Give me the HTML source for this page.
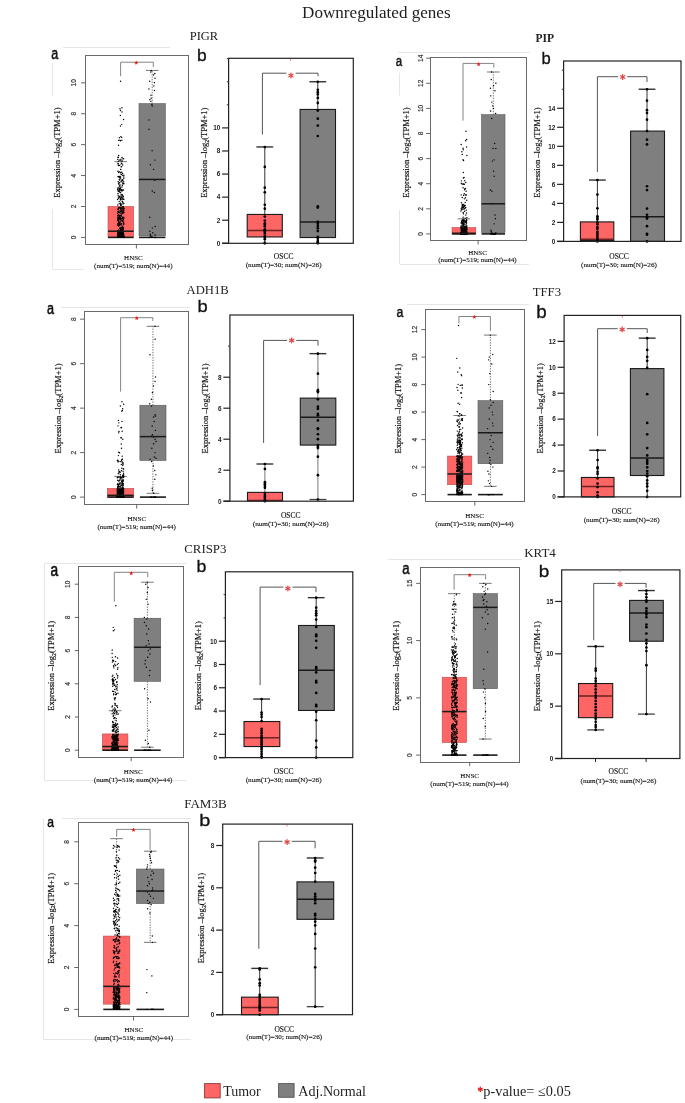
<!DOCTYPE html>
<html><head><meta charset="utf-8"><style>
html,body{margin:0;padding:0;background:#fff;}
svg{display:block;will-change:transform;}
</style></head><body>
<svg width="685" height="1103" viewBox="0 0 685 1103">
<rect width="685" height="1103" fill="#fff"/>
<line x1="63" y1="47.5" x2="170" y2="47.5" stroke="#e6e6e6" stroke-width="1" />
<line x1="52.5" y1="62.8" x2="52.5" y2="96" stroke="#e6e6e6" stroke-width="1" />
<line x1="52.5" y1="209.3" x2="52.5" y2="269.4" stroke="#e6e6e6" stroke-width="1" />
<line x1="52.6" y1="269.5" x2="83.8" y2="269.5" stroke="#e6e6e6" stroke-width="1" />
<line x1="120.8" y1="206.48" x2="120.8" y2="161.65" stroke="#333" stroke-width="0.7" stroke-dasharray="1.3 1.3"/>
<line x1="120.8" y1="237.4" x2="120.8" y2="237.4" stroke="#333" stroke-width="0.7" stroke-dasharray="1.3 1.3"/>
<line x1="114.5" y1="161.65" x2="127.1" y2="161.65" stroke="#666" stroke-width="0.9" />
<rect x="108" y="206.48" width="25.6" height="30.92" fill="#FE6565" stroke="#C04848" stroke-width="0.6"/>
<line x1="108" y1="237.4" x2="133.6" y2="237.4" stroke="#1a1a1a" stroke-width="1.6" />
<circle cx="119.67" cy="232.58" r="0.72" fill="#000"/>
<circle cx="118.57" cy="225.3" r="0.72" fill="#000"/>
<circle cx="121.77" cy="172.18" r="0.72" fill="#000"/>
<circle cx="118.06" cy="232.2" r="0.72" fill="#000"/>
<circle cx="121.03" cy="230.44" r="0.72" fill="#000"/>
<circle cx="119.94" cy="222.57" r="0.72" fill="#000"/>
<circle cx="117.97" cy="237.11" r="0.72" fill="#000"/>
<circle cx="120.85" cy="230.04" r="0.72" fill="#000"/>
<circle cx="117.84" cy="218.36" r="0.72" fill="#000"/>
<circle cx="120.38" cy="198.95" r="0.72" fill="#000"/>
<circle cx="118.05" cy="237.25" r="0.72" fill="#000"/>
<circle cx="118.18" cy="236.84" r="0.72" fill="#000"/>
<circle cx="120.32" cy="237.26" r="0.72" fill="#000"/>
<circle cx="122.89" cy="196.03" r="0.72" fill="#000"/>
<circle cx="118.39" cy="212.08" r="0.72" fill="#000"/>
<circle cx="119.03" cy="237.34" r="0.72" fill="#000"/>
<circle cx="121.62" cy="137.4" r="0.72" fill="#000"/>
<circle cx="123.67" cy="158.74" r="0.72" fill="#000"/>
<circle cx="121.29" cy="215.99" r="0.72" fill="#000"/>
<circle cx="120.14" cy="219.78" r="0.72" fill="#000"/>
<circle cx="123.85" cy="237.16" r="0.72" fill="#000"/>
<circle cx="117.9" cy="237.38" r="0.72" fill="#000"/>
<circle cx="123.09" cy="228.41" r="0.72" fill="#000"/>
<circle cx="119.45" cy="237.31" r="0.72" fill="#000"/>
<circle cx="118.52" cy="237.11" r="0.72" fill="#000"/>
<circle cx="118.35" cy="237.03" r="0.72" fill="#000"/>
<circle cx="119.57" cy="237.35" r="0.72" fill="#000"/>
<circle cx="122.82" cy="232.25" r="0.72" fill="#000"/>
<circle cx="118.76" cy="232.92" r="0.72" fill="#000"/>
<circle cx="121.32" cy="190.29" r="0.72" fill="#000"/>
<circle cx="121.69" cy="229.32" r="0.72" fill="#000"/>
<circle cx="119.98" cy="217.33" r="0.72" fill="#000"/>
<circle cx="121.11" cy="231.22" r="0.72" fill="#000"/>
<circle cx="118" cy="215.14" r="0.72" fill="#000"/>
<circle cx="117.98" cy="232.44" r="0.72" fill="#000"/>
<circle cx="118.92" cy="236.97" r="0.72" fill="#000"/>
<circle cx="121.95" cy="111.88" r="0.72" fill="#000"/>
<circle cx="120.34" cy="115.53" r="0.72" fill="#000"/>
<circle cx="119.61" cy="190.67" r="0.72" fill="#000"/>
<circle cx="121.35" cy="210.65" r="0.72" fill="#000"/>
<circle cx="120.5" cy="236.5" r="0.72" fill="#000"/>
<circle cx="119.52" cy="237.04" r="0.72" fill="#000"/>
<circle cx="122.68" cy="236.95" r="0.72" fill="#000"/>
<circle cx="122.07" cy="237.29" r="0.72" fill="#000"/>
<circle cx="119.16" cy="203.63" r="0.72" fill="#000"/>
<circle cx="121.28" cy="234.06" r="0.72" fill="#000"/>
<circle cx="120.96" cy="189.56" r="0.72" fill="#000"/>
<circle cx="123.2" cy="234.46" r="0.72" fill="#000"/>
<circle cx="122.27" cy="160.97" r="0.72" fill="#000"/>
<circle cx="119.44" cy="189.43" r="0.72" fill="#000"/>
<circle cx="123.87" cy="237.4" r="0.72" fill="#000"/>
<circle cx="118.36" cy="237.08" r="0.72" fill="#000"/>
<circle cx="120.28" cy="176.8" r="0.72" fill="#000"/>
<circle cx="122.45" cy="232.07" r="0.72" fill="#000"/>
<circle cx="118.57" cy="140.35" r="0.72" fill="#000"/>
<circle cx="120.73" cy="234.15" r="0.72" fill="#000"/>
<circle cx="117.85" cy="237.29" r="0.72" fill="#000"/>
<circle cx="121.88" cy="218.41" r="0.72" fill="#000"/>
<circle cx="122.49" cy="201.48" r="0.72" fill="#000"/>
<circle cx="121.27" cy="236.98" r="0.72" fill="#000"/>
<circle cx="123.2" cy="237.27" r="0.72" fill="#000"/>
<circle cx="119.61" cy="236" r="0.72" fill="#000"/>
<circle cx="122.05" cy="158.97" r="0.72" fill="#000"/>
<circle cx="121.4" cy="205.07" r="0.72" fill="#000"/>
<circle cx="121.31" cy="237.22" r="0.72" fill="#000"/>
<circle cx="120.52" cy="237.02" r="0.72" fill="#000"/>
<circle cx="122.98" cy="237.24" r="0.72" fill="#000"/>
<circle cx="123.65" cy="237.31" r="0.72" fill="#000"/>
<circle cx="120.63" cy="198.24" r="0.72" fill="#000"/>
<circle cx="121.85" cy="237.13" r="0.72" fill="#000"/>
<circle cx="117.99" cy="225.35" r="0.72" fill="#000"/>
<circle cx="122.09" cy="232.72" r="0.72" fill="#000"/>
<circle cx="121.74" cy="237.11" r="0.72" fill="#000"/>
<circle cx="123.96" cy="208.27" r="0.72" fill="#000"/>
<circle cx="122.86" cy="237.2" r="0.72" fill="#000"/>
<circle cx="119.42" cy="217" r="0.72" fill="#000"/>
<circle cx="120.07" cy="237.22" r="0.72" fill="#000"/>
<circle cx="121.88" cy="233.48" r="0.72" fill="#000"/>
<circle cx="117.74" cy="237.07" r="0.72" fill="#000"/>
<circle cx="120.55" cy="236.98" r="0.72" fill="#000"/>
<circle cx="118.68" cy="155.51" r="0.72" fill="#000"/>
<circle cx="118.35" cy="197.12" r="0.72" fill="#000"/>
<circle cx="117.98" cy="236.82" r="0.72" fill="#000"/>
<circle cx="122.52" cy="182.85" r="0.72" fill="#000"/>
<circle cx="118.43" cy="237.07" r="0.72" fill="#000"/>
<circle cx="119.18" cy="234.24" r="0.72" fill="#000"/>
<circle cx="120.1" cy="188.19" r="0.72" fill="#000"/>
<circle cx="123.18" cy="217.18" r="0.72" fill="#000"/>
<circle cx="118.12" cy="237.24" r="0.72" fill="#000"/>
<circle cx="120.47" cy="125.97" r="0.72" fill="#000"/>
<circle cx="121.12" cy="237.07" r="0.72" fill="#000"/>
<circle cx="123.25" cy="237" r="0.72" fill="#000"/>
<circle cx="122.84" cy="202.5" r="0.72" fill="#000"/>
<circle cx="123.13" cy="236.11" r="0.72" fill="#000"/>
<circle cx="119.38" cy="236.94" r="0.72" fill="#000"/>
<circle cx="120.26" cy="237.29" r="0.72" fill="#000"/>
<circle cx="119.9" cy="237.26" r="0.72" fill="#000"/>
<circle cx="123.26" cy="223.03" r="0.72" fill="#000"/>
<circle cx="123.73" cy="237.02" r="0.72" fill="#000"/>
<circle cx="118.57" cy="221.19" r="0.72" fill="#000"/>
<circle cx="118.73" cy="234.89" r="0.72" fill="#000"/>
<circle cx="119.08" cy="232.55" r="0.72" fill="#000"/>
<circle cx="119.09" cy="160.61" r="0.72" fill="#000"/>
<circle cx="120.7" cy="231.68" r="0.72" fill="#000"/>
<circle cx="121.37" cy="223.84" r="0.72" fill="#000"/>
<circle cx="119.28" cy="186.06" r="0.72" fill="#000"/>
<circle cx="117.63" cy="237.12" r="0.72" fill="#000"/>
<circle cx="120.28" cy="237.16" r="0.72" fill="#000"/>
<circle cx="119.96" cy="177.41" r="0.72" fill="#000"/>
<circle cx="121.22" cy="194.6" r="0.72" fill="#000"/>
<circle cx="123.7" cy="237.01" r="0.72" fill="#000"/>
<circle cx="122.02" cy="237.11" r="0.72" fill="#000"/>
<circle cx="120.9" cy="207.53" r="0.72" fill="#000"/>
<circle cx="121.55" cy="166.81" r="0.72" fill="#000"/>
<circle cx="121.93" cy="237.1" r="0.72" fill="#000"/>
<circle cx="117.95" cy="163.59" r="0.72" fill="#000"/>
<circle cx="123.36" cy="183.32" r="0.72" fill="#000"/>
<circle cx="122.59" cy="220.97" r="0.72" fill="#000"/>
<circle cx="123.2" cy="233.46" r="0.72" fill="#000"/>
<circle cx="122.71" cy="237.24" r="0.72" fill="#000"/>
<circle cx="120.11" cy="237.34" r="0.72" fill="#000"/>
<circle cx="120.15" cy="159.43" r="0.72" fill="#000"/>
<circle cx="118.26" cy="237.03" r="0.72" fill="#000"/>
<circle cx="121.66" cy="210.97" r="0.72" fill="#000"/>
<circle cx="118" cy="237" r="0.72" fill="#000"/>
<circle cx="118.03" cy="193.56" r="0.72" fill="#000"/>
<circle cx="118.94" cy="221.67" r="0.72" fill="#000"/>
<circle cx="118.64" cy="236.95" r="0.72" fill="#000"/>
<circle cx="119.78" cy="237.13" r="0.72" fill="#000"/>
<circle cx="117.94" cy="209.41" r="0.72" fill="#000"/>
<circle cx="117.6" cy="237.29" r="0.72" fill="#000"/>
<circle cx="118.57" cy="237.05" r="0.72" fill="#000"/>
<circle cx="118.25" cy="225.34" r="0.72" fill="#000"/>
<circle cx="119.93" cy="188.54" r="0.72" fill="#000"/>
<circle cx="117.76" cy="219.91" r="0.72" fill="#000"/>
<circle cx="123.2" cy="236.97" r="0.72" fill="#000"/>
<circle cx="121.53" cy="174.45" r="0.72" fill="#000"/>
<circle cx="118.55" cy="237.08" r="0.72" fill="#000"/>
<circle cx="119.21" cy="237.37" r="0.72" fill="#000"/>
<circle cx="119.82" cy="236.98" r="0.72" fill="#000"/>
<circle cx="119.93" cy="232.77" r="0.72" fill="#000"/>
<circle cx="118.39" cy="237.31" r="0.72" fill="#000"/>
<circle cx="123.03" cy="237.13" r="0.72" fill="#000"/>
<circle cx="123.96" cy="234.97" r="0.72" fill="#000"/>
<circle cx="120.58" cy="224.08" r="0.72" fill="#000"/>
<circle cx="120.7" cy="237.2" r="0.72" fill="#000"/>
<circle cx="118.15" cy="235.16" r="0.72" fill="#000"/>
<circle cx="118.25" cy="181.79" r="0.72" fill="#000"/>
<circle cx="119.79" cy="140.14" r="0.72" fill="#000"/>
<circle cx="119.29" cy="215.69" r="0.72" fill="#000"/>
<circle cx="122.9" cy="212.3" r="0.72" fill="#000"/>
<circle cx="118.63" cy="222.86" r="0.72" fill="#000"/>
<circle cx="117.75" cy="237.18" r="0.72" fill="#000"/>
<circle cx="123.69" cy="237.35" r="0.72" fill="#000"/>
<circle cx="120.98" cy="237.37" r="0.72" fill="#000"/>
<circle cx="118.54" cy="176.81" r="0.72" fill="#000"/>
<circle cx="121.08" cy="211.33" r="0.72" fill="#000"/>
<circle cx="117.77" cy="159.4" r="0.72" fill="#000"/>
<circle cx="120.98" cy="237.37" r="0.72" fill="#000"/>
<circle cx="123.86" cy="217.74" r="0.72" fill="#000"/>
<circle cx="123.13" cy="231.72" r="0.72" fill="#000"/>
<circle cx="122.06" cy="208.41" r="0.72" fill="#000"/>
<circle cx="119.27" cy="236.4" r="0.72" fill="#000"/>
<circle cx="119.95" cy="108.73" r="0.72" fill="#000"/>
<circle cx="118.67" cy="237.28" r="0.72" fill="#000"/>
<circle cx="122.54" cy="226.66" r="0.72" fill="#000"/>
<circle cx="121.01" cy="207.77" r="0.72" fill="#000"/>
<circle cx="122.59" cy="180.13" r="0.72" fill="#000"/>
<circle cx="119.71" cy="207.76" r="0.72" fill="#000"/>
<circle cx="119.03" cy="211.06" r="0.72" fill="#000"/>
<circle cx="122.79" cy="198.9" r="0.72" fill="#000"/>
<circle cx="123.9" cy="175.23" r="0.72" fill="#000"/>
<circle cx="123.06" cy="235.45" r="0.72" fill="#000"/>
<circle cx="122.76" cy="212.9" r="0.72" fill="#000"/>
<circle cx="122.84" cy="179.92" r="0.72" fill="#000"/>
<circle cx="122.34" cy="185.26" r="0.72" fill="#000"/>
<circle cx="119.05" cy="233.59" r="0.72" fill="#000"/>
<circle cx="120.91" cy="199.38" r="0.72" fill="#000"/>
<circle cx="119.88" cy="186.6" r="0.72" fill="#000"/>
<circle cx="117.79" cy="224.01" r="0.72" fill="#000"/>
<circle cx="117.78" cy="218.85" r="0.72" fill="#000"/>
<circle cx="119.39" cy="234.58" r="0.72" fill="#000"/>
<circle cx="119.26" cy="223.04" r="0.72" fill="#000"/>
<circle cx="122.03" cy="220.44" r="0.72" fill="#000"/>
<circle cx="123.72" cy="237.28" r="0.72" fill="#000"/>
<circle cx="120.46" cy="217.42" r="0.72" fill="#000"/>
<circle cx="123.6" cy="119.51" r="0.72" fill="#000"/>
<circle cx="123.92" cy="183.74" r="0.72" fill="#000"/>
<circle cx="123.71" cy="208.64" r="0.72" fill="#000"/>
<circle cx="119.93" cy="234.41" r="0.72" fill="#000"/>
<circle cx="119.01" cy="207.96" r="0.72" fill="#000"/>
<circle cx="119.05" cy="223.21" r="0.72" fill="#000"/>
<circle cx="118.86" cy="232.92" r="0.72" fill="#000"/>
<circle cx="118.91" cy="191" r="0.72" fill="#000"/>
<circle cx="121.59" cy="237.27" r="0.72" fill="#000"/>
<circle cx="123.36" cy="206.44" r="0.72" fill="#000"/>
<circle cx="122.98" cy="237.35" r="0.72" fill="#000"/>
<circle cx="120.67" cy="221.19" r="0.72" fill="#000"/>
<circle cx="121.78" cy="231.76" r="0.72" fill="#000"/>
<circle cx="122.72" cy="237.04" r="0.72" fill="#000"/>
<circle cx="118.14" cy="211.59" r="0.72" fill="#000"/>
<circle cx="121.83" cy="231.29" r="0.72" fill="#000"/>
<circle cx="123.42" cy="219.89" r="0.72" fill="#000"/>
<circle cx="122.61" cy="173.42" r="0.72" fill="#000"/>
<circle cx="122.4" cy="237" r="0.72" fill="#000"/>
<circle cx="120.66" cy="237.38" r="0.72" fill="#000"/>
<circle cx="118.74" cy="236.91" r="0.72" fill="#000"/>
<circle cx="122.65" cy="213.59" r="0.72" fill="#000"/>
<circle cx="119.73" cy="237.09" r="0.72" fill="#000"/>
<circle cx="122.73" cy="237.14" r="0.72" fill="#000"/>
<circle cx="123.82" cy="178.3" r="0.72" fill="#000"/>
<circle cx="120.13" cy="215.39" r="0.72" fill="#000"/>
<circle cx="120.17" cy="232.88" r="0.72" fill="#000"/>
<circle cx="123.66" cy="181.65" r="0.72" fill="#000"/>
<circle cx="122.24" cy="236.17" r="0.72" fill="#000"/>
<circle cx="118.69" cy="214.8" r="0.72" fill="#000"/>
<circle cx="118.41" cy="237.09" r="0.72" fill="#000"/>
<circle cx="118.57" cy="233.19" r="0.72" fill="#000"/>
<circle cx="123.39" cy="196.67" r="0.72" fill="#000"/>
<circle cx="122.76" cy="175.49" r="0.72" fill="#000"/>
<circle cx="118.54" cy="183.66" r="0.72" fill="#000"/>
<circle cx="122.89" cy="234.52" r="0.72" fill="#000"/>
<circle cx="123.87" cy="222.99" r="0.72" fill="#000"/>
<circle cx="121.81" cy="236.46" r="0.72" fill="#000"/>
<circle cx="119.84" cy="237.19" r="0.72" fill="#000"/>
<circle cx="121.11" cy="231.32" r="0.72" fill="#000"/>
<circle cx="118.44" cy="191.22" r="0.72" fill="#000"/>
<circle cx="117.69" cy="189.18" r="0.72" fill="#000"/>
<circle cx="123.81" cy="210.32" r="0.72" fill="#000"/>
<circle cx="121.76" cy="163.63" r="0.72" fill="#000"/>
<circle cx="120.97" cy="236.97" r="0.72" fill="#000"/>
<circle cx="123.58" cy="237.14" r="0.72" fill="#000"/>
<circle cx="120.38" cy="232.63" r="0.72" fill="#000"/>
<circle cx="123.18" cy="236.97" r="0.72" fill="#000"/>
<circle cx="122.89" cy="237.07" r="0.72" fill="#000"/>
<circle cx="118.95" cy="233.68" r="0.72" fill="#000"/>
<circle cx="119.21" cy="218.78" r="0.72" fill="#000"/>
<circle cx="119.47" cy="231.39" r="0.72" fill="#000"/>
<circle cx="119.14" cy="236.5" r="0.72" fill="#000"/>
<circle cx="121.35" cy="190.87" r="0.72" fill="#000"/>
<circle cx="119.26" cy="137.66" r="0.72" fill="#000"/>
<circle cx="120.28" cy="232.58" r="0.72" fill="#000"/>
<circle cx="118.44" cy="237.28" r="0.72" fill="#000"/>
<circle cx="123.42" cy="237.35" r="0.72" fill="#000"/>
<circle cx="119.86" cy="184.96" r="0.72" fill="#000"/>
<circle cx="120.53" cy="237.34" r="0.72" fill="#000"/>
<circle cx="121.33" cy="210.57" r="0.72" fill="#000"/>
<circle cx="123.39" cy="224.23" r="0.72" fill="#000"/>
<circle cx="120.29" cy="236.68" r="0.72" fill="#000"/>
<circle cx="123.47" cy="199.21" r="0.72" fill="#000"/>
<circle cx="120.81" cy="237.37" r="0.72" fill="#000"/>
<circle cx="121" cy="237.19" r="0.72" fill="#000"/>
<circle cx="120.95" cy="232.51" r="0.72" fill="#000"/>
<circle cx="117.72" cy="237.36" r="0.72" fill="#000"/>
<circle cx="120.42" cy="192.52" r="0.72" fill="#000"/>
<circle cx="118.77" cy="237.03" r="0.72" fill="#000"/>
<circle cx="117.63" cy="237.18" r="0.72" fill="#000"/>
<circle cx="122.71" cy="237.33" r="0.72" fill="#000"/>
<circle cx="118.7" cy="218.43" r="0.72" fill="#000"/>
<circle cx="120.63" cy="232.75" r="0.72" fill="#000"/>
<circle cx="122.24" cy="218.36" r="0.72" fill="#000"/>
<circle cx="121.16" cy="215.88" r="0.72" fill="#000"/>
<circle cx="119.69" cy="196.43" r="0.72" fill="#000"/>
<circle cx="120.92" cy="160.83" r="0.72" fill="#000"/>
<circle cx="121.15" cy="212.96" r="0.72" fill="#000"/>
<circle cx="122.62" cy="237.09" r="0.72" fill="#000"/>
<circle cx="118.28" cy="231.93" r="0.72" fill="#000"/>
<circle cx="121.19" cy="237.12" r="0.72" fill="#000"/>
<circle cx="119.19" cy="237.38" r="0.72" fill="#000"/>
<circle cx="119.37" cy="232.01" r="0.72" fill="#000"/>
<circle cx="122.54" cy="210.03" r="0.72" fill="#000"/>
<circle cx="120.85" cy="237.12" r="0.72" fill="#000"/>
<circle cx="121.2" cy="236.98" r="0.72" fill="#000"/>
<circle cx="122.46" cy="235.63" r="0.72" fill="#000"/>
<circle cx="123.44" cy="211.69" r="0.72" fill="#000"/>
<circle cx="120.44" cy="229.2" r="0.72" fill="#000"/>
<circle cx="121.52" cy="219.89" r="0.72" fill="#000"/>
<circle cx="120.84" cy="205.39" r="0.72" fill="#000"/>
<circle cx="120.88" cy="234.26" r="0.72" fill="#000"/>
<circle cx="122.03" cy="199.13" r="0.72" fill="#000"/>
<circle cx="120.5" cy="178.13" r="0.72" fill="#000"/>
<circle cx="121.01" cy="237.27" r="0.72" fill="#000"/>
<circle cx="120.66" cy="169.4" r="0.72" fill="#000"/>
<circle cx="123.63" cy="209.21" r="0.72" fill="#000"/>
<circle cx="122.07" cy="237.2" r="0.72" fill="#000"/>
<circle cx="123.21" cy="232.54" r="0.72" fill="#000"/>
<circle cx="123.63" cy="218.79" r="0.72" fill="#000"/>
<circle cx="119.26" cy="176.9" r="0.72" fill="#000"/>
<circle cx="121.18" cy="234.74" r="0.72" fill="#000"/>
<circle cx="123.64" cy="224.41" r="0.72" fill="#000"/>
<circle cx="122.98" cy="183.82" r="0.72" fill="#000"/>
<circle cx="118.48" cy="198.29" r="0.72" fill="#000"/>
<circle cx="118.38" cy="165.54" r="0.72" fill="#000"/>
<circle cx="120.43" cy="232.25" r="0.72" fill="#000"/>
<circle cx="118.06" cy="216.24" r="0.72" fill="#000"/>
<circle cx="119.14" cy="237.08" r="0.72" fill="#000"/>
<circle cx="118.07" cy="209.26" r="0.72" fill="#000"/>
<circle cx="121.88" cy="194.5" r="0.72" fill="#000"/>
<circle cx="122.62" cy="217.2" r="0.72" fill="#000"/>
<circle cx="123.34" cy="209.68" r="0.72" fill="#000"/>
<circle cx="118.59" cy="237.07" r="0.72" fill="#000"/>
<circle cx="122.18" cy="180.2" r="0.72" fill="#000"/>
<circle cx="121.83" cy="140.14" r="0.72" fill="#000"/>
<circle cx="118.52" cy="145.18" r="0.72" fill="#000"/>
<circle cx="123.25" cy="227.56" r="0.72" fill="#000"/>
<circle cx="123.79" cy="199.33" r="0.72" fill="#000"/>
<circle cx="119.01" cy="236.35" r="0.72" fill="#000"/>
<circle cx="123.7" cy="176.89" r="0.72" fill="#000"/>
<circle cx="120.15" cy="187.95" r="0.72" fill="#000"/>
<circle cx="120.72" cy="235.55" r="0.72" fill="#000"/>
<circle cx="123.94" cy="237.27" r="0.72" fill="#000"/>
<circle cx="122.93" cy="232.91" r="0.72" fill="#000"/>
<circle cx="118.63" cy="226.24" r="0.72" fill="#000"/>
<circle cx="120.36" cy="203.29" r="0.72" fill="#000"/>
<circle cx="120.9" cy="231.58" r="0.72" fill="#000"/>
<circle cx="119.77" cy="237.36" r="0.72" fill="#000"/>
<circle cx="118.85" cy="196.12" r="0.72" fill="#000"/>
<circle cx="119.64" cy="237.3" r="0.72" fill="#000"/>
<circle cx="122.22" cy="197.74" r="0.72" fill="#000"/>
<circle cx="117.72" cy="237.13" r="0.72" fill="#000"/>
<circle cx="121.15" cy="235.94" r="0.72" fill="#000"/>
<circle cx="120.42" cy="199.84" r="0.72" fill="#000"/>
<circle cx="117.72" cy="237.18" r="0.72" fill="#000"/>
<circle cx="119.72" cy="237.17" r="0.72" fill="#000"/>
<circle cx="121.59" cy="229.58" r="0.72" fill="#000"/>
<circle cx="120.88" cy="209.1" r="0.72" fill="#000"/>
<circle cx="118.01" cy="190.71" r="0.72" fill="#000"/>
<circle cx="123.9" cy="212.48" r="0.72" fill="#000"/>
<circle cx="122.65" cy="165.04" r="0.72" fill="#000"/>
<circle cx="123.82" cy="231.43" r="0.72" fill="#000"/>
<circle cx="118.27" cy="163.91" r="0.72" fill="#000"/>
<circle cx="119.3" cy="237.27" r="0.72" fill="#000"/>
<circle cx="117.85" cy="237.06" r="0.72" fill="#000"/>
<circle cx="122.59" cy="228.58" r="0.72" fill="#000"/>
<circle cx="119.33" cy="236.95" r="0.72" fill="#000"/>
<circle cx="118.43" cy="208.57" r="0.72" fill="#000"/>
<circle cx="120.3" cy="217.48" r="0.72" fill="#000"/>
<circle cx="123.43" cy="228.96" r="0.72" fill="#000"/>
<circle cx="122.84" cy="190.08" r="0.72" fill="#000"/>
<circle cx="119.26" cy="225.28" r="0.72" fill="#000"/>
<circle cx="118.56" cy="236.6" r="0.72" fill="#000"/>
<circle cx="123.48" cy="234.61" r="0.72" fill="#000"/>
<circle cx="121.25" cy="189.79" r="0.72" fill="#000"/>
<circle cx="122.08" cy="180.02" r="0.72" fill="#000"/>
<circle cx="118.17" cy="237.08" r="0.72" fill="#000"/>
<circle cx="117.97" cy="188.82" r="0.72" fill="#000"/>
<circle cx="122" cy="157.52" r="0.72" fill="#000"/>
<circle cx="120.32" cy="228.82" r="0.72" fill="#000"/>
<circle cx="118.06" cy="223.99" r="0.72" fill="#000"/>
<circle cx="123.61" cy="237.09" r="0.72" fill="#000"/>
<circle cx="121.66" cy="227.66" r="0.72" fill="#000"/>
<circle cx="122.73" cy="230.9" r="0.72" fill="#000"/>
<circle cx="118.14" cy="220.8" r="0.72" fill="#000"/>
<circle cx="123.08" cy="237.36" r="0.72" fill="#000"/>
<circle cx="118.03" cy="157.21" r="0.72" fill="#000"/>
<circle cx="123.12" cy="229.63" r="0.72" fill="#000"/>
<circle cx="120.5" cy="234.06" r="0.72" fill="#000"/>
<circle cx="119.77" cy="197.53" r="0.72" fill="#000"/>
<circle cx="121.14" cy="225" r="0.72" fill="#000"/>
<circle cx="123.53" cy="231.47" r="0.72" fill="#000"/>
<circle cx="119.31" cy="212.32" r="0.72" fill="#000"/>
<circle cx="118.43" cy="237.3" r="0.72" fill="#000"/>
<circle cx="120.97" cy="227.39" r="0.72" fill="#000"/>
<circle cx="119.13" cy="233.68" r="0.72" fill="#000"/>
<circle cx="118.3" cy="161.36" r="0.72" fill="#000"/>
<circle cx="118.63" cy="172.44" r="0.72" fill="#000"/>
<circle cx="117.92" cy="236.98" r="0.72" fill="#000"/>
<circle cx="118.89" cy="231.98" r="0.72" fill="#000"/>
<circle cx="119.6" cy="237.2" r="0.72" fill="#000"/>
<circle cx="119.55" cy="233.11" r="0.72" fill="#000"/>
<circle cx="122.46" cy="194.97" r="0.72" fill="#000"/>
<circle cx="119.46" cy="180.01" r="0.72" fill="#000"/>
<circle cx="120.8" cy="231.89" r="0.72" fill="#000"/>
<circle cx="118.74" cy="236.44" r="0.72" fill="#000"/>
<circle cx="119.82" cy="237.1" r="0.72" fill="#000"/>
<circle cx="117.72" cy="219.55" r="0.72" fill="#000"/>
<circle cx="119.2" cy="171.83" r="0.72" fill="#000"/>
<circle cx="117.7" cy="237.2" r="0.72" fill="#000"/>
<circle cx="122.29" cy="201.35" r="0.72" fill="#000"/>
<circle cx="121.13" cy="237.36" r="0.72" fill="#000"/>
<circle cx="118.81" cy="237.1" r="0.72" fill="#000"/>
<circle cx="120.64" cy="237.05" r="0.72" fill="#000"/>
<circle cx="123.58" cy="212.71" r="0.72" fill="#000"/>
<circle cx="118.28" cy="236.3" r="0.72" fill="#000"/>
<circle cx="122.84" cy="235.35" r="0.72" fill="#000"/>
<circle cx="120.37" cy="219.37" r="0.72" fill="#000"/>
<circle cx="120.77" cy="237.24" r="0.72" fill="#000"/>
<circle cx="122.94" cy="208.37" r="0.72" fill="#000"/>
<circle cx="120.12" cy="237.21" r="0.72" fill="#000"/>
<circle cx="120.84" cy="230.18" r="0.72" fill="#000"/>
<circle cx="122" cy="237.01" r="0.72" fill="#000"/>
<circle cx="123.89" cy="237.09" r="0.72" fill="#000"/>
<circle cx="119.79" cy="228.21" r="0.72" fill="#000"/>
<circle cx="122.93" cy="233.02" r="0.72" fill="#000"/>
<circle cx="122.12" cy="234.77" r="0.72" fill="#000"/>
<circle cx="121.67" cy="233.69" r="0.72" fill="#000"/>
<circle cx="120.19" cy="228.31" r="0.72" fill="#000"/>
<circle cx="119.82" cy="237.15" r="0.72" fill="#000"/>
<circle cx="117.95" cy="237.08" r="0.72" fill="#000"/>
<circle cx="118.43" cy="218.22" r="0.72" fill="#000"/>
<circle cx="118.05" cy="217.52" r="0.72" fill="#000"/>
<circle cx="122.34" cy="228.29" r="0.72" fill="#000"/>
<circle cx="119.24" cy="188.74" r="0.72" fill="#000"/>
<circle cx="118.64" cy="220.16" r="0.72" fill="#000"/>
<circle cx="118.14" cy="187.77" r="0.72" fill="#000"/>
<circle cx="122.98" cy="237.04" r="0.72" fill="#000"/>
<circle cx="123.17" cy="207.39" r="0.72" fill="#000"/>
<circle cx="121.89" cy="195.88" r="0.72" fill="#000"/>
<circle cx="119.4" cy="179.31" r="0.72" fill="#000"/>
<circle cx="119.15" cy="236.48" r="0.72" fill="#000"/>
<circle cx="119.48" cy="236.51" r="0.72" fill="#000"/>
<circle cx="120.54" cy="172.66" r="0.72" fill="#000"/>
<circle cx="118.61" cy="237.06" r="0.72" fill="#000"/>
<circle cx="120.45" cy="110.59" r="0.72" fill="#000"/>
<circle cx="119.28" cy="182.38" r="0.72" fill="#000"/>
<circle cx="123.76" cy="237.19" r="0.72" fill="#000"/>
<circle cx="123.82" cy="237.03" r="0.72" fill="#000"/>
<circle cx="121.1" cy="208.8" r="0.72" fill="#000"/>
<circle cx="119.16" cy="237" r="0.72" fill="#000"/>
<circle cx="123.78" cy="237.25" r="0.72" fill="#000"/>
<circle cx="119.58" cy="192.08" r="0.72" fill="#000"/>
<circle cx="119.88" cy="233.46" r="0.72" fill="#000"/>
<circle cx="117.61" cy="199.48" r="0.72" fill="#000"/>
<circle cx="120.04" cy="237.21" r="0.72" fill="#000"/>
<circle cx="120.64" cy="234" r="0.72" fill="#000"/>
<circle cx="120.82" cy="212.89" r="0.72" fill="#000"/>
<circle cx="118.89" cy="237.37" r="0.72" fill="#000"/>
<circle cx="120.83" cy="237.09" r="0.72" fill="#000"/>
<circle cx="117.63" cy="213.17" r="0.72" fill="#000"/>
<circle cx="119.29" cy="176.43" r="0.72" fill="#000"/>
<circle cx="118.17" cy="157.55" r="0.72" fill="#000"/>
<circle cx="120.16" cy="237.22" r="0.72" fill="#000"/>
<circle cx="117.87" cy="230.65" r="0.72" fill="#000"/>
<circle cx="117.74" cy="205.05" r="0.72" fill="#000"/>
<circle cx="119.55" cy="230.94" r="0.72" fill="#000"/>
<circle cx="119.09" cy="212.84" r="0.72" fill="#000"/>
<circle cx="121.35" cy="237.11" r="0.72" fill="#000"/>
<circle cx="120.99" cy="237.29" r="0.72" fill="#000"/>
<circle cx="122.4" cy="237.24" r="0.72" fill="#000"/>
<circle cx="121.81" cy="237.34" r="0.72" fill="#000"/>
<circle cx="122.18" cy="226.1" r="0.72" fill="#000"/>
<circle cx="123.23" cy="229.75" r="0.72" fill="#000"/>
<circle cx="120.09" cy="224.41" r="0.72" fill="#000"/>
<circle cx="119.69" cy="237.17" r="0.72" fill="#000"/>
<circle cx="123.9" cy="237.11" r="0.72" fill="#000"/>
<circle cx="118.56" cy="237.08" r="0.72" fill="#000"/>
<circle cx="122.23" cy="190.67" r="0.72" fill="#000"/>
<circle cx="121.72" cy="124.37" r="0.72" fill="#000"/>
<circle cx="117.88" cy="171.29" r="0.72" fill="#000"/>
<circle cx="122.95" cy="237.25" r="0.72" fill="#000"/>
<circle cx="123.31" cy="237.3" r="0.72" fill="#000"/>
<circle cx="121.61" cy="163.14" r="0.72" fill="#000"/>
<circle cx="122.3" cy="232.3" r="0.72" fill="#000"/>
<circle cx="122.8" cy="203.9" r="0.72" fill="#000"/>
<circle cx="118.49" cy="236.17" r="0.72" fill="#000"/>
<circle cx="120.95" cy="232.16" r="0.72" fill="#000"/>
<circle cx="120.83" cy="229.7" r="0.72" fill="#000"/>
<circle cx="122.94" cy="233.22" r="0.72" fill="#000"/>
<circle cx="122.75" cy="221.23" r="0.72" fill="#000"/>
<circle cx="122.89" cy="237.38" r="0.72" fill="#000"/>
<circle cx="121.34" cy="211.33" r="0.72" fill="#000"/>
<circle cx="123.31" cy="189.96" r="0.72" fill="#000"/>
<circle cx="121.97" cy="237.12" r="0.72" fill="#000"/>
<circle cx="122.04" cy="232.53" r="0.72" fill="#000"/>
<circle cx="119.07" cy="207.54" r="0.72" fill="#000"/>
<circle cx="117.8" cy="233.92" r="0.72" fill="#000"/>
<circle cx="118.45" cy="237.1" r="0.72" fill="#000"/>
<circle cx="119.91" cy="237.14" r="0.72" fill="#000"/>
<circle cx="118.27" cy="229.97" r="0.72" fill="#000"/>
<circle cx="122.95" cy="237.38" r="0.72" fill="#000"/>
<circle cx="121.17" cy="181.39" r="0.72" fill="#000"/>
<circle cx="121.62" cy="197.42" r="0.72" fill="#000"/>
<circle cx="121.61" cy="210.96" r="0.72" fill="#000"/>
<circle cx="121.96" cy="187.08" r="0.72" fill="#000"/>
<circle cx="120.73" cy="218.41" r="0.72" fill="#000"/>
<circle cx="117.62" cy="233.95" r="0.72" fill="#000"/>
<circle cx="122.71" cy="221.36" r="0.72" fill="#000"/>
<circle cx="122.39" cy="230.79" r="0.72" fill="#000"/>
<circle cx="120.82" cy="136.62" r="0.72" fill="#000"/>
<circle cx="121.03" cy="196.87" r="0.72" fill="#000"/>
<circle cx="121.82" cy="237" r="0.72" fill="#000"/>
<circle cx="118.02" cy="176.45" r="0.72" fill="#000"/>
<circle cx="122.32" cy="207.03" r="0.72" fill="#000"/>
<circle cx="119.21" cy="201.58" r="0.72" fill="#000"/>
<circle cx="118.08" cy="195.15" r="0.72" fill="#000"/>
<circle cx="119.3" cy="233.91" r="0.72" fill="#000"/>
<circle cx="122.27" cy="180.8" r="0.72" fill="#000"/>
<circle cx="118.91" cy="183.73" r="0.72" fill="#000"/>
<circle cx="122.33" cy="211.94" r="0.72" fill="#000"/>
<circle cx="123.84" cy="203.45" r="0.72" fill="#000"/>
<circle cx="120.76" cy="203.81" r="0.72" fill="#000"/>
<circle cx="120.05" cy="233.91" r="0.72" fill="#000"/>
<circle cx="120.67" cy="209.19" r="0.72" fill="#000"/>
<circle cx="121.98" cy="237.29" r="0.72" fill="#000"/>
<circle cx="122.51" cy="235.74" r="0.72" fill="#000"/>
<circle cx="121.55" cy="232.11" r="0.72" fill="#000"/>
<circle cx="121.71" cy="237.38" r="0.72" fill="#000"/>
<circle cx="118.1" cy="235.34" r="0.72" fill="#000"/>
<circle cx="118.54" cy="217.49" r="0.72" fill="#000"/>
<circle cx="119.23" cy="218.94" r="0.72" fill="#000"/>
<circle cx="122.36" cy="237.04" r="0.72" fill="#000"/>
<circle cx="119.55" cy="165.4" r="0.72" fill="#000"/>
<circle cx="121.23" cy="214.78" r="0.72" fill="#000"/>
<circle cx="117.68" cy="235.85" r="0.72" fill="#000"/>
<circle cx="117.99" cy="215.41" r="0.72" fill="#000"/>
<circle cx="119.32" cy="224.33" r="0.72" fill="#000"/>
<circle cx="121.9" cy="227.94" r="0.72" fill="#000"/>
<circle cx="122.03" cy="234.37" r="0.72" fill="#000"/>
<circle cx="121.92" cy="107.75" r="0.72" fill="#000"/>
<circle cx="119.46" cy="217.14" r="0.72" fill="#000"/>
<circle cx="120.91" cy="211.3" r="0.72" fill="#000"/>
<circle cx="120.57" cy="204.42" r="0.72" fill="#000"/>
<circle cx="120.58" cy="140.79" r="0.72" fill="#000"/>
<circle cx="118.36" cy="237.36" r="0.72" fill="#000"/>
<circle cx="123.32" cy="219.8" r="0.72" fill="#000"/>
<circle cx="118.88" cy="207.59" r="0.72" fill="#000"/>
<circle cx="123.86" cy="237" r="0.72" fill="#000"/>
<circle cx="123.59" cy="234.03" r="0.72" fill="#000"/>
<circle cx="117.71" cy="237.32" r="0.72" fill="#000"/>
<circle cx="120.54" cy="81.25" r="0.72" fill="#000"/>
<line x1="108" y1="231.22" x2="133.6" y2="231.22" stroke="#1a1a1a" stroke-width="1.5" />
<line x1="152.2" y1="103.67" x2="152.2" y2="70.43" stroke="#333" stroke-width="0.7" stroke-dasharray="1.3 1.3"/>
<line x1="152.2" y1="235.85" x2="152.2" y2="237.4" stroke="#333" stroke-width="0.7" stroke-dasharray="1.3 1.3"/>
<line x1="145.9" y1="70.43" x2="158.5" y2="70.43" stroke="#666" stroke-width="0.9" />
<rect x="139" y="103.67" width="26.4" height="132.18" fill="#7F7F7F" stroke="#585858" stroke-width="0.6"/>
<line x1="139" y1="237.4" x2="165.4" y2="237.4" stroke="#1a1a1a" stroke-width="1.6" />
<circle cx="154.31" cy="237.4" r="0.72" fill="#000"/>
<circle cx="155.29" cy="237.4" r="0.72" fill="#000"/>
<circle cx="151.87" cy="236.63" r="0.72" fill="#000"/>
<circle cx="150.67" cy="235.85" r="0.72" fill="#000"/>
<circle cx="150.28" cy="235.85" r="0.72" fill="#000"/>
<circle cx="155.14" cy="235.08" r="0.72" fill="#000"/>
<circle cx="150.29" cy="234.31" r="0.72" fill="#000"/>
<circle cx="152.74" cy="232.76" r="0.72" fill="#000"/>
<circle cx="149.84" cy="231.22" r="0.72" fill="#000"/>
<circle cx="152.36" cy="228.12" r="0.72" fill="#000"/>
<circle cx="155.19" cy="226.58" r="0.72" fill="#000"/>
<circle cx="149.78" cy="217.3" r="0.72" fill="#000"/>
<circle cx="154.31" cy="192.57" r="0.72" fill="#000"/>
<circle cx="152.26" cy="191.02" r="0.72" fill="#000"/>
<circle cx="154.75" cy="180.2" r="0.72" fill="#000"/>
<circle cx="153.54" cy="169.38" r="0.72" fill="#000"/>
<circle cx="150.43" cy="164.74" r="0.72" fill="#000"/>
<circle cx="154.82" cy="160.1" r="0.72" fill="#000"/>
<circle cx="152.11" cy="150.82" r="0.72" fill="#000"/>
<circle cx="149.06" cy="129.18" r="0.72" fill="#000"/>
<circle cx="148.92" cy="119.9" r="0.72" fill="#000"/>
<circle cx="152.15" cy="105.99" r="0.72" fill="#000"/>
<circle cx="151.88" cy="104.44" r="0.72" fill="#000"/>
<circle cx="150.89" cy="101.35" r="0.72" fill="#000"/>
<circle cx="149.83" cy="99.81" r="0.72" fill="#000"/>
<circle cx="151.17" cy="98.26" r="0.72" fill="#000"/>
<circle cx="150.99" cy="95.17" r="0.72" fill="#000"/>
<circle cx="154.45" cy="90.53" r="0.72" fill="#000"/>
<circle cx="148.91" cy="88.98" r="0.72" fill="#000"/>
<circle cx="153.85" cy="85.89" r="0.72" fill="#000"/>
<circle cx="154.44" cy="82.8" r="0.72" fill="#000"/>
<circle cx="149.69" cy="81.25" r="0.72" fill="#000"/>
<circle cx="155.01" cy="78.16" r="0.72" fill="#000"/>
<circle cx="153.61" cy="75.07" r="0.72" fill="#000"/>
<circle cx="154.85" cy="73.52" r="0.72" fill="#000"/>
<circle cx="150.81" cy="71.98" r="0.72" fill="#000"/>
<circle cx="151.36" cy="70.43" r="0.72" fill="#000"/>
<circle cx="151.49" cy="237.4" r="0.72" fill="#000"/>
<circle cx="155.49" cy="237.4" r="0.72" fill="#000"/>
<circle cx="152.79" cy="237.4" r="0.72" fill="#000"/>
<circle cx="151.28" cy="237.4" r="0.72" fill="#000"/>
<circle cx="151.73" cy="237.4" r="0.72" fill="#000"/>
<circle cx="150.72" cy="237.4" r="0.72" fill="#000"/>
<circle cx="149.22" cy="237.4" r="0.72" fill="#000"/>
<line x1="139" y1="179.43" x2="165.4" y2="179.43" stroke="#1a1a1a" stroke-width="1.5" />
<rect x="85.5" y="55.5" width="103" height="189" fill="none" stroke="#6a6a6a" stroke-width="1"/>
<line x1="81" y1="237.4" x2="85" y2="237.4" stroke="#555" stroke-width="0.9" />
<text x="74" y="237.4" font-family='"Liberation Sans", sans-serif' font-size="6.6" text-anchor="middle" fill="#333" font-weight="normal" transform="rotate(-90 74 237.4)" dominant-baseline="central" stroke="#333" stroke-width="0.2">0</text>
<line x1="81" y1="206.48" x2="85" y2="206.48" stroke="#555" stroke-width="0.9" />
<text x="74" y="206.48" font-family='"Liberation Sans", sans-serif' font-size="6.6" text-anchor="middle" fill="#333" font-weight="normal" transform="rotate(-90 74 206.48)" dominant-baseline="central" stroke="#333" stroke-width="0.2">2</text>
<line x1="81" y1="175.56" x2="85" y2="175.56" stroke="#555" stroke-width="0.9" />
<text x="74" y="175.56" font-family='"Liberation Sans", sans-serif' font-size="6.6" text-anchor="middle" fill="#333" font-weight="normal" transform="rotate(-90 74 175.56)" dominant-baseline="central" stroke="#333" stroke-width="0.2">4</text>
<line x1="81" y1="144.64" x2="85" y2="144.64" stroke="#555" stroke-width="0.9" />
<text x="74" y="144.64" font-family='"Liberation Sans", sans-serif' font-size="6.6" text-anchor="middle" fill="#333" font-weight="normal" transform="rotate(-90 74 144.64)" dominant-baseline="central" stroke="#333" stroke-width="0.2">6</text>
<line x1="81" y1="113.72" x2="85" y2="113.72" stroke="#555" stroke-width="0.9" />
<text x="74" y="113.72" font-family='"Liberation Sans", sans-serif' font-size="6.6" text-anchor="middle" fill="#333" font-weight="normal" transform="rotate(-90 74 113.72)" dominant-baseline="central" stroke="#333" stroke-width="0.2">8</text>
<line x1="81" y1="82.8" x2="85" y2="82.8" stroke="#555" stroke-width="0.9" />
<text x="74" y="82.8" font-family='"Liberation Sans", sans-serif' font-size="6.6" text-anchor="middle" fill="#333" font-weight="normal" transform="rotate(-90 74 82.8)" dominant-baseline="central" stroke="#333" stroke-width="0.2">10</text>
<line x1="136.4" y1="244.5" x2="136.4" y2="248.5" stroke="#555" stroke-width="0.9" />
<polyline points="120.6,76.2 120.6,62.2 153.3,62.2 153.3,66.9" fill="none" stroke="#777" stroke-width="0.9"/>
<polygon points="136.3,60.5 136.91,61.96 138.49,62.09 137.28,63.12 137.65,64.66 136.3,63.83 134.95,64.66 135.32,63.12 134.11,62.09 135.69,61.96" fill="#F01818"/>
<g transform="matrix(1.0027,0,0,1.0200,-0.240,-5.277)"><text x="133.3" y="259.95" font-family='"Liberation Serif", serif' font-size="7.0" text-anchor="middle" fill="#111" font-weight="normal" stroke="#111" stroke-width="0.12">HNSC</text></g>
<g transform="matrix(1.0176,0,0,0.9962,-2.345,0.196)"><text x="133.3" y="269" font-family='"Liberation Serif", serif' font-size="7.0" text-anchor="middle" fill="#111" font-weight="normal" stroke="#111" stroke-width="0.12">(num(T)=519; num(N)=44)</text></g>
<g transform="matrix(0.9212,0,0,0.9893,5.959,2.194)"><text x="58.7" y="152" font-family='"Liberation Serif", serif' font-size="8.6" text-anchor="middle" fill="#111" font-weight="normal" transform="rotate(-90 58.7 152)" stroke="#111" stroke-width="0.2">Expression &#8211;log<tspan font-size="70%" dy="1.8">2</tspan><tspan dy="-1.8">(TPM+1)</tspan></text></g>
<g transform="matrix(0.7351,0,0,0.9949,13.491,-0.094)"><text x="51.5" y="59.3" font-family='"Liberation Sans", sans-serif' font-size="17" text-anchor="start" fill="#111" font-weight="normal" stroke="#111" stroke-width="0.55">a</text></g>
<line x1="398.4" y1="52.5" x2="529.5" y2="52.5" stroke="#e6e6e6" stroke-width="1" />
<line x1="399.5" y1="72.7" x2="399.5" y2="95.4" stroke="#e6e6e6" stroke-width="1" />
<line x1="399.5" y1="209.6" x2="399.5" y2="264" stroke="#e6e6e6" stroke-width="1" />
<line x1="399.9" y1="264.5" x2="529" y2="264.5" stroke="#e6e6e6" stroke-width="1" />
<line x1="463.9" y1="227.62" x2="463.9" y2="218.84" stroke="#333" stroke-width="0.7" stroke-dasharray="1.3 1.3"/>
<line x1="463.9" y1="233.9" x2="463.9" y2="233.9" stroke="#333" stroke-width="0.7" stroke-dasharray="1.3 1.3"/>
<line x1="457.6" y1="218.84" x2="470.2" y2="218.84" stroke="#666" stroke-width="0.9" />
<rect x="452" y="227.62" width="23.8" height="6.28" fill="#FE6565" stroke="#C04848" stroke-width="0.6"/>
<line x1="452" y1="233.9" x2="475.8" y2="233.9" stroke="#1a1a1a" stroke-width="1.6" />
<circle cx="461.53" cy="233.78" r="0.72" fill="#000"/>
<circle cx="465.89" cy="233.66" r="0.72" fill="#000"/>
<circle cx="462.62" cy="233.84" r="0.72" fill="#000"/>
<circle cx="466.49" cy="233.74" r="0.72" fill="#000"/>
<circle cx="462.41" cy="207.49" r="0.72" fill="#000"/>
<circle cx="462.51" cy="232.9" r="0.72" fill="#000"/>
<circle cx="463.97" cy="233.11" r="0.72" fill="#000"/>
<circle cx="462.05" cy="183.88" r="0.72" fill="#000"/>
<circle cx="463.15" cy="232.81" r="0.72" fill="#000"/>
<circle cx="466.61" cy="139.43" r="0.72" fill="#000"/>
<circle cx="466.19" cy="231.37" r="0.72" fill="#000"/>
<circle cx="465.76" cy="222.4" r="0.72" fill="#000"/>
<circle cx="464.68" cy="233.85" r="0.72" fill="#000"/>
<circle cx="466.36" cy="232.66" r="0.72" fill="#000"/>
<circle cx="466.52" cy="226.81" r="0.72" fill="#000"/>
<circle cx="464.19" cy="233.87" r="0.72" fill="#000"/>
<circle cx="465.21" cy="202.45" r="0.72" fill="#000"/>
<circle cx="461.22" cy="233.8" r="0.72" fill="#000"/>
<circle cx="465.28" cy="233.29" r="0.72" fill="#000"/>
<circle cx="463.61" cy="233.79" r="0.72" fill="#000"/>
<circle cx="465.4" cy="233.17" r="0.72" fill="#000"/>
<circle cx="464.76" cy="232.27" r="0.72" fill="#000"/>
<circle cx="462.63" cy="233.86" r="0.72" fill="#000"/>
<circle cx="461.22" cy="194.86" r="0.72" fill="#000"/>
<circle cx="466.44" cy="233.55" r="0.72" fill="#000"/>
<circle cx="461.68" cy="233.01" r="0.72" fill="#000"/>
<circle cx="463.73" cy="232.66" r="0.72" fill="#000"/>
<circle cx="462.97" cy="233.67" r="0.72" fill="#000"/>
<circle cx="462.7" cy="233.72" r="0.72" fill="#000"/>
<circle cx="465.32" cy="230.8" r="0.72" fill="#000"/>
<circle cx="466.73" cy="232.84" r="0.72" fill="#000"/>
<circle cx="462.47" cy="233.72" r="0.72" fill="#000"/>
<circle cx="464.83" cy="228.74" r="0.72" fill="#000"/>
<circle cx="462.71" cy="233.71" r="0.72" fill="#000"/>
<circle cx="464.24" cy="233.89" r="0.72" fill="#000"/>
<circle cx="463.27" cy="233.75" r="0.72" fill="#000"/>
<circle cx="461.92" cy="233.87" r="0.72" fill="#000"/>
<circle cx="461.89" cy="233.8" r="0.72" fill="#000"/>
<circle cx="462.16" cy="227.22" r="0.72" fill="#000"/>
<circle cx="466.32" cy="233.66" r="0.72" fill="#000"/>
<circle cx="463.88" cy="209.14" r="0.72" fill="#000"/>
<circle cx="462.23" cy="227.68" r="0.72" fill="#000"/>
<circle cx="466.32" cy="233.87" r="0.72" fill="#000"/>
<circle cx="466.85" cy="155.41" r="0.72" fill="#000"/>
<circle cx="463.6" cy="195.27" r="0.72" fill="#000"/>
<circle cx="461.76" cy="233.85" r="0.72" fill="#000"/>
<circle cx="462.07" cy="207.51" r="0.72" fill="#000"/>
<circle cx="461.46" cy="233.5" r="0.72" fill="#000"/>
<circle cx="462.96" cy="233.26" r="0.72" fill="#000"/>
<circle cx="461.47" cy="180.85" r="0.72" fill="#000"/>
<circle cx="462.35" cy="233.75" r="0.72" fill="#000"/>
<circle cx="462.46" cy="233.03" r="0.72" fill="#000"/>
<circle cx="464.31" cy="198.87" r="0.72" fill="#000"/>
<circle cx="466.2" cy="228.54" r="0.72" fill="#000"/>
<circle cx="465.39" cy="233.31" r="0.72" fill="#000"/>
<circle cx="463.38" cy="178.02" r="0.72" fill="#000"/>
<circle cx="463.39" cy="221.77" r="0.72" fill="#000"/>
<circle cx="464.04" cy="232.52" r="0.72" fill="#000"/>
<circle cx="463.17" cy="233.83" r="0.72" fill="#000"/>
<circle cx="462.94" cy="231.83" r="0.72" fill="#000"/>
<circle cx="461.29" cy="233.37" r="0.72" fill="#000"/>
<circle cx="462.58" cy="233.77" r="0.72" fill="#000"/>
<circle cx="466.68" cy="233.87" r="0.72" fill="#000"/>
<circle cx="461.67" cy="233.01" r="0.72" fill="#000"/>
<circle cx="463.92" cy="233.82" r="0.72" fill="#000"/>
<circle cx="464.67" cy="233.43" r="0.72" fill="#000"/>
<circle cx="466.06" cy="230.37" r="0.72" fill="#000"/>
<circle cx="462.21" cy="233.37" r="0.72" fill="#000"/>
<circle cx="462.54" cy="233.74" r="0.72" fill="#000"/>
<circle cx="462.4" cy="232.73" r="0.72" fill="#000"/>
<circle cx="463.3" cy="233.55" r="0.72" fill="#000"/>
<circle cx="463.58" cy="225.17" r="0.72" fill="#000"/>
<circle cx="466.6" cy="232.99" r="0.72" fill="#000"/>
<circle cx="465.97" cy="131.18" r="0.72" fill="#000"/>
<circle cx="466.12" cy="191.16" r="0.72" fill="#000"/>
<circle cx="461.05" cy="228.15" r="0.72" fill="#000"/>
<circle cx="461.12" cy="233.75" r="0.72" fill="#000"/>
<circle cx="465.15" cy="233.83" r="0.72" fill="#000"/>
<circle cx="466.25" cy="210.13" r="0.72" fill="#000"/>
<circle cx="463.74" cy="224.61" r="0.72" fill="#000"/>
<circle cx="464.42" cy="231.81" r="0.72" fill="#000"/>
<circle cx="460.93" cy="233.67" r="0.72" fill="#000"/>
<circle cx="463.25" cy="233.73" r="0.72" fill="#000"/>
<circle cx="466.44" cy="229.8" r="0.72" fill="#000"/>
<circle cx="465.84" cy="232.82" r="0.72" fill="#000"/>
<circle cx="466.02" cy="232.69" r="0.72" fill="#000"/>
<circle cx="466.71" cy="231.54" r="0.72" fill="#000"/>
<circle cx="462.4" cy="227.33" r="0.72" fill="#000"/>
<circle cx="461.57" cy="233.78" r="0.72" fill="#000"/>
<circle cx="461.84" cy="233.74" r="0.72" fill="#000"/>
<circle cx="464.03" cy="177.57" r="0.72" fill="#000"/>
<circle cx="464.98" cy="205.44" r="0.72" fill="#000"/>
<circle cx="466.53" cy="212.97" r="0.72" fill="#000"/>
<circle cx="465.22" cy="233.88" r="0.72" fill="#000"/>
<circle cx="464.78" cy="233.86" r="0.72" fill="#000"/>
<circle cx="465.48" cy="233.73" r="0.72" fill="#000"/>
<circle cx="463.65" cy="233.52" r="0.72" fill="#000"/>
<circle cx="464.21" cy="231.86" r="0.72" fill="#000"/>
<circle cx="461.16" cy="233.84" r="0.72" fill="#000"/>
<circle cx="465.58" cy="232.94" r="0.72" fill="#000"/>
<circle cx="462.31" cy="233.85" r="0.72" fill="#000"/>
<circle cx="466.4" cy="233.85" r="0.72" fill="#000"/>
<circle cx="464.77" cy="230.09" r="0.72" fill="#000"/>
<circle cx="462.73" cy="232.89" r="0.72" fill="#000"/>
<circle cx="461.69" cy="231.6" r="0.72" fill="#000"/>
<circle cx="462.42" cy="233.67" r="0.72" fill="#000"/>
<circle cx="464.71" cy="233.25" r="0.72" fill="#000"/>
<circle cx="465.08" cy="233.77" r="0.72" fill="#000"/>
<circle cx="461.59" cy="233.68" r="0.72" fill="#000"/>
<circle cx="461.34" cy="227.8" r="0.72" fill="#000"/>
<circle cx="464.05" cy="219.85" r="0.72" fill="#000"/>
<circle cx="464.39" cy="233.85" r="0.72" fill="#000"/>
<circle cx="463.23" cy="233.82" r="0.72" fill="#000"/>
<circle cx="462.26" cy="222.43" r="0.72" fill="#000"/>
<circle cx="464.5" cy="231.85" r="0.72" fill="#000"/>
<circle cx="460.99" cy="225.98" r="0.72" fill="#000"/>
<circle cx="462.72" cy="233.77" r="0.72" fill="#000"/>
<circle cx="463.67" cy="233.53" r="0.72" fill="#000"/>
<circle cx="466.63" cy="233.74" r="0.72" fill="#000"/>
<circle cx="464.76" cy="222.36" r="0.72" fill="#000"/>
<circle cx="466.18" cy="233.67" r="0.72" fill="#000"/>
<circle cx="463.75" cy="230.85" r="0.72" fill="#000"/>
<circle cx="462.32" cy="154.38" r="0.72" fill="#000"/>
<circle cx="462.39" cy="233.7" r="0.72" fill="#000"/>
<circle cx="466.64" cy="232.9" r="0.72" fill="#000"/>
<circle cx="465.12" cy="227.76" r="0.72" fill="#000"/>
<circle cx="462.75" cy="204.4" r="0.72" fill="#000"/>
<circle cx="461.05" cy="233.51" r="0.72" fill="#000"/>
<circle cx="463.89" cy="233.67" r="0.72" fill="#000"/>
<circle cx="464.94" cy="233.84" r="0.72" fill="#000"/>
<circle cx="463.42" cy="213.71" r="0.72" fill="#000"/>
<circle cx="462.46" cy="233.85" r="0.72" fill="#000"/>
<circle cx="464.9" cy="233.85" r="0.72" fill="#000"/>
<circle cx="466.43" cy="232.82" r="0.72" fill="#000"/>
<circle cx="462.27" cy="233.22" r="0.72" fill="#000"/>
<circle cx="461.13" cy="229.79" r="0.72" fill="#000"/>
<circle cx="462.94" cy="233.71" r="0.72" fill="#000"/>
<circle cx="463.43" cy="225.38" r="0.72" fill="#000"/>
<circle cx="464.99" cy="233.85" r="0.72" fill="#000"/>
<circle cx="462.1" cy="233.77" r="0.72" fill="#000"/>
<circle cx="465.67" cy="230.57" r="0.72" fill="#000"/>
<circle cx="465.32" cy="233.85" r="0.72" fill="#000"/>
<circle cx="463.93" cy="233.71" r="0.72" fill="#000"/>
<circle cx="462.15" cy="228.46" r="0.72" fill="#000"/>
<circle cx="466.7" cy="229.5" r="0.72" fill="#000"/>
<circle cx="462.78" cy="233.72" r="0.72" fill="#000"/>
<circle cx="465.8" cy="233.81" r="0.72" fill="#000"/>
<circle cx="462.3" cy="233.68" r="0.72" fill="#000"/>
<circle cx="462.24" cy="228.43" r="0.72" fill="#000"/>
<circle cx="465.45" cy="233.67" r="0.72" fill="#000"/>
<circle cx="462.68" cy="233.83" r="0.72" fill="#000"/>
<circle cx="466.59" cy="228.99" r="0.72" fill="#000"/>
<circle cx="463.87" cy="232.8" r="0.72" fill="#000"/>
<circle cx="462.04" cy="204.86" r="0.72" fill="#000"/>
<circle cx="462.25" cy="197.54" r="0.72" fill="#000"/>
<circle cx="463.41" cy="205.92" r="0.72" fill="#000"/>
<circle cx="464.88" cy="233.46" r="0.72" fill="#000"/>
<circle cx="466.57" cy="222.96" r="0.72" fill="#000"/>
<circle cx="461.8" cy="233.71" r="0.72" fill="#000"/>
<circle cx="463.27" cy="233.7" r="0.72" fill="#000"/>
<circle cx="462.19" cy="233.65" r="0.72" fill="#000"/>
<circle cx="466.72" cy="200.18" r="0.72" fill="#000"/>
<circle cx="461.77" cy="209.72" r="0.72" fill="#000"/>
<circle cx="461.23" cy="233.74" r="0.72" fill="#000"/>
<circle cx="461.28" cy="233.67" r="0.72" fill="#000"/>
<circle cx="463.27" cy="233.67" r="0.72" fill="#000"/>
<circle cx="466.27" cy="233.67" r="0.72" fill="#000"/>
<circle cx="466.18" cy="233.65" r="0.72" fill="#000"/>
<circle cx="465.28" cy="233.66" r="0.72" fill="#000"/>
<circle cx="466.86" cy="233.78" r="0.72" fill="#000"/>
<circle cx="466.47" cy="232.83" r="0.72" fill="#000"/>
<circle cx="462.88" cy="223.49" r="0.72" fill="#000"/>
<circle cx="462.03" cy="232.94" r="0.72" fill="#000"/>
<circle cx="466.49" cy="220.04" r="0.72" fill="#000"/>
<circle cx="465.37" cy="232.83" r="0.72" fill="#000"/>
<circle cx="461.11" cy="233.79" r="0.72" fill="#000"/>
<circle cx="464.88" cy="226.84" r="0.72" fill="#000"/>
<circle cx="463.18" cy="212.54" r="0.72" fill="#000"/>
<circle cx="463.15" cy="233.72" r="0.72" fill="#000"/>
<circle cx="462.9" cy="233.89" r="0.72" fill="#000"/>
<circle cx="461.93" cy="233.07" r="0.72" fill="#000"/>
<circle cx="460.94" cy="232.93" r="0.72" fill="#000"/>
<circle cx="462.59" cy="232.81" r="0.72" fill="#000"/>
<circle cx="463.02" cy="184.24" r="0.72" fill="#000"/>
<circle cx="466.61" cy="230.93" r="0.72" fill="#000"/>
<circle cx="461.66" cy="222.85" r="0.72" fill="#000"/>
<circle cx="466.66" cy="233.86" r="0.72" fill="#000"/>
<circle cx="462.16" cy="232.91" r="0.72" fill="#000"/>
<circle cx="463.05" cy="224.28" r="0.72" fill="#000"/>
<circle cx="465.81" cy="233.85" r="0.72" fill="#000"/>
<circle cx="465.82" cy="233.85" r="0.72" fill="#000"/>
<circle cx="463.5" cy="228.06" r="0.72" fill="#000"/>
<circle cx="461.22" cy="208.83" r="0.72" fill="#000"/>
<circle cx="463.74" cy="233.85" r="0.72" fill="#000"/>
<circle cx="463.14" cy="231.5" r="0.72" fill="#000"/>
<circle cx="466.4" cy="233.81" r="0.72" fill="#000"/>
<circle cx="462.07" cy="227.77" r="0.72" fill="#000"/>
<circle cx="463.09" cy="231.01" r="0.72" fill="#000"/>
<circle cx="466.26" cy="233.75" r="0.72" fill="#000"/>
<circle cx="461.11" cy="233.76" r="0.72" fill="#000"/>
<circle cx="463.37" cy="226.28" r="0.72" fill="#000"/>
<circle cx="465.76" cy="233.04" r="0.72" fill="#000"/>
<circle cx="465.49" cy="226.33" r="0.72" fill="#000"/>
<circle cx="461.17" cy="233.65" r="0.72" fill="#000"/>
<circle cx="461.13" cy="233.69" r="0.72" fill="#000"/>
<circle cx="461.3" cy="183.31" r="0.72" fill="#000"/>
<circle cx="466.4" cy="230.22" r="0.72" fill="#000"/>
<circle cx="462.45" cy="233.18" r="0.72" fill="#000"/>
<circle cx="465.37" cy="232.96" r="0.72" fill="#000"/>
<circle cx="466.27" cy="228.6" r="0.72" fill="#000"/>
<circle cx="462.94" cy="229.03" r="0.72" fill="#000"/>
<circle cx="462.55" cy="205.59" r="0.72" fill="#000"/>
<circle cx="466.62" cy="233.6" r="0.72" fill="#000"/>
<circle cx="464.6" cy="220.93" r="0.72" fill="#000"/>
<circle cx="462.48" cy="230.41" r="0.72" fill="#000"/>
<circle cx="465.19" cy="218.13" r="0.72" fill="#000"/>
<circle cx="462.81" cy="222.71" r="0.72" fill="#000"/>
<circle cx="462.57" cy="220.26" r="0.72" fill="#000"/>
<circle cx="460.95" cy="210.96" r="0.72" fill="#000"/>
<circle cx="465.42" cy="188.58" r="0.72" fill="#000"/>
<circle cx="466.38" cy="231.3" r="0.72" fill="#000"/>
<circle cx="464.7" cy="233.03" r="0.72" fill="#000"/>
<circle cx="466.54" cy="228.96" r="0.72" fill="#000"/>
<circle cx="461.07" cy="223.03" r="0.72" fill="#000"/>
<circle cx="462.32" cy="233.54" r="0.72" fill="#000"/>
<circle cx="463.75" cy="233.55" r="0.72" fill="#000"/>
<circle cx="466.62" cy="233.81" r="0.72" fill="#000"/>
<circle cx="466.6" cy="227.92" r="0.72" fill="#000"/>
<circle cx="463.22" cy="149.79" r="0.72" fill="#000"/>
<circle cx="462.42" cy="233.66" r="0.72" fill="#000"/>
<circle cx="463.48" cy="233.79" r="0.72" fill="#000"/>
<circle cx="463.86" cy="233.77" r="0.72" fill="#000"/>
<circle cx="466.45" cy="233.52" r="0.72" fill="#000"/>
<circle cx="462.01" cy="233.72" r="0.72" fill="#000"/>
<circle cx="465.7" cy="182.57" r="0.72" fill="#000"/>
<circle cx="465.32" cy="233.86" r="0.72" fill="#000"/>
<circle cx="465.82" cy="233.71" r="0.72" fill="#000"/>
<circle cx="465.52" cy="233.83" r="0.72" fill="#000"/>
<circle cx="464.54" cy="231.04" r="0.72" fill="#000"/>
<circle cx="462.88" cy="225.35" r="0.72" fill="#000"/>
<circle cx="462.83" cy="233.79" r="0.72" fill="#000"/>
<circle cx="463.08" cy="233.86" r="0.72" fill="#000"/>
<circle cx="465.58" cy="233.35" r="0.72" fill="#000"/>
<circle cx="461.4" cy="232.72" r="0.72" fill="#000"/>
<circle cx="462.1" cy="206.75" r="0.72" fill="#000"/>
<circle cx="465.4" cy="233.88" r="0.72" fill="#000"/>
<circle cx="462.4" cy="233.83" r="0.72" fill="#000"/>
<circle cx="461.31" cy="233.78" r="0.72" fill="#000"/>
<circle cx="461.13" cy="233.76" r="0.72" fill="#000"/>
<circle cx="464.21" cy="233.75" r="0.72" fill="#000"/>
<circle cx="462.86" cy="228.72" r="0.72" fill="#000"/>
<circle cx="466.76" cy="232.67" r="0.72" fill="#000"/>
<circle cx="466.18" cy="233.76" r="0.72" fill="#000"/>
<circle cx="466.8" cy="233.78" r="0.72" fill="#000"/>
<circle cx="462.5" cy="233.72" r="0.72" fill="#000"/>
<circle cx="461.43" cy="233.79" r="0.72" fill="#000"/>
<circle cx="461.5" cy="226.97" r="0.72" fill="#000"/>
<circle cx="463.89" cy="233.7" r="0.72" fill="#000"/>
<circle cx="465.15" cy="232.9" r="0.72" fill="#000"/>
<circle cx="463.58" cy="221.73" r="0.72" fill="#000"/>
<circle cx="462.32" cy="233.25" r="0.72" fill="#000"/>
<circle cx="463.41" cy="233.74" r="0.72" fill="#000"/>
<circle cx="464.62" cy="211.21" r="0.72" fill="#000"/>
<circle cx="464.94" cy="205.74" r="0.72" fill="#000"/>
<circle cx="465.38" cy="233.69" r="0.72" fill="#000"/>
<circle cx="465.96" cy="232.91" r="0.72" fill="#000"/>
<circle cx="464.88" cy="188.96" r="0.72" fill="#000"/>
<circle cx="461.65" cy="233.23" r="0.72" fill="#000"/>
<circle cx="465.93" cy="233.76" r="0.72" fill="#000"/>
<circle cx="462.67" cy="233.87" r="0.72" fill="#000"/>
<circle cx="464.3" cy="193.73" r="0.72" fill="#000"/>
<circle cx="463.14" cy="223.11" r="0.72" fill="#000"/>
<circle cx="465.32" cy="233.66" r="0.72" fill="#000"/>
<circle cx="462.11" cy="233.01" r="0.72" fill="#000"/>
<circle cx="462.4" cy="233.07" r="0.72" fill="#000"/>
<circle cx="462.38" cy="233.73" r="0.72" fill="#000"/>
<circle cx="461.84" cy="151.71" r="0.72" fill="#000"/>
<circle cx="466.19" cy="230.72" r="0.72" fill="#000"/>
<circle cx="464.37" cy="233.75" r="0.72" fill="#000"/>
<circle cx="462.87" cy="233.89" r="0.72" fill="#000"/>
<circle cx="463.28" cy="233.28" r="0.72" fill="#000"/>
<circle cx="466.83" cy="233.67" r="0.72" fill="#000"/>
<circle cx="463.94" cy="223.52" r="0.72" fill="#000"/>
<circle cx="462.3" cy="228.85" r="0.72" fill="#000"/>
<circle cx="465.74" cy="232.44" r="0.72" fill="#000"/>
<circle cx="464.81" cy="233.8" r="0.72" fill="#000"/>
<circle cx="466.82" cy="233.8" r="0.72" fill="#000"/>
<circle cx="461.53" cy="233.7" r="0.72" fill="#000"/>
<circle cx="463.75" cy="233.74" r="0.72" fill="#000"/>
<circle cx="465.8" cy="214.92" r="0.72" fill="#000"/>
<circle cx="465.93" cy="233.07" r="0.72" fill="#000"/>
<circle cx="466.37" cy="231.41" r="0.72" fill="#000"/>
<circle cx="461.17" cy="144.5" r="0.72" fill="#000"/>
<circle cx="462.67" cy="233.73" r="0.72" fill="#000"/>
<circle cx="461.63" cy="232.97" r="0.72" fill="#000"/>
<circle cx="462.05" cy="233.81" r="0.72" fill="#000"/>
<circle cx="466.71" cy="225.83" r="0.72" fill="#000"/>
<circle cx="464.4" cy="233.9" r="0.72" fill="#000"/>
<circle cx="466.46" cy="221.35" r="0.72" fill="#000"/>
<circle cx="463.14" cy="219.18" r="0.72" fill="#000"/>
<circle cx="466.08" cy="221.29" r="0.72" fill="#000"/>
<circle cx="463.6" cy="233.85" r="0.72" fill="#000"/>
<circle cx="462.47" cy="233.73" r="0.72" fill="#000"/>
<circle cx="465.55" cy="228.75" r="0.72" fill="#000"/>
<circle cx="466.55" cy="233.84" r="0.72" fill="#000"/>
<circle cx="461.55" cy="233.25" r="0.72" fill="#000"/>
<circle cx="464.47" cy="233.3" r="0.72" fill="#000"/>
<circle cx="464.61" cy="189.73" r="0.72" fill="#000"/>
<circle cx="462.22" cy="232.71" r="0.72" fill="#000"/>
<circle cx="463.12" cy="217.34" r="0.72" fill="#000"/>
<circle cx="461.77" cy="233.71" r="0.72" fill="#000"/>
<circle cx="462.14" cy="224.17" r="0.72" fill="#000"/>
<circle cx="462.44" cy="233.56" r="0.72" fill="#000"/>
<circle cx="464.49" cy="205.23" r="0.72" fill="#000"/>
<circle cx="464.8" cy="233.84" r="0.72" fill="#000"/>
<circle cx="462.14" cy="220.92" r="0.72" fill="#000"/>
<circle cx="460.99" cy="233.77" r="0.72" fill="#000"/>
<circle cx="462.87" cy="232.93" r="0.72" fill="#000"/>
<circle cx="464.96" cy="233.02" r="0.72" fill="#000"/>
<circle cx="462.03" cy="233.8" r="0.72" fill="#000"/>
<circle cx="462.78" cy="220.42" r="0.72" fill="#000"/>
<circle cx="462.14" cy="233.7" r="0.72" fill="#000"/>
<circle cx="465.66" cy="233.71" r="0.72" fill="#000"/>
<circle cx="464.19" cy="233.85" r="0.72" fill="#000"/>
<circle cx="461.3" cy="233.71" r="0.72" fill="#000"/>
<circle cx="461.53" cy="233.31" r="0.72" fill="#000"/>
<circle cx="463.28" cy="228.79" r="0.72" fill="#000"/>
<circle cx="464.2" cy="233.67" r="0.72" fill="#000"/>
<circle cx="464.73" cy="229.73" r="0.72" fill="#000"/>
<circle cx="461.47" cy="233.83" r="0.72" fill="#000"/>
<circle cx="461.9" cy="233.65" r="0.72" fill="#000"/>
<circle cx="465.06" cy="233.34" r="0.72" fill="#000"/>
<circle cx="463.36" cy="184" r="0.72" fill="#000"/>
<circle cx="462.61" cy="220.62" r="0.72" fill="#000"/>
<circle cx="462.76" cy="230.84" r="0.72" fill="#000"/>
<circle cx="466.6" cy="233.89" r="0.72" fill="#000"/>
<circle cx="462.78" cy="233.66" r="0.72" fill="#000"/>
<circle cx="464.3" cy="228.96" r="0.72" fill="#000"/>
<circle cx="463.05" cy="233.75" r="0.72" fill="#000"/>
<circle cx="463.4" cy="232.83" r="0.72" fill="#000"/>
<circle cx="466.07" cy="233.36" r="0.72" fill="#000"/>
<circle cx="466.85" cy="233.89" r="0.72" fill="#000"/>
<circle cx="463.09" cy="148.25" r="0.72" fill="#000"/>
<circle cx="462.1" cy="223.28" r="0.72" fill="#000"/>
<circle cx="465.26" cy="233.77" r="0.72" fill="#000"/>
<circle cx="462.14" cy="232.11" r="0.72" fill="#000"/>
<circle cx="460.96" cy="233.72" r="0.72" fill="#000"/>
<circle cx="466.29" cy="233.66" r="0.72" fill="#000"/>
<circle cx="463.45" cy="232.95" r="0.72" fill="#000"/>
<circle cx="465.81" cy="233.71" r="0.72" fill="#000"/>
<circle cx="463.34" cy="233.69" r="0.72" fill="#000"/>
<circle cx="466.18" cy="233.65" r="0.72" fill="#000"/>
<circle cx="463.67" cy="230.41" r="0.72" fill="#000"/>
<circle cx="461.89" cy="233.74" r="0.72" fill="#000"/>
<circle cx="461.01" cy="233.77" r="0.72" fill="#000"/>
<circle cx="464.21" cy="228.25" r="0.72" fill="#000"/>
<circle cx="464.74" cy="233.69" r="0.72" fill="#000"/>
<circle cx="466.34" cy="194.98" r="0.72" fill="#000"/>
<circle cx="461.45" cy="232.83" r="0.72" fill="#000"/>
<circle cx="464.63" cy="228.5" r="0.72" fill="#000"/>
<circle cx="463.13" cy="233.69" r="0.72" fill="#000"/>
<circle cx="463.93" cy="220.87" r="0.72" fill="#000"/>
<circle cx="461.79" cy="233.84" r="0.72" fill="#000"/>
<circle cx="462.61" cy="233.81" r="0.72" fill="#000"/>
<circle cx="464.03" cy="233.84" r="0.72" fill="#000"/>
<circle cx="466.43" cy="230.04" r="0.72" fill="#000"/>
<circle cx="461.57" cy="229.02" r="0.72" fill="#000"/>
<circle cx="463.84" cy="233.79" r="0.72" fill="#000"/>
<circle cx="465.71" cy="233.64" r="0.72" fill="#000"/>
<circle cx="466.68" cy="219.99" r="0.72" fill="#000"/>
<circle cx="462.1" cy="232.68" r="0.72" fill="#000"/>
<circle cx="461.68" cy="233.84" r="0.72" fill="#000"/>
<circle cx="466.54" cy="233.76" r="0.72" fill="#000"/>
<circle cx="466.73" cy="233.8" r="0.72" fill="#000"/>
<circle cx="463.8" cy="233.82" r="0.72" fill="#000"/>
<circle cx="461.24" cy="233.61" r="0.72" fill="#000"/>
<circle cx="466.44" cy="233.85" r="0.72" fill="#000"/>
<circle cx="463.23" cy="204.44" r="0.72" fill="#000"/>
<circle cx="466.31" cy="233.51" r="0.72" fill="#000"/>
<circle cx="464.62" cy="233.09" r="0.72" fill="#000"/>
<circle cx="465.83" cy="231.06" r="0.72" fill="#000"/>
<circle cx="461.88" cy="226.14" r="0.72" fill="#000"/>
<circle cx="465.6" cy="221.38" r="0.72" fill="#000"/>
<circle cx="462.25" cy="233.66" r="0.72" fill="#000"/>
<circle cx="463.33" cy="233.69" r="0.72" fill="#000"/>
<circle cx="465.96" cy="233.59" r="0.72" fill="#000"/>
<circle cx="465.86" cy="233.89" r="0.72" fill="#000"/>
<circle cx="462.01" cy="233.65" r="0.72" fill="#000"/>
<circle cx="462.22" cy="229.3" r="0.72" fill="#000"/>
<circle cx="463.3" cy="172.53" r="0.72" fill="#000"/>
<circle cx="464.01" cy="224.14" r="0.72" fill="#000"/>
<circle cx="463.21" cy="230.63" r="0.72" fill="#000"/>
<circle cx="461.66" cy="232.36" r="0.72" fill="#000"/>
<circle cx="462.4" cy="233.89" r="0.72" fill="#000"/>
<circle cx="465.24" cy="233.69" r="0.72" fill="#000"/>
<circle cx="466.26" cy="233.69" r="0.72" fill="#000"/>
<circle cx="461.17" cy="230.95" r="0.72" fill="#000"/>
<circle cx="464.27" cy="233.83" r="0.72" fill="#000"/>
<circle cx="465.43" cy="233.66" r="0.72" fill="#000"/>
<circle cx="461.15" cy="233.1" r="0.72" fill="#000"/>
<circle cx="465.91" cy="224.24" r="0.72" fill="#000"/>
<circle cx="461.63" cy="221.02" r="0.72" fill="#000"/>
<circle cx="464.49" cy="232.26" r="0.72" fill="#000"/>
<circle cx="464.2" cy="233.8" r="0.72" fill="#000"/>
<circle cx="464.66" cy="226.17" r="0.72" fill="#000"/>
<circle cx="462.75" cy="208.03" r="0.72" fill="#000"/>
<circle cx="463.42" cy="232.9" r="0.72" fill="#000"/>
<circle cx="464.39" cy="233.68" r="0.72" fill="#000"/>
<circle cx="463.46" cy="233.14" r="0.72" fill="#000"/>
<circle cx="464.85" cy="233.81" r="0.72" fill="#000"/>
<circle cx="463.58" cy="228.85" r="0.72" fill="#000"/>
<circle cx="463.53" cy="160.41" r="0.72" fill="#000"/>
<circle cx="461.06" cy="233.07" r="0.72" fill="#000"/>
<circle cx="464.61" cy="228.78" r="0.72" fill="#000"/>
<circle cx="463.84" cy="220.11" r="0.72" fill="#000"/>
<circle cx="462.32" cy="233.78" r="0.72" fill="#000"/>
<circle cx="465.47" cy="195.05" r="0.72" fill="#000"/>
<circle cx="465.57" cy="231.74" r="0.72" fill="#000"/>
<circle cx="463.65" cy="233.78" r="0.72" fill="#000"/>
<circle cx="461.99" cy="233.85" r="0.72" fill="#000"/>
<circle cx="463.74" cy="233.75" r="0.72" fill="#000"/>
<circle cx="461.56" cy="232.76" r="0.72" fill="#000"/>
<circle cx="461.69" cy="229.4" r="0.72" fill="#000"/>
<circle cx="463.49" cy="233.69" r="0.72" fill="#000"/>
<circle cx="461.47" cy="202.72" r="0.72" fill="#000"/>
<circle cx="463.55" cy="233.67" r="0.72" fill="#000"/>
<circle cx="463.96" cy="233.33" r="0.72" fill="#000"/>
<circle cx="461.17" cy="233.82" r="0.72" fill="#000"/>
<circle cx="464.71" cy="180.65" r="0.72" fill="#000"/>
<circle cx="461.41" cy="233.81" r="0.72" fill="#000"/>
<circle cx="465.29" cy="207.82" r="0.72" fill="#000"/>
<circle cx="465.55" cy="232.93" r="0.72" fill="#000"/>
<circle cx="463.97" cy="232.84" r="0.72" fill="#000"/>
<circle cx="461.25" cy="232.84" r="0.72" fill="#000"/>
<circle cx="463.92" cy="233.73" r="0.72" fill="#000"/>
<circle cx="463.17" cy="206.74" r="0.72" fill="#000"/>
<circle cx="466.58" cy="146.98" r="0.72" fill="#000"/>
<circle cx="461.74" cy="221.69" r="0.72" fill="#000"/>
<circle cx="466.02" cy="232.59" r="0.72" fill="#000"/>
<circle cx="466.85" cy="233.82" r="0.72" fill="#000"/>
<circle cx="465.28" cy="221.07" r="0.72" fill="#000"/>
<circle cx="465.77" cy="233.72" r="0.72" fill="#000"/>
<circle cx="462.08" cy="209.25" r="0.72" fill="#000"/>
<circle cx="466.77" cy="233.75" r="0.72" fill="#000"/>
<circle cx="463.85" cy="232.78" r="0.72" fill="#000"/>
<circle cx="466.62" cy="220.53" r="0.72" fill="#000"/>
<circle cx="466.38" cy="233.78" r="0.72" fill="#000"/>
<circle cx="461.91" cy="232.91" r="0.72" fill="#000"/>
<circle cx="465.62" cy="233.85" r="0.72" fill="#000"/>
<circle cx="466.46" cy="233.88" r="0.72" fill="#000"/>
<circle cx="461.31" cy="233.79" r="0.72" fill="#000"/>
<circle cx="463.01" cy="159.84" r="0.72" fill="#000"/>
<circle cx="465.42" cy="197.78" r="0.72" fill="#000"/>
<circle cx="461.87" cy="230.69" r="0.72" fill="#000"/>
<circle cx="466.26" cy="233.71" r="0.72" fill="#000"/>
<circle cx="462.56" cy="230.26" r="0.72" fill="#000"/>
<circle cx="465.78" cy="228.04" r="0.72" fill="#000"/>
<circle cx="461.78" cy="233.66" r="0.72" fill="#000"/>
<circle cx="463.91" cy="232.69" r="0.72" fill="#000"/>
<circle cx="466.4" cy="222.9" r="0.72" fill="#000"/>
<circle cx="462.16" cy="233.89" r="0.72" fill="#000"/>
<circle cx="462.49" cy="233.77" r="0.72" fill="#000"/>
<circle cx="463.94" cy="233.31" r="0.72" fill="#000"/>
<circle cx="462.82" cy="233.81" r="0.72" fill="#000"/>
<circle cx="461.14" cy="233.66" r="0.72" fill="#000"/>
<circle cx="462.01" cy="232.8" r="0.72" fill="#000"/>
<circle cx="461.88" cy="233.79" r="0.72" fill="#000"/>
<circle cx="466.5" cy="233.05" r="0.72" fill="#000"/>
<circle cx="464.97" cy="233.73" r="0.72" fill="#000"/>
<circle cx="466.25" cy="232.81" r="0.72" fill="#000"/>
<circle cx="461.93" cy="233.69" r="0.72" fill="#000"/>
<circle cx="465.59" cy="231.25" r="0.72" fill="#000"/>
<circle cx="461.61" cy="233.88" r="0.72" fill="#000"/>
<circle cx="464.08" cy="230.27" r="0.72" fill="#000"/>
<circle cx="464.71" cy="233.81" r="0.72" fill="#000"/>
<circle cx="463.07" cy="187.8" r="0.72" fill="#000"/>
<circle cx="466.12" cy="232.64" r="0.72" fill="#000"/>
<circle cx="464.23" cy="233.3" r="0.72" fill="#000"/>
<circle cx="464.38" cy="233.59" r="0.72" fill="#000"/>
<circle cx="466.18" cy="231.85" r="0.72" fill="#000"/>
<circle cx="461.55" cy="229.66" r="0.72" fill="#000"/>
<circle cx="466.83" cy="226.92" r="0.72" fill="#000"/>
<circle cx="464.67" cy="227.47" r="0.72" fill="#000"/>
<circle cx="463.27" cy="233.22" r="0.72" fill="#000"/>
<circle cx="465.67" cy="140.74" r="0.72" fill="#000"/>
<circle cx="462.5" cy="219.87" r="0.72" fill="#000"/>
<circle cx="466.82" cy="217.81" r="0.72" fill="#000"/>
<circle cx="464.36" cy="233.6" r="0.72" fill="#000"/>
<circle cx="463.07" cy="233.48" r="0.72" fill="#000"/>
<circle cx="465.47" cy="232.82" r="0.72" fill="#000"/>
<circle cx="463.56" cy="207.57" r="0.72" fill="#000"/>
<circle cx="461.98" cy="233.02" r="0.72" fill="#000"/>
<circle cx="465.35" cy="233.02" r="0.72" fill="#000"/>
<circle cx="461.21" cy="233.49" r="0.72" fill="#000"/>
<circle cx="465.8" cy="207.77" r="0.72" fill="#000"/>
<circle cx="462.43" cy="233.7" r="0.72" fill="#000"/>
<circle cx="464.73" cy="233.87" r="0.72" fill="#000"/>
<circle cx="466.78" cy="228.44" r="0.72" fill="#000"/>
<circle cx="464.41" cy="208.62" r="0.72" fill="#000"/>
<circle cx="464.87" cy="228.23" r="0.72" fill="#000"/>
<circle cx="462.79" cy="232.66" r="0.72" fill="#000"/>
<circle cx="460.94" cy="227.46" r="0.72" fill="#000"/>
<circle cx="461.13" cy="233.71" r="0.72" fill="#000"/>
<circle cx="461.81" cy="232.68" r="0.72" fill="#000"/>
<circle cx="464.59" cy="233.86" r="0.72" fill="#000"/>
<circle cx="463.5" cy="233.82" r="0.72" fill="#000"/>
<circle cx="463.98" cy="233.41" r="0.72" fill="#000"/>
<circle cx="466.25" cy="233.13" r="0.72" fill="#000"/>
<circle cx="461.71" cy="233.65" r="0.72" fill="#000"/>
<circle cx="462.28" cy="233.87" r="0.72" fill="#000"/>
<circle cx="464.81" cy="229.47" r="0.72" fill="#000"/>
<circle cx="461.06" cy="233.02" r="0.72" fill="#000"/>
<circle cx="460.94" cy="233.75" r="0.72" fill="#000"/>
<circle cx="463.04" cy="233.71" r="0.72" fill="#000"/>
<circle cx="461.56" cy="233.65" r="0.72" fill="#000"/>
<circle cx="463.05" cy="233.75" r="0.72" fill="#000"/>
<circle cx="462.26" cy="233.86" r="0.72" fill="#000"/>
<circle cx="464.4" cy="206.34" r="0.72" fill="#000"/>
<circle cx="464.43" cy="184.22" r="0.72" fill="#000"/>
<line x1="452" y1="233.27" x2="475.8" y2="233.27" stroke="#1a1a1a" stroke-width="1.5" />
<line x1="493.3" y1="114.67" x2="493.3" y2="72" stroke="#333" stroke-width="0.7" stroke-dasharray="1.3 1.3"/>
<line x1="493.3" y1="232.65" x2="493.3" y2="233.9" stroke="#333" stroke-width="0.7" stroke-dasharray="1.3 1.3"/>
<line x1="487" y1="72" x2="499.6" y2="72" stroke="#666" stroke-width="0.9" />
<rect x="481.6" y="114.67" width="23.4" height="117.97" fill="#7F7F7F" stroke="#585858" stroke-width="0.6"/>
<line x1="481.6" y1="233.9" x2="505" y2="233.9" stroke="#1a1a1a" stroke-width="1.6" />
<circle cx="491.57" cy="233.9" r="0.72" fill="#000"/>
<circle cx="494.02" cy="233.9" r="0.72" fill="#000"/>
<circle cx="493.15" cy="233.9" r="0.72" fill="#000"/>
<circle cx="491.16" cy="233.27" r="0.72" fill="#000"/>
<circle cx="495.85" cy="232.65" r="0.72" fill="#000"/>
<circle cx="491.8" cy="232.65" r="0.72" fill="#000"/>
<circle cx="491.25" cy="231.39" r="0.72" fill="#000"/>
<circle cx="490.94" cy="230.14" r="0.72" fill="#000"/>
<circle cx="494.11" cy="223.86" r="0.72" fill="#000"/>
<circle cx="495.47" cy="218.84" r="0.72" fill="#000"/>
<circle cx="494.95" cy="215.07" r="0.72" fill="#000"/>
<circle cx="492.73" cy="203.78" r="0.72" fill="#000"/>
<circle cx="491.92" cy="191.23" r="0.72" fill="#000"/>
<circle cx="490.44" cy="189.97" r="0.72" fill="#000"/>
<circle cx="494.15" cy="176.17" r="0.72" fill="#000"/>
<circle cx="493.66" cy="171.15" r="0.72" fill="#000"/>
<circle cx="492.42" cy="161.11" r="0.72" fill="#000"/>
<circle cx="494.15" cy="159.86" r="0.72" fill="#000"/>
<circle cx="492.97" cy="148.56" r="0.72" fill="#000"/>
<circle cx="495.86" cy="148.56" r="0.72" fill="#000"/>
<circle cx="494.67" cy="143.54" r="0.72" fill="#000"/>
<circle cx="491.83" cy="118.44" r="0.72" fill="#000"/>
<circle cx="495.66" cy="113.42" r="0.72" fill="#000"/>
<circle cx="490.63" cy="110.91" r="0.72" fill="#000"/>
<circle cx="493.48" cy="108.4" r="0.72" fill="#000"/>
<circle cx="492.75" cy="105.89" r="0.72" fill="#000"/>
<circle cx="491.77" cy="102.12" r="0.72" fill="#000"/>
<circle cx="490.72" cy="95.85" r="0.72" fill="#000"/>
<circle cx="494.93" cy="90.83" r="0.72" fill="#000"/>
<circle cx="490.45" cy="88.32" r="0.72" fill="#000"/>
<circle cx="493.6" cy="85.81" r="0.72" fill="#000"/>
<circle cx="495.88" cy="83.3" r="0.72" fill="#000"/>
<circle cx="491.21" cy="79.53" r="0.72" fill="#000"/>
<circle cx="491.54" cy="72" r="0.72" fill="#000"/>
<circle cx="493.93" cy="233.9" r="0.72" fill="#000"/>
<circle cx="493.34" cy="233.9" r="0.72" fill="#000"/>
<circle cx="494.13" cy="233.9" r="0.72" fill="#000"/>
<circle cx="495.13" cy="233.9" r="0.72" fill="#000"/>
<circle cx="491.4" cy="233.9" r="0.72" fill="#000"/>
<circle cx="492.18" cy="233.9" r="0.72" fill="#000"/>
<circle cx="492.13" cy="233.9" r="0.72" fill="#000"/>
<circle cx="490.66" cy="233.9" r="0.72" fill="#000"/>
<circle cx="495.58" cy="233.9" r="0.72" fill="#000"/>
<circle cx="494.96" cy="233.9" r="0.72" fill="#000"/>
<line x1="481.6" y1="203.78" x2="505" y2="203.78" stroke="#1a1a1a" stroke-width="1.5" />
<rect x="430.5" y="57.5" width="96" height="183" fill="none" stroke="#6a6a6a" stroke-width="1"/>
<line x1="426.2" y1="233.9" x2="430.2" y2="233.9" stroke="#555" stroke-width="0.9" />
<text x="420.6" y="233.9" font-family='"Liberation Sans", sans-serif' font-size="6.6" text-anchor="middle" fill="#333" font-weight="normal" transform="rotate(-90 420.6 233.9)" dominant-baseline="central" stroke="#333" stroke-width="0.2">0</text>
<line x1="426.2" y1="208.8" x2="430.2" y2="208.8" stroke="#555" stroke-width="0.9" />
<text x="420.6" y="208.8" font-family='"Liberation Sans", sans-serif' font-size="6.6" text-anchor="middle" fill="#333" font-weight="normal" transform="rotate(-90 420.6 208.8)" dominant-baseline="central" stroke="#333" stroke-width="0.2">2</text>
<line x1="426.2" y1="183.7" x2="430.2" y2="183.7" stroke="#555" stroke-width="0.9" />
<text x="420.6" y="183.7" font-family='"Liberation Sans", sans-serif' font-size="6.6" text-anchor="middle" fill="#333" font-weight="normal" transform="rotate(-90 420.6 183.7)" dominant-baseline="central" stroke="#333" stroke-width="0.2">4</text>
<line x1="426.2" y1="158.6" x2="430.2" y2="158.6" stroke="#555" stroke-width="0.9" />
<text x="420.6" y="158.6" font-family='"Liberation Sans", sans-serif' font-size="6.6" text-anchor="middle" fill="#333" font-weight="normal" transform="rotate(-90 420.6 158.6)" dominant-baseline="central" stroke="#333" stroke-width="0.2">6</text>
<line x1="426.2" y1="133.5" x2="430.2" y2="133.5" stroke="#555" stroke-width="0.9" />
<text x="420.6" y="133.5" font-family='"Liberation Sans", sans-serif' font-size="6.6" text-anchor="middle" fill="#333" font-weight="normal" transform="rotate(-90 420.6 133.5)" dominant-baseline="central" stroke="#333" stroke-width="0.2">8</text>
<line x1="426.2" y1="108.4" x2="430.2" y2="108.4" stroke="#555" stroke-width="0.9" />
<text x="420.6" y="108.4" font-family='"Liberation Sans", sans-serif' font-size="6.6" text-anchor="middle" fill="#333" font-weight="normal" transform="rotate(-90 420.6 108.4)" dominant-baseline="central" stroke="#333" stroke-width="0.2">10</text>
<line x1="426.2" y1="83.3" x2="430.2" y2="83.3" stroke="#555" stroke-width="0.9" />
<text x="420.6" y="83.3" font-family='"Liberation Sans", sans-serif' font-size="6.6" text-anchor="middle" fill="#333" font-weight="normal" transform="rotate(-90 420.6 83.3)" dominant-baseline="central" stroke="#333" stroke-width="0.2">12</text>
<line x1="426.2" y1="58.2" x2="430.2" y2="58.2" stroke="#555" stroke-width="0.9" />
<text x="420.6" y="58.2" font-family='"Liberation Sans", sans-serif' font-size="6.6" text-anchor="middle" fill="#333" font-weight="normal" transform="rotate(-90 420.6 58.2)" dominant-baseline="central" stroke="#333" stroke-width="0.2">14</text>
<line x1="478.1" y1="240.5" x2="478.1" y2="244.5" stroke="#555" stroke-width="0.9" />
<polyline points="463,120.6 463,63.4 493.8,63.4 493.8,67.6" fill="none" stroke="#777" stroke-width="0.9"/>
<polygon points="478.6,62 479.21,63.46 480.79,63.59 479.58,64.62 479.95,66.16 478.6,65.33 477.25,66.16 477.62,64.62 476.41,63.59 477.99,63.46" fill="#F01818"/>
<g transform="matrix(1.0027,0,0,1.0200,-1.183,-5.180)"><text x="477.5" y="255.1" font-family='"Liberation Serif", serif' font-size="7.0" text-anchor="middle" fill="#111" font-weight="normal" stroke="#111" stroke-width="0.12">HNSC</text></g>
<g transform="matrix(1.0176,0,0,0.9962,-8.399,0.175)"><text x="477.5" y="263.3" font-family='"Liberation Serif", serif' font-size="7.0" text-anchor="middle" fill="#111" font-weight="normal" stroke="#111" stroke-width="0.12">(num(T)=519; num(N)=44)</text></g>
<g transform="matrix(0.9212,0,0,0.9895,33.318,2.092)"><text x="407.6" y="152" font-family='"Liberation Serif", serif' font-size="8.6" text-anchor="middle" fill="#111" font-weight="normal" transform="rotate(-90 407.6 152)" stroke="#111" stroke-width="0.2">Expression &#8211;log<tspan font-size="70%" dy="1.8">2</tspan><tspan dy="-1.8">(TPM+1)</tspan></text></g>
<g transform="matrix(0.6720,0,0,0.8923,129.586,6.772)"><text x="395.9" y="66.2" font-family='"Liberation Sans", sans-serif' font-size="17" text-anchor="start" fill="#111" font-weight="normal" stroke="#111" stroke-width="0.55">a</text></g>
<line x1="61" y1="307.5" x2="190" y2="307.5" stroke="#e6e6e6" stroke-width="1" />
<line x1="120.55" y1="488.43" x2="120.55" y2="476.42" stroke="#333" stroke-width="0.7" stroke-dasharray="1.3 1.3"/>
<line x1="120.55" y1="497.1" x2="120.55" y2="497.1" stroke="#333" stroke-width="0.7" stroke-dasharray="1.3 1.3"/>
<line x1="114.25" y1="476.42" x2="126.85" y2="476.42" stroke="#666" stroke-width="0.9" />
<rect x="107.4" y="488.43" width="26.3" height="8.67" fill="#FE6565" stroke="#C04848" stroke-width="0.6"/>
<line x1="107.4" y1="497.1" x2="133.7" y2="497.1" stroke="#1a1a1a" stroke-width="1.6" />
<circle cx="121.97" cy="490.75" r="0.72" fill="#000"/>
<circle cx="117.3" cy="477.66" r="0.72" fill="#000"/>
<circle cx="122.81" cy="495.93" r="0.72" fill="#000"/>
<circle cx="122.16" cy="483.32" r="0.72" fill="#000"/>
<circle cx="120.32" cy="496.94" r="0.72" fill="#000"/>
<circle cx="122.14" cy="488.52" r="0.72" fill="#000"/>
<circle cx="120.24" cy="493.48" r="0.72" fill="#000"/>
<circle cx="118.75" cy="469.94" r="0.72" fill="#000"/>
<circle cx="117.95" cy="497.03" r="0.72" fill="#000"/>
<circle cx="118.79" cy="484.51" r="0.72" fill="#000"/>
<circle cx="117.52" cy="497.01" r="0.72" fill="#000"/>
<circle cx="119.47" cy="494.28" r="0.72" fill="#000"/>
<circle cx="122.19" cy="456.15" r="0.72" fill="#000"/>
<circle cx="121.83" cy="497.1" r="0.72" fill="#000"/>
<circle cx="122.82" cy="496.92" r="0.72" fill="#000"/>
<circle cx="121.94" cy="496.88" r="0.72" fill="#000"/>
<circle cx="119.01" cy="496.68" r="0.72" fill="#000"/>
<circle cx="120.9" cy="497.05" r="0.72" fill="#000"/>
<circle cx="120.13" cy="472.24" r="0.72" fill="#000"/>
<circle cx="122.45" cy="482.38" r="0.72" fill="#000"/>
<circle cx="120.7" cy="496.12" r="0.72" fill="#000"/>
<circle cx="119.01" cy="496.44" r="0.72" fill="#000"/>
<circle cx="121.48" cy="492.96" r="0.72" fill="#000"/>
<circle cx="123.61" cy="497.07" r="0.72" fill="#000"/>
<circle cx="118.69" cy="497.08" r="0.72" fill="#000"/>
<circle cx="123.05" cy="471.3" r="0.72" fill="#000"/>
<circle cx="117.36" cy="496.82" r="0.72" fill="#000"/>
<circle cx="118.97" cy="495.33" r="0.72" fill="#000"/>
<circle cx="118.81" cy="461.51" r="0.72" fill="#000"/>
<circle cx="122.15" cy="431.28" r="0.72" fill="#000"/>
<circle cx="123.47" cy="495.53" r="0.72" fill="#000"/>
<circle cx="122.17" cy="496.95" r="0.72" fill="#000"/>
<circle cx="119.41" cy="496.88" r="0.72" fill="#000"/>
<circle cx="123.05" cy="464.63" r="0.72" fill="#000"/>
<circle cx="119.42" cy="471.77" r="0.72" fill="#000"/>
<circle cx="118.84" cy="496.96" r="0.72" fill="#000"/>
<circle cx="123.23" cy="480.3" r="0.72" fill="#000"/>
<circle cx="121.41" cy="496.46" r="0.72" fill="#000"/>
<circle cx="121.82" cy="495.53" r="0.72" fill="#000"/>
<circle cx="121.64" cy="496.97" r="0.72" fill="#000"/>
<circle cx="123.7" cy="476.44" r="0.72" fill="#000"/>
<circle cx="120.35" cy="406.04" r="0.72" fill="#000"/>
<circle cx="122.78" cy="496.95" r="0.72" fill="#000"/>
<circle cx="121.85" cy="491.67" r="0.72" fill="#000"/>
<circle cx="122.9" cy="496.96" r="0.72" fill="#000"/>
<circle cx="120.14" cy="476.37" r="0.72" fill="#000"/>
<circle cx="122.03" cy="497.06" r="0.72" fill="#000"/>
<circle cx="121.01" cy="497.02" r="0.72" fill="#000"/>
<circle cx="119.29" cy="489.09" r="0.72" fill="#000"/>
<circle cx="118.66" cy="496.78" r="0.72" fill="#000"/>
<circle cx="121.36" cy="470.8" r="0.72" fill="#000"/>
<circle cx="117.77" cy="477.38" r="0.72" fill="#000"/>
<circle cx="123.25" cy="489.44" r="0.72" fill="#000"/>
<circle cx="118.21" cy="497" r="0.72" fill="#000"/>
<circle cx="117.44" cy="489.92" r="0.72" fill="#000"/>
<circle cx="117.96" cy="460.44" r="0.72" fill="#000"/>
<circle cx="123.37" cy="495.75" r="0.72" fill="#000"/>
<circle cx="119.53" cy="497.04" r="0.72" fill="#000"/>
<circle cx="118.2" cy="496.93" r="0.72" fill="#000"/>
<circle cx="117.45" cy="496.82" r="0.72" fill="#000"/>
<circle cx="117.54" cy="489.51" r="0.72" fill="#000"/>
<circle cx="121.82" cy="496.95" r="0.72" fill="#000"/>
<circle cx="121.43" cy="496.97" r="0.72" fill="#000"/>
<circle cx="121.85" cy="496.93" r="0.72" fill="#000"/>
<circle cx="122.11" cy="490.78" r="0.72" fill="#000"/>
<circle cx="117.69" cy="484.69" r="0.72" fill="#000"/>
<circle cx="121.14" cy="496.31" r="0.72" fill="#000"/>
<circle cx="119.65" cy="490.85" r="0.72" fill="#000"/>
<circle cx="122.64" cy="475.19" r="0.72" fill="#000"/>
<circle cx="122.65" cy="492.84" r="0.72" fill="#000"/>
<circle cx="123.12" cy="496.93" r="0.72" fill="#000"/>
<circle cx="117.7" cy="496.87" r="0.72" fill="#000"/>
<circle cx="122.97" cy="463.49" r="0.72" fill="#000"/>
<circle cx="123.27" cy="490.71" r="0.72" fill="#000"/>
<circle cx="123.47" cy="496.89" r="0.72" fill="#000"/>
<circle cx="117.97" cy="491.46" r="0.72" fill="#000"/>
<circle cx="118.62" cy="497.03" r="0.72" fill="#000"/>
<circle cx="118" cy="425.85" r="0.72" fill="#000"/>
<circle cx="117.49" cy="495.79" r="0.72" fill="#000"/>
<circle cx="122.84" cy="494.54" r="0.72" fill="#000"/>
<circle cx="122.6" cy="494.47" r="0.72" fill="#000"/>
<circle cx="121.43" cy="497.07" r="0.72" fill="#000"/>
<circle cx="122.69" cy="492.57" r="0.72" fill="#000"/>
<circle cx="121.41" cy="496.89" r="0.72" fill="#000"/>
<circle cx="119.15" cy="496.91" r="0.72" fill="#000"/>
<circle cx="117.92" cy="483.51" r="0.72" fill="#000"/>
<circle cx="117.91" cy="497.04" r="0.72" fill="#000"/>
<circle cx="122.24" cy="496.89" r="0.72" fill="#000"/>
<circle cx="118.61" cy="487.9" r="0.72" fill="#000"/>
<circle cx="119.36" cy="496.92" r="0.72" fill="#000"/>
<circle cx="120.05" cy="496.89" r="0.72" fill="#000"/>
<circle cx="117.4" cy="493.99" r="0.72" fill="#000"/>
<circle cx="118.95" cy="496.96" r="0.72" fill="#000"/>
<circle cx="119.12" cy="471.71" r="0.72" fill="#000"/>
<circle cx="121.97" cy="421.4" r="0.72" fill="#000"/>
<circle cx="119.68" cy="497.08" r="0.72" fill="#000"/>
<circle cx="119.37" cy="495.62" r="0.72" fill="#000"/>
<circle cx="123.6" cy="488.37" r="0.72" fill="#000"/>
<circle cx="120.57" cy="496.22" r="0.72" fill="#000"/>
<circle cx="122.86" cy="462.8" r="0.72" fill="#000"/>
<circle cx="121.33" cy="495.32" r="0.72" fill="#000"/>
<circle cx="117.47" cy="496.97" r="0.72" fill="#000"/>
<circle cx="119.98" cy="493.78" r="0.72" fill="#000"/>
<circle cx="120.13" cy="491.32" r="0.72" fill="#000"/>
<circle cx="122.35" cy="496.41" r="0.72" fill="#000"/>
<circle cx="119.54" cy="490.96" r="0.72" fill="#000"/>
<circle cx="121.9" cy="485.38" r="0.72" fill="#000"/>
<circle cx="120.8" cy="494.86" r="0.72" fill="#000"/>
<circle cx="118.69" cy="495.17" r="0.72" fill="#000"/>
<circle cx="122.93" cy="479.61" r="0.72" fill="#000"/>
<circle cx="117.86" cy="490.24" r="0.72" fill="#000"/>
<circle cx="122.65" cy="494.75" r="0.72" fill="#000"/>
<circle cx="118.38" cy="455.62" r="0.72" fill="#000"/>
<circle cx="117.27" cy="496.97" r="0.72" fill="#000"/>
<circle cx="118.59" cy="485.69" r="0.72" fill="#000"/>
<circle cx="122.27" cy="496.98" r="0.72" fill="#000"/>
<circle cx="123.69" cy="492.34" r="0.72" fill="#000"/>
<circle cx="117.29" cy="496.93" r="0.72" fill="#000"/>
<circle cx="120.49" cy="495.78" r="0.72" fill="#000"/>
<circle cx="120.49" cy="486.3" r="0.72" fill="#000"/>
<circle cx="122.5" cy="485.05" r="0.72" fill="#000"/>
<circle cx="118.48" cy="484.63" r="0.72" fill="#000"/>
<circle cx="120.51" cy="496.93" r="0.72" fill="#000"/>
<circle cx="119.55" cy="495.41" r="0.72" fill="#000"/>
<circle cx="122.73" cy="496.94" r="0.72" fill="#000"/>
<circle cx="118.98" cy="493.11" r="0.72" fill="#000"/>
<circle cx="123.47" cy="495.33" r="0.72" fill="#000"/>
<circle cx="119.13" cy="497.07" r="0.72" fill="#000"/>
<circle cx="118.67" cy="492.65" r="0.72" fill="#000"/>
<circle cx="121.86" cy="489.4" r="0.72" fill="#000"/>
<circle cx="120.54" cy="493.32" r="0.72" fill="#000"/>
<circle cx="117.99" cy="477.07" r="0.72" fill="#000"/>
<circle cx="121.45" cy="496.97" r="0.72" fill="#000"/>
<circle cx="117.79" cy="496.99" r="0.72" fill="#000"/>
<circle cx="122.44" cy="497.09" r="0.72" fill="#000"/>
<circle cx="121.85" cy="495.35" r="0.72" fill="#000"/>
<circle cx="122.44" cy="495.83" r="0.72" fill="#000"/>
<circle cx="121.39" cy="495.77" r="0.72" fill="#000"/>
<circle cx="119.6" cy="496.91" r="0.72" fill="#000"/>
<circle cx="119.9" cy="483.94" r="0.72" fill="#000"/>
<circle cx="119.86" cy="497.05" r="0.72" fill="#000"/>
<circle cx="123.12" cy="468.87" r="0.72" fill="#000"/>
<circle cx="117.83" cy="493.42" r="0.72" fill="#000"/>
<circle cx="123.1" cy="494.13" r="0.72" fill="#000"/>
<circle cx="117.43" cy="484.58" r="0.72" fill="#000"/>
<circle cx="118.62" cy="496.92" r="0.72" fill="#000"/>
<circle cx="118.99" cy="496.99" r="0.72" fill="#000"/>
<circle cx="123.19" cy="496.79" r="0.72" fill="#000"/>
<circle cx="120.56" cy="497.07" r="0.72" fill="#000"/>
<circle cx="119.76" cy="496.77" r="0.72" fill="#000"/>
<circle cx="123.07" cy="491.98" r="0.72" fill="#000"/>
<circle cx="118.8" cy="494.62" r="0.72" fill="#000"/>
<circle cx="120.29" cy="496.9" r="0.72" fill="#000"/>
<circle cx="120.76" cy="492.87" r="0.72" fill="#000"/>
<circle cx="122.22" cy="497.03" r="0.72" fill="#000"/>
<circle cx="122.21" cy="481.91" r="0.72" fill="#000"/>
<circle cx="121.51" cy="496.97" r="0.72" fill="#000"/>
<circle cx="119.55" cy="496.91" r="0.72" fill="#000"/>
<circle cx="119.41" cy="496.98" r="0.72" fill="#000"/>
<circle cx="118.28" cy="490.06" r="0.72" fill="#000"/>
<circle cx="122.81" cy="480.95" r="0.72" fill="#000"/>
<circle cx="121.62" cy="485.04" r="0.72" fill="#000"/>
<circle cx="122.14" cy="497.05" r="0.72" fill="#000"/>
<circle cx="118.38" cy="496.02" r="0.72" fill="#000"/>
<circle cx="120.15" cy="496.38" r="0.72" fill="#000"/>
<circle cx="122.35" cy="496.94" r="0.72" fill="#000"/>
<circle cx="121.07" cy="437.66" r="0.72" fill="#000"/>
<circle cx="118.09" cy="497.07" r="0.72" fill="#000"/>
<circle cx="120.3" cy="495.4" r="0.72" fill="#000"/>
<circle cx="123.08" cy="487.39" r="0.72" fill="#000"/>
<circle cx="118.83" cy="422.86" r="0.72" fill="#000"/>
<circle cx="118.52" cy="496.99" r="0.72" fill="#000"/>
<circle cx="119.24" cy="495.67" r="0.72" fill="#000"/>
<circle cx="121.89" cy="488.57" r="0.72" fill="#000"/>
<circle cx="122.81" cy="497.07" r="0.72" fill="#000"/>
<circle cx="118.28" cy="496.92" r="0.72" fill="#000"/>
<circle cx="118.29" cy="473.63" r="0.72" fill="#000"/>
<circle cx="118.89" cy="497" r="0.72" fill="#000"/>
<circle cx="119.41" cy="496.15" r="0.72" fill="#000"/>
<circle cx="120.7" cy="496.88" r="0.72" fill="#000"/>
<circle cx="118.32" cy="495.91" r="0.72" fill="#000"/>
<circle cx="119.42" cy="497.04" r="0.72" fill="#000"/>
<circle cx="118.51" cy="497.07" r="0.72" fill="#000"/>
<circle cx="123.67" cy="404.28" r="0.72" fill="#000"/>
<circle cx="122.05" cy="487.2" r="0.72" fill="#000"/>
<circle cx="117.93" cy="488.87" r="0.72" fill="#000"/>
<circle cx="123.59" cy="496.93" r="0.72" fill="#000"/>
<circle cx="117.93" cy="496.91" r="0.72" fill="#000"/>
<circle cx="119.79" cy="493.89" r="0.72" fill="#000"/>
<circle cx="123.73" cy="496.92" r="0.72" fill="#000"/>
<circle cx="122.49" cy="495.62" r="0.72" fill="#000"/>
<circle cx="122.08" cy="461.92" r="0.72" fill="#000"/>
<circle cx="120.12" cy="496.38" r="0.72" fill="#000"/>
<circle cx="118.55" cy="496.59" r="0.72" fill="#000"/>
<circle cx="121.46" cy="427.53" r="0.72" fill="#000"/>
<circle cx="117.97" cy="492.26" r="0.72" fill="#000"/>
<circle cx="118.62" cy="497.07" r="0.72" fill="#000"/>
<circle cx="119.82" cy="496.08" r="0.72" fill="#000"/>
<circle cx="117.49" cy="491.19" r="0.72" fill="#000"/>
<circle cx="119.89" cy="497.06" r="0.72" fill="#000"/>
<circle cx="122.46" cy="496.54" r="0.72" fill="#000"/>
<circle cx="121.82" cy="489.95" r="0.72" fill="#000"/>
<circle cx="120.55" cy="477.86" r="0.72" fill="#000"/>
<circle cx="121.42" cy="492.82" r="0.72" fill="#000"/>
<circle cx="120.31" cy="474.66" r="0.72" fill="#000"/>
<circle cx="118.19" cy="495.61" r="0.72" fill="#000"/>
<circle cx="121.23" cy="496.15" r="0.72" fill="#000"/>
<circle cx="119.92" cy="479.83" r="0.72" fill="#000"/>
<circle cx="122.13" cy="496.25" r="0.72" fill="#000"/>
<circle cx="123.23" cy="485.53" r="0.72" fill="#000"/>
<circle cx="120.09" cy="496.94" r="0.72" fill="#000"/>
<circle cx="121.04" cy="496.51" r="0.72" fill="#000"/>
<circle cx="122.19" cy="496.96" r="0.72" fill="#000"/>
<circle cx="120.03" cy="493.95" r="0.72" fill="#000"/>
<circle cx="118.77" cy="496.98" r="0.72" fill="#000"/>
<circle cx="122.01" cy="496.95" r="0.72" fill="#000"/>
<circle cx="123.05" cy="496.94" r="0.72" fill="#000"/>
<circle cx="122.35" cy="495.57" r="0.72" fill="#000"/>
<circle cx="121.87" cy="496.81" r="0.72" fill="#000"/>
<circle cx="122.87" cy="495.73" r="0.72" fill="#000"/>
<circle cx="121.73" cy="411.14" r="0.72" fill="#000"/>
<circle cx="121.48" cy="490.38" r="0.72" fill="#000"/>
<circle cx="120.25" cy="478.01" r="0.72" fill="#000"/>
<circle cx="119.32" cy="496.95" r="0.72" fill="#000"/>
<circle cx="121.39" cy="496.23" r="0.72" fill="#000"/>
<circle cx="117.91" cy="497.05" r="0.72" fill="#000"/>
<circle cx="120.02" cy="490.04" r="0.72" fill="#000"/>
<circle cx="122.41" cy="496.39" r="0.72" fill="#000"/>
<circle cx="121.95" cy="496.9" r="0.72" fill="#000"/>
<circle cx="121.4" cy="497.09" r="0.72" fill="#000"/>
<circle cx="118.91" cy="496.97" r="0.72" fill="#000"/>
<circle cx="120.05" cy="496.91" r="0.72" fill="#000"/>
<circle cx="120.26" cy="496.15" r="0.72" fill="#000"/>
<circle cx="121.35" cy="464.38" r="0.72" fill="#000"/>
<circle cx="119.95" cy="489.39" r="0.72" fill="#000"/>
<circle cx="121.7" cy="496.9" r="0.72" fill="#000"/>
<circle cx="123.38" cy="496.4" r="0.72" fill="#000"/>
<circle cx="118.47" cy="496.99" r="0.72" fill="#000"/>
<circle cx="121.57" cy="460.76" r="0.72" fill="#000"/>
<circle cx="122.38" cy="496.41" r="0.72" fill="#000"/>
<circle cx="119.82" cy="486.98" r="0.72" fill="#000"/>
<circle cx="120.48" cy="489.16" r="0.72" fill="#000"/>
<circle cx="123.67" cy="468.93" r="0.72" fill="#000"/>
<circle cx="117.51" cy="497.08" r="0.72" fill="#000"/>
<circle cx="120.84" cy="496.71" r="0.72" fill="#000"/>
<circle cx="118.32" cy="496.22" r="0.72" fill="#000"/>
<circle cx="122.4" cy="497.04" r="0.72" fill="#000"/>
<circle cx="123.45" cy="475.76" r="0.72" fill="#000"/>
<circle cx="120.68" cy="496.68" r="0.72" fill="#000"/>
<circle cx="117.93" cy="486.51" r="0.72" fill="#000"/>
<circle cx="121.04" cy="494.79" r="0.72" fill="#000"/>
<circle cx="120.82" cy="497.06" r="0.72" fill="#000"/>
<circle cx="121.98" cy="496.15" r="0.72" fill="#000"/>
<circle cx="120.63" cy="496.92" r="0.72" fill="#000"/>
<circle cx="121.47" cy="497.07" r="0.72" fill="#000"/>
<circle cx="122.71" cy="496.99" r="0.72" fill="#000"/>
<circle cx="120.69" cy="492.69" r="0.72" fill="#000"/>
<circle cx="119.96" cy="497.08" r="0.72" fill="#000"/>
<circle cx="123.5" cy="496.78" r="0.72" fill="#000"/>
<circle cx="118.64" cy="495.91" r="0.72" fill="#000"/>
<circle cx="121.76" cy="494.11" r="0.72" fill="#000"/>
<circle cx="119.84" cy="497" r="0.72" fill="#000"/>
<circle cx="122.28" cy="489.62" r="0.72" fill="#000"/>
<circle cx="118.07" cy="496.91" r="0.72" fill="#000"/>
<circle cx="123.74" cy="489.1" r="0.72" fill="#000"/>
<circle cx="119.6" cy="490.74" r="0.72" fill="#000"/>
<circle cx="117.63" cy="496.99" r="0.72" fill="#000"/>
<circle cx="119.07" cy="496.95" r="0.72" fill="#000"/>
<circle cx="119.89" cy="496.89" r="0.72" fill="#000"/>
<circle cx="117.35" cy="489.45" r="0.72" fill="#000"/>
<circle cx="120.01" cy="496.06" r="0.72" fill="#000"/>
<circle cx="120.03" cy="496.2" r="0.72" fill="#000"/>
<circle cx="121.85" cy="477.71" r="0.72" fill="#000"/>
<circle cx="119.58" cy="496.93" r="0.72" fill="#000"/>
<circle cx="119.01" cy="496.88" r="0.72" fill="#000"/>
<circle cx="118.74" cy="496.53" r="0.72" fill="#000"/>
<circle cx="122.14" cy="496.94" r="0.72" fill="#000"/>
<circle cx="123.44" cy="497.07" r="0.72" fill="#000"/>
<circle cx="120.73" cy="497.08" r="0.72" fill="#000"/>
<circle cx="118.7" cy="491.72" r="0.72" fill="#000"/>
<circle cx="122.53" cy="493.5" r="0.72" fill="#000"/>
<circle cx="119.84" cy="483" r="0.72" fill="#000"/>
<circle cx="118.66" cy="432.87" r="0.72" fill="#000"/>
<circle cx="118.11" cy="496.88" r="0.72" fill="#000"/>
<circle cx="122.37" cy="490.62" r="0.72" fill="#000"/>
<circle cx="122.59" cy="465.62" r="0.72" fill="#000"/>
<circle cx="121.43" cy="496.94" r="0.72" fill="#000"/>
<circle cx="120.35" cy="490.1" r="0.72" fill="#000"/>
<circle cx="120.96" cy="490.73" r="0.72" fill="#000"/>
<circle cx="118.75" cy="452.21" r="0.72" fill="#000"/>
<circle cx="123.6" cy="477.49" r="0.72" fill="#000"/>
<circle cx="119.58" cy="496.93" r="0.72" fill="#000"/>
<circle cx="121.46" cy="491.67" r="0.72" fill="#000"/>
<circle cx="122.65" cy="497.03" r="0.72" fill="#000"/>
<circle cx="122.63" cy="495.88" r="0.72" fill="#000"/>
<circle cx="120.34" cy="496.16" r="0.72" fill="#000"/>
<circle cx="119.2" cy="497.06" r="0.72" fill="#000"/>
<circle cx="120.87" cy="496.23" r="0.72" fill="#000"/>
<circle cx="118.09" cy="496.66" r="0.72" fill="#000"/>
<circle cx="122.74" cy="495.34" r="0.72" fill="#000"/>
<circle cx="119.59" cy="496.89" r="0.72" fill="#000"/>
<circle cx="122.86" cy="496.98" r="0.72" fill="#000"/>
<circle cx="119.02" cy="496.08" r="0.72" fill="#000"/>
<circle cx="119.74" cy="495.51" r="0.72" fill="#000"/>
<circle cx="118.93" cy="496.98" r="0.72" fill="#000"/>
<circle cx="120.06" cy="490.76" r="0.72" fill="#000"/>
<circle cx="118.48" cy="496.92" r="0.72" fill="#000"/>
<circle cx="117.28" cy="497.03" r="0.72" fill="#000"/>
<circle cx="122.01" cy="496.55" r="0.72" fill="#000"/>
<circle cx="119.11" cy="495.93" r="0.72" fill="#000"/>
<circle cx="118.87" cy="496.99" r="0.72" fill="#000"/>
<circle cx="119.25" cy="493.04" r="0.72" fill="#000"/>
<circle cx="120.42" cy="489.77" r="0.72" fill="#000"/>
<circle cx="120.08" cy="493.85" r="0.72" fill="#000"/>
<circle cx="121.45" cy="489.8" r="0.72" fill="#000"/>
<circle cx="121.6" cy="497.08" r="0.72" fill="#000"/>
<circle cx="119.65" cy="496.17" r="0.72" fill="#000"/>
<circle cx="123.37" cy="496.38" r="0.72" fill="#000"/>
<circle cx="122.88" cy="497.05" r="0.72" fill="#000"/>
<circle cx="117.64" cy="496.07" r="0.72" fill="#000"/>
<circle cx="122.71" cy="497.06" r="0.72" fill="#000"/>
<circle cx="123.22" cy="495.36" r="0.72" fill="#000"/>
<circle cx="122.42" cy="492.95" r="0.72" fill="#000"/>
<circle cx="118.19" cy="495.56" r="0.72" fill="#000"/>
<circle cx="122.73" cy="496.68" r="0.72" fill="#000"/>
<circle cx="121.43" cy="496.91" r="0.72" fill="#000"/>
<circle cx="117.36" cy="497.08" r="0.72" fill="#000"/>
<circle cx="117.34" cy="496.51" r="0.72" fill="#000"/>
<circle cx="123.52" cy="473.17" r="0.72" fill="#000"/>
<circle cx="121.58" cy="493.51" r="0.72" fill="#000"/>
<circle cx="118.91" cy="496.91" r="0.72" fill="#000"/>
<circle cx="117.93" cy="490.69" r="0.72" fill="#000"/>
<circle cx="118.2" cy="496.96" r="0.72" fill="#000"/>
<circle cx="118.8" cy="495.56" r="0.72" fill="#000"/>
<circle cx="122.37" cy="492.14" r="0.72" fill="#000"/>
<circle cx="119.54" cy="452.67" r="0.72" fill="#000"/>
<circle cx="118.27" cy="496.39" r="0.72" fill="#000"/>
<circle cx="123.21" cy="493.22" r="0.72" fill="#000"/>
<circle cx="122.47" cy="459.17" r="0.72" fill="#000"/>
<circle cx="118.37" cy="486.44" r="0.72" fill="#000"/>
<circle cx="123.12" cy="491.81" r="0.72" fill="#000"/>
<circle cx="121.26" cy="491.99" r="0.72" fill="#000"/>
<circle cx="122.4" cy="496.01" r="0.72" fill="#000"/>
<circle cx="121.66" cy="495.98" r="0.72" fill="#000"/>
<circle cx="123.14" cy="496.9" r="0.72" fill="#000"/>
<circle cx="122.44" cy="481.07" r="0.72" fill="#000"/>
<circle cx="122.78" cy="476.44" r="0.72" fill="#000"/>
<circle cx="118.56" cy="496.24" r="0.72" fill="#000"/>
<circle cx="121.82" cy="468.23" r="0.72" fill="#000"/>
<circle cx="120.75" cy="497.07" r="0.72" fill="#000"/>
<circle cx="122.14" cy="497" r="0.72" fill="#000"/>
<circle cx="120.15" cy="495.13" r="0.72" fill="#000"/>
<circle cx="123.07" cy="496.81" r="0.72" fill="#000"/>
<circle cx="120.91" cy="496.41" r="0.72" fill="#000"/>
<circle cx="119" cy="431.57" r="0.72" fill="#000"/>
<circle cx="118.8" cy="496.99" r="0.72" fill="#000"/>
<circle cx="118.18" cy="496.96" r="0.72" fill="#000"/>
<circle cx="120.5" cy="496.93" r="0.72" fill="#000"/>
<circle cx="117.65" cy="490.35" r="0.72" fill="#000"/>
<circle cx="120.33" cy="496.93" r="0.72" fill="#000"/>
<circle cx="118.21" cy="497.1" r="0.72" fill="#000"/>
<circle cx="120.49" cy="494.11" r="0.72" fill="#000"/>
<circle cx="120.54" cy="496.15" r="0.72" fill="#000"/>
<circle cx="120.81" cy="496.92" r="0.72" fill="#000"/>
<circle cx="122.94" cy="495.37" r="0.72" fill="#000"/>
<circle cx="117.31" cy="491.18" r="0.72" fill="#000"/>
<circle cx="122.79" cy="493.99" r="0.72" fill="#000"/>
<circle cx="120.34" cy="491.89" r="0.72" fill="#000"/>
<circle cx="120.96" cy="493.65" r="0.72" fill="#000"/>
<circle cx="121.64" cy="480.93" r="0.72" fill="#000"/>
<circle cx="122.79" cy="439.28" r="0.72" fill="#000"/>
<circle cx="119.73" cy="496.62" r="0.72" fill="#000"/>
<circle cx="120.02" cy="496.51" r="0.72" fill="#000"/>
<circle cx="123.58" cy="474.67" r="0.72" fill="#000"/>
<circle cx="117.76" cy="496.77" r="0.72" fill="#000"/>
<circle cx="121.45" cy="489.37" r="0.72" fill="#000"/>
<circle cx="121.45" cy="489.93" r="0.72" fill="#000"/>
<circle cx="117.45" cy="490.18" r="0.72" fill="#000"/>
<circle cx="121.27" cy="443.92" r="0.72" fill="#000"/>
<circle cx="121.75" cy="481.55" r="0.72" fill="#000"/>
<circle cx="123.39" cy="496.98" r="0.72" fill="#000"/>
<circle cx="119.44" cy="491.97" r="0.72" fill="#000"/>
<circle cx="123.72" cy="495.39" r="0.72" fill="#000"/>
<circle cx="120.62" cy="493.56" r="0.72" fill="#000"/>
<circle cx="120.45" cy="496.34" r="0.72" fill="#000"/>
<circle cx="123.16" cy="496.89" r="0.72" fill="#000"/>
<circle cx="117.49" cy="488.45" r="0.72" fill="#000"/>
<circle cx="121.98" cy="494.38" r="0.72" fill="#000"/>
<circle cx="121.37" cy="496.92" r="0.72" fill="#000"/>
<circle cx="119.49" cy="496.92" r="0.72" fill="#000"/>
<circle cx="122.93" cy="496.68" r="0.72" fill="#000"/>
<circle cx="119.67" cy="496.97" r="0.72" fill="#000"/>
<circle cx="120.38" cy="494.94" r="0.72" fill="#000"/>
<circle cx="120.72" cy="497.01" r="0.72" fill="#000"/>
<circle cx="122.33" cy="497.05" r="0.72" fill="#000"/>
<circle cx="118.65" cy="497.05" r="0.72" fill="#000"/>
<circle cx="120.12" cy="497.02" r="0.72" fill="#000"/>
<circle cx="120.04" cy="489.67" r="0.72" fill="#000"/>
<circle cx="120.91" cy="497.02" r="0.72" fill="#000"/>
<circle cx="122.7" cy="495.7" r="0.72" fill="#000"/>
<circle cx="119.19" cy="486.38" r="0.72" fill="#000"/>
<circle cx="122.7" cy="495.47" r="0.72" fill="#000"/>
<circle cx="119.92" cy="496.98" r="0.72" fill="#000"/>
<circle cx="120.57" cy="477.68" r="0.72" fill="#000"/>
<circle cx="119.05" cy="477.36" r="0.72" fill="#000"/>
<circle cx="120.59" cy="497.06" r="0.72" fill="#000"/>
<circle cx="123.67" cy="496.91" r="0.72" fill="#000"/>
<circle cx="121.57" cy="495.12" r="0.72" fill="#000"/>
<circle cx="122.47" cy="484.13" r="0.72" fill="#000"/>
<circle cx="119.44" cy="496.16" r="0.72" fill="#000"/>
<circle cx="119.35" cy="489.37" r="0.72" fill="#000"/>
<circle cx="119.23" cy="496.91" r="0.72" fill="#000"/>
<circle cx="121.12" cy="489.37" r="0.72" fill="#000"/>
<circle cx="121.44" cy="496.67" r="0.72" fill="#000"/>
<circle cx="122.42" cy="496.61" r="0.72" fill="#000"/>
<circle cx="117.53" cy="487.57" r="0.72" fill="#000"/>
<circle cx="122.01" cy="479.86" r="0.72" fill="#000"/>
<circle cx="123.09" cy="481.17" r="0.72" fill="#000"/>
<circle cx="120.85" cy="493.46" r="0.72" fill="#000"/>
<circle cx="117.59" cy="495.94" r="0.72" fill="#000"/>
<circle cx="119.24" cy="489.61" r="0.72" fill="#000"/>
<circle cx="117.3" cy="491.93" r="0.72" fill="#000"/>
<circle cx="118.51" cy="480.94" r="0.72" fill="#000"/>
<circle cx="123.32" cy="483.69" r="0.72" fill="#000"/>
<circle cx="121.26" cy="497.01" r="0.72" fill="#000"/>
<circle cx="121.59" cy="496.28" r="0.72" fill="#000"/>
<circle cx="122.45" cy="490.65" r="0.72" fill="#000"/>
<circle cx="123.24" cy="496.93" r="0.72" fill="#000"/>
<circle cx="121.28" cy="496.96" r="0.72" fill="#000"/>
<circle cx="121.32" cy="497.09" r="0.72" fill="#000"/>
<circle cx="121.38" cy="492.96" r="0.72" fill="#000"/>
<circle cx="121.84" cy="459.55" r="0.72" fill="#000"/>
<circle cx="121.18" cy="437.76" r="0.72" fill="#000"/>
<circle cx="121.74" cy="497" r="0.72" fill="#000"/>
<circle cx="118.66" cy="490.15" r="0.72" fill="#000"/>
<circle cx="121.65" cy="495.95" r="0.72" fill="#000"/>
<circle cx="120.27" cy="491.7" r="0.72" fill="#000"/>
<circle cx="122.28" cy="496.12" r="0.72" fill="#000"/>
<circle cx="117.93" cy="461.66" r="0.72" fill="#000"/>
<circle cx="118.45" cy="420.39" r="0.72" fill="#000"/>
<circle cx="117.51" cy="497.06" r="0.72" fill="#000"/>
<circle cx="122.36" cy="489.44" r="0.72" fill="#000"/>
<circle cx="123.27" cy="497.01" r="0.72" fill="#000"/>
<circle cx="121.57" cy="497.07" r="0.72" fill="#000"/>
<circle cx="119.69" cy="496.89" r="0.72" fill="#000"/>
<circle cx="122.67" cy="488.94" r="0.72" fill="#000"/>
<circle cx="122.43" cy="410.39" r="0.72" fill="#000"/>
<circle cx="120.96" cy="497.01" r="0.72" fill="#000"/>
<circle cx="118.96" cy="496.64" r="0.72" fill="#000"/>
<circle cx="119.25" cy="497.08" r="0.72" fill="#000"/>
<circle cx="120.04" cy="494.15" r="0.72" fill="#000"/>
<circle cx="119.36" cy="495.45" r="0.72" fill="#000"/>
<circle cx="120.09" cy="496.31" r="0.72" fill="#000"/>
<circle cx="121.48" cy="496.81" r="0.72" fill="#000"/>
<circle cx="123.4" cy="483.76" r="0.72" fill="#000"/>
<circle cx="117.62" cy="480.23" r="0.72" fill="#000"/>
<circle cx="120.99" cy="496.89" r="0.72" fill="#000"/>
<circle cx="117.52" cy="496.16" r="0.72" fill="#000"/>
<circle cx="118.04" cy="492.07" r="0.72" fill="#000"/>
<circle cx="122.59" cy="487.01" r="0.72" fill="#000"/>
<circle cx="121.05" cy="427.79" r="0.72" fill="#000"/>
<circle cx="123.3" cy="496.18" r="0.72" fill="#000"/>
<circle cx="120.2" cy="489.97" r="0.72" fill="#000"/>
<circle cx="117.36" cy="494.05" r="0.72" fill="#000"/>
<circle cx="119.81" cy="483.79" r="0.72" fill="#000"/>
<circle cx="121.15" cy="496.99" r="0.72" fill="#000"/>
<circle cx="123.43" cy="496.97" r="0.72" fill="#000"/>
<circle cx="123.71" cy="497.02" r="0.72" fill="#000"/>
<circle cx="120.39" cy="461.62" r="0.72" fill="#000"/>
<circle cx="119.97" cy="496.91" r="0.72" fill="#000"/>
<circle cx="117.93" cy="495.41" r="0.72" fill="#000"/>
<circle cx="121.5" cy="497.01" r="0.72" fill="#000"/>
<circle cx="118.66" cy="496.69" r="0.72" fill="#000"/>
<circle cx="118.26" cy="497.09" r="0.72" fill="#000"/>
<circle cx="117.36" cy="493.5" r="0.72" fill="#000"/>
<circle cx="117.29" cy="496.99" r="0.72" fill="#000"/>
<circle cx="121.76" cy="491.87" r="0.72" fill="#000"/>
<circle cx="118.06" cy="496.9" r="0.72" fill="#000"/>
<circle cx="123.62" cy="496.93" r="0.72" fill="#000"/>
<circle cx="117.84" cy="495.46" r="0.72" fill="#000"/>
<circle cx="122.98" cy="496.37" r="0.72" fill="#000"/>
<circle cx="118.11" cy="496.91" r="0.72" fill="#000"/>
<circle cx="117.38" cy="497.06" r="0.72" fill="#000"/>
<circle cx="121.99" cy="497.05" r="0.72" fill="#000"/>
<circle cx="118.86" cy="472.92" r="0.72" fill="#000"/>
<circle cx="122.09" cy="496.8" r="0.72" fill="#000"/>
<circle cx="118.49" cy="497.04" r="0.72" fill="#000"/>
<circle cx="117.59" cy="496.96" r="0.72" fill="#000"/>
<circle cx="122.35" cy="495.45" r="0.72" fill="#000"/>
<circle cx="121.95" cy="401.75" r="0.72" fill="#000"/>
<circle cx="122.89" cy="496.95" r="0.72" fill="#000"/>
<circle cx="122.06" cy="477.59" r="0.72" fill="#000"/>
<circle cx="117.82" cy="495.44" r="0.72" fill="#000"/>
<circle cx="121.4" cy="495.99" r="0.72" fill="#000"/>
<circle cx="121.93" cy="483.16" r="0.72" fill="#000"/>
<circle cx="120.29" cy="496.13" r="0.72" fill="#000"/>
<circle cx="123.39" cy="497.06" r="0.72" fill="#000"/>
<circle cx="118.93" cy="493.93" r="0.72" fill="#000"/>
<circle cx="123.6" cy="490.99" r="0.72" fill="#000"/>
<circle cx="121.98" cy="491.93" r="0.72" fill="#000"/>
<circle cx="117.34" cy="496.89" r="0.72" fill="#000"/>
<circle cx="117.36" cy="460.14" r="0.72" fill="#000"/>
<circle cx="121.54" cy="477.84" r="0.72" fill="#000"/>
<circle cx="122.64" cy="408.76" r="0.72" fill="#000"/>
<circle cx="117.79" cy="495.76" r="0.72" fill="#000"/>
<circle cx="119.31" cy="480.69" r="0.72" fill="#000"/>
<circle cx="122.06" cy="489.12" r="0.72" fill="#000"/>
<circle cx="118.35" cy="496.97" r="0.72" fill="#000"/>
<circle cx="122.92" cy="497.08" r="0.72" fill="#000"/>
<circle cx="120.46" cy="496.97" r="0.72" fill="#000"/>
<circle cx="117.66" cy="497.01" r="0.72" fill="#000"/>
<circle cx="119.68" cy="497.04" r="0.72" fill="#000"/>
<circle cx="121.04" cy="496.42" r="0.72" fill="#000"/>
<circle cx="120.15" cy="488.1" r="0.72" fill="#000"/>
<circle cx="121.71" cy="496.8" r="0.72" fill="#000"/>
<circle cx="118.22" cy="494.93" r="0.72" fill="#000"/>
<circle cx="122.51" cy="497.09" r="0.72" fill="#000"/>
<circle cx="119.65" cy="496.94" r="0.72" fill="#000"/>
<circle cx="121.5" cy="448.31" r="0.72" fill="#000"/>
<line x1="107.4" y1="495.32" x2="133.7" y2="495.32" stroke="#1a1a1a" stroke-width="1.5" />
<line x1="152.95" y1="405.25" x2="152.95" y2="326.3" stroke="#333" stroke-width="0.7" stroke-dasharray="1.3 1.3"/>
<line x1="152.95" y1="460.4" x2="152.95" y2="493.32" stroke="#333" stroke-width="0.7" stroke-dasharray="1.3 1.3"/>
<line x1="146.65" y1="326.3" x2="159.25" y2="326.3" stroke="#666" stroke-width="0.9" />
<line x1="146.65" y1="493.32" x2="159.25" y2="493.32" stroke="#666" stroke-width="0.9" />
<rect x="139.9" y="405.25" width="26.1" height="55.16" fill="#7F7F7F" stroke="#585858" stroke-width="0.6"/>
<line x1="139.9" y1="497.1" x2="166" y2="497.1" stroke="#1a1a1a" stroke-width="1.6" />
<circle cx="153.8" cy="493.32" r="0.72" fill="#000"/>
<circle cx="152.41" cy="490.43" r="0.72" fill="#000"/>
<circle cx="152.2" cy="488.2" r="0.72" fill="#000"/>
<circle cx="154.82" cy="479.31" r="0.72" fill="#000"/>
<circle cx="155.85" cy="474.86" r="0.72" fill="#000"/>
<circle cx="154.81" cy="470.41" r="0.72" fill="#000"/>
<circle cx="153.39" cy="465.96" r="0.72" fill="#000"/>
<circle cx="151.6" cy="461.52" r="0.72" fill="#000"/>
<circle cx="150.08" cy="459.29" r="0.72" fill="#000"/>
<circle cx="156.04" cy="458.18" r="0.72" fill="#000"/>
<circle cx="154.28" cy="457.07" r="0.72" fill="#000"/>
<circle cx="155.09" cy="452.62" r="0.72" fill="#000"/>
<circle cx="151.85" cy="448.17" r="0.72" fill="#000"/>
<circle cx="153.64" cy="443.72" r="0.72" fill="#000"/>
<circle cx="156.07" cy="441.5" r="0.72" fill="#000"/>
<circle cx="155.11" cy="439.28" r="0.72" fill="#000"/>
<circle cx="153.61" cy="437.05" r="0.72" fill="#000"/>
<circle cx="151.7" cy="435.94" r="0.72" fill="#000"/>
<circle cx="152.48" cy="434.83" r="0.72" fill="#000"/>
<circle cx="155.48" cy="430.38" r="0.72" fill="#000"/>
<circle cx="152.15" cy="425.93" r="0.72" fill="#000"/>
<circle cx="154.16" cy="421.48" r="0.72" fill="#000"/>
<circle cx="153.61" cy="417.04" r="0.72" fill="#000"/>
<circle cx="155.53" cy="415.92" r="0.72" fill="#000"/>
<circle cx="154.96" cy="414.81" r="0.72" fill="#000"/>
<circle cx="151.54" cy="405.92" r="0.72" fill="#000"/>
<circle cx="149.7" cy="403.69" r="0.72" fill="#000"/>
<circle cx="151.4" cy="399.24" r="0.72" fill="#000"/>
<circle cx="152.44" cy="392.57" r="0.72" fill="#000"/>
<circle cx="153.52" cy="385.9" r="0.72" fill="#000"/>
<circle cx="155.01" cy="381.45" r="0.72" fill="#000"/>
<circle cx="155.48" cy="377" r="0.72" fill="#000"/>
<circle cx="149.96" cy="354.76" r="0.72" fill="#000"/>
<circle cx="155.12" cy="339.2" r="0.72" fill="#000"/>
<circle cx="154.98" cy="326.3" r="0.72" fill="#000"/>
<circle cx="155.35" cy="497.1" r="0.72" fill="#000"/>
<circle cx="153.42" cy="497.1" r="0.72" fill="#000"/>
<circle cx="151.47" cy="497.1" r="0.72" fill="#000"/>
<circle cx="155.24" cy="497.1" r="0.72" fill="#000"/>
<circle cx="154.95" cy="497.1" r="0.72" fill="#000"/>
<circle cx="154.15" cy="497.1" r="0.72" fill="#000"/>
<circle cx="155.65" cy="497.1" r="0.72" fill="#000"/>
<circle cx="151.95" cy="497.1" r="0.72" fill="#000"/>
<circle cx="150.24" cy="497.1" r="0.72" fill="#000"/>
<line x1="139.9" y1="436.61" x2="166" y2="436.61" stroke="#1a1a1a" stroke-width="1.5" />
<rect x="84.5" y="311.5" width="104" height="193" fill="none" stroke="#6a6a6a" stroke-width="1"/>
<line x1="80.1" y1="497.1" x2="84.1" y2="497.1" stroke="#555" stroke-width="0.9" />
<text x="73.4" y="497.1" font-family='"Liberation Sans", sans-serif' font-size="6.6" text-anchor="middle" fill="#333" font-weight="normal" transform="rotate(-90 73.4 497.1)" dominant-baseline="central" stroke="#333" stroke-width="0.2">0</text>
<line x1="80.1" y1="452.62" x2="84.1" y2="452.62" stroke="#555" stroke-width="0.9" />
<text x="73.4" y="452.62" font-family='"Liberation Sans", sans-serif' font-size="6.6" text-anchor="middle" fill="#333" font-weight="normal" transform="rotate(-90 73.4 452.62)" dominant-baseline="central" stroke="#333" stroke-width="0.2">2</text>
<line x1="80.1" y1="408.14" x2="84.1" y2="408.14" stroke="#555" stroke-width="0.9" />
<text x="73.4" y="408.14" font-family='"Liberation Sans", sans-serif' font-size="6.6" text-anchor="middle" fill="#333" font-weight="normal" transform="rotate(-90 73.4 408.14)" dominant-baseline="central" stroke="#333" stroke-width="0.2">4</text>
<line x1="80.1" y1="363.66" x2="84.1" y2="363.66" stroke="#555" stroke-width="0.9" />
<text x="73.4" y="363.66" font-family='"Liberation Sans", sans-serif' font-size="6.6" text-anchor="middle" fill="#333" font-weight="normal" transform="rotate(-90 73.4 363.66)" dominant-baseline="central" stroke="#333" stroke-width="0.2">6</text>
<line x1="80.1" y1="319.18" x2="84.1" y2="319.18" stroke="#555" stroke-width="0.9" />
<text x="73.4" y="319.18" font-family='"Liberation Sans", sans-serif' font-size="6.6" text-anchor="middle" fill="#333" font-weight="normal" transform="rotate(-90 73.4 319.18)" dominant-baseline="central" stroke="#333" stroke-width="0.2">8</text>
<line x1="136.7" y1="504.6" x2="136.7" y2="508.6" stroke="#555" stroke-width="0.9" />
<polyline points="120.6,391.7 120.6,317.7 152.8,317.7 152.8,321" fill="none" stroke="#777" stroke-width="0.9"/>
<polygon points="136.7,315.9 137.31,317.36 138.89,317.49 137.68,318.52 138.05,320.06 136.7,319.24 135.35,320.06 135.72,318.52 134.51,317.49 136.09,317.36" fill="#F01818"/>
<g transform="matrix(1.0027,0,0,1.0200,-0.249,-10.501)"><text x="136.7" y="521.2" font-family='"Liberation Serif", serif' font-size="7.0" text-anchor="middle" fill="#111" font-weight="normal" stroke="#111" stroke-width="0.12">HNSC</text></g>
<g transform="matrix(1.0176,0,0,0.9962,-2.404,1.179)"><text x="136.7" y="529.4" font-family='"Liberation Serif", serif' font-size="7.0" text-anchor="middle" fill="#111" font-weight="normal" stroke="#111" stroke-width="0.12">(num(T)=519; num(N)=44)</text></g>
<g transform="matrix(0.9212,0,0,0.9873,7.067,4.684)"><text x="58.5" y="409" font-family='"Liberation Serif", serif' font-size="8.6" text-anchor="middle" fill="#111" font-weight="normal" transform="rotate(-90 58.5 409)" stroke="#111" stroke-width="0.2">Expression &#8211;log<tspan font-size="70%" dy="1.8">2</tspan><tspan dy="-1.8">(TPM+1)</tspan></text></g>
<g transform="matrix(0.7459,0,0,1.0154,11.706,-5.273)"><text x="47.4" y="314.7" font-family='"Liberation Sans", sans-serif' font-size="17" text-anchor="start" fill="#111" font-weight="normal" stroke="#111" stroke-width="0.55">a</text></g>
<line x1="407.3" y1="304.5" x2="528.9" y2="304.5" stroke="#e6e6e6" stroke-width="1" />
<line x1="459.65" y1="456.1" x2="459.65" y2="415.54" stroke="#333" stroke-width="0.7" stroke-dasharray="1.3 1.3"/>
<line x1="459.65" y1="484.7" x2="459.65" y2="494.6" stroke="#333" stroke-width="0.7" stroke-dasharray="1.3 1.3"/>
<line x1="453.35" y1="415.54" x2="465.95" y2="415.54" stroke="#666" stroke-width="0.9" />
<rect x="447.5" y="456.1" width="24.3" height="28.6" fill="#FE6565" stroke="#C04848" stroke-width="0.6"/>
<line x1="447.5" y1="494.6" x2="471.8" y2="494.6" stroke="#1a1a1a" stroke-width="1.6" />
<circle cx="459.98" cy="494.52" r="0.72" fill="#000"/>
<circle cx="461.46" cy="472.03" r="0.72" fill="#000"/>
<circle cx="457.83" cy="447.83" r="0.72" fill="#000"/>
<circle cx="461.17" cy="450.29" r="0.72" fill="#000"/>
<circle cx="462.27" cy="457.14" r="0.72" fill="#000"/>
<circle cx="458.03" cy="478.3" r="0.72" fill="#000"/>
<circle cx="460.3" cy="448.8" r="0.72" fill="#000"/>
<circle cx="460.73" cy="445.42" r="0.72" fill="#000"/>
<circle cx="459.44" cy="453.67" r="0.72" fill="#000"/>
<circle cx="457.87" cy="390.18" r="0.72" fill="#000"/>
<circle cx="458.16" cy="493.86" r="0.72" fill="#000"/>
<circle cx="461.18" cy="420.19" r="0.72" fill="#000"/>
<circle cx="461.42" cy="478.17" r="0.72" fill="#000"/>
<circle cx="459.41" cy="459.3" r="0.72" fill="#000"/>
<circle cx="457.15" cy="484.68" r="0.72" fill="#000"/>
<circle cx="461.51" cy="434.15" r="0.72" fill="#000"/>
<circle cx="461.3" cy="494.44" r="0.72" fill="#000"/>
<circle cx="458.03" cy="468.48" r="0.72" fill="#000"/>
<circle cx="460.13" cy="486.1" r="0.72" fill="#000"/>
<circle cx="462.06" cy="478.76" r="0.72" fill="#000"/>
<circle cx="461.99" cy="479.58" r="0.72" fill="#000"/>
<circle cx="459.78" cy="462.75" r="0.72" fill="#000"/>
<circle cx="459.51" cy="447.75" r="0.72" fill="#000"/>
<circle cx="460.19" cy="479.78" r="0.72" fill="#000"/>
<circle cx="457.76" cy="464.11" r="0.72" fill="#000"/>
<circle cx="457.78" cy="480.24" r="0.72" fill="#000"/>
<circle cx="457.71" cy="483.45" r="0.72" fill="#000"/>
<circle cx="460.87" cy="434.77" r="0.72" fill="#000"/>
<circle cx="458.82" cy="481.63" r="0.72" fill="#000"/>
<circle cx="460.04" cy="493.95" r="0.72" fill="#000"/>
<circle cx="459.06" cy="481.06" r="0.72" fill="#000"/>
<circle cx="459.75" cy="456.7" r="0.72" fill="#000"/>
<circle cx="457.52" cy="487.07" r="0.72" fill="#000"/>
<circle cx="456.88" cy="456.59" r="0.72" fill="#000"/>
<circle cx="462.67" cy="470.67" r="0.72" fill="#000"/>
<circle cx="458.88" cy="461.09" r="0.72" fill="#000"/>
<circle cx="457.26" cy="489.17" r="0.72" fill="#000"/>
<circle cx="460.46" cy="493.55" r="0.72" fill="#000"/>
<circle cx="461.4" cy="491.28" r="0.72" fill="#000"/>
<circle cx="457.56" cy="480.4" r="0.72" fill="#000"/>
<circle cx="460.24" cy="476.95" r="0.72" fill="#000"/>
<circle cx="458.71" cy="494.54" r="0.72" fill="#000"/>
<circle cx="459.77" cy="473.79" r="0.72" fill="#000"/>
<circle cx="456.74" cy="478.12" r="0.72" fill="#000"/>
<circle cx="456.82" cy="481.63" r="0.72" fill="#000"/>
<circle cx="462.63" cy="471.32" r="0.72" fill="#000"/>
<circle cx="461.87" cy="419.4" r="0.72" fill="#000"/>
<circle cx="459.57" cy="487.48" r="0.72" fill="#000"/>
<circle cx="460.06" cy="438.16" r="0.72" fill="#000"/>
<circle cx="458.2" cy="481.66" r="0.72" fill="#000"/>
<circle cx="461.35" cy="455.53" r="0.72" fill="#000"/>
<circle cx="459.2" cy="493.4" r="0.72" fill="#000"/>
<circle cx="462.36" cy="388.04" r="0.72" fill="#000"/>
<circle cx="461.27" cy="476.97" r="0.72" fill="#000"/>
<circle cx="461.59" cy="415.13" r="0.72" fill="#000"/>
<circle cx="462.47" cy="486.57" r="0.72" fill="#000"/>
<circle cx="458.16" cy="477.91" r="0.72" fill="#000"/>
<circle cx="456.84" cy="459.24" r="0.72" fill="#000"/>
<circle cx="457.83" cy="489.13" r="0.72" fill="#000"/>
<circle cx="457.71" cy="483.7" r="0.72" fill="#000"/>
<circle cx="457.12" cy="461.3" r="0.72" fill="#000"/>
<circle cx="456.92" cy="421.3" r="0.72" fill="#000"/>
<circle cx="460" cy="481.6" r="0.72" fill="#000"/>
<circle cx="461.9" cy="488.79" r="0.72" fill="#000"/>
<circle cx="459.4" cy="480.1" r="0.72" fill="#000"/>
<circle cx="462.37" cy="385.33" r="0.72" fill="#000"/>
<circle cx="462.14" cy="490.96" r="0.72" fill="#000"/>
<circle cx="457" cy="464.34" r="0.72" fill="#000"/>
<circle cx="460.25" cy="479.2" r="0.72" fill="#000"/>
<circle cx="459.03" cy="463.69" r="0.72" fill="#000"/>
<circle cx="457.34" cy="487.02" r="0.72" fill="#000"/>
<circle cx="462.44" cy="465.66" r="0.72" fill="#000"/>
<circle cx="458.17" cy="437.18" r="0.72" fill="#000"/>
<circle cx="460.04" cy="441.48" r="0.72" fill="#000"/>
<circle cx="460.5" cy="464.78" r="0.72" fill="#000"/>
<circle cx="462.42" cy="473.63" r="0.72" fill="#000"/>
<circle cx="460.68" cy="469.13" r="0.72" fill="#000"/>
<circle cx="459" cy="493.04" r="0.72" fill="#000"/>
<circle cx="459.34" cy="444.07" r="0.72" fill="#000"/>
<circle cx="457.58" cy="460.4" r="0.72" fill="#000"/>
<circle cx="462.48" cy="475.98" r="0.72" fill="#000"/>
<circle cx="462.64" cy="462.15" r="0.72" fill="#000"/>
<circle cx="457.96" cy="477.43" r="0.72" fill="#000"/>
<circle cx="456.85" cy="478.92" r="0.72" fill="#000"/>
<circle cx="458.17" cy="485.93" r="0.72" fill="#000"/>
<circle cx="458.75" cy="466.78" r="0.72" fill="#000"/>
<circle cx="462.1" cy="468.77" r="0.72" fill="#000"/>
<circle cx="462.11" cy="472.89" r="0.72" fill="#000"/>
<circle cx="461.7" cy="494.38" r="0.72" fill="#000"/>
<circle cx="456.9" cy="464.87" r="0.72" fill="#000"/>
<circle cx="461.39" cy="476.26" r="0.72" fill="#000"/>
<circle cx="460.92" cy="467.3" r="0.72" fill="#000"/>
<circle cx="460.54" cy="467.21" r="0.72" fill="#000"/>
<circle cx="462.6" cy="427.94" r="0.72" fill="#000"/>
<circle cx="456.95" cy="490.72" r="0.72" fill="#000"/>
<circle cx="457.49" cy="475.32" r="0.72" fill="#000"/>
<circle cx="461.2" cy="374.73" r="0.72" fill="#000"/>
<circle cx="462.32" cy="456.96" r="0.72" fill="#000"/>
<circle cx="460.72" cy="482" r="0.72" fill="#000"/>
<circle cx="458.43" cy="457.05" r="0.72" fill="#000"/>
<circle cx="460.21" cy="385.4" r="0.72" fill="#000"/>
<circle cx="461.22" cy="478.18" r="0.72" fill="#000"/>
<circle cx="457.25" cy="439.95" r="0.72" fill="#000"/>
<circle cx="458.58" cy="492.27" r="0.72" fill="#000"/>
<circle cx="458.17" cy="384.36" r="0.72" fill="#000"/>
<circle cx="457.37" cy="474.36" r="0.72" fill="#000"/>
<circle cx="459.54" cy="485.68" r="0.72" fill="#000"/>
<circle cx="457.64" cy="443.7" r="0.72" fill="#000"/>
<circle cx="458.06" cy="463.31" r="0.72" fill="#000"/>
<circle cx="457.48" cy="425.43" r="0.72" fill="#000"/>
<circle cx="460.73" cy="445.2" r="0.72" fill="#000"/>
<circle cx="456.69" cy="449.54" r="0.72" fill="#000"/>
<circle cx="460.97" cy="473.15" r="0.72" fill="#000"/>
<circle cx="457.8" cy="371.93" r="0.72" fill="#000"/>
<circle cx="456.83" cy="494.15" r="0.72" fill="#000"/>
<circle cx="462.25" cy="439.59" r="0.72" fill="#000"/>
<circle cx="457.95" cy="458.84" r="0.72" fill="#000"/>
<circle cx="462.29" cy="484.67" r="0.72" fill="#000"/>
<circle cx="461.88" cy="448.24" r="0.72" fill="#000"/>
<circle cx="462.01" cy="475.95" r="0.72" fill="#000"/>
<circle cx="457.46" cy="471.38" r="0.72" fill="#000"/>
<circle cx="459.33" cy="440.21" r="0.72" fill="#000"/>
<circle cx="457.2" cy="488.02" r="0.72" fill="#000"/>
<circle cx="462.25" cy="483.43" r="0.72" fill="#000"/>
<circle cx="461.73" cy="463.7" r="0.72" fill="#000"/>
<circle cx="460.43" cy="494.09" r="0.72" fill="#000"/>
<circle cx="459.36" cy="470.04" r="0.72" fill="#000"/>
<circle cx="458.68" cy="450.99" r="0.72" fill="#000"/>
<circle cx="461.61" cy="474.37" r="0.72" fill="#000"/>
<circle cx="459.51" cy="485.2" r="0.72" fill="#000"/>
<circle cx="460.43" cy="449.23" r="0.72" fill="#000"/>
<circle cx="457.48" cy="441.66" r="0.72" fill="#000"/>
<circle cx="457.96" cy="453.24" r="0.72" fill="#000"/>
<circle cx="456.96" cy="470.45" r="0.72" fill="#000"/>
<circle cx="460.95" cy="434.69" r="0.72" fill="#000"/>
<circle cx="459.97" cy="449.67" r="0.72" fill="#000"/>
<circle cx="457.49" cy="490.73" r="0.72" fill="#000"/>
<circle cx="461.9" cy="479.73" r="0.72" fill="#000"/>
<circle cx="458.23" cy="493.89" r="0.72" fill="#000"/>
<circle cx="459.11" cy="494.35" r="0.72" fill="#000"/>
<circle cx="457.56" cy="480.59" r="0.72" fill="#000"/>
<circle cx="458.26" cy="440.31" r="0.72" fill="#000"/>
<circle cx="461.71" cy="444.57" r="0.72" fill="#000"/>
<circle cx="458.64" cy="492.84" r="0.72" fill="#000"/>
<circle cx="457.63" cy="488.89" r="0.72" fill="#000"/>
<circle cx="459.6" cy="478.75" r="0.72" fill="#000"/>
<circle cx="458.54" cy="442.46" r="0.72" fill="#000"/>
<circle cx="462.1" cy="465.61" r="0.72" fill="#000"/>
<circle cx="457.31" cy="435.23" r="0.72" fill="#000"/>
<circle cx="462.56" cy="494.11" r="0.72" fill="#000"/>
<circle cx="456.96" cy="387.54" r="0.72" fill="#000"/>
<circle cx="462.05" cy="487.36" r="0.72" fill="#000"/>
<circle cx="460.67" cy="464.74" r="0.72" fill="#000"/>
<circle cx="457.9" cy="438.7" r="0.72" fill="#000"/>
<circle cx="459.51" cy="457.7" r="0.72" fill="#000"/>
<circle cx="458.35" cy="487.95" r="0.72" fill="#000"/>
<circle cx="458.18" cy="461.93" r="0.72" fill="#000"/>
<circle cx="457.84" cy="476.95" r="0.72" fill="#000"/>
<circle cx="458.83" cy="494.49" r="0.72" fill="#000"/>
<circle cx="462.63" cy="480.86" r="0.72" fill="#000"/>
<circle cx="462.68" cy="481.9" r="0.72" fill="#000"/>
<circle cx="462.23" cy="464.7" r="0.72" fill="#000"/>
<circle cx="457.21" cy="483.48" r="0.72" fill="#000"/>
<circle cx="458.37" cy="466.61" r="0.72" fill="#000"/>
<circle cx="462.06" cy="460.04" r="0.72" fill="#000"/>
<circle cx="456.96" cy="488.96" r="0.72" fill="#000"/>
<circle cx="461.03" cy="492.19" r="0.72" fill="#000"/>
<circle cx="458.4" cy="460.12" r="0.72" fill="#000"/>
<circle cx="462.56" cy="475.41" r="0.72" fill="#000"/>
<circle cx="456.71" cy="492.13" r="0.72" fill="#000"/>
<circle cx="461.52" cy="492.93" r="0.72" fill="#000"/>
<circle cx="458.68" cy="424.05" r="0.72" fill="#000"/>
<circle cx="457.46" cy="466.11" r="0.72" fill="#000"/>
<circle cx="456.62" cy="480.09" r="0.72" fill="#000"/>
<circle cx="461.67" cy="488.01" r="0.72" fill="#000"/>
<circle cx="459.81" cy="367.97" r="0.72" fill="#000"/>
<circle cx="457.74" cy="460.27" r="0.72" fill="#000"/>
<circle cx="459.26" cy="457.08" r="0.72" fill="#000"/>
<circle cx="462.15" cy="479.97" r="0.72" fill="#000"/>
<circle cx="457.94" cy="482.11" r="0.72" fill="#000"/>
<circle cx="460.08" cy="477.91" r="0.72" fill="#000"/>
<circle cx="457.45" cy="491.07" r="0.72" fill="#000"/>
<circle cx="457.71" cy="464.59" r="0.72" fill="#000"/>
<circle cx="461.29" cy="477.2" r="0.72" fill="#000"/>
<circle cx="460.94" cy="446.45" r="0.72" fill="#000"/>
<circle cx="457.81" cy="477.88" r="0.72" fill="#000"/>
<circle cx="457.09" cy="475.83" r="0.72" fill="#000"/>
<circle cx="457.14" cy="473.51" r="0.72" fill="#000"/>
<circle cx="460.31" cy="423.79" r="0.72" fill="#000"/>
<circle cx="459.62" cy="480.57" r="0.72" fill="#000"/>
<circle cx="458.28" cy="459.42" r="0.72" fill="#000"/>
<circle cx="457.86" cy="485.62" r="0.72" fill="#000"/>
<circle cx="460.33" cy="468.31" r="0.72" fill="#000"/>
<circle cx="460.91" cy="483.2" r="0.72" fill="#000"/>
<circle cx="461.54" cy="439.24" r="0.72" fill="#000"/>
<circle cx="460.15" cy="483.13" r="0.72" fill="#000"/>
<circle cx="457.84" cy="441.74" r="0.72" fill="#000"/>
<circle cx="457.01" cy="461.34" r="0.72" fill="#000"/>
<circle cx="461.06" cy="475.91" r="0.72" fill="#000"/>
<circle cx="459.09" cy="427.08" r="0.72" fill="#000"/>
<circle cx="461" cy="478.8" r="0.72" fill="#000"/>
<circle cx="456.95" cy="456.58" r="0.72" fill="#000"/>
<circle cx="461.54" cy="466.73" r="0.72" fill="#000"/>
<circle cx="458.65" cy="476.19" r="0.72" fill="#000"/>
<circle cx="461.73" cy="494.16" r="0.72" fill="#000"/>
<circle cx="461.86" cy="477.45" r="0.72" fill="#000"/>
<circle cx="459.61" cy="483.36" r="0.72" fill="#000"/>
<circle cx="456.71" cy="476.51" r="0.72" fill="#000"/>
<circle cx="462.14" cy="418.49" r="0.72" fill="#000"/>
<circle cx="459.51" cy="482.86" r="0.72" fill="#000"/>
<circle cx="461.91" cy="460.04" r="0.72" fill="#000"/>
<circle cx="458.23" cy="461.67" r="0.72" fill="#000"/>
<circle cx="457.74" cy="485.02" r="0.72" fill="#000"/>
<circle cx="461.66" cy="477.77" r="0.72" fill="#000"/>
<circle cx="458.84" cy="491.94" r="0.72" fill="#000"/>
<circle cx="457.61" cy="436.11" r="0.72" fill="#000"/>
<circle cx="458.87" cy="484.63" r="0.72" fill="#000"/>
<circle cx="460.23" cy="477.38" r="0.72" fill="#000"/>
<circle cx="456.64" cy="480.77" r="0.72" fill="#000"/>
<circle cx="459.77" cy="446.4" r="0.72" fill="#000"/>
<circle cx="459.32" cy="442.31" r="0.72" fill="#000"/>
<circle cx="459.74" cy="467.49" r="0.72" fill="#000"/>
<circle cx="457.35" cy="470.69" r="0.72" fill="#000"/>
<circle cx="460.95" cy="493.92" r="0.72" fill="#000"/>
<circle cx="461.57" cy="435.95" r="0.72" fill="#000"/>
<circle cx="461.87" cy="493.99" r="0.72" fill="#000"/>
<circle cx="458.56" cy="479.83" r="0.72" fill="#000"/>
<circle cx="460.93" cy="479.36" r="0.72" fill="#000"/>
<circle cx="458.93" cy="458.03" r="0.72" fill="#000"/>
<circle cx="461.18" cy="461.88" r="0.72" fill="#000"/>
<circle cx="456.98" cy="480.67" r="0.72" fill="#000"/>
<circle cx="461.91" cy="435.76" r="0.72" fill="#000"/>
<circle cx="462.41" cy="420.49" r="0.72" fill="#000"/>
<circle cx="459.62" cy="494.44" r="0.72" fill="#000"/>
<circle cx="459.73" cy="464.47" r="0.72" fill="#000"/>
<circle cx="459.84" cy="475.3" r="0.72" fill="#000"/>
<circle cx="459.88" cy="479.91" r="0.72" fill="#000"/>
<circle cx="456.74" cy="475.48" r="0.72" fill="#000"/>
<circle cx="462.49" cy="481.87" r="0.72" fill="#000"/>
<circle cx="457.97" cy="461.76" r="0.72" fill="#000"/>
<circle cx="457.72" cy="466.43" r="0.72" fill="#000"/>
<circle cx="457.24" cy="411.54" r="0.72" fill="#000"/>
<circle cx="458.13" cy="403.22" r="0.72" fill="#000"/>
<circle cx="461.58" cy="375.65" r="0.72" fill="#000"/>
<circle cx="456.8" cy="478.47" r="0.72" fill="#000"/>
<circle cx="457.2" cy="445.28" r="0.72" fill="#000"/>
<circle cx="460.86" cy="463.25" r="0.72" fill="#000"/>
<circle cx="457.8" cy="459.6" r="0.72" fill="#000"/>
<circle cx="456.72" cy="358.37" r="0.72" fill="#000"/>
<circle cx="460.25" cy="494.14" r="0.72" fill="#000"/>
<circle cx="460.11" cy="475.6" r="0.72" fill="#000"/>
<circle cx="459.79" cy="478.21" r="0.72" fill="#000"/>
<circle cx="460.88" cy="462.82" r="0.72" fill="#000"/>
<circle cx="457.24" cy="486.66" r="0.72" fill="#000"/>
<circle cx="461.89" cy="384.93" r="0.72" fill="#000"/>
<circle cx="460.97" cy="487.19" r="0.72" fill="#000"/>
<circle cx="456.89" cy="479.56" r="0.72" fill="#000"/>
<circle cx="457.36" cy="491.27" r="0.72" fill="#000"/>
<circle cx="459.61" cy="478.49" r="0.72" fill="#000"/>
<circle cx="459.65" cy="456.69" r="0.72" fill="#000"/>
<circle cx="458.31" cy="494.03" r="0.72" fill="#000"/>
<circle cx="457.35" cy="489.81" r="0.72" fill="#000"/>
<circle cx="459.08" cy="463.33" r="0.72" fill="#000"/>
<circle cx="457.44" cy="465.18" r="0.72" fill="#000"/>
<circle cx="460.21" cy="456.67" r="0.72" fill="#000"/>
<circle cx="461.84" cy="484.55" r="0.72" fill="#000"/>
<circle cx="457.51" cy="447.68" r="0.72" fill="#000"/>
<circle cx="460.09" cy="457.47" r="0.72" fill="#000"/>
<circle cx="461.15" cy="452.52" r="0.72" fill="#000"/>
<circle cx="457.61" cy="492.7" r="0.72" fill="#000"/>
<circle cx="461.63" cy="475.32" r="0.72" fill="#000"/>
<circle cx="462.31" cy="494.49" r="0.72" fill="#000"/>
<circle cx="458.97" cy="441.02" r="0.72" fill="#000"/>
<circle cx="459.17" cy="422.6" r="0.72" fill="#000"/>
<circle cx="461.71" cy="436.05" r="0.72" fill="#000"/>
<circle cx="459.81" cy="494.43" r="0.72" fill="#000"/>
<circle cx="459.02" cy="480.36" r="0.72" fill="#000"/>
<circle cx="462.33" cy="471.41" r="0.72" fill="#000"/>
<circle cx="461.33" cy="471.57" r="0.72" fill="#000"/>
<circle cx="458.67" cy="493.22" r="0.72" fill="#000"/>
<circle cx="458.07" cy="450.71" r="0.72" fill="#000"/>
<circle cx="458.65" cy="482.49" r="0.72" fill="#000"/>
<circle cx="459.26" cy="473.45" r="0.72" fill="#000"/>
<circle cx="462.57" cy="492.4" r="0.72" fill="#000"/>
<circle cx="461.5" cy="469.12" r="0.72" fill="#000"/>
<circle cx="462.16" cy="492.09" r="0.72" fill="#000"/>
<circle cx="461.56" cy="493.99" r="0.72" fill="#000"/>
<circle cx="461.76" cy="473.1" r="0.72" fill="#000"/>
<circle cx="456.94" cy="482.81" r="0.72" fill="#000"/>
<circle cx="459.76" cy="452.32" r="0.72" fill="#000"/>
<circle cx="462.43" cy="484.9" r="0.72" fill="#000"/>
<circle cx="462.29" cy="477.67" r="0.72" fill="#000"/>
<circle cx="458.13" cy="494.23" r="0.72" fill="#000"/>
<circle cx="459.18" cy="486.69" r="0.72" fill="#000"/>
<circle cx="460.46" cy="476.05" r="0.72" fill="#000"/>
<circle cx="458.83" cy="469.82" r="0.72" fill="#000"/>
<circle cx="459.84" cy="475.72" r="0.72" fill="#000"/>
<circle cx="457.03" cy="442.25" r="0.72" fill="#000"/>
<circle cx="459.24" cy="493.65" r="0.72" fill="#000"/>
<circle cx="459.68" cy="442.34" r="0.72" fill="#000"/>
<circle cx="456.74" cy="490.54" r="0.72" fill="#000"/>
<circle cx="457.46" cy="411.66" r="0.72" fill="#000"/>
<circle cx="462.5" cy="472.19" r="0.72" fill="#000"/>
<circle cx="461.33" cy="477.99" r="0.72" fill="#000"/>
<circle cx="462.3" cy="465.95" r="0.72" fill="#000"/>
<circle cx="460.46" cy="440.45" r="0.72" fill="#000"/>
<circle cx="461.53" cy="414.67" r="0.72" fill="#000"/>
<circle cx="461.99" cy="477.69" r="0.72" fill="#000"/>
<circle cx="461.99" cy="494.53" r="0.72" fill="#000"/>
<circle cx="456.82" cy="490.61" r="0.72" fill="#000"/>
<circle cx="460.51" cy="446.69" r="0.72" fill="#000"/>
<circle cx="458.23" cy="457.21" r="0.72" fill="#000"/>
<circle cx="460.73" cy="458.77" r="0.72" fill="#000"/>
<circle cx="458.27" cy="490.44" r="0.72" fill="#000"/>
<circle cx="459.91" cy="471.75" r="0.72" fill="#000"/>
<circle cx="462.23" cy="494.4" r="0.72" fill="#000"/>
<circle cx="460.39" cy="493.28" r="0.72" fill="#000"/>
<circle cx="458.13" cy="482.52" r="0.72" fill="#000"/>
<circle cx="459.77" cy="413.67" r="0.72" fill="#000"/>
<circle cx="459.25" cy="463.75" r="0.72" fill="#000"/>
<circle cx="462.39" cy="442.67" r="0.72" fill="#000"/>
<circle cx="458.36" cy="494.28" r="0.72" fill="#000"/>
<circle cx="458.47" cy="477.57" r="0.72" fill="#000"/>
<circle cx="460.55" cy="494.06" r="0.72" fill="#000"/>
<circle cx="457.34" cy="484.24" r="0.72" fill="#000"/>
<circle cx="460.22" cy="493.19" r="0.72" fill="#000"/>
<circle cx="462.42" cy="432.89" r="0.72" fill="#000"/>
<circle cx="459.73" cy="481.32" r="0.72" fill="#000"/>
<circle cx="458.24" cy="474.45" r="0.72" fill="#000"/>
<circle cx="459.45" cy="462.96" r="0.72" fill="#000"/>
<circle cx="459.86" cy="437.31" r="0.72" fill="#000"/>
<circle cx="457.51" cy="421.82" r="0.72" fill="#000"/>
<circle cx="457.37" cy="469.12" r="0.72" fill="#000"/>
<circle cx="457.41" cy="473.91" r="0.72" fill="#000"/>
<circle cx="458.4" cy="434.94" r="0.72" fill="#000"/>
<circle cx="459.08" cy="478.5" r="0.72" fill="#000"/>
<circle cx="458.36" cy="482.58" r="0.72" fill="#000"/>
<circle cx="458.09" cy="456.86" r="0.72" fill="#000"/>
<circle cx="457.15" cy="484.34" r="0.72" fill="#000"/>
<circle cx="459.93" cy="479.64" r="0.72" fill="#000"/>
<circle cx="461.71" cy="477.01" r="0.72" fill="#000"/>
<circle cx="460.32" cy="474.97" r="0.72" fill="#000"/>
<circle cx="460.08" cy="480.05" r="0.72" fill="#000"/>
<circle cx="460.56" cy="476.96" r="0.72" fill="#000"/>
<circle cx="457.83" cy="476.08" r="0.72" fill="#000"/>
<circle cx="460.93" cy="494.26" r="0.72" fill="#000"/>
<circle cx="459.41" cy="444.32" r="0.72" fill="#000"/>
<circle cx="459.94" cy="494.18" r="0.72" fill="#000"/>
<circle cx="460.34" cy="471.98" r="0.72" fill="#000"/>
<circle cx="459.46" cy="470.58" r="0.72" fill="#000"/>
<circle cx="458.5" cy="478.28" r="0.72" fill="#000"/>
<circle cx="458.08" cy="486.38" r="0.72" fill="#000"/>
<circle cx="457.96" cy="493.92" r="0.72" fill="#000"/>
<circle cx="459.73" cy="479.47" r="0.72" fill="#000"/>
<circle cx="458.94" cy="481.94" r="0.72" fill="#000"/>
<circle cx="460.17" cy="474.66" r="0.72" fill="#000"/>
<circle cx="456.68" cy="485.91" r="0.72" fill="#000"/>
<circle cx="458.75" cy="456.14" r="0.72" fill="#000"/>
<circle cx="461.85" cy="474.52" r="0.72" fill="#000"/>
<circle cx="458.06" cy="494.54" r="0.72" fill="#000"/>
<circle cx="459.99" cy="477.98" r="0.72" fill="#000"/>
<circle cx="459.6" cy="413.63" r="0.72" fill="#000"/>
<circle cx="458.34" cy="494.55" r="0.72" fill="#000"/>
<circle cx="462.61" cy="467.3" r="0.72" fill="#000"/>
<circle cx="458.41" cy="415.9" r="0.72" fill="#000"/>
<circle cx="461.3" cy="479.74" r="0.72" fill="#000"/>
<circle cx="457.58" cy="466.96" r="0.72" fill="#000"/>
<circle cx="457.02" cy="479.6" r="0.72" fill="#000"/>
<circle cx="461.91" cy="482.5" r="0.72" fill="#000"/>
<circle cx="459.29" cy="466.17" r="0.72" fill="#000"/>
<circle cx="456.99" cy="467.58" r="0.72" fill="#000"/>
<circle cx="458.97" cy="481.91" r="0.72" fill="#000"/>
<circle cx="459.28" cy="474.08" r="0.72" fill="#000"/>
<circle cx="461.08" cy="472.82" r="0.72" fill="#000"/>
<circle cx="457.28" cy="455.58" r="0.72" fill="#000"/>
<circle cx="457.98" cy="494.24" r="0.72" fill="#000"/>
<circle cx="462.44" cy="493.96" r="0.72" fill="#000"/>
<circle cx="461.1" cy="484.62" r="0.72" fill="#000"/>
<circle cx="457.55" cy="483.84" r="0.72" fill="#000"/>
<circle cx="458.66" cy="449.82" r="0.72" fill="#000"/>
<circle cx="458.75" cy="477.17" r="0.72" fill="#000"/>
<circle cx="460.72" cy="440.97" r="0.72" fill="#000"/>
<circle cx="460.36" cy="478.17" r="0.72" fill="#000"/>
<circle cx="461.78" cy="483.17" r="0.72" fill="#000"/>
<circle cx="461.6" cy="461.11" r="0.72" fill="#000"/>
<circle cx="459.76" cy="494.01" r="0.72" fill="#000"/>
<circle cx="461.1" cy="392.71" r="0.72" fill="#000"/>
<circle cx="461.13" cy="444.89" r="0.72" fill="#000"/>
<circle cx="461.23" cy="481.35" r="0.72" fill="#000"/>
<circle cx="459.5" cy="481.81" r="0.72" fill="#000"/>
<circle cx="461.38" cy="446.56" r="0.72" fill="#000"/>
<circle cx="460.92" cy="450.83" r="0.72" fill="#000"/>
<circle cx="462.17" cy="463.8" r="0.72" fill="#000"/>
<circle cx="457.39" cy="494.21" r="0.72" fill="#000"/>
<circle cx="461.9" cy="454.23" r="0.72" fill="#000"/>
<circle cx="456.64" cy="494.27" r="0.72" fill="#000"/>
<circle cx="461.26" cy="465.06" r="0.72" fill="#000"/>
<circle cx="460.17" cy="470.25" r="0.72" fill="#000"/>
<circle cx="459.64" cy="429.71" r="0.72" fill="#000"/>
<circle cx="462.46" cy="464.06" r="0.72" fill="#000"/>
<circle cx="460.09" cy="494.45" r="0.72" fill="#000"/>
<circle cx="459.15" cy="426.81" r="0.72" fill="#000"/>
<circle cx="461.37" cy="455.72" r="0.72" fill="#000"/>
<circle cx="461.91" cy="468.27" r="0.72" fill="#000"/>
<circle cx="460.3" cy="494.56" r="0.72" fill="#000"/>
<circle cx="458.92" cy="457.04" r="0.72" fill="#000"/>
<circle cx="459.36" cy="477.48" r="0.72" fill="#000"/>
<circle cx="459.39" cy="461.13" r="0.72" fill="#000"/>
<circle cx="461.01" cy="393.27" r="0.72" fill="#000"/>
<circle cx="458.39" cy="433.17" r="0.72" fill="#000"/>
<circle cx="458.99" cy="494.08" r="0.72" fill="#000"/>
<circle cx="459.99" cy="451.78" r="0.72" fill="#000"/>
<circle cx="458.95" cy="476.53" r="0.72" fill="#000"/>
<circle cx="458.57" cy="455.89" r="0.72" fill="#000"/>
<circle cx="461.39" cy="479.22" r="0.72" fill="#000"/>
<circle cx="461.77" cy="476.22" r="0.72" fill="#000"/>
<circle cx="459.65" cy="476.68" r="0.72" fill="#000"/>
<circle cx="459.31" cy="492.81" r="0.72" fill="#000"/>
<circle cx="457.73" cy="481.7" r="0.72" fill="#000"/>
<circle cx="458.46" cy="457.19" r="0.72" fill="#000"/>
<circle cx="457.49" cy="494.11" r="0.72" fill="#000"/>
<circle cx="460.11" cy="492.94" r="0.72" fill="#000"/>
<circle cx="460.15" cy="444.55" r="0.72" fill="#000"/>
<circle cx="457.15" cy="462.09" r="0.72" fill="#000"/>
<circle cx="462.2" cy="470.53" r="0.72" fill="#000"/>
<circle cx="458.58" cy="493.1" r="0.72" fill="#000"/>
<circle cx="461.74" cy="492.78" r="0.72" fill="#000"/>
<circle cx="461.7" cy="482.12" r="0.72" fill="#000"/>
<circle cx="462.44" cy="418.76" r="0.72" fill="#000"/>
<circle cx="457.85" cy="469.67" r="0.72" fill="#000"/>
<circle cx="459.2" cy="431.79" r="0.72" fill="#000"/>
<circle cx="462.14" cy="487.09" r="0.72" fill="#000"/>
<circle cx="456.68" cy="477.63" r="0.72" fill="#000"/>
<circle cx="456.9" cy="471.38" r="0.72" fill="#000"/>
<circle cx="460.04" cy="443.83" r="0.72" fill="#000"/>
<circle cx="459.63" cy="492.48" r="0.72" fill="#000"/>
<circle cx="462.2" cy="439.09" r="0.72" fill="#000"/>
<circle cx="461.31" cy="475.16" r="0.72" fill="#000"/>
<circle cx="459.88" cy="494.38" r="0.72" fill="#000"/>
<circle cx="462.68" cy="476.89" r="0.72" fill="#000"/>
<circle cx="459.76" cy="479.23" r="0.72" fill="#000"/>
<circle cx="459.75" cy="461.51" r="0.72" fill="#000"/>
<circle cx="460.78" cy="429.35" r="0.72" fill="#000"/>
<circle cx="458.98" cy="474.25" r="0.72" fill="#000"/>
<circle cx="458.79" cy="460.42" r="0.72" fill="#000"/>
<circle cx="460.23" cy="478.78" r="0.72" fill="#000"/>
<circle cx="458.75" cy="452.17" r="0.72" fill="#000"/>
<circle cx="462.37" cy="493.59" r="0.72" fill="#000"/>
<circle cx="460.72" cy="456.65" r="0.72" fill="#000"/>
<circle cx="459.8" cy="489.83" r="0.72" fill="#000"/>
<circle cx="457.21" cy="467.84" r="0.72" fill="#000"/>
<circle cx="458.89" cy="487.64" r="0.72" fill="#000"/>
<circle cx="459.05" cy="480.57" r="0.72" fill="#000"/>
<circle cx="460.02" cy="489.99" r="0.72" fill="#000"/>
<circle cx="460.1" cy="480.42" r="0.72" fill="#000"/>
<circle cx="461.96" cy="467.44" r="0.72" fill="#000"/>
<circle cx="462.47" cy="472.55" r="0.72" fill="#000"/>
<circle cx="459.57" cy="478.76" r="0.72" fill="#000"/>
<circle cx="459.29" cy="468.66" r="0.72" fill="#000"/>
<circle cx="460.41" cy="443.41" r="0.72" fill="#000"/>
<circle cx="462.66" cy="480.06" r="0.72" fill="#000"/>
<circle cx="458.7" cy="467.98" r="0.72" fill="#000"/>
<circle cx="459.83" cy="474.81" r="0.72" fill="#000"/>
<circle cx="461.57" cy="397.51" r="0.72" fill="#000"/>
<circle cx="457.65" cy="481.35" r="0.72" fill="#000"/>
<circle cx="458.54" cy="459.86" r="0.72" fill="#000"/>
<circle cx="462.56" cy="485.71" r="0.72" fill="#000"/>
<circle cx="461.63" cy="484.22" r="0.72" fill="#000"/>
<circle cx="459.73" cy="457.5" r="0.72" fill="#000"/>
<circle cx="457.28" cy="468.61" r="0.72" fill="#000"/>
<circle cx="462.05" cy="484.4" r="0.72" fill="#000"/>
<circle cx="460.8" cy="494.16" r="0.72" fill="#000"/>
<circle cx="461.6" cy="445.81" r="0.72" fill="#000"/>
<circle cx="462.63" cy="479.23" r="0.72" fill="#000"/>
<circle cx="462.01" cy="458.5" r="0.72" fill="#000"/>
<circle cx="459.17" cy="476.86" r="0.72" fill="#000"/>
<circle cx="457.56" cy="465.56" r="0.72" fill="#000"/>
<circle cx="458.37" cy="469.72" r="0.72" fill="#000"/>
<circle cx="459.72" cy="404.2" r="0.72" fill="#000"/>
<circle cx="459.68" cy="434.15" r="0.72" fill="#000"/>
<circle cx="457.76" cy="475.87" r="0.72" fill="#000"/>
<circle cx="457.72" cy="474.54" r="0.72" fill="#000"/>
<circle cx="460.44" cy="485.85" r="0.72" fill="#000"/>
<circle cx="460.28" cy="455.67" r="0.72" fill="#000"/>
<circle cx="458.76" cy="493.77" r="0.72" fill="#000"/>
<circle cx="462.65" cy="482.27" r="0.72" fill="#000"/>
<circle cx="460.48" cy="442.7" r="0.72" fill="#000"/>
<circle cx="456.87" cy="494.36" r="0.72" fill="#000"/>
<circle cx="459.11" cy="459.78" r="0.72" fill="#000"/>
<circle cx="461.4" cy="469.11" r="0.72" fill="#000"/>
<circle cx="458.48" cy="470.29" r="0.72" fill="#000"/>
<circle cx="460.81" cy="481.14" r="0.72" fill="#000"/>
<circle cx="456.64" cy="490.75" r="0.72" fill="#000"/>
<circle cx="458.46" cy="420.01" r="0.72" fill="#000"/>
<circle cx="461.73" cy="454.07" r="0.72" fill="#000"/>
<circle cx="460.17" cy="448.43" r="0.72" fill="#000"/>
<circle cx="460.67" cy="493.93" r="0.72" fill="#000"/>
<circle cx="457.81" cy="451.41" r="0.72" fill="#000"/>
<circle cx="459.64" cy="486.64" r="0.72" fill="#000"/>
<circle cx="459.97" cy="487.82" r="0.72" fill="#000"/>
<circle cx="458.23" cy="471.47" r="0.72" fill="#000"/>
<circle cx="460.54" cy="466.12" r="0.72" fill="#000"/>
<circle cx="459.84" cy="492.63" r="0.72" fill="#000"/>
<circle cx="462.67" cy="454.05" r="0.72" fill="#000"/>
<circle cx="460.1" cy="468.08" r="0.72" fill="#000"/>
<circle cx="459.11" cy="435.56" r="0.72" fill="#000"/>
<circle cx="457.35" cy="431.1" r="0.72" fill="#000"/>
<circle cx="457.56" cy="460.44" r="0.72" fill="#000"/>
<circle cx="461.23" cy="479.81" r="0.72" fill="#000"/>
<circle cx="457.26" cy="419.93" r="0.72" fill="#000"/>
<circle cx="457.22" cy="458.35" r="0.72" fill="#000"/>
<circle cx="457.65" cy="482.95" r="0.72" fill="#000"/>
<circle cx="459.79" cy="441.3" r="0.72" fill="#000"/>
<circle cx="461.61" cy="457.75" r="0.72" fill="#000"/>
<circle cx="460.34" cy="484.07" r="0.72" fill="#000"/>
<circle cx="461.51" cy="484.75" r="0.72" fill="#000"/>
<circle cx="456.99" cy="494.46" r="0.72" fill="#000"/>
<circle cx="456.69" cy="471.31" r="0.72" fill="#000"/>
<circle cx="461.29" cy="484.55" r="0.72" fill="#000"/>
<circle cx="458.57" cy="325.48" r="0.72" fill="#000"/>
<line x1="447.5" y1="473.98" x2="471.8" y2="473.98" stroke="#1a1a1a" stroke-width="1.5" />
<line x1="490.4" y1="400.69" x2="490.4" y2="335.1" stroke="#333" stroke-width="0.7" stroke-dasharray="1.3 1.3"/>
<line x1="490.4" y1="463.66" x2="490.4" y2="486.35" stroke="#333" stroke-width="0.7" stroke-dasharray="1.3 1.3"/>
<line x1="484.1" y1="335.1" x2="496.7" y2="335.1" stroke="#666" stroke-width="0.9" />
<line x1="484.1" y1="486.35" x2="496.7" y2="486.35" stroke="#666" stroke-width="0.9" />
<rect x="478" y="400.69" width="24.8" height="62.98" fill="#7F7F7F" stroke="#585858" stroke-width="0.6"/>
<line x1="478" y1="494.6" x2="502.8" y2="494.6" stroke="#1a1a1a" stroke-width="1.6" />
<circle cx="491.74" cy="486.35" r="0.72" fill="#000"/>
<circle cx="489.49" cy="483.6" r="0.72" fill="#000"/>
<circle cx="488.35" cy="480.85" r="0.72" fill="#000"/>
<circle cx="488.95" cy="473.98" r="0.72" fill="#000"/>
<circle cx="487.92" cy="471.23" r="0.72" fill="#000"/>
<circle cx="492.9" cy="467.1" r="0.72" fill="#000"/>
<circle cx="490.91" cy="464.35" r="0.72" fill="#000"/>
<circle cx="489.46" cy="462.98" r="0.72" fill="#000"/>
<circle cx="490.09" cy="460.23" r="0.72" fill="#000"/>
<circle cx="489.69" cy="457.48" r="0.72" fill="#000"/>
<circle cx="487.64" cy="453.35" r="0.72" fill="#000"/>
<circle cx="492.82" cy="449.23" r="0.72" fill="#000"/>
<circle cx="490.91" cy="446.48" r="0.72" fill="#000"/>
<circle cx="493.25" cy="442.35" r="0.72" fill="#000"/>
<circle cx="490.03" cy="439.6" r="0.72" fill="#000"/>
<circle cx="491.15" cy="435.48" r="0.72" fill="#000"/>
<circle cx="488.85" cy="432.73" r="0.72" fill="#000"/>
<circle cx="487.57" cy="428.6" r="0.72" fill="#000"/>
<circle cx="493.07" cy="425.85" r="0.72" fill="#000"/>
<circle cx="492.6" cy="423.1" r="0.72" fill="#000"/>
<circle cx="489.25" cy="418.98" r="0.72" fill="#000"/>
<circle cx="492.87" cy="414.85" r="0.72" fill="#000"/>
<circle cx="492.36" cy="412.1" r="0.72" fill="#000"/>
<circle cx="489.18" cy="407.98" r="0.72" fill="#000"/>
<circle cx="491.04" cy="405.23" r="0.72" fill="#000"/>
<circle cx="493.25" cy="402.48" r="0.72" fill="#000"/>
<circle cx="490.37" cy="399.73" r="0.72" fill="#000"/>
<circle cx="493.19" cy="391.48" r="0.72" fill="#000"/>
<circle cx="488.81" cy="384.6" r="0.72" fill="#000"/>
<circle cx="489.72" cy="373.6" r="0.72" fill="#000"/>
<circle cx="491.75" cy="363.98" r="0.72" fill="#000"/>
<circle cx="488.67" cy="359.85" r="0.72" fill="#000"/>
<circle cx="489.22" cy="357.1" r="0.72" fill="#000"/>
<circle cx="492.73" cy="354.35" r="0.72" fill="#000"/>
<circle cx="490.3" cy="335.1" r="0.72" fill="#000"/>
<circle cx="492.22" cy="494.6" r="0.72" fill="#000"/>
<circle cx="488.81" cy="494.6" r="0.72" fill="#000"/>
<circle cx="488.38" cy="494.6" r="0.72" fill="#000"/>
<circle cx="489.52" cy="494.6" r="0.72" fill="#000"/>
<circle cx="488.46" cy="494.6" r="0.72" fill="#000"/>
<circle cx="493.32" cy="494.6" r="0.72" fill="#000"/>
<circle cx="489.1" cy="494.6" r="0.72" fill="#000"/>
<circle cx="490.78" cy="494.6" r="0.72" fill="#000"/>
<circle cx="488.01" cy="494.6" r="0.72" fill="#000"/>
<line x1="478" y1="432.73" x2="502.8" y2="432.73" stroke="#1a1a1a" stroke-width="1.5" />
<rect x="425.5" y="309.5" width="99" height="192" fill="none" stroke="#6a6a6a" stroke-width="1"/>
<line x1="421.4" y1="494.6" x2="425.4" y2="494.6" stroke="#555" stroke-width="0.9" />
<text x="414.7" y="494.6" font-family='"Liberation Sans", sans-serif' font-size="6.6" text-anchor="middle" fill="#333" font-weight="normal" transform="rotate(-90 414.7 494.6)" dominant-baseline="central" stroke="#333" stroke-width="0.2">0</text>
<line x1="421.4" y1="467.1" x2="425.4" y2="467.1" stroke="#555" stroke-width="0.9" />
<text x="414.7" y="467.1" font-family='"Liberation Sans", sans-serif' font-size="6.6" text-anchor="middle" fill="#333" font-weight="normal" transform="rotate(-90 414.7 467.1)" dominant-baseline="central" stroke="#333" stroke-width="0.2">2</text>
<line x1="421.4" y1="439.6" x2="425.4" y2="439.6" stroke="#555" stroke-width="0.9" />
<text x="414.7" y="439.6" font-family='"Liberation Sans", sans-serif' font-size="6.6" text-anchor="middle" fill="#333" font-weight="normal" transform="rotate(-90 414.7 439.6)" dominant-baseline="central" stroke="#333" stroke-width="0.2">4</text>
<line x1="421.4" y1="412.1" x2="425.4" y2="412.1" stroke="#555" stroke-width="0.9" />
<text x="414.7" y="412.1" font-family='"Liberation Sans", sans-serif' font-size="6.6" text-anchor="middle" fill="#333" font-weight="normal" transform="rotate(-90 414.7 412.1)" dominant-baseline="central" stroke="#333" stroke-width="0.2">6</text>
<line x1="421.4" y1="384.6" x2="425.4" y2="384.6" stroke="#555" stroke-width="0.9" />
<text x="414.7" y="384.6" font-family='"Liberation Sans", sans-serif' font-size="6.6" text-anchor="middle" fill="#333" font-weight="normal" transform="rotate(-90 414.7 384.6)" dominant-baseline="central" stroke="#333" stroke-width="0.2">8</text>
<line x1="421.4" y1="357.1" x2="425.4" y2="357.1" stroke="#555" stroke-width="0.9" />
<text x="414.7" y="357.1" font-family='"Liberation Sans", sans-serif' font-size="6.6" text-anchor="middle" fill="#333" font-weight="normal" transform="rotate(-90 414.7 357.1)" dominant-baseline="central" stroke="#333" stroke-width="0.2">10</text>
<line x1="421.4" y1="329.6" x2="425.4" y2="329.6" stroke="#555" stroke-width="0.9" />
<text x="414.7" y="329.6" font-family='"Liberation Sans", sans-serif' font-size="6.6" text-anchor="middle" fill="#333" font-weight="normal" transform="rotate(-90 414.7 329.6)" dominant-baseline="central" stroke="#333" stroke-width="0.2">12</text>
<line x1="474.8" y1="501.6" x2="474.8" y2="505.6" stroke="#555" stroke-width="0.9" />
<polyline points="458.9,323.4 458.9,316.5 490.4,316.5 490.4,330.9" fill="none" stroke="#777" stroke-width="0.9"/>
<polygon points="474.3,314.7 474.91,316.16 476.49,316.29 475.28,317.32 475.65,318.86 474.3,318.04 472.95,318.86 473.32,317.32 472.11,316.29 473.69,316.16" fill="#F01818"/>
<g transform="matrix(1.0027,0,0,1.0200,-1.175,-10.431)"><text x="474.5" y="517.7" font-family='"Liberation Serif", serif' font-size="7.0" text-anchor="middle" fill="#111" font-weight="normal" stroke="#111" stroke-width="0.12">HNSC</text></g>
<g transform="matrix(1.0176,0,0,0.9962,-8.346,1.169)"><text x="474.5" y="526.9" font-family='"Liberation Serif", serif' font-size="7.0" text-anchor="middle" fill="#111" font-weight="normal" stroke="#111" stroke-width="0.12">(num(T)=519; num(N)=44)</text></g>
<g transform="matrix(0.9212,0,0,0.9827,34.239,6.777)"><text x="398.6" y="409" font-family='"Liberation Serif", serif' font-size="8.6" text-anchor="middle" fill="#111" font-weight="normal" transform="rotate(-90 398.6 409)" stroke="#111" stroke-width="0.2">Expression &#8211;log<tspan font-size="70%" dy="1.8">2</tspan><tspan dy="-1.8">(TPM+1)</tspan></text></g>
<g transform="matrix(0.7243,0,0,0.8615,109.072,43.623)"><text x="396.9" y="317.7" font-family='"Liberation Sans", sans-serif' font-size="17" text-anchor="start" fill="#111" font-weight="normal" stroke="#111" stroke-width="0.55">a</text></g>
<line x1="44.8" y1="563.5" x2="186" y2="563.5" stroke="#e6e6e6" stroke-width="1" />
<line x1="44.5" y1="563.6" x2="44.5" y2="780.7" stroke="#e6e6e6" stroke-width="1" />
<line x1="44.8" y1="780.5" x2="186" y2="780.5" stroke="#e6e6e6" stroke-width="1" />
<line x1="115.15" y1="733.93" x2="115.15" y2="710.69" stroke="#333" stroke-width="0.7" stroke-dasharray="1.3 1.3"/>
<line x1="115.15" y1="750.2" x2="115.15" y2="750.2" stroke="#333" stroke-width="0.7" stroke-dasharray="1.3 1.3"/>
<line x1="108.85" y1="710.69" x2="121.45" y2="710.69" stroke="#666" stroke-width="0.9" />
<rect x="102.4" y="733.93" width="25.5" height="16.27" fill="#FE6565" stroke="#C04848" stroke-width="0.6"/>
<line x1="102.4" y1="750.2" x2="127.9" y2="750.2" stroke="#1a1a1a" stroke-width="1.6" />
<circle cx="115.37" cy="749.92" r="0.72" fill="#000"/>
<circle cx="114.42" cy="749.96" r="0.72" fill="#000"/>
<circle cx="114.53" cy="750.08" r="0.72" fill="#000"/>
<circle cx="112.38" cy="746.88" r="0.72" fill="#000"/>
<circle cx="112.75" cy="749.94" r="0.72" fill="#000"/>
<circle cx="117.23" cy="749.93" r="0.72" fill="#000"/>
<circle cx="114.2" cy="749.94" r="0.72" fill="#000"/>
<circle cx="113.52" cy="746.08" r="0.72" fill="#000"/>
<circle cx="113.18" cy="709.2" r="0.72" fill="#000"/>
<circle cx="113.77" cy="750.05" r="0.72" fill="#000"/>
<circle cx="113.47" cy="712.7" r="0.72" fill="#000"/>
<circle cx="112.19" cy="713.65" r="0.72" fill="#000"/>
<circle cx="116.2" cy="741.03" r="0.72" fill="#000"/>
<circle cx="114.14" cy="744.34" r="0.72" fill="#000"/>
<circle cx="112.96" cy="734.74" r="0.72" fill="#000"/>
<circle cx="116.46" cy="744.8" r="0.72" fill="#000"/>
<circle cx="112.55" cy="738.48" r="0.72" fill="#000"/>
<circle cx="113.68" cy="691.43" r="0.72" fill="#000"/>
<circle cx="117.29" cy="729.05" r="0.72" fill="#000"/>
<circle cx="112.78" cy="749.95" r="0.72" fill="#000"/>
<circle cx="114.79" cy="750.15" r="0.72" fill="#000"/>
<circle cx="117.29" cy="684.63" r="0.72" fill="#000"/>
<circle cx="117.09" cy="749.59" r="0.72" fill="#000"/>
<circle cx="112.98" cy="726.71" r="0.72" fill="#000"/>
<circle cx="114.21" cy="749.98" r="0.72" fill="#000"/>
<circle cx="116.57" cy="747.59" r="0.72" fill="#000"/>
<circle cx="114.37" cy="749.41" r="0.72" fill="#000"/>
<circle cx="118.07" cy="734.98" r="0.72" fill="#000"/>
<circle cx="113.29" cy="681.9" r="0.72" fill="#000"/>
<circle cx="118.02" cy="746.26" r="0.72" fill="#000"/>
<circle cx="115.18" cy="743.22" r="0.72" fill="#000"/>
<circle cx="113.41" cy="749.87" r="0.72" fill="#000"/>
<circle cx="114.85" cy="749.98" r="0.72" fill="#000"/>
<circle cx="112.8" cy="679.46" r="0.72" fill="#000"/>
<circle cx="116.47" cy="750.1" r="0.72" fill="#000"/>
<circle cx="113.62" cy="683.13" r="0.72" fill="#000"/>
<circle cx="117.7" cy="738.62" r="0.72" fill="#000"/>
<circle cx="115.71" cy="750.13" r="0.72" fill="#000"/>
<circle cx="114.31" cy="698.28" r="0.72" fill="#000"/>
<circle cx="113.53" cy="750.1" r="0.72" fill="#000"/>
<circle cx="115.84" cy="743.25" r="0.72" fill="#000"/>
<circle cx="113.32" cy="750.09" r="0.72" fill="#000"/>
<circle cx="117.52" cy="657.96" r="0.72" fill="#000"/>
<circle cx="112.75" cy="749.91" r="0.72" fill="#000"/>
<circle cx="115.23" cy="709.86" r="0.72" fill="#000"/>
<circle cx="115.42" cy="750.14" r="0.72" fill="#000"/>
<circle cx="113.69" cy="738.15" r="0.72" fill="#000"/>
<circle cx="116.88" cy="750.14" r="0.72" fill="#000"/>
<circle cx="114.42" cy="750.17" r="0.72" fill="#000"/>
<circle cx="116.15" cy="742.97" r="0.72" fill="#000"/>
<circle cx="115.58" cy="661.62" r="0.72" fill="#000"/>
<circle cx="113.94" cy="737.21" r="0.72" fill="#000"/>
<circle cx="114.45" cy="713.54" r="0.72" fill="#000"/>
<circle cx="112.51" cy="727.19" r="0.72" fill="#000"/>
<circle cx="113.09" cy="745.48" r="0.72" fill="#000"/>
<circle cx="117.39" cy="750.13" r="0.72" fill="#000"/>
<circle cx="114.01" cy="745.19" r="0.72" fill="#000"/>
<circle cx="116.19" cy="750.02" r="0.72" fill="#000"/>
<circle cx="112.66" cy="745.2" r="0.72" fill="#000"/>
<circle cx="115.55" cy="749.77" r="0.72" fill="#000"/>
<circle cx="114.27" cy="746.57" r="0.72" fill="#000"/>
<circle cx="115.15" cy="750.01" r="0.72" fill="#000"/>
<circle cx="113.86" cy="736.2" r="0.72" fill="#000"/>
<circle cx="112.38" cy="748.38" r="0.72" fill="#000"/>
<circle cx="113.95" cy="746.86" r="0.72" fill="#000"/>
<circle cx="113.41" cy="750.13" r="0.72" fill="#000"/>
<circle cx="112.77" cy="746.84" r="0.72" fill="#000"/>
<circle cx="116.53" cy="743.64" r="0.72" fill="#000"/>
<circle cx="113.76" cy="667.87" r="0.72" fill="#000"/>
<circle cx="114.53" cy="743.45" r="0.72" fill="#000"/>
<circle cx="117.76" cy="750.07" r="0.72" fill="#000"/>
<circle cx="116.9" cy="749.92" r="0.72" fill="#000"/>
<circle cx="117.59" cy="749.88" r="0.72" fill="#000"/>
<circle cx="117.45" cy="736.35" r="0.72" fill="#000"/>
<circle cx="112.81" cy="683.76" r="0.72" fill="#000"/>
<circle cx="113.73" cy="665.75" r="0.72" fill="#000"/>
<circle cx="112.15" cy="679.43" r="0.72" fill="#000"/>
<circle cx="116.3" cy="689.05" r="0.72" fill="#000"/>
<circle cx="116.19" cy="712.89" r="0.72" fill="#000"/>
<circle cx="114.2" cy="685.29" r="0.72" fill="#000"/>
<circle cx="114.59" cy="750.18" r="0.72" fill="#000"/>
<circle cx="116.16" cy="746.78" r="0.72" fill="#000"/>
<circle cx="116.42" cy="741.97" r="0.72" fill="#000"/>
<circle cx="113.55" cy="737.18" r="0.72" fill="#000"/>
<circle cx="117.36" cy="740.86" r="0.72" fill="#000"/>
<circle cx="114.21" cy="740.84" r="0.72" fill="#000"/>
<circle cx="115.97" cy="685.96" r="0.72" fill="#000"/>
<circle cx="113.12" cy="750.12" r="0.72" fill="#000"/>
<circle cx="112.7" cy="745.58" r="0.72" fill="#000"/>
<circle cx="117.78" cy="675.71" r="0.72" fill="#000"/>
<circle cx="116.64" cy="750.17" r="0.72" fill="#000"/>
<circle cx="116.51" cy="750.09" r="0.72" fill="#000"/>
<circle cx="112.22" cy="710.88" r="0.72" fill="#000"/>
<circle cx="112.22" cy="676.61" r="0.72" fill="#000"/>
<circle cx="113" cy="750.18" r="0.72" fill="#000"/>
<circle cx="113.23" cy="750.17" r="0.72" fill="#000"/>
<circle cx="113.89" cy="718.49" r="0.72" fill="#000"/>
<circle cx="114.39" cy="737.04" r="0.72" fill="#000"/>
<circle cx="112.21" cy="745.55" r="0.72" fill="#000"/>
<circle cx="113.94" cy="742.51" r="0.72" fill="#000"/>
<circle cx="116.03" cy="732.5" r="0.72" fill="#000"/>
<circle cx="113.11" cy="722.74" r="0.72" fill="#000"/>
<circle cx="117.31" cy="750.2" r="0.72" fill="#000"/>
<circle cx="115.6" cy="750.14" r="0.72" fill="#000"/>
<circle cx="116.53" cy="725.38" r="0.72" fill="#000"/>
<circle cx="113.59" cy="666.13" r="0.72" fill="#000"/>
<circle cx="114.74" cy="717.78" r="0.72" fill="#000"/>
<circle cx="116.33" cy="748.59" r="0.72" fill="#000"/>
<circle cx="114.19" cy="749.88" r="0.72" fill="#000"/>
<circle cx="111.97" cy="749.87" r="0.72" fill="#000"/>
<circle cx="117.28" cy="750.19" r="0.72" fill="#000"/>
<circle cx="116.91" cy="730.02" r="0.72" fill="#000"/>
<circle cx="113.79" cy="749.95" r="0.72" fill="#000"/>
<circle cx="112.24" cy="742.23" r="0.72" fill="#000"/>
<circle cx="117.41" cy="745.23" r="0.72" fill="#000"/>
<circle cx="115.83" cy="749.88" r="0.72" fill="#000"/>
<circle cx="112.26" cy="737.72" r="0.72" fill="#000"/>
<circle cx="113.52" cy="747.55" r="0.72" fill="#000"/>
<circle cx="112.67" cy="749.98" r="0.72" fill="#000"/>
<circle cx="117.01" cy="706.05" r="0.72" fill="#000"/>
<circle cx="113.3" cy="750.03" r="0.72" fill="#000"/>
<circle cx="117.79" cy="750.06" r="0.72" fill="#000"/>
<circle cx="116.74" cy="749.96" r="0.72" fill="#000"/>
<circle cx="112.51" cy="747.01" r="0.72" fill="#000"/>
<circle cx="116.39" cy="727.41" r="0.72" fill="#000"/>
<circle cx="114.47" cy="749.88" r="0.72" fill="#000"/>
<circle cx="116.73" cy="749.97" r="0.72" fill="#000"/>
<circle cx="117.25" cy="738.76" r="0.72" fill="#000"/>
<circle cx="113.75" cy="749.95" r="0.72" fill="#000"/>
<circle cx="112.54" cy="745.4" r="0.72" fill="#000"/>
<circle cx="118" cy="749.96" r="0.72" fill="#000"/>
<circle cx="114.67" cy="707.95" r="0.72" fill="#000"/>
<circle cx="117.89" cy="750.02" r="0.72" fill="#000"/>
<circle cx="116.37" cy="749.98" r="0.72" fill="#000"/>
<circle cx="116.67" cy="749.91" r="0.72" fill="#000"/>
<circle cx="117.25" cy="749.89" r="0.72" fill="#000"/>
<circle cx="115.97" cy="735.12" r="0.72" fill="#000"/>
<circle cx="114.85" cy="737.76" r="0.72" fill="#000"/>
<circle cx="112.31" cy="726.12" r="0.72" fill="#000"/>
<circle cx="116.41" cy="744.53" r="0.72" fill="#000"/>
<circle cx="114.69" cy="750.13" r="0.72" fill="#000"/>
<circle cx="115.23" cy="731.32" r="0.72" fill="#000"/>
<circle cx="117.88" cy="749.97" r="0.72" fill="#000"/>
<circle cx="112.78" cy="749.99" r="0.72" fill="#000"/>
<circle cx="116.82" cy="748.44" r="0.72" fill="#000"/>
<circle cx="112.24" cy="657.36" r="0.72" fill="#000"/>
<circle cx="116.44" cy="749.41" r="0.72" fill="#000"/>
<circle cx="117.1" cy="749.73" r="0.72" fill="#000"/>
<circle cx="113.63" cy="694.66" r="0.72" fill="#000"/>
<circle cx="115.45" cy="656.79" r="0.72" fill="#000"/>
<circle cx="118.14" cy="749.05" r="0.72" fill="#000"/>
<circle cx="116.03" cy="750.07" r="0.72" fill="#000"/>
<circle cx="115.43" cy="726.26" r="0.72" fill="#000"/>
<circle cx="113.55" cy="727.68" r="0.72" fill="#000"/>
<circle cx="112.34" cy="749.88" r="0.72" fill="#000"/>
<circle cx="114.24" cy="726.1" r="0.72" fill="#000"/>
<circle cx="114.59" cy="749.22" r="0.72" fill="#000"/>
<circle cx="113.25" cy="749.93" r="0.72" fill="#000"/>
<circle cx="113.94" cy="741.84" r="0.72" fill="#000"/>
<circle cx="112.83" cy="734.36" r="0.72" fill="#000"/>
<circle cx="116.47" cy="747.08" r="0.72" fill="#000"/>
<circle cx="116.24" cy="720.7" r="0.72" fill="#000"/>
<circle cx="113.48" cy="750.19" r="0.72" fill="#000"/>
<circle cx="113.5" cy="746.57" r="0.72" fill="#000"/>
<circle cx="115.25" cy="749.2" r="0.72" fill="#000"/>
<circle cx="114.8" cy="750.14" r="0.72" fill="#000"/>
<circle cx="117.93" cy="693.28" r="0.72" fill="#000"/>
<circle cx="114.2" cy="750.06" r="0.72" fill="#000"/>
<circle cx="113.87" cy="750" r="0.72" fill="#000"/>
<circle cx="117.6" cy="707.51" r="0.72" fill="#000"/>
<circle cx="112.87" cy="675.2" r="0.72" fill="#000"/>
<circle cx="115.55" cy="686.65" r="0.72" fill="#000"/>
<circle cx="114.09" cy="749.88" r="0.72" fill="#000"/>
<circle cx="117.16" cy="686.94" r="0.72" fill="#000"/>
<circle cx="115.46" cy="750.07" r="0.72" fill="#000"/>
<circle cx="116.81" cy="735.72" r="0.72" fill="#000"/>
<circle cx="113.04" cy="681.13" r="0.72" fill="#000"/>
<circle cx="116.21" cy="750.02" r="0.72" fill="#000"/>
<circle cx="115.78" cy="750.07" r="0.72" fill="#000"/>
<circle cx="114.9" cy="737.55" r="0.72" fill="#000"/>
<circle cx="116.85" cy="705.79" r="0.72" fill="#000"/>
<circle cx="117.26" cy="735.12" r="0.72" fill="#000"/>
<circle cx="112.69" cy="679.7" r="0.72" fill="#000"/>
<circle cx="113.81" cy="747.57" r="0.72" fill="#000"/>
<circle cx="114.26" cy="749.37" r="0.72" fill="#000"/>
<circle cx="113.28" cy="750.09" r="0.72" fill="#000"/>
<circle cx="112.35" cy="749.94" r="0.72" fill="#000"/>
<circle cx="113.75" cy="683.76" r="0.72" fill="#000"/>
<circle cx="113.22" cy="750.13" r="0.72" fill="#000"/>
<circle cx="116.44" cy="750.02" r="0.72" fill="#000"/>
<circle cx="114.82" cy="749.87" r="0.72" fill="#000"/>
<circle cx="112.68" cy="750.15" r="0.72" fill="#000"/>
<circle cx="114.03" cy="749.91" r="0.72" fill="#000"/>
<circle cx="114.95" cy="750.03" r="0.72" fill="#000"/>
<circle cx="114.28" cy="750.08" r="0.72" fill="#000"/>
<circle cx="113.03" cy="745.19" r="0.72" fill="#000"/>
<circle cx="112.42" cy="744.51" r="0.72" fill="#000"/>
<circle cx="112.03" cy="743.13" r="0.72" fill="#000"/>
<circle cx="118.29" cy="731.55" r="0.72" fill="#000"/>
<circle cx="116.75" cy="745.2" r="0.72" fill="#000"/>
<circle cx="112.5" cy="680.53" r="0.72" fill="#000"/>
<circle cx="116.53" cy="750.12" r="0.72" fill="#000"/>
<circle cx="118.21" cy="749.99" r="0.72" fill="#000"/>
<circle cx="115.56" cy="750.13" r="0.72" fill="#000"/>
<circle cx="112.66" cy="749.91" r="0.72" fill="#000"/>
<circle cx="115.08" cy="731.86" r="0.72" fill="#000"/>
<circle cx="114.73" cy="689.5" r="0.72" fill="#000"/>
<circle cx="113.17" cy="746.36" r="0.72" fill="#000"/>
<circle cx="115.42" cy="750.05" r="0.72" fill="#000"/>
<circle cx="112.02" cy="749.89" r="0.72" fill="#000"/>
<circle cx="117.82" cy="743.09" r="0.72" fill="#000"/>
<circle cx="116.07" cy="749.92" r="0.72" fill="#000"/>
<circle cx="115.96" cy="725.64" r="0.72" fill="#000"/>
<circle cx="117.92" cy="667.84" r="0.72" fill="#000"/>
<circle cx="116.12" cy="747.44" r="0.72" fill="#000"/>
<circle cx="113.57" cy="741.34" r="0.72" fill="#000"/>
<circle cx="113.53" cy="715.34" r="0.72" fill="#000"/>
<circle cx="112.85" cy="747.32" r="0.72" fill="#000"/>
<circle cx="112.14" cy="750.02" r="0.72" fill="#000"/>
<circle cx="116.9" cy="681.73" r="0.72" fill="#000"/>
<circle cx="117.31" cy="664.6" r="0.72" fill="#000"/>
<circle cx="113.85" cy="750.18" r="0.72" fill="#000"/>
<circle cx="113.15" cy="731.47" r="0.72" fill="#000"/>
<circle cx="116.03" cy="748.75" r="0.72" fill="#000"/>
<circle cx="117.35" cy="750.15" r="0.72" fill="#000"/>
<circle cx="117.87" cy="750.05" r="0.72" fill="#000"/>
<circle cx="113.04" cy="750.04" r="0.72" fill="#000"/>
<circle cx="116.96" cy="734.62" r="0.72" fill="#000"/>
<circle cx="117.26" cy="750" r="0.72" fill="#000"/>
<circle cx="116.69" cy="750.18" r="0.72" fill="#000"/>
<circle cx="114.05" cy="749.99" r="0.72" fill="#000"/>
<circle cx="113.14" cy="724.41" r="0.72" fill="#000"/>
<circle cx="117.22" cy="746.57" r="0.72" fill="#000"/>
<circle cx="114" cy="738.84" r="0.72" fill="#000"/>
<circle cx="114.31" cy="747.32" r="0.72" fill="#000"/>
<circle cx="115.48" cy="750.03" r="0.72" fill="#000"/>
<circle cx="114.32" cy="750.19" r="0.72" fill="#000"/>
<circle cx="117.26" cy="749.91" r="0.72" fill="#000"/>
<circle cx="113.49" cy="750.16" r="0.72" fill="#000"/>
<circle cx="112.23" cy="749.95" r="0.72" fill="#000"/>
<circle cx="115.58" cy="740.55" r="0.72" fill="#000"/>
<circle cx="115.97" cy="749.44" r="0.72" fill="#000"/>
<circle cx="117.19" cy="747.15" r="0.72" fill="#000"/>
<circle cx="116.46" cy="740.3" r="0.72" fill="#000"/>
<circle cx="117.73" cy="749.9" r="0.72" fill="#000"/>
<circle cx="117.99" cy="749.72" r="0.72" fill="#000"/>
<circle cx="115.11" cy="705.26" r="0.72" fill="#000"/>
<circle cx="115.15" cy="742.46" r="0.72" fill="#000"/>
<circle cx="112.97" cy="748.39" r="0.72" fill="#000"/>
<circle cx="113.87" cy="744.52" r="0.72" fill="#000"/>
<circle cx="115.67" cy="747.43" r="0.72" fill="#000"/>
<circle cx="112.47" cy="749.88" r="0.72" fill="#000"/>
<circle cx="116.35" cy="693.6" r="0.72" fill="#000"/>
<circle cx="113.01" cy="749.98" r="0.72" fill="#000"/>
<circle cx="114.79" cy="684.94" r="0.72" fill="#000"/>
<circle cx="118.15" cy="713.99" r="0.72" fill="#000"/>
<circle cx="112.53" cy="706.01" r="0.72" fill="#000"/>
<circle cx="112.22" cy="750.05" r="0.72" fill="#000"/>
<circle cx="114.76" cy="746.1" r="0.72" fill="#000"/>
<circle cx="113.18" cy="660.56" r="0.72" fill="#000"/>
<circle cx="116.57" cy="749.93" r="0.72" fill="#000"/>
<circle cx="111.98" cy="750.04" r="0.72" fill="#000"/>
<circle cx="117.32" cy="735.27" r="0.72" fill="#000"/>
<circle cx="117.42" cy="749.98" r="0.72" fill="#000"/>
<circle cx="116.98" cy="742.33" r="0.72" fill="#000"/>
<circle cx="114.67" cy="750.05" r="0.72" fill="#000"/>
<circle cx="113.77" cy="680.4" r="0.72" fill="#000"/>
<circle cx="116.18" cy="749.93" r="0.72" fill="#000"/>
<circle cx="115.24" cy="750.11" r="0.72" fill="#000"/>
<circle cx="114.65" cy="737.1" r="0.72" fill="#000"/>
<circle cx="114.12" cy="749.87" r="0.72" fill="#000"/>
<circle cx="114.76" cy="743.55" r="0.72" fill="#000"/>
<circle cx="116.21" cy="746.61" r="0.72" fill="#000"/>
<circle cx="117.23" cy="690.14" r="0.72" fill="#000"/>
<circle cx="117.73" cy="745.83" r="0.72" fill="#000"/>
<circle cx="113.01" cy="749.23" r="0.72" fill="#000"/>
<circle cx="113.85" cy="750.2" r="0.72" fill="#000"/>
<circle cx="114.79" cy="746.63" r="0.72" fill="#000"/>
<circle cx="115.55" cy="749.94" r="0.72" fill="#000"/>
<circle cx="114.18" cy="742.8" r="0.72" fill="#000"/>
<circle cx="113.21" cy="739.89" r="0.72" fill="#000"/>
<circle cx="112.5" cy="747.38" r="0.72" fill="#000"/>
<circle cx="114.03" cy="750.11" r="0.72" fill="#000"/>
<circle cx="114.9" cy="746.6" r="0.72" fill="#000"/>
<circle cx="118.15" cy="746.95" r="0.72" fill="#000"/>
<circle cx="117.76" cy="739.42" r="0.72" fill="#000"/>
<circle cx="117.48" cy="669.34" r="0.72" fill="#000"/>
<circle cx="118.17" cy="749.93" r="0.72" fill="#000"/>
<circle cx="118.09" cy="747.82" r="0.72" fill="#000"/>
<circle cx="115.91" cy="750.12" r="0.72" fill="#000"/>
<circle cx="117.13" cy="724.26" r="0.72" fill="#000"/>
<circle cx="112.35" cy="749.98" r="0.72" fill="#000"/>
<circle cx="116.27" cy="718.62" r="0.72" fill="#000"/>
<circle cx="115.85" cy="724.65" r="0.72" fill="#000"/>
<circle cx="113.86" cy="749.96" r="0.72" fill="#000"/>
<circle cx="115.6" cy="697.86" r="0.72" fill="#000"/>
<circle cx="118.04" cy="746.35" r="0.72" fill="#000"/>
<circle cx="115.03" cy="748.18" r="0.72" fill="#000"/>
<circle cx="116.09" cy="743.76" r="0.72" fill="#000"/>
<circle cx="113.87" cy="681.02" r="0.72" fill="#000"/>
<circle cx="114.15" cy="746.77" r="0.72" fill="#000"/>
<circle cx="117.61" cy="746.94" r="0.72" fill="#000"/>
<circle cx="112.14" cy="749.92" r="0.72" fill="#000"/>
<circle cx="113.17" cy="716.28" r="0.72" fill="#000"/>
<circle cx="116.29" cy="746.4" r="0.72" fill="#000"/>
<circle cx="114.81" cy="749.88" r="0.72" fill="#000"/>
<circle cx="112.51" cy="750.01" r="0.72" fill="#000"/>
<circle cx="116.17" cy="750" r="0.72" fill="#000"/>
<circle cx="114.33" cy="717.64" r="0.72" fill="#000"/>
<circle cx="115.66" cy="723.57" r="0.72" fill="#000"/>
<circle cx="114.62" cy="664.13" r="0.72" fill="#000"/>
<circle cx="115.34" cy="692.27" r="0.72" fill="#000"/>
<circle cx="115.56" cy="737.21" r="0.72" fill="#000"/>
<circle cx="114.49" cy="724.75" r="0.72" fill="#000"/>
<circle cx="112.69" cy="735.87" r="0.72" fill="#000"/>
<circle cx="113.11" cy="722.39" r="0.72" fill="#000"/>
<circle cx="117.64" cy="724" r="0.72" fill="#000"/>
<circle cx="115.46" cy="750.03" r="0.72" fill="#000"/>
<circle cx="112.68" cy="721.4" r="0.72" fill="#000"/>
<circle cx="117.46" cy="749.91" r="0.72" fill="#000"/>
<circle cx="113.58" cy="749.97" r="0.72" fill="#000"/>
<circle cx="112.57" cy="691.32" r="0.72" fill="#000"/>
<circle cx="115.35" cy="750.18" r="0.72" fill="#000"/>
<circle cx="113.57" cy="745.95" r="0.72" fill="#000"/>
<circle cx="115.08" cy="749.87" r="0.72" fill="#000"/>
<circle cx="115.49" cy="725.85" r="0.72" fill="#000"/>
<circle cx="113.41" cy="740.97" r="0.72" fill="#000"/>
<circle cx="115.61" cy="694.64" r="0.72" fill="#000"/>
<circle cx="112.68" cy="686.25" r="0.72" fill="#000"/>
<circle cx="115.23" cy="739.27" r="0.72" fill="#000"/>
<circle cx="115.71" cy="750.14" r="0.72" fill="#000"/>
<circle cx="112.47" cy="738.11" r="0.72" fill="#000"/>
<circle cx="114.56" cy="750.1" r="0.72" fill="#000"/>
<circle cx="112.43" cy="662" r="0.72" fill="#000"/>
<circle cx="114.76" cy="710.16" r="0.72" fill="#000"/>
<circle cx="117.47" cy="749.91" r="0.72" fill="#000"/>
<circle cx="115.47" cy="750.02" r="0.72" fill="#000"/>
<circle cx="116.52" cy="736.75" r="0.72" fill="#000"/>
<circle cx="116.79" cy="732.36" r="0.72" fill="#000"/>
<circle cx="112.69" cy="660.27" r="0.72" fill="#000"/>
<circle cx="118.28" cy="740.35" r="0.72" fill="#000"/>
<circle cx="116.56" cy="750.08" r="0.72" fill="#000"/>
<circle cx="112.61" cy="735.11" r="0.72" fill="#000"/>
<circle cx="117.26" cy="750.14" r="0.72" fill="#000"/>
<circle cx="114.46" cy="711.13" r="0.72" fill="#000"/>
<circle cx="113.05" cy="730.32" r="0.72" fill="#000"/>
<circle cx="118.08" cy="727.08" r="0.72" fill="#000"/>
<circle cx="115.55" cy="709.29" r="0.72" fill="#000"/>
<circle cx="116.9" cy="743.06" r="0.72" fill="#000"/>
<circle cx="112.83" cy="681.98" r="0.72" fill="#000"/>
<circle cx="116.91" cy="739.53" r="0.72" fill="#000"/>
<circle cx="112.33" cy="746.73" r="0.72" fill="#000"/>
<circle cx="113.47" cy="749.1" r="0.72" fill="#000"/>
<circle cx="114.34" cy="749.79" r="0.72" fill="#000"/>
<circle cx="112.06" cy="750.18" r="0.72" fill="#000"/>
<circle cx="115.75" cy="750.05" r="0.72" fill="#000"/>
<circle cx="113.32" cy="725.09" r="0.72" fill="#000"/>
<circle cx="113.87" cy="749.98" r="0.72" fill="#000"/>
<circle cx="116.47" cy="738.8" r="0.72" fill="#000"/>
<circle cx="114.68" cy="729.04" r="0.72" fill="#000"/>
<circle cx="117.63" cy="736.74" r="0.72" fill="#000"/>
<circle cx="115.92" cy="745.75" r="0.72" fill="#000"/>
<circle cx="117.52" cy="749.9" r="0.72" fill="#000"/>
<circle cx="115.55" cy="749.94" r="0.72" fill="#000"/>
<circle cx="117.81" cy="750.02" r="0.72" fill="#000"/>
<circle cx="117.51" cy="739.09" r="0.72" fill="#000"/>
<circle cx="113.03" cy="737.15" r="0.72" fill="#000"/>
<circle cx="116.71" cy="682.46" r="0.72" fill="#000"/>
<circle cx="114.14" cy="749.89" r="0.72" fill="#000"/>
<circle cx="116.83" cy="688.36" r="0.72" fill="#000"/>
<circle cx="116.3" cy="694.46" r="0.72" fill="#000"/>
<circle cx="117.23" cy="749.92" r="0.72" fill="#000"/>
<circle cx="112.74" cy="678.61" r="0.72" fill="#000"/>
<circle cx="114.34" cy="740.52" r="0.72" fill="#000"/>
<circle cx="116.66" cy="673.95" r="0.72" fill="#000"/>
<circle cx="118.01" cy="729.26" r="0.72" fill="#000"/>
<circle cx="116.56" cy="749.88" r="0.72" fill="#000"/>
<circle cx="112.24" cy="749.94" r="0.72" fill="#000"/>
<circle cx="115.81" cy="745.41" r="0.72" fill="#000"/>
<circle cx="112.6" cy="746.82" r="0.72" fill="#000"/>
<circle cx="115.46" cy="750.17" r="0.72" fill="#000"/>
<circle cx="117.08" cy="712.14" r="0.72" fill="#000"/>
<circle cx="112.68" cy="744.76" r="0.72" fill="#000"/>
<circle cx="117.86" cy="747.14" r="0.72" fill="#000"/>
<circle cx="116.27" cy="734.2" r="0.72" fill="#000"/>
<circle cx="113.59" cy="749.96" r="0.72" fill="#000"/>
<circle cx="113.19" cy="750.01" r="0.72" fill="#000"/>
<circle cx="114.81" cy="742.47" r="0.72" fill="#000"/>
<circle cx="117.31" cy="749.97" r="0.72" fill="#000"/>
<circle cx="115.67" cy="749.89" r="0.72" fill="#000"/>
<circle cx="112.69" cy="750.13" r="0.72" fill="#000"/>
<circle cx="112.1" cy="750.15" r="0.72" fill="#000"/>
<circle cx="112.67" cy="749.75" r="0.72" fill="#000"/>
<circle cx="117.07" cy="745.19" r="0.72" fill="#000"/>
<circle cx="113.14" cy="679.83" r="0.72" fill="#000"/>
<circle cx="115.5" cy="739.5" r="0.72" fill="#000"/>
<circle cx="113.81" cy="748.44" r="0.72" fill="#000"/>
<circle cx="116.34" cy="748.61" r="0.72" fill="#000"/>
<circle cx="114.39" cy="749.98" r="0.72" fill="#000"/>
<circle cx="112.88" cy="747.13" r="0.72" fill="#000"/>
<circle cx="117.54" cy="675.87" r="0.72" fill="#000"/>
<circle cx="115.4" cy="750.08" r="0.72" fill="#000"/>
<circle cx="116.36" cy="748.03" r="0.72" fill="#000"/>
<circle cx="117.11" cy="737.18" r="0.72" fill="#000"/>
<circle cx="118.01" cy="731.53" r="0.72" fill="#000"/>
<circle cx="112.05" cy="743.77" r="0.72" fill="#000"/>
<circle cx="114.15" cy="739.42" r="0.72" fill="#000"/>
<circle cx="112.92" cy="683.96" r="0.72" fill="#000"/>
<circle cx="115.16" cy="697.96" r="0.72" fill="#000"/>
<circle cx="117.53" cy="749.96" r="0.72" fill="#000"/>
<circle cx="117.07" cy="744.47" r="0.72" fill="#000"/>
<circle cx="112.19" cy="649.94" r="0.72" fill="#000"/>
<circle cx="113.12" cy="745.15" r="0.72" fill="#000"/>
<circle cx="117.18" cy="750.02" r="0.72" fill="#000"/>
<circle cx="116.29" cy="730.82" r="0.72" fill="#000"/>
<circle cx="114.47" cy="750.15" r="0.72" fill="#000"/>
<circle cx="115" cy="750.06" r="0.72" fill="#000"/>
<circle cx="112.97" cy="743.96" r="0.72" fill="#000"/>
<circle cx="117.35" cy="749.94" r="0.72" fill="#000"/>
<circle cx="114.47" cy="735.46" r="0.72" fill="#000"/>
<circle cx="117.53" cy="735.1" r="0.72" fill="#000"/>
<circle cx="115.86" cy="749.9" r="0.72" fill="#000"/>
<circle cx="112.45" cy="730.65" r="0.72" fill="#000"/>
<circle cx="114.06" cy="739.09" r="0.72" fill="#000"/>
<circle cx="113.34" cy="736.15" r="0.72" fill="#000"/>
<circle cx="117.66" cy="747.51" r="0.72" fill="#000"/>
<circle cx="115.72" cy="748.04" r="0.72" fill="#000"/>
<circle cx="112.24" cy="750.1" r="0.72" fill="#000"/>
<circle cx="113.04" cy="747.1" r="0.72" fill="#000"/>
<circle cx="114.26" cy="677.58" r="0.72" fill="#000"/>
<circle cx="114.94" cy="703.48" r="0.72" fill="#000"/>
<circle cx="115.64" cy="750.15" r="0.72" fill="#000"/>
<circle cx="114.44" cy="750.13" r="0.72" fill="#000"/>
<circle cx="114.22" cy="749.94" r="0.72" fill="#000"/>
<circle cx="112" cy="736.73" r="0.72" fill="#000"/>
<circle cx="115.65" cy="747.93" r="0.72" fill="#000"/>
<circle cx="114.09" cy="750.08" r="0.72" fill="#000"/>
<circle cx="112.09" cy="748.19" r="0.72" fill="#000"/>
<circle cx="114.89" cy="742.86" r="0.72" fill="#000"/>
<circle cx="118.25" cy="734.22" r="0.72" fill="#000"/>
<circle cx="112.25" cy="748.69" r="0.72" fill="#000"/>
<circle cx="112.89" cy="739" r="0.72" fill="#000"/>
<circle cx="116.24" cy="737.4" r="0.72" fill="#000"/>
<circle cx="113.7" cy="740.71" r="0.72" fill="#000"/>
<circle cx="113.71" cy="750.16" r="0.72" fill="#000"/>
<circle cx="115.15" cy="735.93" r="0.72" fill="#000"/>
<circle cx="113.63" cy="750.08" r="0.72" fill="#000"/>
<circle cx="115.59" cy="750.15" r="0.72" fill="#000"/>
<circle cx="115.33" cy="747.13" r="0.72" fill="#000"/>
<circle cx="118.06" cy="750.18" r="0.72" fill="#000"/>
<circle cx="118.29" cy="750.13" r="0.72" fill="#000"/>
<circle cx="112.18" cy="748.96" r="0.72" fill="#000"/>
<circle cx="115.54" cy="747.24" r="0.72" fill="#000"/>
<circle cx="116.88" cy="750.1" r="0.72" fill="#000"/>
<circle cx="117.52" cy="677.95" r="0.72" fill="#000"/>
<circle cx="116.9" cy="714.16" r="0.72" fill="#000"/>
<circle cx="116" cy="746.84" r="0.72" fill="#000"/>
<circle cx="116.01" cy="742.12" r="0.72" fill="#000"/>
<circle cx="114.28" cy="749.9" r="0.72" fill="#000"/>
<circle cx="113.76" cy="661.1" r="0.72" fill="#000"/>
<circle cx="117.03" cy="750.09" r="0.72" fill="#000"/>
<circle cx="117.53" cy="749.91" r="0.72" fill="#000"/>
<circle cx="117.95" cy="749.99" r="0.72" fill="#000"/>
<circle cx="116.31" cy="711.53" r="0.72" fill="#000"/>
<circle cx="113.9" cy="746.1" r="0.72" fill="#000"/>
<circle cx="116.83" cy="748.53" r="0.72" fill="#000"/>
<circle cx="116.68" cy="748.79" r="0.72" fill="#000"/>
<circle cx="115.21" cy="704.03" r="0.72" fill="#000"/>
<circle cx="116.01" cy="749.96" r="0.72" fill="#000"/>
<circle cx="114.2" cy="725.93" r="0.72" fill="#000"/>
<circle cx="115.47" cy="736.05" r="0.72" fill="#000"/>
<circle cx="114.55" cy="747.69" r="0.72" fill="#000"/>
<circle cx="112.35" cy="749.52" r="0.72" fill="#000"/>
<circle cx="114.11" cy="747.95" r="0.72" fill="#000"/>
<circle cx="114.02" cy="747.59" r="0.72" fill="#000"/>
<circle cx="118.26" cy="749.9" r="0.72" fill="#000"/>
<circle cx="115.03" cy="740.3" r="0.72" fill="#000"/>
<circle cx="114.3" cy="748.51" r="0.72" fill="#000"/>
<circle cx="113.51" cy="749.91" r="0.72" fill="#000"/>
<circle cx="113.46" cy="729.53" r="0.72" fill="#000"/>
<circle cx="114.19" cy="747.54" r="0.72" fill="#000"/>
<circle cx="112.83" cy="747.13" r="0.72" fill="#000"/>
<circle cx="112.01" cy="706.96" r="0.72" fill="#000"/>
<circle cx="117.51" cy="747.55" r="0.72" fill="#000"/>
<circle cx="114.85" cy="749.29" r="0.72" fill="#000"/>
<circle cx="114.8" cy="699.74" r="0.72" fill="#000"/>
<circle cx="115.59" cy="665.53" r="0.72" fill="#000"/>
<circle cx="113.89" cy="727.02" r="0.72" fill="#000"/>
<circle cx="113.04" cy="748.73" r="0.72" fill="#000"/>
<circle cx="112.39" cy="737.91" r="0.72" fill="#000"/>
<circle cx="113.88" cy="734.39" r="0.72" fill="#000"/>
<circle cx="113.93" cy="749.92" r="0.72" fill="#000"/>
<circle cx="116.59" cy="735.24" r="0.72" fill="#000"/>
<circle cx="115.48" cy="679.5" r="0.72" fill="#000"/>
<circle cx="117.94" cy="738.69" r="0.72" fill="#000"/>
<circle cx="114.13" cy="738.03" r="0.72" fill="#000"/>
<circle cx="117.84" cy="747.98" r="0.72" fill="#000"/>
<circle cx="115.68" cy="738.81" r="0.72" fill="#000"/>
<circle cx="112.47" cy="749.99" r="0.72" fill="#000"/>
<circle cx="113.1" cy="729.99" r="0.72" fill="#000"/>
<circle cx="115.66" cy="744.57" r="0.72" fill="#000"/>
<circle cx="118.26" cy="663.35" r="0.72" fill="#000"/>
<circle cx="114.24" cy="749.88" r="0.72" fill="#000"/>
<circle cx="116.9" cy="735.87" r="0.72" fill="#000"/>
<circle cx="114.69" cy="750.18" r="0.72" fill="#000"/>
<circle cx="117.5" cy="748.4" r="0.72" fill="#000"/>
<circle cx="112.39" cy="730.76" r="0.72" fill="#000"/>
<circle cx="115.05" cy="749.95" r="0.72" fill="#000"/>
<circle cx="117.69" cy="740.82" r="0.72" fill="#000"/>
<circle cx="113.72" cy="749.99" r="0.72" fill="#000"/>
<circle cx="113.6" cy="748.8" r="0.72" fill="#000"/>
<circle cx="112.11" cy="653.58" r="0.72" fill="#000"/>
<circle cx="113.01" cy="750.01" r="0.72" fill="#000"/>
<circle cx="113.67" cy="693.98" r="0.72" fill="#000"/>
<circle cx="116.45" cy="750.14" r="0.72" fill="#000"/>
<circle cx="113.35" cy="630.68" r="0.72" fill="#000"/>
<circle cx="114.51" cy="629.85" r="0.72" fill="#000"/>
<circle cx="113.24" cy="627.36" r="0.72" fill="#000"/>
<circle cx="115.81" cy="605.78" r="0.72" fill="#000"/>
<line x1="102.4" y1="746.55" x2="127.9" y2="746.55" stroke="#1a1a1a" stroke-width="1.5" />
<line x1="147.4" y1="618.23" x2="147.4" y2="582.21" stroke="#333" stroke-width="0.7" stroke-dasharray="1.3 1.3"/>
<line x1="147.4" y1="681.31" x2="147.4" y2="747.21" stroke="#333" stroke-width="0.7" stroke-dasharray="1.3 1.3"/>
<line x1="141.1" y1="582.21" x2="153.7" y2="582.21" stroke="#666" stroke-width="0.9" />
<line x1="141.1" y1="747.21" x2="153.7" y2="747.21" stroke="#666" stroke-width="0.9" />
<rect x="134.1" y="618.23" width="26.6" height="63.08" fill="#7F7F7F" stroke="#585858" stroke-width="0.6"/>
<line x1="134.1" y1="750.2" x2="160.7" y2="750.2" stroke="#1a1a1a" stroke-width="1.6" />
<circle cx="149.82" cy="747.21" r="0.72" fill="#000"/>
<circle cx="148.38" cy="743.56" r="0.72" fill="#000"/>
<circle cx="145.38" cy="740.24" r="0.72" fill="#000"/>
<circle cx="148.96" cy="730.28" r="0.72" fill="#000"/>
<circle cx="150.48" cy="702.06" r="0.72" fill="#000"/>
<circle cx="148.07" cy="698.74" r="0.72" fill="#000"/>
<circle cx="144.6" cy="688.78" r="0.72" fill="#000"/>
<circle cx="149.46" cy="675.5" r="0.72" fill="#000"/>
<circle cx="149.9" cy="670.52" r="0.72" fill="#000"/>
<circle cx="146.34" cy="667.2" r="0.72" fill="#000"/>
<circle cx="144.98" cy="663.88" r="0.72" fill="#000"/>
<circle cx="145.33" cy="660.56" r="0.72" fill="#000"/>
<circle cx="147.65" cy="657.24" r="0.72" fill="#000"/>
<circle cx="149.9" cy="653.92" r="0.72" fill="#000"/>
<circle cx="148.33" cy="650.6" r="0.72" fill="#000"/>
<circle cx="150.21" cy="648.94" r="0.72" fill="#000"/>
<circle cx="145.49" cy="647.28" r="0.72" fill="#000"/>
<circle cx="146.25" cy="645.62" r="0.72" fill="#000"/>
<circle cx="149.06" cy="643.96" r="0.72" fill="#000"/>
<circle cx="148.39" cy="640.64" r="0.72" fill="#000"/>
<circle cx="146.77" cy="634" r="0.72" fill="#000"/>
<circle cx="148.59" cy="629.02" r="0.72" fill="#000"/>
<circle cx="146.32" cy="625.7" r="0.72" fill="#000"/>
<circle cx="144.46" cy="622.38" r="0.72" fill="#000"/>
<circle cx="146.83" cy="619.06" r="0.72" fill="#000"/>
<circle cx="144.38" cy="617.4" r="0.72" fill="#000"/>
<circle cx="148.24" cy="604.12" r="0.72" fill="#000"/>
<circle cx="146.3" cy="599.14" r="0.72" fill="#000"/>
<circle cx="147.36" cy="592.5" r="0.72" fill="#000"/>
<circle cx="148.05" cy="587.52" r="0.72" fill="#000"/>
<circle cx="145.78" cy="584.2" r="0.72" fill="#000"/>
<circle cx="147.16" cy="582.21" r="0.72" fill="#000"/>
<circle cx="144.17" cy="750.2" r="0.72" fill="#000"/>
<circle cx="150.23" cy="750.2" r="0.72" fill="#000"/>
<circle cx="147.83" cy="750.2" r="0.72" fill="#000"/>
<circle cx="150.64" cy="750.2" r="0.72" fill="#000"/>
<circle cx="144.45" cy="750.2" r="0.72" fill="#000"/>
<circle cx="148.16" cy="750.2" r="0.72" fill="#000"/>
<circle cx="148.89" cy="750.2" r="0.72" fill="#000"/>
<circle cx="146.26" cy="750.2" r="0.72" fill="#000"/>
<circle cx="144.7" cy="750.2" r="0.72" fill="#000"/>
<circle cx="145.11" cy="750.2" r="0.72" fill="#000"/>
<circle cx="145.02" cy="750.2" r="0.72" fill="#000"/>
<circle cx="149.18" cy="750.2" r="0.72" fill="#000"/>
<line x1="134.1" y1="647.28" x2="160.7" y2="647.28" stroke="#1a1a1a" stroke-width="1.5" />
<rect x="78.5" y="566.5" width="105" height="191" fill="none" stroke="#6a6a6a" stroke-width="1"/>
<line x1="74.8" y1="750.2" x2="78.8" y2="750.2" stroke="#555" stroke-width="0.9" />
<text x="67.1" y="750.2" font-family='"Liberation Sans", sans-serif' font-size="6.6" text-anchor="middle" fill="#333" font-weight="normal" transform="rotate(-90 67.1 750.2)" dominant-baseline="central" stroke="#333" stroke-width="0.2">0</text>
<line x1="74.8" y1="717" x2="78.8" y2="717" stroke="#555" stroke-width="0.9" />
<text x="67.1" y="717" font-family='"Liberation Sans", sans-serif' font-size="6.6" text-anchor="middle" fill="#333" font-weight="normal" transform="rotate(-90 67.1 717)" dominant-baseline="central" stroke="#333" stroke-width="0.2">2</text>
<line x1="74.8" y1="683.8" x2="78.8" y2="683.8" stroke="#555" stroke-width="0.9" />
<text x="67.1" y="683.8" font-family='"Liberation Sans", sans-serif' font-size="6.6" text-anchor="middle" fill="#333" font-weight="normal" transform="rotate(-90 67.1 683.8)" dominant-baseline="central" stroke="#333" stroke-width="0.2">4</text>
<line x1="74.8" y1="650.6" x2="78.8" y2="650.6" stroke="#555" stroke-width="0.9" />
<text x="67.1" y="650.6" font-family='"Liberation Sans", sans-serif' font-size="6.6" text-anchor="middle" fill="#333" font-weight="normal" transform="rotate(-90 67.1 650.6)" dominant-baseline="central" stroke="#333" stroke-width="0.2">6</text>
<line x1="74.8" y1="617.4" x2="78.8" y2="617.4" stroke="#555" stroke-width="0.9" />
<text x="67.1" y="617.4" font-family='"Liberation Sans", sans-serif' font-size="6.6" text-anchor="middle" fill="#333" font-weight="normal" transform="rotate(-90 67.1 617.4)" dominant-baseline="central" stroke="#333" stroke-width="0.2">8</text>
<line x1="74.8" y1="584.2" x2="78.8" y2="584.2" stroke="#555" stroke-width="0.9" />
<text x="67.1" y="584.2" font-family='"Liberation Sans", sans-serif' font-size="6.6" text-anchor="middle" fill="#333" font-weight="normal" transform="rotate(-90 67.1 584.2)" dominant-baseline="central" stroke="#333" stroke-width="0.2">10</text>
<line x1="131.2" y1="757.1" x2="131.2" y2="761.1" stroke="#555" stroke-width="0.9" />
<polyline points="114.3,601.5 114.3,572.3 147.8,572.3 147.8,577.2" fill="none" stroke="#777" stroke-width="0.9"/>
<polygon points="131.2,571 131.81,572.46 133.39,572.59 132.18,573.62 132.55,575.16 131.2,574.33 129.85,575.16 130.22,573.62 129.01,572.59 130.59,572.46" fill="#F01818"/>
<g transform="matrix(1.0027,0,0,1.0200,-0.239,-15.567)"><text x="133.1" y="774.5" font-family='"Liberation Serif", serif' font-size="7.0" text-anchor="middle" fill="#111" font-weight="normal" stroke="#111" stroke-width="0.12">HNSC</text></g>
<g transform="matrix(1.0176,0,0,0.9962,-2.341,2.135)"><text x="133.1" y="782.7" font-family='"Liberation Serif", serif' font-size="7.0" text-anchor="middle" fill="#111" font-weight="normal" stroke="#111" stroke-width="0.12">(num(T)=519; num(N)=44)</text></g>
<g transform="matrix(0.9212,0,0,0.9840,6.285,9.903)"><text x="51.8" y="666.6" font-family='"Liberation Serif", serif' font-size="8.6" text-anchor="middle" fill="#111" font-weight="normal" transform="rotate(-90 51.8 666.6)" stroke="#111" stroke-width="0.2">Expression &#8211;log<tspan font-size="70%" dy="1.8">2</tspan><tspan dy="-1.8">(TPM+1)</tspan></text></g>
<g transform="matrix(0.8108,0,0,1.0256,9.243,-15.154)"><text x="51" y="576" font-family='"Liberation Sans", sans-serif' font-size="17" text-anchor="start" fill="#111" font-weight="normal" stroke="#111" stroke-width="0.55">a</text></g>
<line x1="388.3" y1="559.5" x2="522" y2="559.5" stroke="#e6e6e6" stroke-width="1" />
<line x1="454.35" y1="677.24" x2="454.35" y2="593.65" stroke="#333" stroke-width="0.7" stroke-dasharray="1.3 1.3"/>
<line x1="454.35" y1="742.5" x2="454.35" y2="755.1" stroke="#333" stroke-width="0.7" stroke-dasharray="1.3 1.3"/>
<line x1="448.05" y1="593.65" x2="460.65" y2="593.65" stroke="#666" stroke-width="0.9" />
<rect x="442.2" y="677.24" width="24.3" height="65.26" fill="#FE6565" stroke="#C04848" stroke-width="0.6"/>
<line x1="442.2" y1="755.1" x2="466.5" y2="755.1" stroke="#1a1a1a" stroke-width="1.6" />
<circle cx="451.96" cy="700.19" r="0.72" fill="#000"/>
<circle cx="456.18" cy="664.28" r="0.72" fill="#000"/>
<circle cx="453.9" cy="661.36" r="0.72" fill="#000"/>
<circle cx="454.58" cy="725.04" r="0.72" fill="#000"/>
<circle cx="454.87" cy="699.18" r="0.72" fill="#000"/>
<circle cx="454.67" cy="682.44" r="0.72" fill="#000"/>
<circle cx="455.27" cy="675.11" r="0.72" fill="#000"/>
<circle cx="454.94" cy="677.7" r="0.72" fill="#000"/>
<circle cx="453.36" cy="700.75" r="0.72" fill="#000"/>
<circle cx="455.76" cy="742.31" r="0.72" fill="#000"/>
<circle cx="452.94" cy="683.39" r="0.72" fill="#000"/>
<circle cx="455.58" cy="703.17" r="0.72" fill="#000"/>
<circle cx="455.89" cy="705.5" r="0.72" fill="#000"/>
<circle cx="455.96" cy="609.19" r="0.72" fill="#000"/>
<circle cx="453.24" cy="751.6" r="0.72" fill="#000"/>
<circle cx="455.94" cy="671.67" r="0.72" fill="#000"/>
<circle cx="457.13" cy="733.26" r="0.72" fill="#000"/>
<circle cx="454.08" cy="680.46" r="0.72" fill="#000"/>
<circle cx="453.06" cy="631.85" r="0.72" fill="#000"/>
<circle cx="454.49" cy="739.48" r="0.72" fill="#000"/>
<circle cx="456.92" cy="702.36" r="0.72" fill="#000"/>
<circle cx="452.2" cy="707.7" r="0.72" fill="#000"/>
<circle cx="451.49" cy="712.18" r="0.72" fill="#000"/>
<circle cx="454.21" cy="749.15" r="0.72" fill="#000"/>
<circle cx="455.26" cy="694.35" r="0.72" fill="#000"/>
<circle cx="455.95" cy="651.15" r="0.72" fill="#000"/>
<circle cx="453.55" cy="689.16" r="0.72" fill="#000"/>
<circle cx="457.2" cy="737.66" r="0.72" fill="#000"/>
<circle cx="452.76" cy="667.05" r="0.72" fill="#000"/>
<circle cx="455.85" cy="721.48" r="0.72" fill="#000"/>
<circle cx="451.96" cy="750.9" r="0.72" fill="#000"/>
<circle cx="451.6" cy="697.05" r="0.72" fill="#000"/>
<circle cx="452.22" cy="716.49" r="0.72" fill="#000"/>
<circle cx="451.78" cy="707.49" r="0.72" fill="#000"/>
<circle cx="454.36" cy="604.28" r="0.72" fill="#000"/>
<circle cx="454.67" cy="702.05" r="0.72" fill="#000"/>
<circle cx="452.49" cy="630.35" r="0.72" fill="#000"/>
<circle cx="456.91" cy="729.81" r="0.72" fill="#000"/>
<circle cx="453.57" cy="675.62" r="0.72" fill="#000"/>
<circle cx="452.3" cy="754.67" r="0.72" fill="#000"/>
<circle cx="452.47" cy="736.27" r="0.72" fill="#000"/>
<circle cx="455.74" cy="685.22" r="0.72" fill="#000"/>
<circle cx="456.81" cy="685.45" r="0.72" fill="#000"/>
<circle cx="452.38" cy="662.98" r="0.72" fill="#000"/>
<circle cx="451.6" cy="726.41" r="0.72" fill="#000"/>
<circle cx="455.97" cy="739.58" r="0.72" fill="#000"/>
<circle cx="452.85" cy="729.1" r="0.72" fill="#000"/>
<circle cx="457.16" cy="706.46" r="0.72" fill="#000"/>
<circle cx="454.34" cy="754.96" r="0.72" fill="#000"/>
<circle cx="455.14" cy="727.11" r="0.72" fill="#000"/>
<circle cx="453.44" cy="689.98" r="0.72" fill="#000"/>
<circle cx="456.1" cy="750.63" r="0.72" fill="#000"/>
<circle cx="454.12" cy="734.95" r="0.72" fill="#000"/>
<circle cx="453.32" cy="654.94" r="0.72" fill="#000"/>
<circle cx="456.7" cy="639.86" r="0.72" fill="#000"/>
<circle cx="452.06" cy="742.53" r="0.72" fill="#000"/>
<circle cx="455.71" cy="748.28" r="0.72" fill="#000"/>
<circle cx="451.82" cy="753.11" r="0.72" fill="#000"/>
<circle cx="455.2" cy="754.61" r="0.72" fill="#000"/>
<circle cx="453.78" cy="669.23" r="0.72" fill="#000"/>
<circle cx="456.47" cy="678.75" r="0.72" fill="#000"/>
<circle cx="451.78" cy="740.72" r="0.72" fill="#000"/>
<circle cx="454.72" cy="712.94" r="0.72" fill="#000"/>
<circle cx="453.82" cy="684.74" r="0.72" fill="#000"/>
<circle cx="456.79" cy="754.94" r="0.72" fill="#000"/>
<circle cx="456.94" cy="664.71" r="0.72" fill="#000"/>
<circle cx="455.09" cy="657.32" r="0.72" fill="#000"/>
<circle cx="452.74" cy="745.61" r="0.72" fill="#000"/>
<circle cx="452.9" cy="683.64" r="0.72" fill="#000"/>
<circle cx="452.96" cy="684.21" r="0.72" fill="#000"/>
<circle cx="453.96" cy="731.74" r="0.72" fill="#000"/>
<circle cx="452.78" cy="653.89" r="0.72" fill="#000"/>
<circle cx="452.62" cy="745.04" r="0.72" fill="#000"/>
<circle cx="455.86" cy="714.82" r="0.72" fill="#000"/>
<circle cx="455.18" cy="734.63" r="0.72" fill="#000"/>
<circle cx="453.17" cy="718.78" r="0.72" fill="#000"/>
<circle cx="457.23" cy="665.91" r="0.72" fill="#000"/>
<circle cx="452.7" cy="701.98" r="0.72" fill="#000"/>
<circle cx="454.76" cy="696.57" r="0.72" fill="#000"/>
<circle cx="452.35" cy="609.27" r="0.72" fill="#000"/>
<circle cx="456.47" cy="744.64" r="0.72" fill="#000"/>
<circle cx="456.5" cy="744.69" r="0.72" fill="#000"/>
<circle cx="452.99" cy="695.14" r="0.72" fill="#000"/>
<circle cx="455.82" cy="750.5" r="0.72" fill="#000"/>
<circle cx="456.23" cy="625.22" r="0.72" fill="#000"/>
<circle cx="453.08" cy="731.22" r="0.72" fill="#000"/>
<circle cx="453.37" cy="719" r="0.72" fill="#000"/>
<circle cx="454.27" cy="720.1" r="0.72" fill="#000"/>
<circle cx="456.63" cy="663.12" r="0.72" fill="#000"/>
<circle cx="452.38" cy="647.17" r="0.72" fill="#000"/>
<circle cx="455.42" cy="687.27" r="0.72" fill="#000"/>
<circle cx="454.92" cy="748.8" r="0.72" fill="#000"/>
<circle cx="454.08" cy="729.5" r="0.72" fill="#000"/>
<circle cx="454.81" cy="683.23" r="0.72" fill="#000"/>
<circle cx="456.58" cy="745.22" r="0.72" fill="#000"/>
<circle cx="452.66" cy="653.11" r="0.72" fill="#000"/>
<circle cx="456.59" cy="655" r="0.72" fill="#000"/>
<circle cx="453.54" cy="744.39" r="0.72" fill="#000"/>
<circle cx="455.98" cy="728.37" r="0.72" fill="#000"/>
<circle cx="456.47" cy="744.21" r="0.72" fill="#000"/>
<circle cx="452.5" cy="681.56" r="0.72" fill="#000"/>
<circle cx="456.47" cy="754.83" r="0.72" fill="#000"/>
<circle cx="457.24" cy="684.7" r="0.72" fill="#000"/>
<circle cx="453.17" cy="754.74" r="0.72" fill="#000"/>
<circle cx="451.58" cy="660.67" r="0.72" fill="#000"/>
<circle cx="452.08" cy="705.65" r="0.72" fill="#000"/>
<circle cx="457.12" cy="700.16" r="0.72" fill="#000"/>
<circle cx="451.49" cy="754.55" r="0.72" fill="#000"/>
<circle cx="456.75" cy="754.85" r="0.72" fill="#000"/>
<circle cx="452.31" cy="729.76" r="0.72" fill="#000"/>
<circle cx="455.73" cy="612.03" r="0.72" fill="#000"/>
<circle cx="452" cy="697.84" r="0.72" fill="#000"/>
<circle cx="452.42" cy="656.82" r="0.72" fill="#000"/>
<circle cx="455.42" cy="754.74" r="0.72" fill="#000"/>
<circle cx="451.96" cy="754.38" r="0.72" fill="#000"/>
<circle cx="453.41" cy="754.98" r="0.72" fill="#000"/>
<circle cx="456.79" cy="684.53" r="0.72" fill="#000"/>
<circle cx="455.61" cy="748.4" r="0.72" fill="#000"/>
<circle cx="456.58" cy="739.7" r="0.72" fill="#000"/>
<circle cx="457.15" cy="688.64" r="0.72" fill="#000"/>
<circle cx="451.63" cy="684.73" r="0.72" fill="#000"/>
<circle cx="452.8" cy="733.55" r="0.72" fill="#000"/>
<circle cx="456.05" cy="715.61" r="0.72" fill="#000"/>
<circle cx="455.45" cy="737.68" r="0.72" fill="#000"/>
<circle cx="451.65" cy="703.16" r="0.72" fill="#000"/>
<circle cx="454.38" cy="729.41" r="0.72" fill="#000"/>
<circle cx="452.78" cy="728.9" r="0.72" fill="#000"/>
<circle cx="453.94" cy="742.59" r="0.72" fill="#000"/>
<circle cx="452.05" cy="737.29" r="0.72" fill="#000"/>
<circle cx="451.55" cy="741.15" r="0.72" fill="#000"/>
<circle cx="457.21" cy="755.01" r="0.72" fill="#000"/>
<circle cx="453.28" cy="735.04" r="0.72" fill="#000"/>
<circle cx="456.56" cy="698.95" r="0.72" fill="#000"/>
<circle cx="452.14" cy="740.2" r="0.72" fill="#000"/>
<circle cx="454.28" cy="753.49" r="0.72" fill="#000"/>
<circle cx="452.23" cy="659.78" r="0.72" fill="#000"/>
<circle cx="453.93" cy="715.41" r="0.72" fill="#000"/>
<circle cx="452.48" cy="709.97" r="0.72" fill="#000"/>
<circle cx="455.43" cy="734.85" r="0.72" fill="#000"/>
<circle cx="452.3" cy="652.31" r="0.72" fill="#000"/>
<circle cx="455.74" cy="676.5" r="0.72" fill="#000"/>
<circle cx="454.35" cy="694.74" r="0.72" fill="#000"/>
<circle cx="452.09" cy="689.69" r="0.72" fill="#000"/>
<circle cx="453.5" cy="685.16" r="0.72" fill="#000"/>
<circle cx="454.33" cy="711.52" r="0.72" fill="#000"/>
<circle cx="456.79" cy="722.33" r="0.72" fill="#000"/>
<circle cx="453.47" cy="725.19" r="0.72" fill="#000"/>
<circle cx="452.69" cy="711.02" r="0.72" fill="#000"/>
<circle cx="457.08" cy="715.47" r="0.72" fill="#000"/>
<circle cx="456.58" cy="707.62" r="0.72" fill="#000"/>
<circle cx="455.7" cy="707.05" r="0.72" fill="#000"/>
<circle cx="453.03" cy="670.22" r="0.72" fill="#000"/>
<circle cx="452.47" cy="651.31" r="0.72" fill="#000"/>
<circle cx="452.98" cy="744.59" r="0.72" fill="#000"/>
<circle cx="451.84" cy="754.97" r="0.72" fill="#000"/>
<circle cx="451.69" cy="736.19" r="0.72" fill="#000"/>
<circle cx="454.4" cy="754.92" r="0.72" fill="#000"/>
<circle cx="453.81" cy="668.81" r="0.72" fill="#000"/>
<circle cx="454.68" cy="695.05" r="0.72" fill="#000"/>
<circle cx="453.55" cy="738.11" r="0.72" fill="#000"/>
<circle cx="451.5" cy="747.21" r="0.72" fill="#000"/>
<circle cx="455.45" cy="655.67" r="0.72" fill="#000"/>
<circle cx="455.24" cy="661.58" r="0.72" fill="#000"/>
<circle cx="454.61" cy="686.36" r="0.72" fill="#000"/>
<circle cx="454.63" cy="685.25" r="0.72" fill="#000"/>
<circle cx="455.46" cy="677.99" r="0.72" fill="#000"/>
<circle cx="457.16" cy="717.2" r="0.72" fill="#000"/>
<circle cx="456.53" cy="724.28" r="0.72" fill="#000"/>
<circle cx="455.62" cy="704.33" r="0.72" fill="#000"/>
<circle cx="453.76" cy="653.52" r="0.72" fill="#000"/>
<circle cx="453.29" cy="604.03" r="0.72" fill="#000"/>
<circle cx="453.88" cy="646.87" r="0.72" fill="#000"/>
<circle cx="457.11" cy="661.7" r="0.72" fill="#000"/>
<circle cx="453.69" cy="754.67" r="0.72" fill="#000"/>
<circle cx="453.68" cy="742.75" r="0.72" fill="#000"/>
<circle cx="453.82" cy="621.99" r="0.72" fill="#000"/>
<circle cx="452.27" cy="705.61" r="0.72" fill="#000"/>
<circle cx="457.26" cy="709.55" r="0.72" fill="#000"/>
<circle cx="451.46" cy="735.11" r="0.72" fill="#000"/>
<circle cx="454.98" cy="656.88" r="0.72" fill="#000"/>
<circle cx="456.84" cy="709.28" r="0.72" fill="#000"/>
<circle cx="452.92" cy="605.26" r="0.72" fill="#000"/>
<circle cx="455" cy="754.67" r="0.72" fill="#000"/>
<circle cx="453.63" cy="601.73" r="0.72" fill="#000"/>
<circle cx="452.84" cy="755.02" r="0.72" fill="#000"/>
<circle cx="452.59" cy="750.66" r="0.72" fill="#000"/>
<circle cx="452.11" cy="725.25" r="0.72" fill="#000"/>
<circle cx="456.35" cy="692.42" r="0.72" fill="#000"/>
<circle cx="456.01" cy="753.68" r="0.72" fill="#000"/>
<circle cx="456.73" cy="703.02" r="0.72" fill="#000"/>
<circle cx="451.72" cy="637.09" r="0.72" fill="#000"/>
<circle cx="455.48" cy="719.56" r="0.72" fill="#000"/>
<circle cx="453.33" cy="674.99" r="0.72" fill="#000"/>
<circle cx="455.2" cy="698.96" r="0.72" fill="#000"/>
<circle cx="454.64" cy="700.27" r="0.72" fill="#000"/>
<circle cx="453.27" cy="748.66" r="0.72" fill="#000"/>
<circle cx="457.1" cy="716.04" r="0.72" fill="#000"/>
<circle cx="451.44" cy="649.9" r="0.72" fill="#000"/>
<circle cx="455.79" cy="687.66" r="0.72" fill="#000"/>
<circle cx="456.41" cy="745.17" r="0.72" fill="#000"/>
<circle cx="454.41" cy="718.15" r="0.72" fill="#000"/>
<circle cx="454.89" cy="705.6" r="0.72" fill="#000"/>
<circle cx="457.24" cy="731.78" r="0.72" fill="#000"/>
<circle cx="452.8" cy="700.91" r="0.72" fill="#000"/>
<circle cx="455.11" cy="693.51" r="0.72" fill="#000"/>
<circle cx="455.77" cy="755" r="0.72" fill="#000"/>
<circle cx="453.64" cy="744.91" r="0.72" fill="#000"/>
<circle cx="455.59" cy="690.06" r="0.72" fill="#000"/>
<circle cx="453.73" cy="745.36" r="0.72" fill="#000"/>
<circle cx="454.5" cy="754.68" r="0.72" fill="#000"/>
<circle cx="455.01" cy="675.08" r="0.72" fill="#000"/>
<circle cx="455.38" cy="732.13" r="0.72" fill="#000"/>
<circle cx="453.31" cy="628.29" r="0.72" fill="#000"/>
<circle cx="455.1" cy="703.52" r="0.72" fill="#000"/>
<circle cx="454.6" cy="754.42" r="0.72" fill="#000"/>
<circle cx="452.74" cy="692.79" r="0.72" fill="#000"/>
<circle cx="455.01" cy="740.99" r="0.72" fill="#000"/>
<circle cx="452.98" cy="665.52" r="0.72" fill="#000"/>
<circle cx="456.73" cy="680.79" r="0.72" fill="#000"/>
<circle cx="454.19" cy="675.72" r="0.72" fill="#000"/>
<circle cx="455.64" cy="754.77" r="0.72" fill="#000"/>
<circle cx="454.48" cy="754.9" r="0.72" fill="#000"/>
<circle cx="454.21" cy="668.53" r="0.72" fill="#000"/>
<circle cx="452.72" cy="751.28" r="0.72" fill="#000"/>
<circle cx="452.26" cy="746.37" r="0.72" fill="#000"/>
<circle cx="456.84" cy="754.93" r="0.72" fill="#000"/>
<circle cx="454.52" cy="749.44" r="0.72" fill="#000"/>
<circle cx="454.49" cy="714.85" r="0.72" fill="#000"/>
<circle cx="454.51" cy="628.17" r="0.72" fill="#000"/>
<circle cx="456.18" cy="733.69" r="0.72" fill="#000"/>
<circle cx="452.83" cy="741.35" r="0.72" fill="#000"/>
<circle cx="452.44" cy="663.07" r="0.72" fill="#000"/>
<circle cx="456.23" cy="747.76" r="0.72" fill="#000"/>
<circle cx="454.12" cy="693.02" r="0.72" fill="#000"/>
<circle cx="455.17" cy="695.77" r="0.72" fill="#000"/>
<circle cx="456.26" cy="639.01" r="0.72" fill="#000"/>
<circle cx="456.65" cy="754.85" r="0.72" fill="#000"/>
<circle cx="456.49" cy="702.91" r="0.72" fill="#000"/>
<circle cx="451.69" cy="726.08" r="0.72" fill="#000"/>
<circle cx="453.66" cy="663.85" r="0.72" fill="#000"/>
<circle cx="456.29" cy="742.22" r="0.72" fill="#000"/>
<circle cx="456.2" cy="682.05" r="0.72" fill="#000"/>
<circle cx="452.15" cy="747.69" r="0.72" fill="#000"/>
<circle cx="452.33" cy="712.2" r="0.72" fill="#000"/>
<circle cx="452.9" cy="623.26" r="0.72" fill="#000"/>
<circle cx="452.03" cy="743.31" r="0.72" fill="#000"/>
<circle cx="453.51" cy="738.93" r="0.72" fill="#000"/>
<circle cx="456.12" cy="646.78" r="0.72" fill="#000"/>
<circle cx="454.47" cy="687.62" r="0.72" fill="#000"/>
<circle cx="454.07" cy="754.72" r="0.72" fill="#000"/>
<circle cx="451.95" cy="747.6" r="0.72" fill="#000"/>
<circle cx="453.74" cy="743.53" r="0.72" fill="#000"/>
<circle cx="457.25" cy="737.57" r="0.72" fill="#000"/>
<circle cx="455.49" cy="660.04" r="0.72" fill="#000"/>
<circle cx="454.05" cy="684.04" r="0.72" fill="#000"/>
<circle cx="454.22" cy="617.82" r="0.72" fill="#000"/>
<circle cx="456.09" cy="688.28" r="0.72" fill="#000"/>
<circle cx="455.86" cy="694.02" r="0.72" fill="#000"/>
<circle cx="452.31" cy="726.04" r="0.72" fill="#000"/>
<circle cx="455.4" cy="681.72" r="0.72" fill="#000"/>
<circle cx="453.57" cy="712.4" r="0.72" fill="#000"/>
<circle cx="454.47" cy="754.76" r="0.72" fill="#000"/>
<circle cx="452.82" cy="712.58" r="0.72" fill="#000"/>
<circle cx="453.6" cy="725.93" r="0.72" fill="#000"/>
<circle cx="453.42" cy="707.34" r="0.72" fill="#000"/>
<circle cx="453.66" cy="754.82" r="0.72" fill="#000"/>
<circle cx="451.54" cy="754.94" r="0.72" fill="#000"/>
<circle cx="452.61" cy="614.24" r="0.72" fill="#000"/>
<circle cx="454.76" cy="727.51" r="0.72" fill="#000"/>
<circle cx="451.77" cy="732.61" r="0.72" fill="#000"/>
<circle cx="452.47" cy="750.65" r="0.72" fill="#000"/>
<circle cx="455.62" cy="698.88" r="0.72" fill="#000"/>
<circle cx="453.04" cy="647.29" r="0.72" fill="#000"/>
<circle cx="453.32" cy="748.09" r="0.72" fill="#000"/>
<circle cx="452.84" cy="711.56" r="0.72" fill="#000"/>
<circle cx="456.3" cy="711.63" r="0.72" fill="#000"/>
<circle cx="451.97" cy="674.36" r="0.72" fill="#000"/>
<circle cx="455.14" cy="702.65" r="0.72" fill="#000"/>
<circle cx="456.44" cy="743.4" r="0.72" fill="#000"/>
<circle cx="452.61" cy="747.34" r="0.72" fill="#000"/>
<circle cx="453.9" cy="680.73" r="0.72" fill="#000"/>
<circle cx="456.05" cy="754.65" r="0.72" fill="#000"/>
<circle cx="455.04" cy="656.38" r="0.72" fill="#000"/>
<circle cx="453.6" cy="754.91" r="0.72" fill="#000"/>
<circle cx="451.69" cy="747.35" r="0.72" fill="#000"/>
<circle cx="454.01" cy="715.57" r="0.72" fill="#000"/>
<circle cx="453.58" cy="660.15" r="0.72" fill="#000"/>
<circle cx="455.59" cy="695.15" r="0.72" fill="#000"/>
<circle cx="453.16" cy="677.82" r="0.72" fill="#000"/>
<circle cx="453.81" cy="675.24" r="0.72" fill="#000"/>
<circle cx="455.21" cy="681.03" r="0.72" fill="#000"/>
<circle cx="456.16" cy="754.8" r="0.72" fill="#000"/>
<circle cx="453.49" cy="663.55" r="0.72" fill="#000"/>
<circle cx="453.68" cy="750.7" r="0.72" fill="#000"/>
<circle cx="454.81" cy="749.53" r="0.72" fill="#000"/>
<circle cx="456.83" cy="754.89" r="0.72" fill="#000"/>
<circle cx="452.55" cy="754.94" r="0.72" fill="#000"/>
<circle cx="457.1" cy="654.15" r="0.72" fill="#000"/>
<circle cx="455.59" cy="726.31" r="0.72" fill="#000"/>
<circle cx="453.61" cy="754.6" r="0.72" fill="#000"/>
<circle cx="455.32" cy="754.83" r="0.72" fill="#000"/>
<circle cx="453.36" cy="659.71" r="0.72" fill="#000"/>
<circle cx="451.85" cy="697.63" r="0.72" fill="#000"/>
<circle cx="455.84" cy="647" r="0.72" fill="#000"/>
<circle cx="453.65" cy="754.89" r="0.72" fill="#000"/>
<circle cx="454.5" cy="753.52" r="0.72" fill="#000"/>
<circle cx="454.33" cy="737.97" r="0.72" fill="#000"/>
<circle cx="456.69" cy="747.23" r="0.72" fill="#000"/>
<circle cx="455.85" cy="753.55" r="0.72" fill="#000"/>
<circle cx="451.58" cy="746.47" r="0.72" fill="#000"/>
<circle cx="454.89" cy="692.3" r="0.72" fill="#000"/>
<circle cx="454.13" cy="749.07" r="0.72" fill="#000"/>
<circle cx="454.13" cy="749.03" r="0.72" fill="#000"/>
<circle cx="456.33" cy="706.71" r="0.72" fill="#000"/>
<circle cx="453.85" cy="726.98" r="0.72" fill="#000"/>
<circle cx="454.2" cy="750.55" r="0.72" fill="#000"/>
<circle cx="456.63" cy="702.23" r="0.72" fill="#000"/>
<circle cx="454" cy="710.5" r="0.72" fill="#000"/>
<circle cx="454.3" cy="725.44" r="0.72" fill="#000"/>
<circle cx="454.42" cy="714.77" r="0.72" fill="#000"/>
<circle cx="456.24" cy="754.87" r="0.72" fill="#000"/>
<circle cx="455.34" cy="695.78" r="0.72" fill="#000"/>
<circle cx="455.75" cy="747.04" r="0.72" fill="#000"/>
<circle cx="453.78" cy="731.9" r="0.72" fill="#000"/>
<circle cx="451.67" cy="755.05" r="0.72" fill="#000"/>
<circle cx="455.4" cy="652.2" r="0.72" fill="#000"/>
<circle cx="454.66" cy="699.55" r="0.72" fill="#000"/>
<circle cx="455.92" cy="724.92" r="0.72" fill="#000"/>
<circle cx="455.92" cy="705.84" r="0.72" fill="#000"/>
<circle cx="452.12" cy="636.84" r="0.72" fill="#000"/>
<circle cx="452.72" cy="751.96" r="0.72" fill="#000"/>
<circle cx="451.88" cy="726.01" r="0.72" fill="#000"/>
<circle cx="456.2" cy="683" r="0.72" fill="#000"/>
<circle cx="452.03" cy="727.41" r="0.72" fill="#000"/>
<circle cx="451.95" cy="683.18" r="0.72" fill="#000"/>
<circle cx="455.83" cy="648.47" r="0.72" fill="#000"/>
<circle cx="454.73" cy="754.87" r="0.72" fill="#000"/>
<circle cx="451.75" cy="738.24" r="0.72" fill="#000"/>
<circle cx="455.41" cy="737.21" r="0.72" fill="#000"/>
<circle cx="455.58" cy="677.2" r="0.72" fill="#000"/>
<circle cx="454.25" cy="671" r="0.72" fill="#000"/>
<circle cx="451.75" cy="684.18" r="0.72" fill="#000"/>
<circle cx="455.46" cy="644.06" r="0.72" fill="#000"/>
<circle cx="453.87" cy="747.66" r="0.72" fill="#000"/>
<circle cx="454.84" cy="724.78" r="0.72" fill="#000"/>
<circle cx="457.25" cy="658.52" r="0.72" fill="#000"/>
<circle cx="456.2" cy="674.42" r="0.72" fill="#000"/>
<circle cx="456.52" cy="753.51" r="0.72" fill="#000"/>
<circle cx="452.28" cy="617.82" r="0.72" fill="#000"/>
<circle cx="453.38" cy="678.55" r="0.72" fill="#000"/>
<circle cx="454.46" cy="656.16" r="0.72" fill="#000"/>
<circle cx="451.47" cy="728.64" r="0.72" fill="#000"/>
<circle cx="457.2" cy="697.1" r="0.72" fill="#000"/>
<circle cx="453.04" cy="627.84" r="0.72" fill="#000"/>
<circle cx="452.96" cy="650.34" r="0.72" fill="#000"/>
<circle cx="453.26" cy="701" r="0.72" fill="#000"/>
<circle cx="452.92" cy="651.79" r="0.72" fill="#000"/>
<circle cx="456.44" cy="594.87" r="0.72" fill="#000"/>
<circle cx="454.67" cy="661.01" r="0.72" fill="#000"/>
<circle cx="454.41" cy="690.18" r="0.72" fill="#000"/>
<circle cx="453.88" cy="627.08" r="0.72" fill="#000"/>
<circle cx="451.73" cy="751.02" r="0.72" fill="#000"/>
<circle cx="453.21" cy="723.5" r="0.72" fill="#000"/>
<circle cx="456.49" cy="702.79" r="0.72" fill="#000"/>
<circle cx="456.11" cy="751.99" r="0.72" fill="#000"/>
<circle cx="456.43" cy="671.65" r="0.72" fill="#000"/>
<circle cx="452.93" cy="754.74" r="0.72" fill="#000"/>
<circle cx="452.61" cy="693.9" r="0.72" fill="#000"/>
<circle cx="451.74" cy="738.83" r="0.72" fill="#000"/>
<circle cx="454.56" cy="733.5" r="0.72" fill="#000"/>
<circle cx="453.61" cy="696.91" r="0.72" fill="#000"/>
<circle cx="454.14" cy="747.2" r="0.72" fill="#000"/>
<circle cx="454.29" cy="718.08" r="0.72" fill="#000"/>
<circle cx="454.84" cy="657.74" r="0.72" fill="#000"/>
<circle cx="453.57" cy="609.46" r="0.72" fill="#000"/>
<circle cx="456.11" cy="740.95" r="0.72" fill="#000"/>
<circle cx="452.6" cy="728.21" r="0.72" fill="#000"/>
<circle cx="456.8" cy="684.97" r="0.72" fill="#000"/>
<circle cx="454.68" cy="747.33" r="0.72" fill="#000"/>
<circle cx="451.73" cy="659.21" r="0.72" fill="#000"/>
<circle cx="453.27" cy="746.62" r="0.72" fill="#000"/>
<circle cx="454.54" cy="703.8" r="0.72" fill="#000"/>
<circle cx="453.82" cy="731.45" r="0.72" fill="#000"/>
<circle cx="454.73" cy="755.09" r="0.72" fill="#000"/>
<circle cx="453.32" cy="755.09" r="0.72" fill="#000"/>
<circle cx="453.03" cy="755.09" r="0.72" fill="#000"/>
<circle cx="456.08" cy="732.83" r="0.72" fill="#000"/>
<circle cx="453.13" cy="739.39" r="0.72" fill="#000"/>
<circle cx="455.58" cy="604.03" r="0.72" fill="#000"/>
<circle cx="456.11" cy="692.68" r="0.72" fill="#000"/>
<circle cx="454.89" cy="754.73" r="0.72" fill="#000"/>
<circle cx="454.09" cy="681.91" r="0.72" fill="#000"/>
<circle cx="456.89" cy="743.91" r="0.72" fill="#000"/>
<circle cx="454.03" cy="713.87" r="0.72" fill="#000"/>
<circle cx="456.55" cy="681" r="0.72" fill="#000"/>
<circle cx="451.77" cy="657.84" r="0.72" fill="#000"/>
<circle cx="453.96" cy="639.04" r="0.72" fill="#000"/>
<circle cx="455.16" cy="721.37" r="0.72" fill="#000"/>
<circle cx="451.72" cy="734.13" r="0.72" fill="#000"/>
<circle cx="456.46" cy="724.27" r="0.72" fill="#000"/>
<circle cx="451.85" cy="734.75" r="0.72" fill="#000"/>
<circle cx="454.91" cy="678.39" r="0.72" fill="#000"/>
<circle cx="452.48" cy="716.17" r="0.72" fill="#000"/>
<circle cx="456.81" cy="686.1" r="0.72" fill="#000"/>
<circle cx="454.71" cy="750.36" r="0.72" fill="#000"/>
<circle cx="456.1" cy="671.27" r="0.72" fill="#000"/>
<circle cx="454.34" cy="624.02" r="0.72" fill="#000"/>
<circle cx="455.36" cy="746.27" r="0.72" fill="#000"/>
<circle cx="455.37" cy="695.57" r="0.72" fill="#000"/>
<circle cx="453.15" cy="749.55" r="0.72" fill="#000"/>
<circle cx="452.66" cy="754.9" r="0.72" fill="#000"/>
<circle cx="456.32" cy="722.23" r="0.72" fill="#000"/>
<circle cx="452.28" cy="747.85" r="0.72" fill="#000"/>
<circle cx="456.79" cy="679.89" r="0.72" fill="#000"/>
<circle cx="452.64" cy="701.65" r="0.72" fill="#000"/>
<circle cx="452.02" cy="687.61" r="0.72" fill="#000"/>
<circle cx="451.99" cy="623.44" r="0.72" fill="#000"/>
<circle cx="456.01" cy="754.77" r="0.72" fill="#000"/>
<circle cx="456.98" cy="754.54" r="0.72" fill="#000"/>
<circle cx="453.85" cy="754.9" r="0.72" fill="#000"/>
<circle cx="455.28" cy="716.61" r="0.72" fill="#000"/>
<circle cx="452.94" cy="663.7" r="0.72" fill="#000"/>
<circle cx="456.72" cy="686.34" r="0.72" fill="#000"/>
<circle cx="455.43" cy="705.02" r="0.72" fill="#000"/>
<circle cx="452.34" cy="657.93" r="0.72" fill="#000"/>
<circle cx="451.76" cy="727.4" r="0.72" fill="#000"/>
<circle cx="455.49" cy="753.49" r="0.72" fill="#000"/>
<circle cx="451.68" cy="692.13" r="0.72" fill="#000"/>
<circle cx="456.31" cy="754.95" r="0.72" fill="#000"/>
<circle cx="453.15" cy="744.16" r="0.72" fill="#000"/>
<circle cx="452.79" cy="754.93" r="0.72" fill="#000"/>
<circle cx="454.83" cy="749.59" r="0.72" fill="#000"/>
<circle cx="453.29" cy="754.73" r="0.72" fill="#000"/>
<circle cx="454.7" cy="707.26" r="0.72" fill="#000"/>
<circle cx="452.33" cy="752.28" r="0.72" fill="#000"/>
<circle cx="456.75" cy="697.38" r="0.72" fill="#000"/>
<circle cx="453.33" cy="663.75" r="0.72" fill="#000"/>
<circle cx="456.34" cy="730.83" r="0.72" fill="#000"/>
<circle cx="452.32" cy="752.9" r="0.72" fill="#000"/>
<circle cx="456.1" cy="688.07" r="0.72" fill="#000"/>
<circle cx="457.15" cy="680.19" r="0.72" fill="#000"/>
<circle cx="453.72" cy="652.87" r="0.72" fill="#000"/>
<circle cx="451.63" cy="704.16" r="0.72" fill="#000"/>
<circle cx="453.65" cy="700.32" r="0.72" fill="#000"/>
<circle cx="455.17" cy="656.68" r="0.72" fill="#000"/>
<circle cx="452.74" cy="687.24" r="0.72" fill="#000"/>
<circle cx="454.62" cy="620.14" r="0.72" fill="#000"/>
<circle cx="451.98" cy="737.93" r="0.72" fill="#000"/>
<circle cx="454.14" cy="672.81" r="0.72" fill="#000"/>
<circle cx="455.68" cy="693.34" r="0.72" fill="#000"/>
<circle cx="453.94" cy="715.5" r="0.72" fill="#000"/>
<circle cx="455.39" cy="755.04" r="0.72" fill="#000"/>
<circle cx="452.1" cy="714.5" r="0.72" fill="#000"/>
<circle cx="456.27" cy="740.85" r="0.72" fill="#000"/>
<circle cx="452.15" cy="697.64" r="0.72" fill="#000"/>
<circle cx="456.82" cy="710.29" r="0.72" fill="#000"/>
<circle cx="457.24" cy="710.16" r="0.72" fill="#000"/>
<circle cx="456.91" cy="754.76" r="0.72" fill="#000"/>
<circle cx="454.5" cy="752" r="0.72" fill="#000"/>
<circle cx="453.13" cy="696.9" r="0.72" fill="#000"/>
<circle cx="453.46" cy="686.58" r="0.72" fill="#000"/>
<circle cx="455.81" cy="605.04" r="0.72" fill="#000"/>
<circle cx="454.33" cy="669.47" r="0.72" fill="#000"/>
<circle cx="456.86" cy="737.55" r="0.72" fill="#000"/>
<circle cx="451.98" cy="717.07" r="0.72" fill="#000"/>
<circle cx="454.26" cy="710.8" r="0.72" fill="#000"/>
<circle cx="456.47" cy="667.42" r="0.72" fill="#000"/>
<circle cx="454.92" cy="724.63" r="0.72" fill="#000"/>
<circle cx="454.59" cy="646.04" r="0.72" fill="#000"/>
<circle cx="451.95" cy="713.57" r="0.72" fill="#000"/>
<circle cx="452.25" cy="724.21" r="0.72" fill="#000"/>
<circle cx="453.02" cy="714.09" r="0.72" fill="#000"/>
<circle cx="456.64" cy="729.23" r="0.72" fill="#000"/>
<circle cx="456.36" cy="594.1" r="0.72" fill="#000"/>
<circle cx="452.76" cy="754.83" r="0.72" fill="#000"/>
<circle cx="456.83" cy="724" r="0.72" fill="#000"/>
<circle cx="451.62" cy="754.65" r="0.72" fill="#000"/>
<circle cx="454.93" cy="687.14" r="0.72" fill="#000"/>
<circle cx="457.08" cy="750.47" r="0.72" fill="#000"/>
<circle cx="453.44" cy="750.59" r="0.72" fill="#000"/>
<circle cx="456.94" cy="721.07" r="0.72" fill="#000"/>
<circle cx="455.26" cy="697.57" r="0.72" fill="#000"/>
<circle cx="451.73" cy="674.77" r="0.72" fill="#000"/>
<circle cx="453.38" cy="718.45" r="0.72" fill="#000"/>
<circle cx="454.06" cy="736.93" r="0.72" fill="#000"/>
<circle cx="452.88" cy="727.93" r="0.72" fill="#000"/>
<circle cx="455.76" cy="652.08" r="0.72" fill="#000"/>
<circle cx="452.48" cy="745.45" r="0.72" fill="#000"/>
<circle cx="456.03" cy="755.03" r="0.72" fill="#000"/>
<circle cx="453.17" cy="652.54" r="0.72" fill="#000"/>
<circle cx="451.84" cy="713.7" r="0.72" fill="#000"/>
<circle cx="454.7" cy="751.94" r="0.72" fill="#000"/>
<circle cx="451.99" cy="751.64" r="0.72" fill="#000"/>
<circle cx="454.65" cy="651.71" r="0.72" fill="#000"/>
<circle cx="456.03" cy="677.36" r="0.72" fill="#000"/>
<circle cx="454.91" cy="754.73" r="0.72" fill="#000"/>
<circle cx="454.12" cy="687.53" r="0.72" fill="#000"/>
<circle cx="451.63" cy="745.4" r="0.72" fill="#000"/>
<circle cx="454.43" cy="718.28" r="0.72" fill="#000"/>
<circle cx="452" cy="697.16" r="0.72" fill="#000"/>
<circle cx="455.21" cy="754.81" r="0.72" fill="#000"/>
<circle cx="452.2" cy="638.93" r="0.72" fill="#000"/>
<circle cx="454.8" cy="731.97" r="0.72" fill="#000"/>
<circle cx="453.49" cy="751.01" r="0.72" fill="#000"/>
<circle cx="453.62" cy="671.74" r="0.72" fill="#000"/>
<circle cx="455.3" cy="753.8" r="0.72" fill="#000"/>
<circle cx="452.39" cy="754.89" r="0.72" fill="#000"/>
<circle cx="452.42" cy="690.71" r="0.72" fill="#000"/>
<circle cx="456.93" cy="715.29" r="0.72" fill="#000"/>
<circle cx="453.37" cy="649.85" r="0.72" fill="#000"/>
<circle cx="456.35" cy="669.84" r="0.72" fill="#000"/>
<circle cx="456.53" cy="745.99" r="0.72" fill="#000"/>
<circle cx="454.23" cy="754.84" r="0.72" fill="#000"/>
<circle cx="452.3" cy="697.38" r="0.72" fill="#000"/>
<circle cx="451.98" cy="715.25" r="0.72" fill="#000"/>
<circle cx="456.56" cy="736.18" r="0.72" fill="#000"/>
<circle cx="452.12" cy="646.9" r="0.72" fill="#000"/>
<circle cx="454.33" cy="745.83" r="0.72" fill="#000"/>
<circle cx="454.56" cy="691.91" r="0.72" fill="#000"/>
<line x1="442.2" y1="711.59" x2="466.5" y2="711.59" stroke="#1a1a1a" stroke-width="1.5" />
<line x1="485.35" y1="593.65" x2="485.35" y2="583.35" stroke="#333" stroke-width="0.7" stroke-dasharray="1.3 1.3"/>
<line x1="485.35" y1="688.69" x2="485.35" y2="739.07" stroke="#333" stroke-width="0.7" stroke-dasharray="1.3 1.3"/>
<line x1="479.05" y1="583.35" x2="491.65" y2="583.35" stroke="#666" stroke-width="0.9" />
<line x1="479.05" y1="739.07" x2="491.65" y2="739.07" stroke="#666" stroke-width="0.9" />
<rect x="473.2" y="593.65" width="24.3" height="95.04" fill="#7F7F7F" stroke="#585858" stroke-width="0.6"/>
<line x1="473.2" y1="755.1" x2="497.5" y2="755.1" stroke="#1a1a1a" stroke-width="1.6" />
<circle cx="483.03" cy="739.07" r="0.72" fill="#000"/>
<circle cx="485.15" cy="726.48" r="0.72" fill="#000"/>
<circle cx="483.31" cy="718.46" r="0.72" fill="#000"/>
<circle cx="485.57" cy="711.59" r="0.72" fill="#000"/>
<circle cx="485.39" cy="703.58" r="0.72" fill="#000"/>
<circle cx="484.54" cy="697.85" r="0.72" fill="#000"/>
<circle cx="483.51" cy="692.12" r="0.72" fill="#000"/>
<circle cx="484.77" cy="688.69" r="0.72" fill="#000"/>
<circle cx="483.55" cy="684.11" r="0.72" fill="#000"/>
<circle cx="483.08" cy="680.68" r="0.72" fill="#000"/>
<circle cx="483.77" cy="669.23" r="0.72" fill="#000"/>
<circle cx="487.61" cy="652.05" r="0.72" fill="#000"/>
<circle cx="485.36" cy="629.15" r="0.72" fill="#000"/>
<circle cx="487.72" cy="623.43" r="0.72" fill="#000"/>
<circle cx="482.4" cy="617.7" r="0.72" fill="#000"/>
<circle cx="488.04" cy="614.26" r="0.72" fill="#000"/>
<circle cx="485.28" cy="611.98" r="0.72" fill="#000"/>
<circle cx="487.12" cy="609.69" r="0.72" fill="#000"/>
<circle cx="485.78" cy="607.39" r="0.72" fill="#000"/>
<circle cx="486.5" cy="606.25" r="0.72" fill="#000"/>
<circle cx="483.71" cy="603.96" r="0.72" fill="#000"/>
<circle cx="486.87" cy="601.67" r="0.72" fill="#000"/>
<circle cx="483.25" cy="600.53" r="0.72" fill="#000"/>
<circle cx="483.92" cy="599.38" r="0.72" fill="#000"/>
<circle cx="482.5" cy="597.09" r="0.72" fill="#000"/>
<circle cx="484.7" cy="594.8" r="0.72" fill="#000"/>
<circle cx="485.46" cy="593.65" r="0.72" fill="#000"/>
<circle cx="484.09" cy="591.37" r="0.72" fill="#000"/>
<circle cx="487.72" cy="589.08" r="0.72" fill="#000"/>
<circle cx="482.82" cy="586.79" r="0.72" fill="#000"/>
<circle cx="485.83" cy="584.5" r="0.72" fill="#000"/>
<circle cx="483.73" cy="583.35" r="0.72" fill="#000"/>
<circle cx="485.93" cy="755.1" r="0.72" fill="#000"/>
<circle cx="487.08" cy="755.1" r="0.72" fill="#000"/>
<circle cx="486.63" cy="755.1" r="0.72" fill="#000"/>
<circle cx="482.69" cy="755.1" r="0.72" fill="#000"/>
<circle cx="483.81" cy="755.1" r="0.72" fill="#000"/>
<circle cx="485.95" cy="755.1" r="0.72" fill="#000"/>
<circle cx="488.28" cy="755.1" r="0.72" fill="#000"/>
<circle cx="482.56" cy="755.1" r="0.72" fill="#000"/>
<circle cx="486.07" cy="755.1" r="0.72" fill="#000"/>
<circle cx="486.52" cy="755.1" r="0.72" fill="#000"/>
<circle cx="487.26" cy="755.1" r="0.72" fill="#000"/>
<circle cx="484.39" cy="755.1" r="0.72" fill="#000"/>
<line x1="473.2" y1="607.39" x2="497.5" y2="607.39" stroke="#1a1a1a" stroke-width="1.5" />
<rect x="420.5" y="567.5" width="99" height="195" fill="none" stroke="#6a6a6a" stroke-width="1"/>
<line x1="416.1" y1="755.1" x2="420.1" y2="755.1" stroke="#555" stroke-width="0.9" />
<text x="409.4" y="755.1" font-family='"Liberation Sans", sans-serif' font-size="6.6" text-anchor="middle" fill="#333" font-weight="normal" transform="rotate(-90 409.4 755.1)" dominant-baseline="central" stroke="#333" stroke-width="0.2">0</text>
<line x1="416.1" y1="697.85" x2="420.1" y2="697.85" stroke="#555" stroke-width="0.9" />
<text x="409.4" y="697.85" font-family='"Liberation Sans", sans-serif' font-size="6.6" text-anchor="middle" fill="#333" font-weight="normal" transform="rotate(-90 409.4 697.85)" dominant-baseline="central" stroke="#333" stroke-width="0.2">5</text>
<line x1="416.1" y1="640.6" x2="420.1" y2="640.6" stroke="#555" stroke-width="0.9" />
<text x="409.4" y="640.6" font-family='"Liberation Sans", sans-serif' font-size="6.6" text-anchor="middle" fill="#333" font-weight="normal" transform="rotate(-90 409.4 640.6)" dominant-baseline="central" stroke="#333" stroke-width="0.2">10</text>
<line x1="416.1" y1="583.35" x2="420.1" y2="583.35" stroke="#555" stroke-width="0.9" />
<text x="409.4" y="583.35" font-family='"Liberation Sans", sans-serif' font-size="6.6" text-anchor="middle" fill="#333" font-weight="normal" transform="rotate(-90 409.4 583.35)" dominant-baseline="central" stroke="#333" stroke-width="0.2">15</text>
<line x1="469.7" y1="762.1" x2="469.7" y2="766.1" stroke="#555" stroke-width="0.9" />
<polyline points="454.1,589.6 454.1,574.7 485.6,574.7 485.6,579.2" fill="none" stroke="#777" stroke-width="0.9"/>
<polygon points="469.7,572.9 470.31,574.36 471.89,574.49 470.68,575.52 471.05,577.06 469.7,576.23 468.35,577.06 468.72,575.52 467.51,574.49 469.09,574.36" fill="#F01818"/>
<g transform="matrix(1.0027,0,0,1.0200,-1.161,-15.631)"><text x="469.5" y="777.7" font-family='"Liberation Serif", serif' font-size="7.0" text-anchor="middle" fill="#111" font-weight="normal" stroke="#111" stroke-width="0.12">HNSC</text></g>
<g transform="matrix(1.0176,0,0,0.9962,-8.258,2.151)"><text x="469.5" y="786.9" font-family='"Liberation Serif", serif' font-size="7.0" text-anchor="middle" fill="#111" font-weight="normal" stroke="#111" stroke-width="0.12">(num(T)=519; num(N)=44)</text></g>
<g transform="matrix(0.9212,0,0,0.9840,34.142,9.903)"><text x="395.8" y="666.6" font-family='"Liberation Serif", serif' font-size="8.6" text-anchor="middle" fill="#111" font-weight="normal" transform="rotate(-90 395.8 666.6)" stroke="#111" stroke-width="0.2">Expression &#8211;log<tspan font-size="70%" dy="1.8">2</tspan><tspan dy="-1.8">(TPM+1)</tspan></text></g>
<g transform="matrix(0.7784,0,0,0.9641,88.877,20.203)"><text x="402.7" y="574.2" font-family='"Liberation Sans", sans-serif' font-size="17" text-anchor="start" fill="#111" font-weight="normal" stroke="#111" stroke-width="0.55">a</text></g>
<line x1="62" y1="818.5" x2="190.8" y2="818.5" stroke="#e6e6e6" stroke-width="1" />
<line x1="43.5" y1="818.4" x2="43.5" y2="1039.6" stroke="#e6e6e6" stroke-width="1" />
<line x1="43.6" y1="1039.5" x2="190.8" y2="1039.5" stroke="#e6e6e6" stroke-width="1" />
<line x1="116.55" y1="936.07" x2="116.55" y2="838.66" stroke="#333" stroke-width="0.7" stroke-dasharray="1.3 1.3"/>
<line x1="116.55" y1="1004.16" x2="116.55" y2="1009.4" stroke="#333" stroke-width="0.7" stroke-dasharray="1.3 1.3"/>
<line x1="110.25" y1="838.66" x2="122.85" y2="838.66" stroke="#666" stroke-width="0.9" />
<rect x="103.3" y="936.07" width="26.5" height="68.09" fill="#FE6565" stroke="#C04848" stroke-width="0.6"/>
<line x1="103.3" y1="1009.4" x2="129.8" y2="1009.4" stroke="#1a1a1a" stroke-width="1.6" />
<circle cx="118.61" cy="1008.37" r="0.72" fill="#000"/>
<circle cx="116.3" cy="883.06" r="0.72" fill="#000"/>
<circle cx="119.34" cy="871.2" r="0.72" fill="#000"/>
<circle cx="113.31" cy="962.61" r="0.72" fill="#000"/>
<circle cx="119.47" cy="999.15" r="0.72" fill="#000"/>
<circle cx="115.97" cy="941.31" r="0.72" fill="#000"/>
<circle cx="115.93" cy="892.53" r="0.72" fill="#000"/>
<circle cx="113.82" cy="923.53" r="0.72" fill="#000"/>
<circle cx="114.86" cy="1008.83" r="0.72" fill="#000"/>
<circle cx="118.1" cy="985.53" r="0.72" fill="#000"/>
<circle cx="117.73" cy="1007.45" r="0.72" fill="#000"/>
<circle cx="114.24" cy="977.03" r="0.72" fill="#000"/>
<circle cx="115.52" cy="870.59" r="0.72" fill="#000"/>
<circle cx="114.17" cy="903.97" r="0.72" fill="#000"/>
<circle cx="114.55" cy="1004.2" r="0.72" fill="#000"/>
<circle cx="114.69" cy="975.91" r="0.72" fill="#000"/>
<circle cx="115.43" cy="999.36" r="0.72" fill="#000"/>
<circle cx="119.7" cy="1006.73" r="0.72" fill="#000"/>
<circle cx="119.84" cy="937.33" r="0.72" fill="#000"/>
<circle cx="118.48" cy="933.47" r="0.72" fill="#000"/>
<circle cx="116.42" cy="997.99" r="0.72" fill="#000"/>
<circle cx="116.53" cy="992.04" r="0.72" fill="#000"/>
<circle cx="118.4" cy="946.84" r="0.72" fill="#000"/>
<circle cx="119.25" cy="940.58" r="0.72" fill="#000"/>
<circle cx="118.22" cy="988.95" r="0.72" fill="#000"/>
<circle cx="117.45" cy="1007.75" r="0.72" fill="#000"/>
<circle cx="114.56" cy="1008.06" r="0.72" fill="#000"/>
<circle cx="117.38" cy="1006.69" r="0.72" fill="#000"/>
<circle cx="118.84" cy="914.74" r="0.72" fill="#000"/>
<circle cx="118.45" cy="986.62" r="0.72" fill="#000"/>
<circle cx="113.85" cy="957.3" r="0.72" fill="#000"/>
<circle cx="117.99" cy="996" r="0.72" fill="#000"/>
<circle cx="115.55" cy="995.69" r="0.72" fill="#000"/>
<circle cx="114.31" cy="1006.49" r="0.72" fill="#000"/>
<circle cx="119.64" cy="859.01" r="0.72" fill="#000"/>
<circle cx="117.69" cy="965.13" r="0.72" fill="#000"/>
<circle cx="118.18" cy="1007.6" r="0.72" fill="#000"/>
<circle cx="114.13" cy="945.6" r="0.72" fill="#000"/>
<circle cx="118.73" cy="966.66" r="0.72" fill="#000"/>
<circle cx="119.45" cy="963.57" r="0.72" fill="#000"/>
<circle cx="119.23" cy="930.51" r="0.72" fill="#000"/>
<circle cx="118.17" cy="964.56" r="0.72" fill="#000"/>
<circle cx="118.75" cy="900.75" r="0.72" fill="#000"/>
<circle cx="118.55" cy="861.33" r="0.72" fill="#000"/>
<circle cx="117.15" cy="993" r="0.72" fill="#000"/>
<circle cx="116.12" cy="956.52" r="0.72" fill="#000"/>
<circle cx="118.7" cy="995.3" r="0.72" fill="#000"/>
<circle cx="118.43" cy="992.72" r="0.72" fill="#000"/>
<circle cx="119.01" cy="995.89" r="0.72" fill="#000"/>
<circle cx="115.22" cy="956.74" r="0.72" fill="#000"/>
<circle cx="119.6" cy="996.86" r="0.72" fill="#000"/>
<circle cx="116.76" cy="996.9" r="0.72" fill="#000"/>
<circle cx="119.5" cy="909.04" r="0.72" fill="#000"/>
<circle cx="114" cy="922.18" r="0.72" fill="#000"/>
<circle cx="119.65" cy="950.91" r="0.72" fill="#000"/>
<circle cx="118.45" cy="909.92" r="0.72" fill="#000"/>
<circle cx="114.91" cy="994.47" r="0.72" fill="#000"/>
<circle cx="118.79" cy="957.66" r="0.72" fill="#000"/>
<circle cx="114.78" cy="1004.07" r="0.72" fill="#000"/>
<circle cx="114.55" cy="999.51" r="0.72" fill="#000"/>
<circle cx="116.27" cy="1007.99" r="0.72" fill="#000"/>
<circle cx="114.81" cy="922.53" r="0.72" fill="#000"/>
<circle cx="116.5" cy="884.14" r="0.72" fill="#000"/>
<circle cx="119.25" cy="1000.41" r="0.72" fill="#000"/>
<circle cx="117.78" cy="995.02" r="0.72" fill="#000"/>
<circle cx="117.94" cy="1007.77" r="0.72" fill="#000"/>
<circle cx="115.83" cy="1007.41" r="0.72" fill="#000"/>
<circle cx="118.43" cy="958.56" r="0.72" fill="#000"/>
<circle cx="118.5" cy="896.4" r="0.72" fill="#000"/>
<circle cx="117.76" cy="1008.23" r="0.72" fill="#000"/>
<circle cx="119.48" cy="1003.83" r="0.72" fill="#000"/>
<circle cx="118.71" cy="933.53" r="0.72" fill="#000"/>
<circle cx="115.93" cy="1004.92" r="0.72" fill="#000"/>
<circle cx="113.81" cy="900.41" r="0.72" fill="#000"/>
<circle cx="117.56" cy="996.84" r="0.72" fill="#000"/>
<circle cx="118.78" cy="988.25" r="0.72" fill="#000"/>
<circle cx="115.49" cy="1005.68" r="0.72" fill="#000"/>
<circle cx="117.18" cy="1001.26" r="0.72" fill="#000"/>
<circle cx="118.78" cy="991.73" r="0.72" fill="#000"/>
<circle cx="118.49" cy="1002.15" r="0.72" fill="#000"/>
<circle cx="113.27" cy="940.28" r="0.72" fill="#000"/>
<circle cx="116.48" cy="1008.98" r="0.72" fill="#000"/>
<circle cx="113.35" cy="958.44" r="0.72" fill="#000"/>
<circle cx="113.97" cy="921.39" r="0.72" fill="#000"/>
<circle cx="118.62" cy="998.74" r="0.72" fill="#000"/>
<circle cx="116.01" cy="1006" r="0.72" fill="#000"/>
<circle cx="117.24" cy="1007.73" r="0.72" fill="#000"/>
<circle cx="116.27" cy="1008.32" r="0.72" fill="#000"/>
<circle cx="115.46" cy="924.3" r="0.72" fill="#000"/>
<circle cx="114.65" cy="965.63" r="0.72" fill="#000"/>
<circle cx="115.58" cy="1009.19" r="0.72" fill="#000"/>
<circle cx="118.83" cy="989.68" r="0.72" fill="#000"/>
<circle cx="117.34" cy="966.51" r="0.72" fill="#000"/>
<circle cx="115.17" cy="999.22" r="0.72" fill="#000"/>
<circle cx="113.82" cy="1008.91" r="0.72" fill="#000"/>
<circle cx="115.03" cy="991.98" r="0.72" fill="#000"/>
<circle cx="117.88" cy="996.78" r="0.72" fill="#000"/>
<circle cx="116.17" cy="860.11" r="0.72" fill="#000"/>
<circle cx="117.62" cy="996.35" r="0.72" fill="#000"/>
<circle cx="118.58" cy="883.55" r="0.72" fill="#000"/>
<circle cx="114.04" cy="903.1" r="0.72" fill="#000"/>
<circle cx="117.76" cy="971.4" r="0.72" fill="#000"/>
<circle cx="113.51" cy="1007.64" r="0.72" fill="#000"/>
<circle cx="118.69" cy="919.93" r="0.72" fill="#000"/>
<circle cx="114.46" cy="1008.14" r="0.72" fill="#000"/>
<circle cx="115.04" cy="974.85" r="0.72" fill="#000"/>
<circle cx="119.58" cy="1008.04" r="0.72" fill="#000"/>
<circle cx="115.64" cy="1008.11" r="0.72" fill="#000"/>
<circle cx="114.72" cy="992.73" r="0.72" fill="#000"/>
<circle cx="119.13" cy="1007.11" r="0.72" fill="#000"/>
<circle cx="117.28" cy="845.82" r="0.72" fill="#000"/>
<circle cx="119.16" cy="970.68" r="0.72" fill="#000"/>
<circle cx="115.85" cy="894.97" r="0.72" fill="#000"/>
<circle cx="116.55" cy="867.54" r="0.72" fill="#000"/>
<circle cx="119.57" cy="933.86" r="0.72" fill="#000"/>
<circle cx="116.59" cy="957.04" r="0.72" fill="#000"/>
<circle cx="119.79" cy="988.28" r="0.72" fill="#000"/>
<circle cx="114.49" cy="928.33" r="0.72" fill="#000"/>
<circle cx="118.74" cy="952.29" r="0.72" fill="#000"/>
<circle cx="114.31" cy="1007.05" r="0.72" fill="#000"/>
<circle cx="116.73" cy="980.31" r="0.72" fill="#000"/>
<circle cx="113.24" cy="992.52" r="0.72" fill="#000"/>
<circle cx="114.4" cy="983.24" r="0.72" fill="#000"/>
<circle cx="119.5" cy="943.49" r="0.72" fill="#000"/>
<circle cx="116.25" cy="948.34" r="0.72" fill="#000"/>
<circle cx="118.6" cy="972.32" r="0.72" fill="#000"/>
<circle cx="114.9" cy="925.23" r="0.72" fill="#000"/>
<circle cx="115.57" cy="915.07" r="0.72" fill="#000"/>
<circle cx="113.91" cy="1008.11" r="0.72" fill="#000"/>
<circle cx="116.9" cy="1007.37" r="0.72" fill="#000"/>
<circle cx="118.95" cy="1008.74" r="0.72" fill="#000"/>
<circle cx="116.64" cy="1006.98" r="0.72" fill="#000"/>
<circle cx="115.73" cy="866.37" r="0.72" fill="#000"/>
<circle cx="119.39" cy="999.92" r="0.72" fill="#000"/>
<circle cx="119.16" cy="990.7" r="0.72" fill="#000"/>
<circle cx="117.65" cy="988.82" r="0.72" fill="#000"/>
<circle cx="113.74" cy="973.4" r="0.72" fill="#000"/>
<circle cx="117.37" cy="1002.06" r="0.72" fill="#000"/>
<circle cx="116.18" cy="928.06" r="0.72" fill="#000"/>
<circle cx="119.58" cy="998.35" r="0.72" fill="#000"/>
<circle cx="115.63" cy="909.37" r="0.72" fill="#000"/>
<circle cx="117.62" cy="921.13" r="0.72" fill="#000"/>
<circle cx="117.42" cy="1009.38" r="0.72" fill="#000"/>
<circle cx="115.73" cy="976.76" r="0.72" fill="#000"/>
<circle cx="116.7" cy="1008.1" r="0.72" fill="#000"/>
<circle cx="117.72" cy="898.66" r="0.72" fill="#000"/>
<circle cx="119.25" cy="1008.43" r="0.72" fill="#000"/>
<circle cx="116.54" cy="1002.94" r="0.72" fill="#000"/>
<circle cx="115.65" cy="930.84" r="0.72" fill="#000"/>
<circle cx="119.7" cy="968.08" r="0.72" fill="#000"/>
<circle cx="113.61" cy="952.78" r="0.72" fill="#000"/>
<circle cx="118.77" cy="992.55" r="0.72" fill="#000"/>
<circle cx="117.77" cy="982.22" r="0.72" fill="#000"/>
<circle cx="116.93" cy="1005.63" r="0.72" fill="#000"/>
<circle cx="116.2" cy="989.04" r="0.72" fill="#000"/>
<circle cx="118.21" cy="1003.65" r="0.72" fill="#000"/>
<circle cx="119.14" cy="951.05" r="0.72" fill="#000"/>
<circle cx="118.07" cy="1007.91" r="0.72" fill="#000"/>
<circle cx="118.21" cy="1007.48" r="0.72" fill="#000"/>
<circle cx="113.47" cy="1005.81" r="0.72" fill="#000"/>
<circle cx="115.39" cy="979.74" r="0.72" fill="#000"/>
<circle cx="114.15" cy="969.93" r="0.72" fill="#000"/>
<circle cx="119.55" cy="1009.36" r="0.72" fill="#000"/>
<circle cx="119.14" cy="850.1" r="0.72" fill="#000"/>
<circle cx="114.19" cy="912.22" r="0.72" fill="#000"/>
<circle cx="117.13" cy="994.91" r="0.72" fill="#000"/>
<circle cx="117.06" cy="1007.03" r="0.72" fill="#000"/>
<circle cx="113.55" cy="914.88" r="0.72" fill="#000"/>
<circle cx="115.84" cy="857.9" r="0.72" fill="#000"/>
<circle cx="118.19" cy="1006.42" r="0.72" fill="#000"/>
<circle cx="117.49" cy="934.39" r="0.72" fill="#000"/>
<circle cx="115.1" cy="917.08" r="0.72" fill="#000"/>
<circle cx="118.29" cy="876.63" r="0.72" fill="#000"/>
<circle cx="115.17" cy="1005.46" r="0.72" fill="#000"/>
<circle cx="116.84" cy="1007.72" r="0.72" fill="#000"/>
<circle cx="116.02" cy="1006.85" r="0.72" fill="#000"/>
<circle cx="119.72" cy="1004.75" r="0.72" fill="#000"/>
<circle cx="117.54" cy="894.15" r="0.72" fill="#000"/>
<circle cx="118.57" cy="889.5" r="0.72" fill="#000"/>
<circle cx="117.72" cy="988.22" r="0.72" fill="#000"/>
<circle cx="115.76" cy="1007.62" r="0.72" fill="#000"/>
<circle cx="119.62" cy="996.86" r="0.72" fill="#000"/>
<circle cx="117.94" cy="1004.44" r="0.72" fill="#000"/>
<circle cx="117.81" cy="956.51" r="0.72" fill="#000"/>
<circle cx="115.08" cy="942.11" r="0.72" fill="#000"/>
<circle cx="114.31" cy="928.78" r="0.72" fill="#000"/>
<circle cx="117.05" cy="990.84" r="0.72" fill="#000"/>
<circle cx="118.71" cy="989.43" r="0.72" fill="#000"/>
<circle cx="118.5" cy="988.64" r="0.72" fill="#000"/>
<circle cx="115.54" cy="995.6" r="0.72" fill="#000"/>
<circle cx="114.16" cy="989.55" r="0.72" fill="#000"/>
<circle cx="116.66" cy="949.09" r="0.72" fill="#000"/>
<circle cx="119.05" cy="943.86" r="0.72" fill="#000"/>
<circle cx="114.31" cy="998.72" r="0.72" fill="#000"/>
<circle cx="118.13" cy="972.91" r="0.72" fill="#000"/>
<circle cx="114.37" cy="1007.37" r="0.72" fill="#000"/>
<circle cx="115.3" cy="1008.77" r="0.72" fill="#000"/>
<circle cx="113.59" cy="994.41" r="0.72" fill="#000"/>
<circle cx="115.21" cy="996.38" r="0.72" fill="#000"/>
<circle cx="115.77" cy="1008.95" r="0.72" fill="#000"/>
<circle cx="119.64" cy="1008.29" r="0.72" fill="#000"/>
<circle cx="119.61" cy="991.64" r="0.72" fill="#000"/>
<circle cx="114.48" cy="874.24" r="0.72" fill="#000"/>
<circle cx="115.29" cy="911.63" r="0.72" fill="#000"/>
<circle cx="119.49" cy="1008.98" r="0.72" fill="#000"/>
<circle cx="114.54" cy="999.41" r="0.72" fill="#000"/>
<circle cx="115.36" cy="995.71" r="0.72" fill="#000"/>
<circle cx="116.14" cy="999.81" r="0.72" fill="#000"/>
<circle cx="113.96" cy="1007.49" r="0.72" fill="#000"/>
<circle cx="114.96" cy="968.18" r="0.72" fill="#000"/>
<circle cx="115.85" cy="911.19" r="0.72" fill="#000"/>
<circle cx="115.79" cy="994.78" r="0.72" fill="#000"/>
<circle cx="119.62" cy="1006.48" r="0.72" fill="#000"/>
<circle cx="115.01" cy="1007.93" r="0.72" fill="#000"/>
<circle cx="114.59" cy="1009.19" r="0.72" fill="#000"/>
<circle cx="119.26" cy="931.79" r="0.72" fill="#000"/>
<circle cx="116.22" cy="1004.77" r="0.72" fill="#000"/>
<circle cx="118.78" cy="941.31" r="0.72" fill="#000"/>
<circle cx="117.46" cy="924.69" r="0.72" fill="#000"/>
<circle cx="118.4" cy="1008.23" r="0.72" fill="#000"/>
<circle cx="115.32" cy="1006.08" r="0.72" fill="#000"/>
<circle cx="114.24" cy="999.5" r="0.72" fill="#000"/>
<circle cx="118.25" cy="930.8" r="0.72" fill="#000"/>
<circle cx="116.35" cy="938.72" r="0.72" fill="#000"/>
<circle cx="116.94" cy="1000.4" r="0.72" fill="#000"/>
<circle cx="117.68" cy="989.78" r="0.72" fill="#000"/>
<circle cx="118.22" cy="996.68" r="0.72" fill="#000"/>
<circle cx="115.06" cy="988.37" r="0.72" fill="#000"/>
<circle cx="115.64" cy="923.9" r="0.72" fill="#000"/>
<circle cx="119.32" cy="1003.33" r="0.72" fill="#000"/>
<circle cx="116.74" cy="919.18" r="0.72" fill="#000"/>
<circle cx="115.15" cy="884.75" r="0.72" fill="#000"/>
<circle cx="117.41" cy="966.04" r="0.72" fill="#000"/>
<circle cx="114.96" cy="866.29" r="0.72" fill="#000"/>
<circle cx="118.35" cy="876.26" r="0.72" fill="#000"/>
<circle cx="113.51" cy="1006.64" r="0.72" fill="#000"/>
<circle cx="118.71" cy="846.26" r="0.72" fill="#000"/>
<circle cx="116.99" cy="1005.72" r="0.72" fill="#000"/>
<circle cx="115.58" cy="920.81" r="0.72" fill="#000"/>
<circle cx="119.46" cy="1007.71" r="0.72" fill="#000"/>
<circle cx="115" cy="1000.41" r="0.72" fill="#000"/>
<circle cx="114.85" cy="990.48" r="0.72" fill="#000"/>
<circle cx="113.7" cy="911.16" r="0.72" fill="#000"/>
<circle cx="116.87" cy="950.01" r="0.72" fill="#000"/>
<circle cx="118.23" cy="1005.61" r="0.72" fill="#000"/>
<circle cx="117.73" cy="894.78" r="0.72" fill="#000"/>
<circle cx="115.97" cy="903.84" r="0.72" fill="#000"/>
<circle cx="118.59" cy="984.37" r="0.72" fill="#000"/>
<circle cx="113.97" cy="1008.69" r="0.72" fill="#000"/>
<circle cx="115.27" cy="1001.62" r="0.72" fill="#000"/>
<circle cx="117.51" cy="1001.14" r="0.72" fill="#000"/>
<circle cx="119.65" cy="992.14" r="0.72" fill="#000"/>
<circle cx="117.44" cy="874.1" r="0.72" fill="#000"/>
<circle cx="117.82" cy="967.23" r="0.72" fill="#000"/>
<circle cx="118.37" cy="916.63" r="0.72" fill="#000"/>
<circle cx="115.85" cy="1008.4" r="0.72" fill="#000"/>
<circle cx="119.47" cy="1004.3" r="0.72" fill="#000"/>
<circle cx="118.16" cy="939.84" r="0.72" fill="#000"/>
<circle cx="115.5" cy="997.72" r="0.72" fill="#000"/>
<circle cx="115.84" cy="1004.87" r="0.72" fill="#000"/>
<circle cx="118.58" cy="1008.52" r="0.72" fill="#000"/>
<circle cx="115.55" cy="1008.69" r="0.72" fill="#000"/>
<circle cx="114.47" cy="992.6" r="0.72" fill="#000"/>
<circle cx="119.01" cy="977.05" r="0.72" fill="#000"/>
<circle cx="116.76" cy="993.49" r="0.72" fill="#000"/>
<circle cx="116.69" cy="973.28" r="0.72" fill="#000"/>
<circle cx="117.67" cy="1001.25" r="0.72" fill="#000"/>
<circle cx="119.21" cy="1009.17" r="0.72" fill="#000"/>
<circle cx="114.12" cy="951.28" r="0.72" fill="#000"/>
<circle cx="115.48" cy="998.06" r="0.72" fill="#000"/>
<circle cx="113.67" cy="986.96" r="0.72" fill="#000"/>
<circle cx="115.97" cy="995.07" r="0.72" fill="#000"/>
<circle cx="116.56" cy="1002.74" r="0.72" fill="#000"/>
<circle cx="118.88" cy="1008.68" r="0.72" fill="#000"/>
<circle cx="117.66" cy="1000.84" r="0.72" fill="#000"/>
<circle cx="117.07" cy="1000.74" r="0.72" fill="#000"/>
<circle cx="115.91" cy="1007.79" r="0.72" fill="#000"/>
<circle cx="117.04" cy="1008.99" r="0.72" fill="#000"/>
<circle cx="115.05" cy="987.73" r="0.72" fill="#000"/>
<circle cx="118.83" cy="1009.13" r="0.72" fill="#000"/>
<circle cx="118.46" cy="900.06" r="0.72" fill="#000"/>
<circle cx="118.79" cy="996.31" r="0.72" fill="#000"/>
<circle cx="114.24" cy="990.36" r="0.72" fill="#000"/>
<circle cx="117.69" cy="981.19" r="0.72" fill="#000"/>
<circle cx="118.23" cy="1009.06" r="0.72" fill="#000"/>
<circle cx="116.55" cy="1007.98" r="0.72" fill="#000"/>
<circle cx="119.19" cy="926.2" r="0.72" fill="#000"/>
<circle cx="119.19" cy="975" r="0.72" fill="#000"/>
<circle cx="118.16" cy="986.83" r="0.72" fill="#000"/>
<circle cx="118.68" cy="997.48" r="0.72" fill="#000"/>
<circle cx="117.54" cy="935.73" r="0.72" fill="#000"/>
<circle cx="119.06" cy="985.72" r="0.72" fill="#000"/>
<circle cx="114.11" cy="924.25" r="0.72" fill="#000"/>
<circle cx="117.9" cy="912.14" r="0.72" fill="#000"/>
<circle cx="117.9" cy="895.89" r="0.72" fill="#000"/>
<circle cx="117.29" cy="940.93" r="0.72" fill="#000"/>
<circle cx="115.06" cy="951.37" r="0.72" fill="#000"/>
<circle cx="113.68" cy="989.09" r="0.72" fill="#000"/>
<circle cx="117.23" cy="979.64" r="0.72" fill="#000"/>
<circle cx="118.7" cy="970.46" r="0.72" fill="#000"/>
<circle cx="115.05" cy="981.28" r="0.72" fill="#000"/>
<circle cx="114.65" cy="916.76" r="0.72" fill="#000"/>
<circle cx="114.72" cy="905.88" r="0.72" fill="#000"/>
<circle cx="113.86" cy="1008.67" r="0.72" fill="#000"/>
<circle cx="117.72" cy="935.51" r="0.72" fill="#000"/>
<circle cx="119.7" cy="962.98" r="0.72" fill="#000"/>
<circle cx="118.55" cy="966.57" r="0.72" fill="#000"/>
<circle cx="115.62" cy="890.29" r="0.72" fill="#000"/>
<circle cx="117.87" cy="1008.71" r="0.72" fill="#000"/>
<circle cx="113.72" cy="988.13" r="0.72" fill="#000"/>
<circle cx="118.79" cy="995.23" r="0.72" fill="#000"/>
<circle cx="115.39" cy="871.36" r="0.72" fill="#000"/>
<circle cx="113.26" cy="1006.85" r="0.72" fill="#000"/>
<circle cx="117.41" cy="973.68" r="0.72" fill="#000"/>
<circle cx="114.16" cy="1007.38" r="0.72" fill="#000"/>
<circle cx="115.06" cy="934.99" r="0.72" fill="#000"/>
<circle cx="113.63" cy="987.13" r="0.72" fill="#000"/>
<circle cx="116.19" cy="939.01" r="0.72" fill="#000"/>
<circle cx="116.91" cy="1000.1" r="0.72" fill="#000"/>
<circle cx="118.59" cy="898.82" r="0.72" fill="#000"/>
<circle cx="113.5" cy="1009.3" r="0.72" fill="#000"/>
<circle cx="118.72" cy="1004.96" r="0.72" fill="#000"/>
<circle cx="113.97" cy="939.42" r="0.72" fill="#000"/>
<circle cx="114.72" cy="900.07" r="0.72" fill="#000"/>
<circle cx="117.41" cy="928.46" r="0.72" fill="#000"/>
<circle cx="115.49" cy="1002.37" r="0.72" fill="#000"/>
<circle cx="115.43" cy="1008.27" r="0.72" fill="#000"/>
<circle cx="117" cy="944.25" r="0.72" fill="#000"/>
<circle cx="114.68" cy="939.8" r="0.72" fill="#000"/>
<circle cx="118.49" cy="1008.55" r="0.72" fill="#000"/>
<circle cx="114.62" cy="877.76" r="0.72" fill="#000"/>
<circle cx="118.8" cy="980.76" r="0.72" fill="#000"/>
<circle cx="118.6" cy="1008.93" r="0.72" fill="#000"/>
<circle cx="116.8" cy="987.81" r="0.72" fill="#000"/>
<circle cx="113.44" cy="997.88" r="0.72" fill="#000"/>
<circle cx="118.39" cy="1007.94" r="0.72" fill="#000"/>
<circle cx="113.43" cy="898.27" r="0.72" fill="#000"/>
<circle cx="116.58" cy="877.85" r="0.72" fill="#000"/>
<circle cx="116.05" cy="1007.67" r="0.72" fill="#000"/>
<circle cx="113.66" cy="990.23" r="0.72" fill="#000"/>
<circle cx="117.41" cy="1002.5" r="0.72" fill="#000"/>
<circle cx="118.04" cy="951.7" r="0.72" fill="#000"/>
<circle cx="117.11" cy="1007.87" r="0.72" fill="#000"/>
<circle cx="115.89" cy="998.21" r="0.72" fill="#000"/>
<circle cx="116.63" cy="992.74" r="0.72" fill="#000"/>
<circle cx="117.14" cy="988.29" r="0.72" fill="#000"/>
<circle cx="114.74" cy="990.97" r="0.72" fill="#000"/>
<circle cx="118.99" cy="967.04" r="0.72" fill="#000"/>
<circle cx="119.83" cy="875.22" r="0.72" fill="#000"/>
<circle cx="118.57" cy="879.33" r="0.72" fill="#000"/>
<circle cx="119.61" cy="890.7" r="0.72" fill="#000"/>
<circle cx="115.42" cy="914.02" r="0.72" fill="#000"/>
<circle cx="119.77" cy="1004.84" r="0.72" fill="#000"/>
<circle cx="113.71" cy="1004.34" r="0.72" fill="#000"/>
<circle cx="116.4" cy="989.22" r="0.72" fill="#000"/>
<circle cx="114.12" cy="957.53" r="0.72" fill="#000"/>
<circle cx="116.25" cy="964.97" r="0.72" fill="#000"/>
<circle cx="117.76" cy="997.07" r="0.72" fill="#000"/>
<circle cx="117.93" cy="845.98" r="0.72" fill="#000"/>
<circle cx="116.25" cy="999.72" r="0.72" fill="#000"/>
<circle cx="115.5" cy="1009.13" r="0.72" fill="#000"/>
<circle cx="114.5" cy="1008.13" r="0.72" fill="#000"/>
<circle cx="115.91" cy="1005.44" r="0.72" fill="#000"/>
<circle cx="115.11" cy="939.93" r="0.72" fill="#000"/>
<circle cx="114.52" cy="910.72" r="0.72" fill="#000"/>
<circle cx="118.11" cy="1008.82" r="0.72" fill="#000"/>
<circle cx="116.66" cy="1004.57" r="0.72" fill="#000"/>
<circle cx="116.14" cy="1004.4" r="0.72" fill="#000"/>
<circle cx="114.55" cy="925.87" r="0.72" fill="#000"/>
<circle cx="117.9" cy="894.83" r="0.72" fill="#000"/>
<circle cx="114.54" cy="1003.21" r="0.72" fill="#000"/>
<circle cx="115" cy="1007.97" r="0.72" fill="#000"/>
<circle cx="116.95" cy="862.66" r="0.72" fill="#000"/>
<circle cx="117.88" cy="860.49" r="0.72" fill="#000"/>
<circle cx="119.68" cy="942.79" r="0.72" fill="#000"/>
<circle cx="118.19" cy="988.3" r="0.72" fill="#000"/>
<circle cx="119.52" cy="936.72" r="0.72" fill="#000"/>
<circle cx="119.33" cy="931.22" r="0.72" fill="#000"/>
<circle cx="118.02" cy="984.48" r="0.72" fill="#000"/>
<circle cx="118" cy="1002.65" r="0.72" fill="#000"/>
<circle cx="113.65" cy="981.3" r="0.72" fill="#000"/>
<circle cx="114.6" cy="953.72" r="0.72" fill="#000"/>
<circle cx="113.32" cy="998.87" r="0.72" fill="#000"/>
<circle cx="118.96" cy="958.34" r="0.72" fill="#000"/>
<circle cx="118.02" cy="1007.35" r="0.72" fill="#000"/>
<circle cx="117.41" cy="860.78" r="0.72" fill="#000"/>
<circle cx="114.99" cy="1005.38" r="0.72" fill="#000"/>
<circle cx="115.59" cy="1004.91" r="0.72" fill="#000"/>
<circle cx="114.32" cy="865.75" r="0.72" fill="#000"/>
<circle cx="117.43" cy="870.59" r="0.72" fill="#000"/>
<circle cx="119.81" cy="882.27" r="0.72" fill="#000"/>
<circle cx="115.26" cy="910.61" r="0.72" fill="#000"/>
<circle cx="113.53" cy="908.54" r="0.72" fill="#000"/>
<circle cx="114.4" cy="916.2" r="0.72" fill="#000"/>
<circle cx="115.59" cy="972.94" r="0.72" fill="#000"/>
<circle cx="119.19" cy="1008.36" r="0.72" fill="#000"/>
<circle cx="118.57" cy="939.75" r="0.72" fill="#000"/>
<circle cx="116.25" cy="912.12" r="0.72" fill="#000"/>
<circle cx="113.91" cy="911.55" r="0.72" fill="#000"/>
<circle cx="113.94" cy="1008.79" r="0.72" fill="#000"/>
<circle cx="114.26" cy="1008.54" r="0.72" fill="#000"/>
<circle cx="118.39" cy="939.97" r="0.72" fill="#000"/>
<circle cx="116.36" cy="987.22" r="0.72" fill="#000"/>
<circle cx="119.8" cy="895.95" r="0.72" fill="#000"/>
<circle cx="119.28" cy="846.92" r="0.72" fill="#000"/>
<circle cx="118.5" cy="990.13" r="0.72" fill="#000"/>
<circle cx="116.39" cy="951.06" r="0.72" fill="#000"/>
<circle cx="118.68" cy="953.15" r="0.72" fill="#000"/>
<circle cx="114.09" cy="947.4" r="0.72" fill="#000"/>
<circle cx="113.96" cy="995.79" r="0.72" fill="#000"/>
<circle cx="116.97" cy="958.3" r="0.72" fill="#000"/>
<circle cx="116.6" cy="1008.45" r="0.72" fill="#000"/>
<circle cx="114.62" cy="894.14" r="0.72" fill="#000"/>
<circle cx="114.91" cy="941.4" r="0.72" fill="#000"/>
<circle cx="113.38" cy="921.39" r="0.72" fill="#000"/>
<circle cx="119.26" cy="989.04" r="0.72" fill="#000"/>
<circle cx="117.94" cy="1005.57" r="0.72" fill="#000"/>
<circle cx="119.5" cy="989.83" r="0.72" fill="#000"/>
<circle cx="119.73" cy="950.04" r="0.72" fill="#000"/>
<circle cx="116.13" cy="976.67" r="0.72" fill="#000"/>
<circle cx="118.09" cy="1007.88" r="0.72" fill="#000"/>
<circle cx="115.78" cy="1009.35" r="0.72" fill="#000"/>
<circle cx="118.62" cy="993.64" r="0.72" fill="#000"/>
<circle cx="118.81" cy="1004.32" r="0.72" fill="#000"/>
<circle cx="114.12" cy="1004.89" r="0.72" fill="#000"/>
<circle cx="113.32" cy="1005.06" r="0.72" fill="#000"/>
<circle cx="114.66" cy="992.36" r="0.72" fill="#000"/>
<circle cx="117.12" cy="947.1" r="0.72" fill="#000"/>
<circle cx="115.75" cy="888.03" r="0.72" fill="#000"/>
<circle cx="113.3" cy="950.82" r="0.72" fill="#000"/>
<circle cx="118.74" cy="1009.11" r="0.72" fill="#000"/>
<circle cx="118.45" cy="903.22" r="0.72" fill="#000"/>
<circle cx="116.31" cy="964.45" r="0.72" fill="#000"/>
<circle cx="113.52" cy="939.74" r="0.72" fill="#000"/>
<circle cx="119.13" cy="963.5" r="0.72" fill="#000"/>
<circle cx="116.78" cy="996.74" r="0.72" fill="#000"/>
<circle cx="113.71" cy="997.81" r="0.72" fill="#000"/>
<circle cx="115.38" cy="1008.4" r="0.72" fill="#000"/>
<circle cx="117.38" cy="953.36" r="0.72" fill="#000"/>
<circle cx="119.1" cy="1008.65" r="0.72" fill="#000"/>
<circle cx="116.45" cy="949.94" r="0.72" fill="#000"/>
<circle cx="117.47" cy="888.95" r="0.72" fill="#000"/>
<circle cx="114.6" cy="952.59" r="0.72" fill="#000"/>
<circle cx="114.85" cy="964.99" r="0.72" fill="#000"/>
<circle cx="119.24" cy="919.85" r="0.72" fill="#000"/>
<circle cx="115.77" cy="866.05" r="0.72" fill="#000"/>
<circle cx="113.93" cy="918.59" r="0.72" fill="#000"/>
<circle cx="117.15" cy="847.52" r="0.72" fill="#000"/>
<circle cx="114.07" cy="989.23" r="0.72" fill="#000"/>
<circle cx="114.56" cy="1009.2" r="0.72" fill="#000"/>
<circle cx="116.26" cy="963.36" r="0.72" fill="#000"/>
<circle cx="117.12" cy="958.51" r="0.72" fill="#000"/>
<circle cx="117.45" cy="904.49" r="0.72" fill="#000"/>
<circle cx="117.92" cy="963.8" r="0.72" fill="#000"/>
<circle cx="116.15" cy="996.09" r="0.72" fill="#000"/>
<circle cx="113.69" cy="1009.33" r="0.72" fill="#000"/>
<circle cx="118.04" cy="913.55" r="0.72" fill="#000"/>
<circle cx="113.59" cy="961.28" r="0.72" fill="#000"/>
<circle cx="116.36" cy="851.73" r="0.72" fill="#000"/>
<circle cx="115.89" cy="967.57" r="0.72" fill="#000"/>
<circle cx="117.7" cy="907.38" r="0.72" fill="#000"/>
<circle cx="117.97" cy="929.85" r="0.72" fill="#000"/>
<circle cx="114.83" cy="846.81" r="0.72" fill="#000"/>
<circle cx="117.54" cy="989.04" r="0.72" fill="#000"/>
<circle cx="117.82" cy="894.96" r="0.72" fill="#000"/>
<circle cx="116.36" cy="993.71" r="0.72" fill="#000"/>
<circle cx="114.18" cy="1009.24" r="0.72" fill="#000"/>
<circle cx="119.26" cy="998.76" r="0.72" fill="#000"/>
<circle cx="117.21" cy="996.95" r="0.72" fill="#000"/>
<circle cx="113.65" cy="845.49" r="0.72" fill="#000"/>
<circle cx="114.82" cy="993.84" r="0.72" fill="#000"/>
<circle cx="119.78" cy="1002.4" r="0.72" fill="#000"/>
<circle cx="114.75" cy="948" r="0.72" fill="#000"/>
<circle cx="115.84" cy="1008.04" r="0.72" fill="#000"/>
<circle cx="118.46" cy="1000.21" r="0.72" fill="#000"/>
<circle cx="118.7" cy="993.83" r="0.72" fill="#000"/>
<circle cx="117.44" cy="1007.66" r="0.72" fill="#000"/>
<circle cx="118.15" cy="966.65" r="0.72" fill="#000"/>
<circle cx="113.49" cy="991.84" r="0.72" fill="#000"/>
<circle cx="113.86" cy="921.53" r="0.72" fill="#000"/>
<circle cx="119.7" cy="997.79" r="0.72" fill="#000"/>
<circle cx="118.56" cy="857.73" r="0.72" fill="#000"/>
<circle cx="113.49" cy="1005.87" r="0.72" fill="#000"/>
<circle cx="113.56" cy="980.16" r="0.72" fill="#000"/>
<circle cx="114.83" cy="1004.91" r="0.72" fill="#000"/>
<circle cx="119.4" cy="1009.2" r="0.72" fill="#000"/>
<circle cx="114.69" cy="1000.49" r="0.72" fill="#000"/>
<circle cx="117.69" cy="895.43" r="0.72" fill="#000"/>
<circle cx="119.4" cy="1001.2" r="0.72" fill="#000"/>
<circle cx="117.47" cy="987.18" r="0.72" fill="#000"/>
<circle cx="119.33" cy="981.53" r="0.72" fill="#000"/>
<circle cx="114.98" cy="1003.02" r="0.72" fill="#000"/>
<circle cx="114.25" cy="979.35" r="0.72" fill="#000"/>
<circle cx="113.36" cy="1008.49" r="0.72" fill="#000"/>
<circle cx="118.25" cy="997.08" r="0.72" fill="#000"/>
<circle cx="113.93" cy="1001.7" r="0.72" fill="#000"/>
<circle cx="119.68" cy="917.79" r="0.72" fill="#000"/>
<circle cx="117.94" cy="930.48" r="0.72" fill="#000"/>
<circle cx="114.48" cy="945.97" r="0.72" fill="#000"/>
<circle cx="118.58" cy="967.27" r="0.72" fill="#000"/>
<circle cx="114.32" cy="903.54" r="0.72" fill="#000"/>
<circle cx="116.63" cy="937.88" r="0.72" fill="#000"/>
<circle cx="113.94" cy="1008.63" r="0.72" fill="#000"/>
<circle cx="118.45" cy="1007.58" r="0.72" fill="#000"/>
<circle cx="119.13" cy="936.5" r="0.72" fill="#000"/>
<circle cx="119.31" cy="910.96" r="0.72" fill="#000"/>
<circle cx="113.25" cy="848.17" r="0.72" fill="#000"/>
<circle cx="118.88" cy="929.02" r="0.72" fill="#000"/>
<circle cx="116.92" cy="1007.06" r="0.72" fill="#000"/>
<circle cx="118.68" cy="972.85" r="0.72" fill="#000"/>
<circle cx="116.57" cy="961.36" r="0.72" fill="#000"/>
<circle cx="117.34" cy="965.3" r="0.72" fill="#000"/>
<circle cx="117.18" cy="1007.52" r="0.72" fill="#000"/>
<circle cx="118.53" cy="861.91" r="0.72" fill="#000"/>
<circle cx="113.75" cy="984.27" r="0.72" fill="#000"/>
<circle cx="113.6" cy="1002.83" r="0.72" fill="#000"/>
<circle cx="116.85" cy="855.62" r="0.72" fill="#000"/>
<circle cx="115.17" cy="994.56" r="0.72" fill="#000"/>
<circle cx="115.87" cy="1008.42" r="0.72" fill="#000"/>
<line x1="103.3" y1="986.36" x2="129.8" y2="986.36" stroke="#1a1a1a" stroke-width="1.5" />
<line x1="150.2" y1="869.03" x2="150.2" y2="851.23" stroke="#333" stroke-width="0.7" stroke-dasharray="1.3 1.3"/>
<line x1="150.2" y1="903.6" x2="150.2" y2="942.36" stroke="#333" stroke-width="0.7" stroke-dasharray="1.3 1.3"/>
<line x1="143.9" y1="851.23" x2="156.5" y2="851.23" stroke="#666" stroke-width="0.9" />
<line x1="143.9" y1="942.36" x2="156.5" y2="942.36" stroke="#666" stroke-width="0.9" />
<rect x="136.4" y="869.03" width="27.6" height="34.57" fill="#7F7F7F" stroke="#585858" stroke-width="0.6"/>
<line x1="136.4" y1="1009.4" x2="164" y2="1009.4" stroke="#1a1a1a" stroke-width="1.6" />
<circle cx="146.8" cy="992.64" r="0.72" fill="#000"/>
<circle cx="151.89" cy="975.88" r="0.72" fill="#000"/>
<circle cx="146.92" cy="969.6" r="0.72" fill="#000"/>
<circle cx="152.47" cy="942.36" r="0.72" fill="#000"/>
<circle cx="152.35" cy="936.07" r="0.72" fill="#000"/>
<circle cx="149.91" cy="913.03" r="0.72" fill="#000"/>
<circle cx="147.59" cy="908.84" r="0.72" fill="#000"/>
<circle cx="151.24" cy="904.65" r="0.72" fill="#000"/>
<circle cx="148.18" cy="903.6" r="0.72" fill="#000"/>
<circle cx="149.71" cy="902.55" r="0.72" fill="#000"/>
<circle cx="147.51" cy="900.46" r="0.72" fill="#000"/>
<circle cx="153.49" cy="898.37" r="0.72" fill="#000"/>
<circle cx="150.52" cy="896.27" r="0.72" fill="#000"/>
<circle cx="149.18" cy="894.17" r="0.72" fill="#000"/>
<circle cx="147.4" cy="892.08" r="0.72" fill="#000"/>
<circle cx="151.79" cy="891.03" r="0.72" fill="#000"/>
<circle cx="152.61" cy="889.99" r="0.72" fill="#000"/>
<circle cx="152.6" cy="887.89" r="0.72" fill="#000"/>
<circle cx="147.45" cy="885.79" r="0.72" fill="#000"/>
<circle cx="149.29" cy="883.7" r="0.72" fill="#000"/>
<circle cx="148.84" cy="881.61" r="0.72" fill="#000"/>
<circle cx="152.01" cy="879.51" r="0.72" fill="#000"/>
<circle cx="147.77" cy="877.41" r="0.72" fill="#000"/>
<circle cx="150.93" cy="875.32" r="0.72" fill="#000"/>
<circle cx="153.5" cy="873.23" r="0.72" fill="#000"/>
<circle cx="152.05" cy="871.13" r="0.72" fill="#000"/>
<circle cx="146.8" cy="869.03" r="0.72" fill="#000"/>
<circle cx="147.27" cy="866.94" r="0.72" fill="#000"/>
<circle cx="147.53" cy="864.85" r="0.72" fill="#000"/>
<circle cx="151.53" cy="862.75" r="0.72" fill="#000"/>
<circle cx="150.88" cy="860.65" r="0.72" fill="#000"/>
<circle cx="150.34" cy="858.56" r="0.72" fill="#000"/>
<circle cx="149.89" cy="856.46" r="0.72" fill="#000"/>
<circle cx="149.56" cy="854.37" r="0.72" fill="#000"/>
<circle cx="150.97" cy="852.27" r="0.72" fill="#000"/>
<circle cx="151.23" cy="851.23" r="0.72" fill="#000"/>
<circle cx="153.07" cy="1009.4" r="0.72" fill="#000"/>
<circle cx="151.81" cy="1009.4" r="0.72" fill="#000"/>
<circle cx="152.25" cy="1009.4" r="0.72" fill="#000"/>
<circle cx="153.05" cy="1009.4" r="0.72" fill="#000"/>
<circle cx="152.53" cy="1009.4" r="0.72" fill="#000"/>
<circle cx="151.7" cy="1009.4" r="0.72" fill="#000"/>
<circle cx="146.96" cy="1009.4" r="0.72" fill="#000"/>
<circle cx="151.45" cy="1009.4" r="0.72" fill="#000"/>
<line x1="136.4" y1="891.03" x2="164" y2="891.03" stroke="#1a1a1a" stroke-width="1.5" />
<rect x="78.5" y="822.5" width="110" height="194" fill="none" stroke="#6a6a6a" stroke-width="1"/>
<line x1="74.3" y1="1009.4" x2="78.3" y2="1009.4" stroke="#555" stroke-width="0.9" />
<text x="66.8" y="1009.4" font-family='"Liberation Sans", sans-serif' font-size="6.6" text-anchor="middle" fill="#333" font-weight="normal" transform="rotate(-90 66.8 1009.4)" dominant-baseline="central" stroke="#333" stroke-width="0.2">0</text>
<line x1="74.3" y1="967.5" x2="78.3" y2="967.5" stroke="#555" stroke-width="0.9" />
<text x="66.8" y="967.5" font-family='"Liberation Sans", sans-serif' font-size="6.6" text-anchor="middle" fill="#333" font-weight="normal" transform="rotate(-90 66.8 967.5)" dominant-baseline="central" stroke="#333" stroke-width="0.2">2</text>
<line x1="74.3" y1="925.6" x2="78.3" y2="925.6" stroke="#555" stroke-width="0.9" />
<text x="66.8" y="925.6" font-family='"Liberation Sans", sans-serif' font-size="6.6" text-anchor="middle" fill="#333" font-weight="normal" transform="rotate(-90 66.8 925.6)" dominant-baseline="central" stroke="#333" stroke-width="0.2">4</text>
<line x1="74.3" y1="883.7" x2="78.3" y2="883.7" stroke="#555" stroke-width="0.9" />
<text x="66.8" y="883.7" font-family='"Liberation Sans", sans-serif' font-size="6.6" text-anchor="middle" fill="#333" font-weight="normal" transform="rotate(-90 66.8 883.7)" dominant-baseline="central" stroke="#333" stroke-width="0.2">6</text>
<line x1="74.3" y1="841.8" x2="78.3" y2="841.8" stroke="#555" stroke-width="0.9" />
<text x="66.8" y="841.8" font-family='"Liberation Sans", sans-serif' font-size="6.6" text-anchor="middle" fill="#333" font-weight="normal" transform="rotate(-90 66.8 841.8)" dominant-baseline="central" stroke="#333" stroke-width="0.2">8</text>
<line x1="133.5" y1="1016.5" x2="133.5" y2="1020.5" stroke="#555" stroke-width="0.9" />
<polyline points="116.7,836.8 116.7,829.4 150.1,829.4 150.1,849.9" fill="none" stroke="#777" stroke-width="0.9"/>
<polygon points="133.5,827.6 134.11,829.06 135.69,829.19 134.48,830.22 134.85,831.76 133.5,830.93 132.15,831.76 132.52,830.22 131.31,829.19 132.89,829.06" fill="#F01818"/>
<g transform="matrix(1.0027,0,0,1.0200,-0.241,-20.719)"><text x="133.8" y="1032.1" font-family='"Liberation Serif", serif' font-size="7.0" text-anchor="middle" fill="#111" font-weight="normal" stroke="#111" stroke-width="0.12">HNSC</text></g>
<g transform="matrix(1.0176,0,0,0.9962,-2.353,3.109)"><text x="133.8" y="1040.8" font-family='"Liberation Serif", serif' font-size="7.0" text-anchor="middle" fill="#111" font-weight="normal" stroke="#111" stroke-width="0.12">(num(T)=519; num(N)=44)</text></g>
<g transform="matrix(0.9212,0,0,0.9959,6.261,3.354)"><text x="51.5" y="918.7" font-family='"Liberation Serif", serif' font-size="8.6" text-anchor="middle" fill="#111" font-weight="normal" transform="rotate(-90 51.5 918.7)" stroke="#111" stroke-width="0.2">Expression &#8211;log<tspan font-size="70%" dy="1.8">2</tspan><tspan dy="-1.8">(TPM+1)</tspan></text></g>
<g transform="matrix(0.7135,0,0,0.8923,13.334,88.769)"><text x="47.6" y="827.6" font-family='"Liberation Sans", sans-serif' font-size="17" text-anchor="start" fill="#111" font-weight="normal" stroke="#111" stroke-width="0.55">a</text></g>
<line x1="264.8" y1="146.94" x2="264.8" y2="243.3" stroke="#333" stroke-width="1.0" />
<line x1="256.4" y1="146.94" x2="273.2" y2="146.94" stroke="#333" stroke-width="1.4" />
<rect x="247.2" y="214.45" width="35.1" height="22.5" fill="#FE6565" stroke="#1a1a1a" stroke-width="1.1"/>
<line x1="247.2" y1="230.61" x2="282.3" y2="230.61" stroke="#6a2222" stroke-width="1.5" />
<circle cx="264.8" cy="147.06" r="1.35" fill="#000"/>
<circle cx="264.8" cy="166.91" r="1.35" fill="#000"/>
<circle cx="264.8" cy="187.68" r="1.35" fill="#000"/>
<circle cx="264.8" cy="192.29" r="1.35" fill="#000"/>
<circle cx="264.8" cy="204.76" r="1.35" fill="#000"/>
<circle cx="264.8" cy="208.68" r="1.35" fill="#000"/>
<circle cx="264.8" cy="216.53" r="1.35" fill="#000"/>
<circle cx="264.8" cy="220.57" r="1.35" fill="#000"/>
<circle cx="264.8" cy="223.45" r="1.35" fill="#000"/>
<circle cx="264.8" cy="224.84" r="1.35" fill="#000"/>
<circle cx="264.8" cy="226.45" r="1.35" fill="#000"/>
<circle cx="264.8" cy="229.34" r="1.35" fill="#000"/>
<circle cx="264.8" cy="230.61" r="1.35" fill="#000"/>
<circle cx="264.8" cy="231.76" r="1.35" fill="#000"/>
<circle cx="264.8" cy="233.38" r="1.35" fill="#000"/>
<circle cx="264.8" cy="235.8" r="1.35" fill="#000"/>
<circle cx="264.8" cy="237.53" r="1.35" fill="#000"/>
<circle cx="264.8" cy="239.26" r="1.35" fill="#000"/>
<circle cx="264.8" cy="242.84" r="1.35" fill="#000"/>
<circle cx="264.8" cy="243.3" r="1.35" fill="#000"/>
<line x1="317.8" y1="81.74" x2="317.8" y2="243.3" stroke="#333" stroke-width="1.0" />
<line x1="309.4" y1="81.74" x2="326.2" y2="81.74" stroke="#333" stroke-width="1.4" />
<rect x="300.1" y="109.44" width="35.4" height="128.09" fill="#7F7F7F" stroke="#1a1a1a" stroke-width="1.1"/>
<line x1="300.1" y1="221.95" x2="335.5" y2="221.95" stroke="#1a1a1a" stroke-width="1.5" />
<circle cx="317.8" cy="81.74" r="1.35" fill="#000"/>
<circle cx="317.8" cy="89.82" r="1.35" fill="#000"/>
<circle cx="317.8" cy="92.13" r="1.35" fill="#000"/>
<circle cx="317.8" cy="94.43" r="1.35" fill="#000"/>
<circle cx="317.8" cy="97.9" r="1.35" fill="#000"/>
<circle cx="317.8" cy="102.97" r="1.35" fill="#000"/>
<circle cx="317.8" cy="110.59" r="1.35" fill="#000"/>
<circle cx="317.8" cy="118.67" r="1.35" fill="#000"/>
<circle cx="317.8" cy="125.59" r="1.35" fill="#000"/>
<circle cx="317.8" cy="135.98" r="1.35" fill="#000"/>
<circle cx="317.8" cy="206.37" r="1.35" fill="#000"/>
<circle cx="317.8" cy="207.53" r="1.35" fill="#000"/>
<circle cx="317.8" cy="221.84" r="1.35" fill="#000"/>
<circle cx="317.8" cy="223.68" r="1.35" fill="#000"/>
<circle cx="317.8" cy="225.99" r="1.35" fill="#000"/>
<circle cx="317.8" cy="228.3" r="1.35" fill="#000"/>
<circle cx="317.8" cy="231.07" r="1.35" fill="#000"/>
<circle cx="317.8" cy="236.95" r="1.35" fill="#000"/>
<circle cx="317.8" cy="238.68" r="1.35" fill="#000"/>
<circle cx="317.8" cy="240.99" r="1.35" fill="#000"/>
<circle cx="317.8" cy="242.15" r="1.35" fill="#000"/>
<circle cx="317.8" cy="243.3" r="1.35" fill="#000"/>
<rect x="228.6" y="58.3" width="124.7" height="185" fill="none" stroke="#222" stroke-width="1.2"/>
<line x1="222.1" y1="243.3" x2="228.6" y2="243.3" stroke="#222" stroke-width="1.3" />
<line x1="222.1" y1="243.3" x2="228.6" y2="243.3" stroke="#222" stroke-width="1.2" />
<text x="220.3" y="245.6" font-family='"Liberation Sans", sans-serif' font-size="6.4" text-anchor="end" fill="#222" font-weight="bold" >0</text>
<line x1="222.1" y1="220.22" x2="228.6" y2="220.22" stroke="#222" stroke-width="1.2" />
<text x="220.3" y="222.52" font-family='"Liberation Sans", sans-serif' font-size="6.4" text-anchor="end" fill="#222" font-weight="bold" >2</text>
<line x1="222.1" y1="197.14" x2="228.6" y2="197.14" stroke="#222" stroke-width="1.2" />
<text x="220.3" y="199.44" font-family='"Liberation Sans", sans-serif' font-size="6.4" text-anchor="end" fill="#222" font-weight="bold" >4</text>
<line x1="222.1" y1="174.06" x2="228.6" y2="174.06" stroke="#222" stroke-width="1.2" />
<text x="220.3" y="176.36" font-family='"Liberation Sans", sans-serif' font-size="6.4" text-anchor="end" fill="#222" font-weight="bold" >6</text>
<line x1="222.1" y1="150.98" x2="228.6" y2="150.98" stroke="#222" stroke-width="1.2" />
<text x="220.3" y="153.28" font-family='"Liberation Sans", sans-serif' font-size="6.4" text-anchor="end" fill="#222" font-weight="bold" >8</text>
<line x1="222.1" y1="127.9" x2="228.6" y2="127.9" stroke="#222" stroke-width="1.2" />
<text x="220.3" y="130.2" font-family='"Liberation Sans", sans-serif' font-size="6.4" text-anchor="end" fill="#222" font-weight="bold" >10</text>
<line x1="226.8" y1="104.82" x2="228.6" y2="104.82" stroke="#333" stroke-width="1.0" />
<line x1="226.8" y1="81.74" x2="228.6" y2="81.74" stroke="#333" stroke-width="1.0" />
<line x1="226.8" y1="58.66" x2="228.6" y2="58.66" stroke="#333" stroke-width="1.0" />
<polyline points="262.4,134.6 262.4,73.2 286.4,73.2" fill="none" stroke="#555" stroke-width="1"/>
<polyline points="295.6,73.2 318,73.2 318,76.2" fill="none" stroke="#555" stroke-width="1"/>
<line x1="291" y1="73.1" x2="291" y2="77.9" stroke="#E04848" stroke-width="1.3" stroke-linecap="round"/>
<line x1="293.08" y1="74.3" x2="288.92" y2="76.7" stroke="#E04848" stroke-width="1.3" stroke-linecap="round"/>
<line x1="293.08" y1="76.7" x2="288.92" y2="74.3" stroke="#E04848" stroke-width="1.3" stroke-linecap="round"/>
<line x1="290.5" y1="58.9" x2="290.5" y2="60.5" stroke="#E05050" stroke-width="0.8" />
<g transform="matrix(1.0780,0,0,1.0667,-22.057,-17.307)"><text x="283.6" y="259.1" font-family='"Liberation Serif", serif' font-size="7.0" text-anchor="middle" fill="#111" font-weight="normal" stroke="#111" stroke-width="0.12">OSCC</text></g>
<g transform="matrix(1.0294,0,0,0.9358,-8.324,16.259)"><text x="283.6" y="267.8" font-family='"Liberation Serif", serif' font-size="7.0" text-anchor="middle" fill="#111" font-weight="normal" stroke="#111" stroke-width="0.12">(num(T)=30; num(N)=26)</text></g>
<g transform="matrix(0.9212,0,0,0.9893,17.879,2.319)"><text x="205.2" y="152" font-family='"Liberation Serif", serif' font-size="8.6" text-anchor="middle" fill="#111" font-weight="normal" transform="rotate(-90 205.2 152)" stroke="#111" stroke-width="0.2">Expression &#8211;log<tspan font-size="70%" dy="1.8">2</tspan><tspan dy="-1.8">(TPM+1)</tspan></text></g>
<g transform="matrix(1.0250,0,0,1.0196,-6.077,-1.578)"><text x="198.2" y="61" font-family='"Liberation Sans", sans-serif' font-size="17" text-anchor="start" fill="#111" font-weight="normal" stroke="#111" stroke-width="0.3">b</text></g>
<line x1="597.4" y1="180.06" x2="597.4" y2="241.4" stroke="#333" stroke-width="1.0" />
<line x1="589" y1="180.06" x2="605.8" y2="180.06" stroke="#333" stroke-width="1.4" />
<rect x="580.4" y="221.9" width="33.4" height="18.54" fill="#FE6565" stroke="#1a1a1a" stroke-width="1.1"/>
<line x1="580.4" y1="239.31" x2="613.8" y2="239.31" stroke="#6a2222" stroke-width="1.5" />
<circle cx="597.4" cy="180.06" r="1.35" fill="#000"/>
<circle cx="597.4" cy="194.61" r="1.35" fill="#000"/>
<circle cx="597.4" cy="208.31" r="1.35" fill="#000"/>
<circle cx="597.4" cy="216.29" r="1.35" fill="#000"/>
<circle cx="597.4" cy="217.91" r="1.35" fill="#000"/>
<circle cx="597.4" cy="219.53" r="1.35" fill="#000"/>
<circle cx="597.4" cy="222.67" r="1.35" fill="#000"/>
<circle cx="597.4" cy="224.28" r="1.35" fill="#000"/>
<circle cx="597.4" cy="227.13" r="1.35" fill="#000"/>
<circle cx="597.4" cy="229.04" r="1.35" fill="#000"/>
<circle cx="597.4" cy="231.89" r="1.35" fill="#000"/>
<circle cx="597.4" cy="233.79" r="1.35" fill="#000"/>
<circle cx="597.4" cy="235.69" r="1.35" fill="#000"/>
<circle cx="597.4" cy="237.6" r="1.35" fill="#000"/>
<circle cx="597.4" cy="239.5" r="1.35" fill="#000"/>
<circle cx="597.4" cy="241.4" r="1.35" fill="#000"/>
<line x1="647" y1="89.24" x2="647" y2="241.4" stroke="#333" stroke-width="1.0" />
<line x1="638.6" y1="89.24" x2="655.4" y2="89.24" stroke="#333" stroke-width="1.4" />
<rect x="630.6" y="131.08" width="33.9" height="110.32" fill="#7F7F7F" stroke="#1a1a1a" stroke-width="1.1"/>
<line x1="630.6" y1="216.67" x2="664.5" y2="216.67" stroke="#1a1a1a" stroke-width="1.5" />
<circle cx="647" cy="89.24" r="1.35" fill="#000"/>
<circle cx="647" cy="100.65" r="1.35" fill="#000"/>
<circle cx="647" cy="110.16" r="1.35" fill="#000"/>
<circle cx="647" cy="113.02" r="1.35" fill="#000"/>
<circle cx="647" cy="119.67" r="1.35" fill="#000"/>
<circle cx="647" cy="131.08" r="1.35" fill="#000"/>
<circle cx="647" cy="139.64" r="1.35" fill="#000"/>
<circle cx="647" cy="144.4" r="1.35" fill="#000"/>
<circle cx="647" cy="186.24" r="1.35" fill="#000"/>
<circle cx="647" cy="190.05" r="1.35" fill="#000"/>
<circle cx="647" cy="208.59" r="1.35" fill="#000"/>
<circle cx="647" cy="214.77" r="1.35" fill="#000"/>
<circle cx="647" cy="217.15" r="1.35" fill="#000"/>
<circle cx="647" cy="218.58" r="1.35" fill="#000"/>
<circle cx="647" cy="226.18" r="1.35" fill="#000"/>
<circle cx="647" cy="233.79" r="1.35" fill="#000"/>
<circle cx="647" cy="234.74" r="1.35" fill="#000"/>
<circle cx="647" cy="241.4" r="1.35" fill="#000"/>
<rect x="563.6" y="61" width="117.4" height="180.4" fill="none" stroke="#222" stroke-width="1.2"/>
<line x1="557.1" y1="241.4" x2="563.6" y2="241.4" stroke="#222" stroke-width="1.3" />
<line x1="557.1" y1="241.4" x2="563.6" y2="241.4" stroke="#222" stroke-width="1.2" />
<text x="555.3" y="243.7" font-family='"Liberation Sans", sans-serif' font-size="6.4" text-anchor="end" fill="#222" font-weight="bold" >0</text>
<line x1="557.1" y1="222.38" x2="563.6" y2="222.38" stroke="#222" stroke-width="1.2" />
<text x="555.3" y="224.68" font-family='"Liberation Sans", sans-serif' font-size="6.4" text-anchor="end" fill="#222" font-weight="bold" >2</text>
<line x1="557.1" y1="203.36" x2="563.6" y2="203.36" stroke="#222" stroke-width="1.2" />
<text x="555.3" y="205.66" font-family='"Liberation Sans", sans-serif' font-size="6.4" text-anchor="end" fill="#222" font-weight="bold" >4</text>
<line x1="557.1" y1="184.34" x2="563.6" y2="184.34" stroke="#222" stroke-width="1.2" />
<text x="555.3" y="186.64" font-family='"Liberation Sans", sans-serif' font-size="6.4" text-anchor="end" fill="#222" font-weight="bold" >6</text>
<line x1="557.1" y1="165.32" x2="563.6" y2="165.32" stroke="#222" stroke-width="1.2" />
<text x="555.3" y="167.62" font-family='"Liberation Sans", sans-serif' font-size="6.4" text-anchor="end" fill="#222" font-weight="bold" >8</text>
<line x1="557.1" y1="146.3" x2="563.6" y2="146.3" stroke="#222" stroke-width="1.2" />
<text x="555.3" y="148.6" font-family='"Liberation Sans", sans-serif' font-size="6.4" text-anchor="end" fill="#222" font-weight="bold" >10</text>
<line x1="557.1" y1="127.28" x2="563.6" y2="127.28" stroke="#222" stroke-width="1.2" />
<text x="555.3" y="129.58" font-family='"Liberation Sans", sans-serif' font-size="6.4" text-anchor="end" fill="#222" font-weight="bold" >12</text>
<line x1="557.1" y1="108.26" x2="563.6" y2="108.26" stroke="#222" stroke-width="1.2" />
<text x="555.3" y="110.56" font-family='"Liberation Sans", sans-serif' font-size="6.4" text-anchor="end" fill="#222" font-weight="bold" >14</text>
<line x1="561.8" y1="89.24" x2="563.6" y2="89.24" stroke="#333" stroke-width="1.0" />
<line x1="561.8" y1="70.22" x2="563.6" y2="70.22" stroke="#333" stroke-width="1.0" />
<polyline points="597.4,172 597.4,76.7 618.1,76.7" fill="none" stroke="#555" stroke-width="1"/>
<polyline points="627.3,76.7 647,76.7 647,82" fill="none" stroke="#555" stroke-width="1"/>
<line x1="622.7" y1="74.6" x2="622.7" y2="79.4" stroke="#E04848" stroke-width="1.3" stroke-linecap="round"/>
<line x1="624.78" y1="75.8" x2="620.62" y2="78.2" stroke="#E04848" stroke-width="1.3" stroke-linecap="round"/>
<line x1="624.78" y1="78.2" x2="620.62" y2="75.8" stroke="#E04848" stroke-width="1.3" stroke-linecap="round"/>
<g transform="matrix(1.0780,0,0,1.0667,-48.223,-17.273)"><text x="619" y="258.6" font-family='"Liberation Serif", serif' font-size="7.0" text-anchor="middle" fill="#111" font-weight="normal" stroke="#111" stroke-width="0.12">OSCC</text></g>
<g transform="matrix(1.0294,0,0,0.9358,-18.169,16.272)"><text x="619" y="268" font-family='"Liberation Serif", serif' font-size="7.0" text-anchor="middle" fill="#111" font-weight="normal" stroke="#111" stroke-width="0.12">(num(T)=30; num(N)=26)</text></g>
<g transform="matrix(0.9212,0,0,0.9895,44.838,2.092)"><text x="537.9" y="152" font-family='"Liberation Serif", serif' font-size="8.6" text-anchor="middle" fill="#111" font-weight="normal" transform="rotate(-90 537.9 152)" stroke="#111" stroke-width="0.2">Expression &#8211;log<tspan font-size="70%" dy="1.8">2</tspan><tspan dy="-1.8">(TPM+1)</tspan></text></g>
<g transform="matrix(0.9778,0,0,1.0039,11.102,-0.604)"><text x="542.5" y="64.5" font-family='"Liberation Sans", sans-serif' font-size="17" text-anchor="start" fill="#111" font-weight="normal" stroke="#111" stroke-width="0.3">b</text></g>
<line x1="264.9" y1="464" x2="264.9" y2="501.2" stroke="#777" stroke-width="1.0" />
<line x1="256.5" y1="464" x2="273.3" y2="464" stroke="#333" stroke-width="1.4" />
<rect x="247.5" y="492.37" width="35" height="8.37" fill="#FE6565" stroke="#1a1a1a" stroke-width="1.1"/>
<line x1="247.5" y1="500.43" x2="282.5" y2="500.43" stroke="#6a2222" stroke-width="1.5" />
<circle cx="264.9" cy="464" r="1.35" fill="#000"/>
<circle cx="264.9" cy="468.96" r="1.35" fill="#000"/>
<circle cx="264.9" cy="482.13" r="1.35" fill="#000"/>
<circle cx="264.9" cy="484.15" r="1.35" fill="#000"/>
<circle cx="264.9" cy="486.01" r="1.35" fill="#000"/>
<circle cx="264.9" cy="487.87" r="1.35" fill="#000"/>
<circle cx="264.9" cy="492.99" r="1.35" fill="#000"/>
<circle cx="264.9" cy="495" r="1.35" fill="#000"/>
<circle cx="264.9" cy="496.55" r="1.35" fill="#000"/>
<circle cx="264.9" cy="498.1" r="1.35" fill="#000"/>
<circle cx="264.9" cy="499.65" r="1.35" fill="#000"/>
<circle cx="264.9" cy="501.2" r="1.35" fill="#000"/>
<line x1="317.9" y1="353.64" x2="317.9" y2="499.5" stroke="#777" stroke-width="1.0" />
<line x1="309.5" y1="353.64" x2="326.3" y2="353.64" stroke="#333" stroke-width="1.4" />
<line x1="309.5" y1="499.5" x2="326.3" y2="499.5" stroke="#444" stroke-width="1.3" />
<rect x="300.3" y="398.12" width="35.5" height="46.96" fill="#7F7F7F" stroke="#1a1a1a" stroke-width="1.1"/>
<line x1="300.3" y1="417.19" x2="335.8" y2="417.19" stroke="#1a1a1a" stroke-width="1.5" />
<circle cx="317.9" cy="353.64" r="1.35" fill="#000"/>
<circle cx="317.9" cy="373.63" r="1.35" fill="#000"/>
<circle cx="317.9" cy="390.06" r="1.35" fill="#000"/>
<circle cx="317.9" cy="391.15" r="1.35" fill="#000"/>
<circle cx="317.9" cy="392.08" r="1.35" fill="#000"/>
<circle cx="317.9" cy="399.37" r="1.35" fill="#000"/>
<circle cx="317.9" cy="406.65" r="1.35" fill="#000"/>
<circle cx="317.9" cy="408.82" r="1.35" fill="#000"/>
<circle cx="317.9" cy="413.94" r="1.35" fill="#000"/>
<circle cx="317.9" cy="415.33" r="1.35" fill="#000"/>
<circle cx="317.9" cy="420.44" r="1.35" fill="#000"/>
<circle cx="317.9" cy="428.35" r="1.35" fill="#000"/>
<circle cx="317.9" cy="429.12" r="1.35" fill="#000"/>
<circle cx="317.9" cy="434.24" r="1.35" fill="#000"/>
<circle cx="317.9" cy="439.2" r="1.35" fill="#000"/>
<circle cx="317.9" cy="445.09" r="1.35" fill="#000"/>
<circle cx="317.9" cy="446.95" r="1.35" fill="#000"/>
<circle cx="317.9" cy="448.03" r="1.35" fill="#000"/>
<circle cx="317.9" cy="456.71" r="1.35" fill="#000"/>
<circle cx="317.9" cy="475.16" r="1.35" fill="#000"/>
<circle cx="317.9" cy="499.5" r="1.35" fill="#000"/>
<rect x="229.9" y="315" width="123.5" height="186.2" fill="none" stroke="#222" stroke-width="1.2"/>
<line x1="223.4" y1="501.2" x2="229.9" y2="501.2" stroke="#222" stroke-width="1.3" />
<line x1="223.4" y1="501.2" x2="229.9" y2="501.2" stroke="#222" stroke-width="1.2" />
<text x="221.6" y="503.5" font-family='"Liberation Sans", sans-serif' font-size="6.4" text-anchor="end" fill="#222" font-weight="bold" >0</text>
<line x1="223.4" y1="470.2" x2="229.9" y2="470.2" stroke="#222" stroke-width="1.2" />
<text x="221.6" y="472.5" font-family='"Liberation Sans", sans-serif' font-size="6.4" text-anchor="end" fill="#222" font-weight="bold" >2</text>
<line x1="223.4" y1="439.2" x2="229.9" y2="439.2" stroke="#222" stroke-width="1.2" />
<text x="221.6" y="441.5" font-family='"Liberation Sans", sans-serif' font-size="6.4" text-anchor="end" fill="#222" font-weight="bold" >4</text>
<line x1="223.4" y1="408.2" x2="229.9" y2="408.2" stroke="#222" stroke-width="1.2" />
<text x="221.6" y="410.5" font-family='"Liberation Sans", sans-serif' font-size="6.4" text-anchor="end" fill="#222" font-weight="bold" >6</text>
<line x1="223.4" y1="377.2" x2="229.9" y2="377.2" stroke="#222" stroke-width="1.2" />
<text x="221.6" y="379.5" font-family='"Liberation Sans", sans-serif' font-size="6.4" text-anchor="end" fill="#222" font-weight="bold" >8</text>
<line x1="228.1" y1="346.2" x2="229.9" y2="346.2" stroke="#333" stroke-width="1.0" />
<polyline points="263.6,442.9 263.6,340.4 287.1,340.4" fill="none" stroke="#555" stroke-width="1"/>
<polyline points="296.3,340.4 318,340.4 318,345.7" fill="none" stroke="#555" stroke-width="1"/>
<line x1="291.7" y1="338" x2="291.7" y2="342.8" stroke="#E04848" stroke-width="1.3" stroke-linecap="round"/>
<line x1="293.78" y1="339.2" x2="289.62" y2="341.6" stroke="#E04848" stroke-width="1.3" stroke-linecap="round"/>
<line x1="293.78" y1="341.6" x2="289.62" y2="339.2" stroke="#E04848" stroke-width="1.3" stroke-linecap="round"/>
<g transform="matrix(1.0780,0,0,1.0667,-22.611,-34.580)"><text x="290.7" y="518.2" font-family='"Liberation Serif", serif' font-size="7.0" text-anchor="middle" fill="#111" font-weight="normal" stroke="#111" stroke-width="0.12">OSCC</text></g>
<g transform="matrix(1.0294,0,0,0.9358,-8.532,32.912)"><text x="290.7" y="527.4" font-family='"Liberation Serif", serif' font-size="7.0" text-anchor="middle" fill="#111" font-weight="normal" stroke="#111" stroke-width="0.12">(num(T)=30; num(N)=26)</text></g>
<g transform="matrix(0.9212,0,0,0.9873,18.458,6.289)"><text x="206.3" y="407.4" font-family='"Liberation Serif", serif' font-size="8.6" text-anchor="middle" fill="#111" font-weight="normal" transform="rotate(-90 206.3 407.4)" stroke="#111" stroke-width="0.2">Expression &#8211;log<tspan font-size="70%" dy="1.8">2</tspan><tspan dy="-1.8">(TPM+1)</tspan></text></g>
<g transform="matrix(1.0750,0,0,0.9255,-15.874,22.983)"><text x="198.4" y="312.8" font-family='"Liberation Sans", sans-serif' font-size="17" text-anchor="start" fill="#111" font-weight="normal" stroke="#111" stroke-width="0.3">b</text></g>
<line x1="597.6" y1="450.24" x2="597.6" y2="496.9" stroke="#333" stroke-width="1.0" />
<line x1="589.2" y1="450.24" x2="606" y2="450.24" stroke="#333" stroke-width="1.4" />
<rect x="581.4" y="477.46" width="32.6" height="19.44" fill="#FE6565" stroke="#1a1a1a" stroke-width="1.1"/>
<line x1="581.4" y1="486.53" x2="614" y2="486.53" stroke="#6a2222" stroke-width="1.5" />
<circle cx="597.6" cy="450.24" r="1.35" fill="#000"/>
<circle cx="597.6" cy="460.09" r="1.35" fill="#000"/>
<circle cx="597.6" cy="467.35" r="1.35" fill="#000"/>
<circle cx="597.6" cy="468.39" r="1.35" fill="#000"/>
<circle cx="597.6" cy="471.76" r="1.35" fill="#000"/>
<circle cx="597.6" cy="473.96" r="1.35" fill="#000"/>
<circle cx="597.6" cy="478.37" r="1.35" fill="#000"/>
<circle cx="597.6" cy="483.55" r="1.35" fill="#000"/>
<circle cx="597.6" cy="487.05" r="1.35" fill="#000"/>
<circle cx="597.6" cy="492.23" r="1.35" fill="#000"/>
<circle cx="597.6" cy="495.6" r="1.35" fill="#000"/>
<circle cx="597.6" cy="496.9" r="1.35" fill="#000"/>
<line x1="647.2" y1="338.14" x2="647.2" y2="496.9" stroke="#333" stroke-width="1.0" />
<line x1="638.8" y1="338.14" x2="655.6" y2="338.14" stroke="#333" stroke-width="1.4" />
<rect x="630.4" y="368.6" width="33.5" height="106.92" fill="#7F7F7F" stroke="#1a1a1a" stroke-width="1.1"/>
<line x1="630.4" y1="458.02" x2="663.9" y2="458.02" stroke="#1a1a1a" stroke-width="1.5" />
<circle cx="647.2" cy="338.14" r="1.35" fill="#000"/>
<circle cx="647.2" cy="349.93" r="1.35" fill="#000"/>
<circle cx="647.2" cy="356.93" r="1.35" fill="#000"/>
<circle cx="647.2" cy="360.82" r="1.35" fill="#000"/>
<circle cx="647.2" cy="367.95" r="1.35" fill="#000"/>
<circle cx="647.2" cy="394.13" r="1.35" fill="#000"/>
<circle cx="647.2" cy="422.9" r="1.35" fill="#000"/>
<circle cx="647.2" cy="434.3" r="1.35" fill="#000"/>
<circle cx="647.2" cy="448.04" r="1.35" fill="#000"/>
<circle cx="647.2" cy="455.43" r="1.35" fill="#000"/>
<circle cx="647.2" cy="460.09" r="1.35" fill="#000"/>
<circle cx="647.2" cy="461.91" r="1.35" fill="#000"/>
<circle cx="647.2" cy="463.85" r="1.35" fill="#000"/>
<circle cx="647.2" cy="467.35" r="1.35" fill="#000"/>
<circle cx="647.2" cy="470.98" r="1.35" fill="#000"/>
<circle cx="647.2" cy="473.57" r="1.35" fill="#000"/>
<circle cx="647.2" cy="476.16" r="1.35" fill="#000"/>
<circle cx="647.2" cy="480.44" r="1.35" fill="#000"/>
<circle cx="647.2" cy="483.55" r="1.35" fill="#000"/>
<circle cx="647.2" cy="486.4" r="1.35" fill="#000"/>
<circle cx="647.2" cy="490.81" r="1.35" fill="#000"/>
<circle cx="647.2" cy="496.9" r="1.35" fill="#000"/>
<rect x="564.1" y="315.4" width="116.6" height="181.5" fill="none" stroke="#222" stroke-width="1.2"/>
<line x1="557.6" y1="496.9" x2="564.1" y2="496.9" stroke="#222" stroke-width="1.3" />
<line x1="557.6" y1="496.9" x2="564.1" y2="496.9" stroke="#222" stroke-width="1.2" />
<text x="555.8" y="499.2" font-family='"Liberation Sans", sans-serif' font-size="6.4" text-anchor="end" fill="#222" font-weight="bold" >0</text>
<line x1="557.6" y1="470.98" x2="564.1" y2="470.98" stroke="#222" stroke-width="1.2" />
<text x="555.8" y="473.28" font-family='"Liberation Sans", sans-serif' font-size="6.4" text-anchor="end" fill="#222" font-weight="bold" >2</text>
<line x1="557.6" y1="445.06" x2="564.1" y2="445.06" stroke="#222" stroke-width="1.2" />
<text x="555.8" y="447.36" font-family='"Liberation Sans", sans-serif' font-size="6.4" text-anchor="end" fill="#222" font-weight="bold" >4</text>
<line x1="557.6" y1="419.14" x2="564.1" y2="419.14" stroke="#222" stroke-width="1.2" />
<text x="555.8" y="421.44" font-family='"Liberation Sans", sans-serif' font-size="6.4" text-anchor="end" fill="#222" font-weight="bold" >6</text>
<line x1="557.6" y1="393.22" x2="564.1" y2="393.22" stroke="#222" stroke-width="1.2" />
<text x="555.8" y="395.52" font-family='"Liberation Sans", sans-serif' font-size="6.4" text-anchor="end" fill="#222" font-weight="bold" >8</text>
<line x1="557.6" y1="367.3" x2="564.1" y2="367.3" stroke="#222" stroke-width="1.2" />
<text x="555.8" y="369.6" font-family='"Liberation Sans", sans-serif' font-size="6.4" text-anchor="end" fill="#222" font-weight="bold" >10</text>
<line x1="557.6" y1="341.38" x2="564.1" y2="341.38" stroke="#222" stroke-width="1.2" />
<text x="555.8" y="343.68" font-family='"Liberation Sans", sans-serif' font-size="6.4" text-anchor="end" fill="#222" font-weight="bold" >12</text>
<polyline points="597.6,436.1 597.6,328.7 617.6,328.7" fill="none" stroke="#555" stroke-width="1"/>
<polyline points="626.8,328.7 647.2,328.7 647.2,333" fill="none" stroke="#555" stroke-width="1"/>
<line x1="622.2" y1="327" x2="622.2" y2="331.8" stroke="#E04848" stroke-width="1.3" stroke-linecap="round"/>
<line x1="624.28" y1="328.2" x2="620.12" y2="330.6" stroke="#E04848" stroke-width="1.3" stroke-linecap="round"/>
<line x1="624.28" y1="330.6" x2="620.12" y2="328.2" stroke="#E04848" stroke-width="1.3" stroke-linecap="round"/>
<line x1="622.4" y1="316" x2="622.4" y2="317.6" stroke="#E05050" stroke-width="0.8" />
<g transform="matrix(1.0780,0,0,1.0667,-48.426,-34.320)"><text x="621.6" y="514.3" font-family='"Liberation Serif", serif' font-size="7.0" text-anchor="middle" fill="#111" font-weight="normal" stroke="#111" stroke-width="0.12">OSCC</text></g>
<g transform="matrix(1.0294,0,0,0.9358,-18.245,32.630)"><text x="621.6" y="523" font-family='"Liberation Serif", serif' font-size="7.0" text-anchor="middle" fill="#111" font-weight="normal" stroke="#111" stroke-width="0.12">(num(T)=30; num(N)=26)</text></g>
<g transform="matrix(0.9212,0,0,0.9917,44.852,3.995)"><text x="541.2" y="407.7" font-family='"Liberation Serif", serif' font-size="8.6" text-anchor="middle" fill="#111" font-weight="normal" transform="rotate(-90 541.2 407.7)" stroke="#111" stroke-width="0.2">Expression &#8211;log<tspan font-size="70%" dy="1.8">2</tspan><tspan dy="-1.8">(TPM+1)</tspan></text></g>
<g transform="matrix(1.1048,0,0,1.0902,-57.366,-29.146)"><text x="537.3" y="318" font-family='"Liberation Sans", sans-serif' font-size="17" text-anchor="start" fill="#111" font-weight="normal" stroke="#111" stroke-width="0.3">b</text></g>
<line x1="261.6" y1="699.05" x2="261.6" y2="757.6" stroke="#333" stroke-width="1.0" />
<line x1="253.2" y1="699.05" x2="270" y2="699.05" stroke="#333" stroke-width="1.4" />
<rect x="244" y="721.52" width="35.8" height="25.03" fill="#FE6565" stroke="#1a1a1a" stroke-width="1.1"/>
<line x1="244" y1="737.81" x2="279.8" y2="737.81" stroke="#6a2222" stroke-width="1.5" />
<circle cx="261.6" cy="699.05" r="1.35" fill="#000"/>
<circle cx="261.6" cy="712.55" r="1.35" fill="#000"/>
<circle cx="261.6" cy="714.53" r="1.35" fill="#000"/>
<circle cx="261.6" cy="717.09" r="1.35" fill="#000"/>
<circle cx="261.6" cy="721.05" r="1.35" fill="#000"/>
<circle cx="261.6" cy="728.73" r="1.35" fill="#000"/>
<circle cx="261.6" cy="730.83" r="1.35" fill="#000"/>
<circle cx="261.6" cy="733.16" r="1.35" fill="#000"/>
<circle cx="261.6" cy="735.48" r="1.35" fill="#000"/>
<circle cx="261.6" cy="737.23" r="1.35" fill="#000"/>
<circle cx="261.6" cy="738.98" r="1.35" fill="#000"/>
<circle cx="261.6" cy="740.72" r="1.35" fill="#000"/>
<circle cx="261.6" cy="742.47" r="1.35" fill="#000"/>
<circle cx="261.6" cy="744.21" r="1.35" fill="#000"/>
<circle cx="261.6" cy="745.96" r="1.35" fill="#000"/>
<circle cx="261.6" cy="747.71" r="1.35" fill="#000"/>
<circle cx="261.6" cy="749.45" r="1.35" fill="#000"/>
<circle cx="261.6" cy="751.78" r="1.35" fill="#000"/>
<circle cx="261.6" cy="754.11" r="1.35" fill="#000"/>
<circle cx="261.6" cy="756.44" r="1.35" fill="#000"/>
<circle cx="261.6" cy="757.6" r="1.35" fill="#000"/>
<line x1="316.2" y1="597.67" x2="316.2" y2="757.6" stroke="#333" stroke-width="1.0" />
<line x1="307.8" y1="597.67" x2="324.6" y2="597.67" stroke="#333" stroke-width="1.4" />
<rect x="298.6" y="625.49" width="35.7" height="84.97" fill="#7F7F7F" stroke="#1a1a1a" stroke-width="1.1"/>
<line x1="298.6" y1="670.3" x2="334.3" y2="670.3" stroke="#1a1a1a" stroke-width="1.5" />
<circle cx="316.2" cy="597.67" r="1.35" fill="#000"/>
<circle cx="316.2" cy="607.68" r="1.35" fill="#000"/>
<circle cx="316.2" cy="610.94" r="1.35" fill="#000"/>
<circle cx="316.2" cy="613.26" r="1.35" fill="#000"/>
<circle cx="316.2" cy="615.36" r="1.35" fill="#000"/>
<circle cx="316.2" cy="619.55" r="1.35" fill="#000"/>
<circle cx="316.2" cy="627" r="1.35" fill="#000"/>
<circle cx="316.2" cy="634.68" r="1.35" fill="#000"/>
<circle cx="316.2" cy="636.19" r="1.35" fill="#000"/>
<circle cx="316.2" cy="640.85" r="1.35" fill="#000"/>
<circle cx="316.2" cy="647.83" r="1.35" fill="#000"/>
<circle cx="316.2" cy="667.04" r="1.35" fill="#000"/>
<circle cx="316.2" cy="668.55" r="1.35" fill="#000"/>
<circle cx="316.2" cy="672.4" r="1.35" fill="#000"/>
<circle cx="316.2" cy="680.89" r="1.35" fill="#000"/>
<circle cx="316.2" cy="682.52" r="1.35" fill="#000"/>
<circle cx="316.2" cy="692.88" r="1.35" fill="#000"/>
<circle cx="316.2" cy="704.75" r="1.35" fill="#000"/>
<circle cx="316.2" cy="706.27" r="1.35" fill="#000"/>
<circle cx="316.2" cy="711.74" r="1.35" fill="#000"/>
<circle cx="316.2" cy="720.24" r="1.35" fill="#000"/>
<circle cx="316.2" cy="740.72" r="1.35" fill="#000"/>
<circle cx="316.2" cy="747.47" r="1.35" fill="#000"/>
<circle cx="316.2" cy="757.6" r="1.35" fill="#000"/>
<rect x="225.4" y="571.8" width="127.4" height="185.8" fill="none" stroke="#222" stroke-width="1.2"/>
<line x1="218.9" y1="757.6" x2="225.4" y2="757.6" stroke="#222" stroke-width="1.3" />
<line x1="218.9" y1="757.6" x2="225.4" y2="757.6" stroke="#222" stroke-width="1.2" />
<text x="217.1" y="759.9" font-family='"Liberation Sans", sans-serif' font-size="6.4" text-anchor="end" fill="#222" font-weight="bold" >0</text>
<line x1="218.9" y1="734.32" x2="225.4" y2="734.32" stroke="#222" stroke-width="1.2" />
<text x="217.1" y="736.62" font-family='"Liberation Sans", sans-serif' font-size="6.4" text-anchor="end" fill="#222" font-weight="bold" >2</text>
<line x1="218.9" y1="711.04" x2="225.4" y2="711.04" stroke="#222" stroke-width="1.2" />
<text x="217.1" y="713.34" font-family='"Liberation Sans", sans-serif' font-size="6.4" text-anchor="end" fill="#222" font-weight="bold" >4</text>
<line x1="218.9" y1="687.76" x2="225.4" y2="687.76" stroke="#222" stroke-width="1.2" />
<text x="217.1" y="690.06" font-family='"Liberation Sans", sans-serif' font-size="6.4" text-anchor="end" fill="#222" font-weight="bold" >6</text>
<line x1="218.9" y1="664.48" x2="225.4" y2="664.48" stroke="#222" stroke-width="1.2" />
<text x="217.1" y="666.78" font-family='"Liberation Sans", sans-serif' font-size="6.4" text-anchor="end" fill="#222" font-weight="bold" >8</text>
<line x1="218.9" y1="641.2" x2="225.4" y2="641.2" stroke="#222" stroke-width="1.2" />
<text x="217.1" y="643.5" font-family='"Liberation Sans", sans-serif' font-size="6.4" text-anchor="end" fill="#222" font-weight="bold" >10</text>
<line x1="223.6" y1="617.92" x2="225.4" y2="617.92" stroke="#333" stroke-width="1.0" />
<line x1="223.6" y1="594.64" x2="225.4" y2="594.64" stroke="#333" stroke-width="1.0" />
<polyline points="260.1,685.2 260.1,587.1 283.3,587.1" fill="none" stroke="#555" stroke-width="1"/>
<polyline points="292.5,587.1 316,587.1 316,592.1" fill="none" stroke="#555" stroke-width="1"/>
<line x1="287.9" y1="586" x2="287.9" y2="590.8" stroke="#E04848" stroke-width="1.3" stroke-linecap="round"/>
<line x1="289.98" y1="587.2" x2="285.82" y2="589.6" stroke="#E04848" stroke-width="1.3" stroke-linecap="round"/>
<line x1="289.98" y1="589.6" x2="285.82" y2="587.2" stroke="#E04848" stroke-width="1.3" stroke-linecap="round"/>
<g transform="matrix(1.0780,0,0,1.0667,-22.057,-51.667)"><text x="283.6" y="774.5" font-family='"Liberation Serif", serif' font-size="7.0" text-anchor="middle" fill="#111" font-weight="normal" stroke="#111" stroke-width="0.12">OSCC</text></g>
<g transform="matrix(1.0294,0,0,0.9358,-8.324,49.290)"><text x="283.6" y="782.7" font-family='"Liberation Serif", serif' font-size="7.0" text-anchor="middle" fill="#111" font-weight="normal" stroke="#111" stroke-width="0.12">(num(T)=30; num(N)=26)</text></g>
<g transform="matrix(0.9212,0,0,0.9783,18.351,13.552)"><text x="198.6" y="666.6" font-family='"Liberation Serif", serif' font-size="8.6" text-anchor="middle" fill="#111" font-weight="normal" transform="rotate(-90 198.6 666.6)" stroke="#111" stroke-width="0.2">Expression &#8211;log<tspan font-size="70%" dy="1.8">2</tspan><tspan dy="-1.8">(TPM+1)</tspan></text></g>
<g transform="matrix(1.0413,0,0,0.9176,-9.162,46.805)"><text x="197.4" y="572.8" font-family='"Liberation Sans", sans-serif' font-size="17" text-anchor="start" fill="#111" font-weight="normal" stroke="#111" stroke-width="0.3">b</text></g>
<line x1="595.7" y1="646.47" x2="595.7" y2="729.92" stroke="#333" stroke-width="1.0" />
<line x1="587.3" y1="646.47" x2="604.1" y2="646.47" stroke="#333" stroke-width="1.4" />
<line x1="587.3" y1="729.92" x2="604.1" y2="729.92" stroke="#444" stroke-width="1.3" />
<rect x="578.5" y="683.53" width="34.2" height="34.13" fill="#FE6565" stroke="#1a1a1a" stroke-width="1.1"/>
<line x1="578.5" y1="696.1" x2="612.7" y2="696.1" stroke="#6a2222" stroke-width="1.5" />
<circle cx="595.7" cy="646.47" r="1.35" fill="#000"/>
<circle cx="595.7" cy="668.67" r="1.35" fill="#000"/>
<circle cx="595.7" cy="670.76" r="1.35" fill="#000"/>
<circle cx="595.7" cy="678.51" r="1.35" fill="#000"/>
<circle cx="595.7" cy="681.02" r="1.35" fill="#000"/>
<circle cx="595.7" cy="683.53" r="1.35" fill="#000"/>
<circle cx="595.7" cy="686.26" r="1.35" fill="#000"/>
<circle cx="595.7" cy="689.4" r="1.35" fill="#000"/>
<circle cx="595.7" cy="692.54" r="1.35" fill="#000"/>
<circle cx="595.7" cy="695.68" r="1.35" fill="#000"/>
<circle cx="595.7" cy="697.77" r="1.35" fill="#000"/>
<circle cx="595.7" cy="700.91" r="1.35" fill="#000"/>
<circle cx="595.7" cy="704.06" r="1.35" fill="#000"/>
<circle cx="595.7" cy="707.2" r="1.35" fill="#000"/>
<circle cx="595.7" cy="710.34" r="1.35" fill="#000"/>
<circle cx="595.7" cy="713.48" r="1.35" fill="#000"/>
<circle cx="595.7" cy="715.78" r="1.35" fill="#000"/>
<circle cx="595.7" cy="718.71" r="1.35" fill="#000"/>
<circle cx="595.7" cy="721.86" r="1.35" fill="#000"/>
<circle cx="595.7" cy="725" r="1.35" fill="#000"/>
<circle cx="595.7" cy="727.09" r="1.35" fill="#000"/>
<circle cx="595.7" cy="729.92" r="1.35" fill="#000"/>
<line x1="646.4" y1="590.56" x2="646.4" y2="714.11" stroke="#333" stroke-width="1.0" />
<line x1="638" y1="590.56" x2="654.8" y2="590.56" stroke="#333" stroke-width="1.4" />
<line x1="638" y1="714.11" x2="654.8" y2="714.11" stroke="#444" stroke-width="1.3" />
<rect x="629.6" y="600.4" width="33.7" height="40.83" fill="#7F7F7F" stroke="#1a1a1a" stroke-width="1.1"/>
<line x1="629.6" y1="612.97" x2="663.3" y2="612.97" stroke="#1a1a1a" stroke-width="1.5" />
<circle cx="646.4" cy="590.56" r="1.35" fill="#000"/>
<circle cx="646.4" cy="594.12" r="1.35" fill="#000"/>
<circle cx="646.4" cy="597.26" r="1.35" fill="#000"/>
<circle cx="646.4" cy="600.4" r="1.35" fill="#000"/>
<circle cx="646.4" cy="601.87" r="1.35" fill="#000"/>
<circle cx="646.4" cy="608.26" r="1.35" fill="#000"/>
<circle cx="646.4" cy="610.87" r="1.35" fill="#000"/>
<circle cx="646.4" cy="612.97" r="1.35" fill="#000"/>
<circle cx="646.4" cy="614.54" r="1.35" fill="#000"/>
<circle cx="646.4" cy="617.26" r="1.35" fill="#000"/>
<circle cx="646.4" cy="624.48" r="1.35" fill="#000"/>
<circle cx="646.4" cy="627.21" r="1.35" fill="#000"/>
<circle cx="646.4" cy="633.49" r="1.35" fill="#000"/>
<circle cx="646.4" cy="639.87" r="1.35" fill="#000"/>
<circle cx="646.4" cy="643.33" r="1.35" fill="#000"/>
<circle cx="646.4" cy="647.52" r="1.35" fill="#000"/>
<circle cx="646.4" cy="651.08" r="1.35" fill="#000"/>
<circle cx="646.4" cy="665.21" r="1.35" fill="#000"/>
<circle cx="646.4" cy="714.11" r="1.35" fill="#000"/>
<rect x="561.7" y="569.9" width="118.2" height="188.6" fill="none" stroke="#222" stroke-width="1.2"/>
<line x1="555.2" y1="758.5" x2="561.7" y2="758.5" stroke="#222" stroke-width="1.3" />
<line x1="555.2" y1="758.5" x2="561.7" y2="758.5" stroke="#222" stroke-width="1.2" />
<text x="553.4" y="760.8" font-family='"Liberation Sans", sans-serif' font-size="6.4" text-anchor="end" fill="#222" font-weight="bold" >0</text>
<line x1="555.2" y1="706.15" x2="561.7" y2="706.15" stroke="#222" stroke-width="1.2" />
<text x="553.4" y="708.45" font-family='"Liberation Sans", sans-serif' font-size="6.4" text-anchor="end" fill="#222" font-weight="bold" >5</text>
<line x1="555.2" y1="653.8" x2="561.7" y2="653.8" stroke="#222" stroke-width="1.2" />
<text x="553.4" y="656.1" font-family='"Liberation Sans", sans-serif' font-size="6.4" text-anchor="end" fill="#222" font-weight="bold" >10</text>
<line x1="555.2" y1="601.45" x2="561.7" y2="601.45" stroke="#222" stroke-width="1.2" />
<text x="553.4" y="603.75" font-family='"Liberation Sans", sans-serif' font-size="6.4" text-anchor="end" fill="#222" font-weight="bold" >15</text>
<line x1="595.5" y1="758.5" x2="595.5" y2="762" stroke="#222" stroke-width="1.0" />
<line x1="646.1" y1="758.5" x2="646.1" y2="762" stroke="#222" stroke-width="1.0" />
<polyline points="593.7,640.3 593.7,583.4 615.5,583.4" fill="none" stroke="#555" stroke-width="1"/>
<polyline points="624.7,583.4 646.1,583.4 646.1,587.9" fill="none" stroke="#555" stroke-width="1"/>
<line x1="620.1" y1="581.9" x2="620.1" y2="586.7" stroke="#E04848" stroke-width="1.3" stroke-linecap="round"/>
<line x1="622.18" y1="583.1" x2="618.02" y2="585.5" stroke="#E04848" stroke-width="1.3" stroke-linecap="round"/>
<line x1="622.18" y1="585.5" x2="618.02" y2="583.1" stroke="#E04848" stroke-width="1.3" stroke-linecap="round"/>
<line x1="620" y1="570.5" x2="620" y2="572.1" stroke="#E05050" stroke-width="0.8" />
<g transform="matrix(1.0780,0,0,1.0667,-48.177,-51.667)"><text x="618.4" y="774.5" font-family='"Liberation Serif", serif' font-size="7.0" text-anchor="middle" fill="#111" font-weight="normal" stroke="#111" stroke-width="0.12">OSCC</text></g>
<g transform="matrix(1.0294,0,0,0.9358,-18.151,49.342)"><text x="618.4" y="783.5" font-family='"Liberation Serif", serif' font-size="7.0" text-anchor="middle" fill="#111" font-weight="normal" stroke="#111" stroke-width="0.12">(num(T)=30; num(N)=26)</text></g>
<g transform="matrix(0.9212,0,0,0.9882,44.683,8.313)"><text x="537.5" y="665.7" font-family='"Liberation Serif", serif' font-size="8.6" text-anchor="middle" fill="#111" font-weight="normal" transform="rotate(-90 537.5 665.7)" stroke="#111" stroke-width="0.2">Expression &#8211;log<tspan font-size="70%" dy="1.8">2</tspan><tspan dy="-1.8">(TPM+1)</tspan></text></g>
<g transform="matrix(1.1125,0,0,1.0118,-61.796,-7.223)"><text x="539.9" y="577.4" font-family='"Liberation Sans", sans-serif' font-size="17" text-anchor="start" fill="#111" font-weight="normal" stroke="#111" stroke-width="0.3">b</text></g>
<line x1="259.7" y1="968.38" x2="259.7" y2="1014.7" stroke="#333" stroke-width="1.0" />
<line x1="251.3" y1="968.38" x2="268.1" y2="968.38" stroke="#333" stroke-width="1.4" />
<rect x="241.5" y="997.15" width="36.7" height="17.55" fill="#FE6565" stroke="#1a1a1a" stroke-width="1.1"/>
<line x1="241.5" y1="1007.51" x2="278.2" y2="1007.51" stroke="#6a2222" stroke-width="1.5" />
<circle cx="259.7" cy="968.38" r="1.35" fill="#000"/>
<circle cx="259.7" cy="969.44" r="1.35" fill="#000"/>
<circle cx="259.7" cy="979.38" r="1.35" fill="#000"/>
<circle cx="259.7" cy="983.19" r="1.35" fill="#000"/>
<circle cx="259.7" cy="985.51" r="1.35" fill="#000"/>
<circle cx="259.7" cy="994.82" r="1.35" fill="#000"/>
<circle cx="259.7" cy="996.72" r="1.35" fill="#000"/>
<circle cx="259.7" cy="998.84" r="1.35" fill="#000"/>
<circle cx="259.7" cy="1000.95" r="1.35" fill="#000"/>
<circle cx="259.7" cy="1003.07" r="1.35" fill="#000"/>
<circle cx="259.7" cy="1005.18" r="1.35" fill="#000"/>
<circle cx="259.7" cy="1006.66" r="1.35" fill="#000"/>
<circle cx="259.7" cy="1008.36" r="1.35" fill="#000"/>
<circle cx="259.7" cy="1010.47" r="1.35" fill="#000"/>
<circle cx="259.7" cy="1014.7" r="1.35" fill="#000"/>
<line x1="315.2" y1="857.98" x2="315.2" y2="1006.66" stroke="#333" stroke-width="1.0" />
<line x1="306.8" y1="857.98" x2="323.6" y2="857.98" stroke="#333" stroke-width="1.4" />
<line x1="306.8" y1="1006.66" x2="323.6" y2="1006.66" stroke="#444" stroke-width="1.3" />
<rect x="297" y="881.88" width="36.7" height="37.44" fill="#7F7F7F" stroke="#1a1a1a" stroke-width="1.1"/>
<line x1="297" y1="899.22" x2="333.7" y2="899.22" stroke="#1a1a1a" stroke-width="1.5" />
<circle cx="315.2" cy="857.98" r="1.35" fill="#000"/>
<circle cx="315.2" cy="860.31" r="1.35" fill="#000"/>
<circle cx="315.2" cy="861.57" r="1.35" fill="#000"/>
<circle cx="315.2" cy="867.71" r="1.35" fill="#000"/>
<circle cx="315.2" cy="873" r="1.35" fill="#000"/>
<circle cx="315.2" cy="881.67" r="1.35" fill="#000"/>
<circle cx="315.2" cy="893.93" r="1.35" fill="#000"/>
<circle cx="315.2" cy="896.26" r="1.35" fill="#000"/>
<circle cx="315.2" cy="898.38" r="1.35" fill="#000"/>
<circle cx="315.2" cy="900.49" r="1.35" fill="#000"/>
<circle cx="315.2" cy="903.24" r="1.35" fill="#000"/>
<circle cx="315.2" cy="913.81" r="1.35" fill="#000"/>
<circle cx="315.2" cy="915.51" r="1.35" fill="#000"/>
<circle cx="315.2" cy="918.68" r="1.35" fill="#000"/>
<circle cx="315.2" cy="921.64" r="1.35" fill="#000"/>
<circle cx="315.2" cy="925.45" r="1.35" fill="#000"/>
<circle cx="315.2" cy="933.91" r="1.35" fill="#000"/>
<circle cx="315.2" cy="948.5" r="1.35" fill="#000"/>
<circle cx="315.2" cy="967.32" r="1.35" fill="#000"/>
<circle cx="315.2" cy="1006.66" r="1.35" fill="#000"/>
<rect x="222.7" y="824.1" width="129.8" height="190.6" fill="none" stroke="#222" stroke-width="1.2"/>
<line x1="216.2" y1="1014.7" x2="222.7" y2="1014.7" stroke="#222" stroke-width="1.3" />
<line x1="216.2" y1="1014.7" x2="222.7" y2="1014.7" stroke="#222" stroke-width="1.2" />
<text x="214.4" y="1017" font-family='"Liberation Sans", sans-serif' font-size="6.4" text-anchor="end" fill="#222" font-weight="bold" >0</text>
<line x1="216.2" y1="972.4" x2="222.7" y2="972.4" stroke="#222" stroke-width="1.2" />
<text x="214.4" y="974.7" font-family='"Liberation Sans", sans-serif' font-size="6.4" text-anchor="end" fill="#222" font-weight="bold" >2</text>
<line x1="216.2" y1="930.1" x2="222.7" y2="930.1" stroke="#222" stroke-width="1.2" />
<text x="214.4" y="932.4" font-family='"Liberation Sans", sans-serif' font-size="6.4" text-anchor="end" fill="#222" font-weight="bold" >4</text>
<line x1="216.2" y1="887.8" x2="222.7" y2="887.8" stroke="#222" stroke-width="1.2" />
<text x="214.4" y="890.1" font-family='"Liberation Sans", sans-serif' font-size="6.4" text-anchor="end" fill="#222" font-weight="bold" >6</text>
<line x1="216.2" y1="845.5" x2="222.7" y2="845.5" stroke="#222" stroke-width="1.2" />
<text x="214.4" y="847.8" font-family='"Liberation Sans", sans-serif' font-size="6.4" text-anchor="end" fill="#222" font-weight="bold" >8</text>
<polyline points="258.8,948.7 258.8,841.3 282.5,841.3" fill="none" stroke="#555" stroke-width="1"/>
<polyline points="291.7,841.3 315.1,841.3 315.1,848.3" fill="none" stroke="#555" stroke-width="1"/>
<line x1="287.1" y1="839.7" x2="287.1" y2="844.5" stroke="#E04848" stroke-width="1.3" stroke-linecap="round"/>
<line x1="289.18" y1="840.9" x2="285.02" y2="843.3" stroke="#E04848" stroke-width="1.3" stroke-linecap="round"/>
<line x1="289.18" y1="843.3" x2="285.02" y2="840.9" stroke="#E04848" stroke-width="1.3" stroke-linecap="round"/>
<line x1="287" y1="824.7" x2="287" y2="826.3" stroke="#E05050" stroke-width="0.8" />
<g transform="matrix(1.0780,0,0,1.0667,-22.104,-68.807)"><text x="284.2" y="1031.6" font-family='"Liberation Serif", serif' font-size="7.0" text-anchor="middle" fill="#111" font-weight="normal" stroke="#111" stroke-width="0.12">OSCC</text></g>
<g transform="matrix(1.0294,0,0,0.9358,-8.342,65.809)"><text x="284.2" y="1040.2" font-family='"Liberation Serif", serif' font-size="7.0" text-anchor="middle" fill="#111" font-weight="normal" stroke="#111" stroke-width="0.12">(num(T)=30; num(N)=26)</text></g>
<g transform="matrix(0.9212,0,0,0.9904,18.119,9.273)"><text x="201.9" y="917.6" font-family='"Liberation Serif", serif' font-size="8.6" text-anchor="middle" fill="#111" font-weight="normal" transform="rotate(-90 201.9 917.6)" stroke="#111" stroke-width="0.2">Expression &#8211;log<tspan font-size="70%" dy="1.8">2</tspan><tspan dy="-1.8">(TPM+1)</tspan></text></g>
<g transform="matrix(1.1683,0,0,0.9176,-34.874,67.665)"><text x="200.5" y="826.1" font-family='"Liberation Sans", sans-serif' font-size="17" text-anchor="start" fill="#111" font-weight="normal" stroke="#111" stroke-width="0.3">b</text></g>
<g transform="matrix(0.9648,0,0,1.0057,6.280,-0.329)"><text x="190.1" y="39.9" font-family='"Liberation Serif", serif' font-size="13.0" text-anchor="start" fill="#222" font-weight="normal" >PIGR</text></g>
<g transform="matrix(0.8883,0,0,0.9412,59.659,2.459)"><text x="535.7" y="41.8" font-family='"Liberation Serif", serif' font-size="13.0" text-anchor="start" fill="#222" font-weight="bold" >PIP</text></g>
<g transform="matrix(0.9741,0,0,1.0203,4.640,-5.932)"><text x="186.8" y="293.6" font-family='"Liberation Serif", serif' font-size="13.0" text-anchor="start" fill="#222" font-weight="normal" >ADH1B</text></g>
<g transform="matrix(0.9778,0,0,0.9829,11.600,4.994)"><text x="533" y="295.6" font-family='"Liberation Serif", serif' font-size="13.0" text-anchor="start" fill="#222" font-weight="normal" >TFF3</text></g>
<g transform="matrix(0.9928,0,0,0.9714,0.740,15.696)"><text x="184.8" y="553.6" font-family='"Liberation Serif", serif' font-size="13.0" text-anchor="start" fill="#222" font-weight="normal" >CRISP3</text></g>
<g transform="matrix(0.9992,0,0,1.0000,-0.003,0.000)"><text x="524.6" y="556.8" font-family='"Liberation Serif", serif' font-size="13.0" text-anchor="start" fill="#222" font-weight="normal" >KRT4</text></g>
<g transform="matrix(1.0036,0,0,0.9486,-1.123,41.465)"><text x="184.6" y="808.1" font-family='"Liberation Serif", serif' font-size="13.0" text-anchor="start" fill="#222" font-weight="normal" >FAM3B</text></g>
<g transform="matrix(0.9240,0,0,0.9185,22.523,1.293)"><text x="302.6" y="18" font-family='"Liberation Serif", serif' font-size="18.5" text-anchor="start" fill="#1e1e1e" font-weight="normal" >Downregulated genes</text></g>
<rect x="204.6" y="1083.6" width="15.6" height="14.3" fill="#FE6565" stroke="#8a3a3a" stroke-width="0.9"/>
<rect x="278.6" y="1083.6" width="15.5" height="13.7" fill="#7F7F7F" stroke="#555" stroke-width="0.9"/>
<g transform="matrix(0.9987,0,0,1.0027,0.075,-3.099)"><text x="223.4" y="1096.2" font-family='"Liberation Serif", serif' font-size="14" text-anchor="start" fill="#1e1e1e" font-weight="normal" >Tumor</text></g>
<g transform="matrix(1.0052,0,0,1.0353,-1.741,-38.433)"><text x="298.5" y="1095.8" font-family='"Liberation Serif", serif' font-size="14" text-anchor="start" fill="#1e1e1e" font-weight="normal" >Adj.Normal</text></g>
<g transform="matrix(0.8000,0,0,0.8522,95.300,161.339)"><text x="477.7" y="1095.5" font-family='"Liberation Serif", serif' font-size="14" text-anchor="start" fill="#E02020" font-weight="normal" stroke="#E02020" stroke-width="0.6">*</text></g>
<g transform="matrix(1.0242,0,0,1.0118,-11.979,-12.346)"><text x="483.6" y="1095.3" font-family='"Liberation Serif", serif' font-size="14" text-anchor="start" fill="#1e1e1e" font-weight="normal" >p-value= &#8804;0.05</text></g>
</svg>
</body></html>
